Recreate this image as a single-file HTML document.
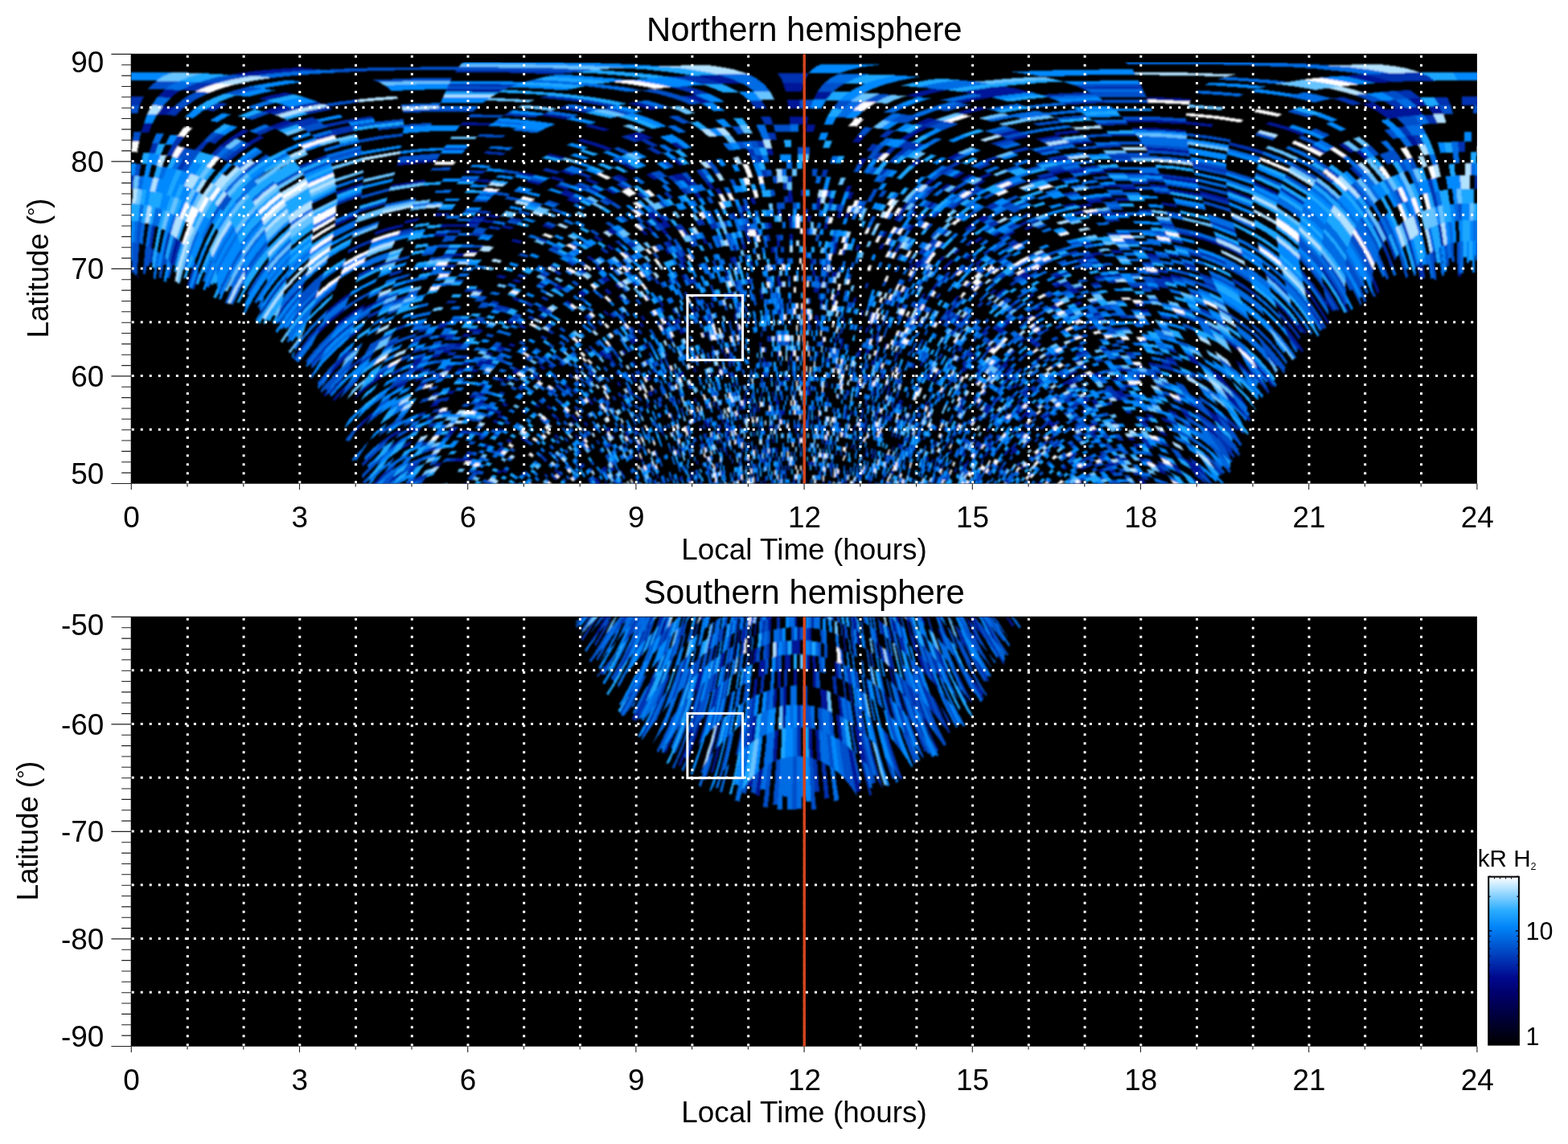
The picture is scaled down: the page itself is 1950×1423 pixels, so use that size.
<!DOCTYPE html>
<html lang="en"><head><meta charset="utf-8"><title>Northern and Southern hemisphere</title>
<style>
html,body{margin:0;padding:0;background:#fff;}
body{width:1950px;height:1423px;overflow:hidden;}
svg{display:block;}
text{font-family:'Liberation Sans', Arial, Helvetica, sans-serif;font-size:36.9px;fill:#000;}
.t{font-size:41.8px;}
</style></head><body>
<svg width="1950" height="1423" viewBox="0 0 1950 1423">
<rect width="1950" height="1423" fill="#fff"/>
<defs><filter id="bl" x="0" y="0" width="1950" height="1423" filterUnits="userSpaceOnUse"><feGaussianBlur stdDeviation="0.85"/></filter><clipPath id="c1"><rect x="163.3" y="77.4" width="1673.6" height="524.1"/></clipPath><clipPath id="c2"><rect x="163.3" y="767.4" width="1673.6" height="534.1"/></clipPath></defs>
<text class="t" x="1000.3" y="51.4" text-anchor="middle">Northern hemisphere</text>
<rect x="162.7" y="66.8" width="1674.2" height="534.9" fill="#000"/>
<g clip-path="url(#c1)"><g filter="url(#bl)" shape-rendering="crispEdges"><path fill="#001498" d="M581,604.5l3-3.5-6-.5-3.5,4zM621,589.5l3-3.5-5-2-3,3zM546.5,580.5l3.5-5.5-8,2-4,5.5zM628.5,588.5l3-3-5-2.5-2.5,3zM585.5,574.5l3-4-6.5-.5-3,4zM579,574l3-4-6.5-.5-3.5,4zM572,573.5l3.5-4-7,0-3.5,4zM496,593l5.5-8-13,8.5-7,10.5 7.5-6zM667,604.5l2.5,0-3.5-3.5-2.5,2.5zM470.5,599.5l8-12-9,8-5,5-6.5,4-3,0-.5,0 1,0 3.5,0 6,0zM606.5,557.5l3-3.5-6-1.5-3,3.5zM563,539.5l3.5-4.5-8,.5-3,4.5zM508.5,554l4.5-6.5-11.5,6-5,7zM634,551l3-3-5.5-2.5-2.5,3zM494,553l5-7-13,8-5.5,8.5zM696,593.5l2-2.5-3-4-2.5,2.5zM692.5,589.5l2.5-2.5-3.5-3.5-2.5,2zM624,537.5l2.5-3-5.5-2-2.5,3zM651.5,548.5l3-3-5-3-2.5,3zM515,533.5l4-5.5-10.5,4.5-4.5,6.5zM618.5,527l2.5-3-6-2.5-2.5,3.5zM539,522l3.5-5-9.5,2-3.5,5.5zM496.5,538.5l4.5-7-12.5,7.5-5.5,8zM624,520.5l2.5-3-5.5-2-3,3zM621,515.5l3-3.5-6-2-3,3zM615,513l3-3-6.5-2-3,3.5zM608.5,511.5l3-3.5-6-1.5-3,3zM716,589l2-2-3-4-2,2zM544,504.5l3.5-5-9.5,2-3.5,5zM601.5,501.5l3-3.5-7-1.5-3,3.5zM629.5,506l2.5-3-5.5-2.5-3,3zM590.5,495.5l3-4-7-1-3,4zM693,546.5l2.5-2.5-4-4-2.5,2.5zM600.5,493l3-3.5-7-1.5-3,3.5zM562.5,490l3.5-4-8.5,0-3.5,4.5zM740.5,602l2.5-2-2.5-4.5-2.5,2zM745,604.5l2.5-1.5-2.5-4.5-2,1.5zM743,600l2-1.5-2.5-4.5-2,1.5zM735,587l2.5-2-3-4.5-2,2zM602.5,481l3-3-7-1.5-3,3.5zM462,518.5l5.5-9-8.5,7-9.5,8.5-8,12.5 11-11zM669,507.5l3-2.5-5-3.5-2.5,2.5zM529.5,479l3.5-5-10.5,3-3.5,5zM693.5,523.5l2.5-2-4-4-2.5,2zM754,604.5l2-1.5-2-4.5-2.5,1.5zM718,546l2.5-1.5-3.5-4.5-2.5,2zM683.5,509.5l2.5-2-4.5-4-2.5,2.5zM624.5,475l3-3-6.5-2-3,3zM526,472l3.5-5-11,3-3.5,5zM503.5,480l3.5-6-12,5.5-4,6.5zM727,553l2-2-3-4-2.5,1.5zM634,474.5l2.5-3-6-2.5-3,3zM592,463.5l3-3.5-7.5-1.5-3,4zM576,462l3-4-8.5,0-3,4zM751,587.5l2.5-1.5-2.5-5-2.5,2zM712.5,529.5l2.5-2-3.5-4-2.5,2zM562,458l3-4-9.5,.5-3,4zM753.5,586l2-1.5-2.5-5-2,1.5zM598,456.5l3-3.5-7.5-1.5-3,3.5zM582,454.5l3-4-8-.5-3,4zM525.5,460l3.5-5-11,3-3.5,5zM730.5,543l2.5-1.5-3-4.5-2.5,1.5zM717.5,525.5l2-2-3.5-4.5-2.5,2zM713.5,521l2.5-2-3.5-4-2.5,2zM642,466l3-3-6-2.5-3,2.5zM608.5,454.5l3-3.5-7.5-1.5-3,3.5zM601,453l3-3.5-7.5-1.5-3,3.5zM645,463l3-2.5-6.5-3-2.5,3zM611.5,451l3-3-7.5-2-3,3.5zM521.5,453l3-5-11,3.5-3.5,5.5zM762,586l2.5-1.5-2.5-5-2,1.5zM729,530.5l2.5-2-3.5-4.5-2.5,2zM670.5,473.5l2.5-2.5-5-3.5-3,2.5zM665,470l3-2.5-6-3.5-2.5,2.5zM546,444l3-4.5-10.5,1.5-3,4.5zM524.5,448l3.5-4.5-11.5,3-3,5zM474.5,470l4-6.5-15,9.5-4.5,7.5zM459,480.5l4.5-7.5-8,6-9,7.5-6,10 10-9zM773,603.5l2-1.5-2-4.5-2,1zM610,443l3-3.5-8-1.5-3,3zM558.5,438.5l3.5-4-10,.5-3,4.5zM740,536l2.5-2-3-4.5-2.5,2zM552,435l3-4-10,1-3,4.5zM773,591l2-1.5-2-4.5-2,1zM574,430.5l3-3.5-9-.5-3,4zM705,483.5l2.5-2-4.5-4.5-2.5,2.5zM676,460l2.5-2.5-5.5-3.5-2.5,2.5zM626,435.5l3-3-7.5-2.5-3,3zM428.5,485l6-10.5-11,11-6.5,7.5-3,3.5 1.5,3 .5-.5 6.5-7.5zM755,538.5l2.5-1.5-3-4.5-2,1.5zM639,432l2.5-3-7-2.5-3,3zM583,419.5l3-3.5-9-1-3,4zM554.5,419.5l3-4-10.5,1-3,4zM763,546.5l2-1.5-2.5-4.5-2.5,1.5zM757.5,537l2-1.5-2.5-5-2.5,2zM735.5,504l2.5-1.5-3.5-5-2.5,2zM598,413.5l3-3.5-9-1.5-3,3.5zM589,412l3-3.5-9-.5-3,3.5zM424.5,475l5.5-10-21.5,23.5 2,2.5 1-1.5 7-8zM774.5,558.5l2.5-1.5-2.5-5-2,1.5zM699.5,456l2.5-2-4.5-4-3,2zM553,408l3-4-11,1-3,4.5zM404.5,493.5l8.5-15-7.5,8.5-3,4.5 1.5,2.5zM720.5,471l2.5-1.5-4.5-4.5-2.5,2zM757.5,510l2.5-2-3-4.5-2.5,1.5zM751,500l2.5-1.5-3-5-2.5,2zM792,572.5l2-1-2-5-2,1zM779,542.5l2-1-2.5-5-2,1.5zM736,474.5l2.5-1.5-4-5-2.5,2zM652,409.5l2.5-3-7-3-3,3zM637,403.5l3-3-8-2.5-2.5,3zM429.5,447l4.5-8-9.5,8.5-11.5,11.5-6,12 12-13.5zM805.5,601.5l2-1-2-5-2,1zM798.5,575l2-1-2-5-2,1zM794.5,565l2-1-2-5-2,1zM737,466.5l3-2-4-4.5-3,1.5zM790,536l2-1.5-2-5-2.5,1.5zM777.5,510.5l2-1.5-2.5-5-2.5,1.5zM686,407l3-2-6.5-4-2.5,2.5zM810.5,580.5l2-1-2-5-2,1zM676,397l3-2.5-7-3.5-3,2.5zM817.5,595l2-1-1.5-5.5-2,1zM770,481l2.5-1.5-3-5.5-2.5,2zM644.5,375l3-3-8-2.5-3,2.5zM747.5,444l2.5-1.5-4-5-2.5,2zM678,386l3-2.5-7-4-3,2.5zM805.5,540l2-1.5-2-5-2,1zM781,488l2.5-1.5-3-5-2.5,1.5zM768.5,467.5l2.5-1.5-3.5-5-2.5,1.5zM754,447.5l2.5-2-3.5-5-3,2zM750,442.5l3-2-4.5-5-2.5,2zM464.5,380.5l3-5.5-16.5,8.5-2.5,6zM786,492l2.5-1.5-3-5-2,1zM760.5,450.5l2.5-1.5-3.5-5-3,1.5zM451,383.5l3-5.5-16,10-17.5,13-3.5,7.5 18-14zM759.5,444l2.5-1.5-4-5-2.5,1.5zM645.5,352l3-2.5-9-3-3,3zM627,347l3-3.5-10.5-2-3,3zM427,387.5l2.5-6.5-15.5,12-8,7.5-9,9-4,9 9.5-10 8.5-8zM805.5,507.5l2.5-1-2.5-5.5-2,1.5zM790,476l2.5-1.5-2.5-5.5-2.5,1.5zM732,399l3-2-5.5-5-3,2zM709,380l3-2-6.5-4.5-3,2.5zM818.5,533l2.5-1-2-5.5-2.5,1zM677,357l3-2.5-8-4-3,2.5zM539,334.5l2.5-4-14,2-2.5,4.5zM824.5,542.5l2-1-1.5-5.5-2.5,1zM776,441.5l3-1.5-3.5-5.5-3,1.5zM695,362.5l3-2.5-7-4-3,2.5zM435,368.5l2.5-6-15,10.5-15.5,13-3,7 16-13.5zM808,493.5l2.5-1.5-2.5-5.5-2.5,1.5zM789,456l2.5-1.5-3.5-5.5-2.5,1.5zM698,360l3.5-2-7.5-4.5-3,2.5zM845.5,598.5l2-.5-1-5.5-2,1zM821.5,519l2-1-2-5.5-2,1zM810.5,492l2-1-2-5.5-2.5,1zM805,474.5l2.5-1-2.5-5.5-2.5,1zM784,437l3-1.5-3.5-5.5-3,1.5zM724,369.5l3-2-6-5-3,2.5zM576.5,318.5l3-4-13,0-3,4zM841.5,565l2-.5-1.5-5.5-2,1zM807.5,473.5l2.5-1.5-2.5-5.5-2.5,1.5zM754.5,392.5l3-1.5-5-5-3,1.5zM727,367.5l3.5-2-6.5-5-3,2zM592.5,315.5l3-3.5-13-1-3,3.5zM786,428.5l2.5-1.5-3.5-5.5-2.5,1.5zM762,396l3-1.5-5-5-2.5,1.5zM788.5,427l3-1.5-3.5-5.5-3,1.5zM691,335.5l3.5-2.5-8.5-4-3,2.5zM812.5,464.5l2.5-1.5-2.5-5.5-2.5,1.5zM858.5,599l2-1-1-5-2,.5zM775,396.5l3-1.5-4.5-5.5-3,2zM859.5,593l2-1-1.5-5-2,.5zM803.5,434l2.5-1.5-3-5.5-3,1.5zM843,522l2-1-1.5-5.5-2.5,1zM835.5,499.5l2.5-1-2-5.5-2.5,1zM757,366.5l3.5-2-5.5-5.5-3.5,2zM727,340.5l3-2-7-5-3.5,2zM646.5,303l3.5-3-11.5-3-3,3zM554,293.5l3-4-16,1-2.5,4zM825,465l2.5-1-2.5-5.5-2.5,1zM868.5,604.5l2,0-1-4-2,1zM834,481l2.5-1-2-5.5-2.5,1zM798,407.5l3-1.5-3.5-5.5-3,1.5zM773.5,374l3-2-5-5.5-3,2zM752.5,352l3-2-6-5-3,1.5zM868.5,595l2-.5-1.5-5.5-2,1zM855.5,541l2.5-1-1.5-5.5-2.5,1zM755.5,350l3.5-1.5-6-5.5-3.5,2zM577.5,282l3-3.5-15.5,0-3,3.5zM562,282l3-3.5-16,.5-2.5,4zM377,357l2-6.5-15,16-8.5,9.5-8.5,12-3.5,10.5 9.5-13.5 8.5-11zM871.5,600l1.5-1-1-5-1.5,.5zM867,578.5l2-1-1.5-5.5-2,1zM858,540l2-.5-1.5-5.5-2,.5zM832.5,462l2.5-1-2.5-6-2.5,1.5zM800,399l3-1.5-3.5-5.5-3,1.5zM769.5,359.5l3.5-2-5.5-5.5-3,2zM746.5,337.5l3.5-2-6.5-5-3.5,2zM636,285.5l3.5-3-13-2.5-3.5,3zM595.5,279.5l3-3.5-15-1-3,3.5zM827.5,443.5l2.5-1-2.5-5.5-2.5,1zM736.5,325l3.5-2-7.5-5-3.5,2zM613,277.5l3-3-14.5-1.5-3,3zM500,282.5l2-4-17.5,4-17.5,5.5-1.5,4.5 17.5-5.5zM865,549.5l2-.5-1.5-5.5-2,.5zM601.5,273l3-3.5-15-1-3,3.5zM519.5,275l2.5-4-18,3.5-2,4zM844,470.5l2.5-1-2-6-2.5,1zM619,271.5l3.5-3-14.5-2-3.5,3zM556.5,268l3-3.5-17.5,1-2.5,3.5zM862,520.5l2.5-1-1.5-5.5-2.5,.5zM846.5,469.5l2.5-1-2-6-2.5,1zM685.5,285l3.5-2.5-11.5-4.5-3.5,3zM872.5,553l2-1-1.5-5.5-2,1zM849,468.5l2.5-1-2-6-2.5,1zM827.5,416l2.5-1-3-6-2.5,1zM870.5,535.5l2.5-.5-1.5-6-2,1zM864.5,501l2-1-1.5-5.5-2.5,1zM830,408l3-1.5-3-6-3,1.5zM879.5,556.5l2-1-1-5.5-2,1zM761,311.5l3.5-1.5-7-6-3.5,2zM746,300.5l4-2-8-5.5-4,2zM876,528l2-1-1.5-5.5-2,.5zM823,381.5l3-1-3.5-6.5-3,1.5zM444.5,269l1-4.5-29,13-1,4.5zM884,555l2-.5-1.5-5.5-2,.5zM879,532.5l2.5-.5-1.5-5.5-2,.5zM878,527l2-.5-1-6-2.5,1zM838.5,404.5l2.5-1-2.5-6-3,1zM881.5,532l2-.5-1-6-2.5,1zM863.5,463l2.5-.5-1.5-6-2.5,.5zM846.5,415.5l3-1-3-6-2.5,1zM841,403.5l3-1-2.5-6-3,1zM882.5,525.5l2-.5-1.5-5.5-2,.5zM849.5,414.5l2.5-1-2.5-6-3,1zM761,292.5l4-1.5-8-6-3.5,2zM765,291l4-2-8-6-4,2zM892,552.5l2-.5-1-5.5-2,.5zM855,405.5l3-1-2.5-6-3,1zM716.5,253.5l4.5-2.5-12.5-5-4,2.5zM610,227l3.5-3-19.5-1.5-3.5,3.5zM527.5,227.5l2-4-42.5,6.5-1.5,3.5zM708.5,246l4.5-2.5-13.5-5-4,2.5zM895,534l2.5-.5-1-6-2.5,.5zM713,243.5l4-2.5-13-5-4.5,2.5zM670,230l4.5-3-17-3.5-4,2.5zM903,567l2-.5-1-5.5-2,.5zM902,561.5l2-.5-1-5.5-2,.5zM892,504.5l2-.5-1-5.5-2.5,.5zM884,469.5l2.5-.5-1.5-6-2.5,.5zM704,236l4.5-2.5-14.5-4.5-4,2.5zM451,231l.5-4-33.5,11.5 .5,4.5zM902.5,549.5l2-.5-1-5.5-2,.5zM898.5,527l2-.5-1-5.5-2,.5zM897.5,521.5l2-.5-1-6-2,.5zM861.5,389.5l3-1-2.5-6.5-3,1zM802,293l4-1.5-6-6.5-4,1.5zM661.5,220.5l4.5-3-18.5-3.5-4,3zM911.5,599l1.5-.5-.5-5.5-2,.5zM903.5,543.5l2-.5-1-5.5-2,.5zM875.5,419.5l3-.5-2-6-3,.5zM698.5,226l4.5-2.5-15.5-4.5-4.5,2.5zM905.5,543l2-.5-1-5.5-2,.5zM904.5,537.5l2-.5-.5-6-2.5,.5zM902.5,526l2.5-.5-1-6-2,.5zM885.5,443.5l2.5-.5-2-6.5-2.5,1zM850.5,349l3.5-1-3.5-6.5-3.5,1zM831,316.5l3.5-1.5-4.5-6.5-3.5,1.5zM810,290l4-1.5-6-6.5-4,1.5zM743,240l4.5-2.5-12-5.5-5,2zM906,531l2-.5-1-5.5-2,.5zM893.5,467l2.5-.5-1.5-6-2,.5zM886,436.5l3-.5-2-6-2.5,.5zM881,418l2.5-.5-1.5-6.5-3,1zM875,399.5l3-1-2.5-6-2.5,.5zM865.5,374l3-1-2.5-6.5-3,1zM808,282l4-1.5-6.5-6.5-4,1.5zM542,201.5l2-3.5-25,1.5-24.5,3.5-1,3.5 24-3zM894.5,460.5l2.5-1-1-6-2.5,1zM850.5,334l3.5-1-4-7-3.5,1.5zM842.5,320.5l3.5-1-4-6.5-3.5,1zM834,307.5l3.5-1.5-4.5-6.5-4,1zM763,241.5l5-2-11-6-5,2zM740,229.5l5-2-13.5-6-4.5,2.5zM712.5,218.5l4.5-2.5-16-5-4.5,2.5zM850,326l3.5-1-3.5-6.5-4,1zM827.5,292.5l4-1-5-7-4.5,1.5zM816,279l4.5-1.5-6.5-6.5-4.5,1.5zM809.5,272.5l4.5-1.5-7-7-4.5,2zM919,580.5l2-.5-1-5.5-2,.5zM905.5,489l2.5-.5-1-6-2.5,.5zM826.5,284.5l4-1.5-6-6.5-4,1zM814,271l4.5-1.5-7-7-4.5,1.5zM912.5,517.5l2.5-.5-1-5.5-2.5,.5zM898,440l2.5-.5-1-6-3,.5zM830.5,283l4-1-5.5-7-4.5,1.5zM824.5,276.5l4.5-1.5-6.5-7-4,1.5zM915.5,523l2.5-.5-1-5.5-2,0zM907,470l2.5-.5-1.5-6-2,.5zM902,446l2.5-1-1.5-6-2.5,.5zM698.5,198.5l5-2.5-20-5-5,3zM919.5,534l2-.5-1-5.5-2,.5zM911.5,481.5l2.5-.5-1-6-2.5,.5zM776.5,225.5l5.5-1.5-11.5-7-5.5,2zM915.5,493l2.5-.5-1-6-2,.5zM911.5,469l2.5-.5-1-6-2.5,.5zM920.5,510l2.5-.5-1-5.5-2.5,0zM911,450.5l2.5-.5-1.5-6.5-2.5,.5zM930.5,578l2-.5-.5-5.5-2,.5zM924.5,521.5l2-.5-1-6-2,.5zM923,509.5l2-.5-1-5.5-2,.5zM787,211.5l5.5-2-12.5-7-6,2zM935.5,588.5l2-.5-.5-5.5-2,.5zM925.5,497l2.5-.5-1-5.5-2,0zM876.5,303.5l3.5-1-3.5-7-4,1zM813.5,224l5.5-1.5-10-7.5-5.5,2zM756,187.5l6.5-2.5-18.5-6.5-6,2.5zM738,181l6-2.5-20.5-6-6.5,2.5zM940,599l2-.5-.5-5.5-2,.5zM918,416.5l2.5-.5-1-6.5-3,.5zM914,397l3-.5-1.5-6.5-3,.5zM902,350.5l3.5-.5-2-7-3.5,1zM608.5,156.5l4.5-3.5-37.5-1-3,3.5zM931,484l2.5-.5-1-6-2.5,.5zM911,370.5l3-.5-1.5-7-3.5,.5zM903.5,343l3.5-.5-2.5-7-3.5,1zM936,507.5l2-.5-.5-6-2,.5zM844,225.5l5.5-1-8-8-6,1.5zM944,570.5l2-.5-.5-5.5-2,0zM914,356l3-1-1.5-6.5-3.5,.5zM868.5,247.5l5-1-5.5-8-5.5,1.5zM856.5,232l5.5-1-7-8-5.5,1.5zM849.5,224.5l5.5-1.5-7.5-7.5-6,1zM921.5,375.5l3-.5-1-6.5-3.5,.5zM909.5,327.5l3.5-.5-2-7-3.5,.5zM751,163l7.5-2-24.5-6.5-7.5,2.5zM950,603l2,0-.5-5.5-2,0zM943,512.5l2.5-.5-.5-6-2.5,.5zM845,206l6-1-9-8-6.5,1.5zM797,175l7-1.5-17-7.5-7.5,2zM705,148.5l7.5-2.5-16.5-3-18.5-2-6.5,2.5 17.5,2.5zM951.5,597.5l2,0-.5-6-2,.5zM950,575l2,0-.5-5.5-2,0zM912.5,312l4-.5-2-7.5-4,1zM804,173.5l8-2-17-7.5-8,2zM946,494l2.5,0-.5-6-2.5,0zM883.5,235.5l5.5-.5-5-8-5.5,1zM328.5,171l-5.5-2.5-16.5,9.5 5.5,2.5zM953.5,563.5l2,0-.5-6-2,.5zM930,353.5l3.5-.5-1.5-7-3,.5zM893.5,242.5l5.5-.5-4.5-8-5.5,1zM845.5,186l7-1-11-8.5-8,1.5zM363.5,152l-6.5-3-21.5,8 6.5,3zM223,299l-3.5-3-4,14-4,17 3,4 4.5-18zM945,432l2.5,0-.5-6.5-3,.5zM924,310.5l4-.5-2-7.5-4,.5zM957.5,563l2,0-.5-5.5-2,0zM955.5,534.5l2,0 0-6-2,0zM949.5,450.5l2.5,0-1-6.5-2.5,.5zM932.5,331.5l4-.5-1.5-7-4,.5zM310,163l-7-2.5-15.5,10 6.5,2zM294,172.5l-6.5-2-14,10.5 6.5,2zM961,602l2,0-.5-5.5-1.5,0zM959.5,563l2,0-.5-6-2,.5zM957.5,534.5l2.5-.5-.5-5.5-2,0zM956,505l2,0 0-6-2.5,0zM960.5,551.5l2-.5 0-5.5-2,0zM960,534l2,0-.5-6-2,.5zM946,372.5l3.5-.5-1-7-3,.5zM923.5,263.5l5-.5-2.5-8-5,1zM620.5,115l6.5-3.5-35-.5-36.5-.5-1.5,3.5zM361.5,133.5l-8.5-3-14,4-12.5,4 8.5,2.5zM963.5,574l2,0 0-6-2,.5zM963.5,562.5l1.5,0 0-5.5-2,0zM960.5,510.5l2.5,0-.5-6-2,0zM959.5,492.5l2.5,0-.5-6-2,0zM953,405.5l2.5-.5-.5-6.5-2.5,.5zM809,137l11.5-2-13.5-4.5-15-4-12,2.5 15.5,3.5zM965,562.5l2,0 0-6-2,.5zM957.5,424.5l2.5,0-.5-6.5-2.5,0zM940.5,293.5l4-.5-1.5-7.5-4,.5zM968.5,601.5l2,0 0-5.5-2,0zM968,579.5l2-.5-.5-5.5-2,0zM966,533.5l2,0 0-6-2,.5zM965,504.5l2-.5 0-6-2.5,.5zM964,486.5l2-.5 0-6-2.5,.5zM935.5,254l5,0-2-8.5-5.5,.5zM367,117.5l-12-2.5-18,3.5-16,4.5 11.5,2 16-3.5zM970.5,604.5l2,0 0-3-2,0zM967,504l2,0 0-6-2,0zM962.5,424l3,0-.5-6.5-2.5,0zM968.5,486l2.5,0-.5-6-2,0zM968,474l2.5,0-.5-6.5-2.5,.5zM966.5,443l2.5,0-.5-6.5-2.5,0zM972,516l2-.5 0-5.5-2.5,0zM959.5,314.5l4-.5-1-7-3.5,0zM956,284.5l4-.5-1-7.5-4.5,0zM872,129l14-1.5-9.5-4.5-11.5-5-16.5,1.5 13,4.5zM976,590l1.5,0 0-5.5-2,0zM974,515.5l2,0 0-6-2,.5zM969,391l3,0-.5-7-3,.5zM967,357l3,0 0-7-3.5,0zM966.5,350l3.5,0-.5-7-3.5,0zM173.5,345l-3-2-.5,2zM977,562l2,0 0-6-2,0zM975,473.5l2.5,0 0-6-2.5,0zM966.5,306.5l4,0-.5-7.5-4,0zM977.5,473.5l2.5,0-.5-6-2,0zM954.5,192.5l7.5,0-2-9-8,0zM402.5,87l-14.5-1.5-16.5-1.5-15,1-13.5,1-12,1-11,1-19,2.5-15.5,2.5 28.5,1.5 17-2 20-2 23.5-2zM216,133l-13.5-1-7.5,10.5 12,.5zM981.5,604.5l2,0 0-3.5-2,0zM979.5,455l2.5,0 0-6.5-2.5,0zM898,104.5l24.5-1-12-5.5-8-2.5-9.5-3-32.5,1.5 12,2.5 10,2.5 8.5,2.5zM225.5,112l-20-1-10,10 16.5,1 6-5zM189.5,153.5l-10.5-.5-3.5,11.5 9.5,.5zM982.5,509.5l2.5,0 0-6-2.5,0zM985.5,601l1.5,0 0-5.5-1.5,0zM984.5,442.5l2.5,0 0-6.5-3,0zM982,298.5l4,0 0-7.5-4,0zM981.5,275.5l4.5,0-.5-7.5-4.5,0zM980.5,252l5,0 0-8.5-5.5,0zM980,243.5l5.5,0-.5-8-5.5,0zM982.5,154.5l10.5,0 .5-10-12,0zM980.5,134.5l14,0 1-10.5-16.5,0zM977,113.5l20,0 3-11-26.5,0zM989,538.5l2,.5 .5-6-2.5,0zM989,533l2.5,0 0-6-2.5,0zM993,154.5l10.5,0 2-10-12,0zM992.5,404l2.5,0 .5-7-3,0zM1002,164l9.5,.5 2.5-10-10.5,0zM1011.5,124l16,.5 9-10.5-19.5-.5zM1789.5,131l-14,1 7,10.5 12.5-1zM1816.5,339.5l-3.5,.5 .5,3.5 3,0 0-.5zM1003.5,276l4.5,0 1-8-5,0zM1694.5,92.5l-29,2 13,2 11.5,2.5 10.5,2.5 8.5,2 23.5-1.5-16-4.5-10-2.5zM1766.5,121.5l-16,1.5 11.5,9.5 13.5-.5zM997.5,539l2,0 0-6-2,0zM998.5,479.5l2.5,0 0-6-2,0zM1762,132.5l-13.5,1.5 10.5,10 11.5-1zM998.5,601l2,0 0-5.5-2,0zM999.5,539l2,0 .5-6-2.5,0zM1000,527.5l2,0 0-6-2,0zM1001,486l2,0 .5-6-2.5-.5zM1008,328.5l3.5,0 .5-7-3.5,0zM1014.5,260.5l4.5,0 1.5-8-5,0zM1015.5,252.5l5,0 1.5-8-5,0zM1748.5,134l-12.5,1 12,10 11-1zM1010,343l3.5,0 .5-7-3.5,0zM1736,135l-12,1.5 13,10 11-1.5zM1005,492l2.5,0 0-6-2,0zM1012,364l3,0 .5-6.5-3-.5zM1126,119.5l15.5,1.5 16-4.5 20-4.5-17.5-2-19,4.5zM1707,127l-13,2 18,9 12-1.5zM1724,136.5l-12,1.5 14.5,10 10.5-1.5zM1756.5,168.5l-8.5,1.5 8.5,11.5 7.5-1zM1004,604.5l1.5,0 .5-3-2,0zM1004.5,579l2,0 0-5.5-2,0zM1012.5,398l3,0 .5-6.5-3,0zM1015,364l3,.5 1-7-3.5,0zM1016.5,350.5l3,0 1-7-3.5,0zM1024.5,284.5l4,.5 1.5-7.5-4-.5zM1030.5,253.5l5,.5 2-8.5-5,0zM1060.5,176.5l8,1 7.5-9-9-1zM1008.5,527.5l2,.5 0-6-2,0zM1010,486l2.5,.5 0-6-2-.5zM1015.5,398l2.5,.5 .5-7-2.5,0zM1193,114l15,2.5 24-3.5 29-3.5-14-2.5-15.5,1.5-14,2zM1008.5,579l2,.5 0-5.5-2-.5zM1020,378.5l3,0 1-6.5-3.5-.5zM1024.5,337l3.5,0 1-7-3.5-.5zM1208,116.5l13.5,2.5 24-3.5 27.5-3-12-3-29,3.5zM1010.5,579.5l2,0 0-5.5-2,0zM1027,344l3.5,.5 1-7-3.5-.5zM1034,301l4,0 1.5-7.5-4,0zM1041,270.5l4.5,.5 2-8-4.5-.5zM1050.5,238.5l5.5,.5 3.5-8-5.5-.5zM1066,205l6.5,1 5.5-8.5-7-1zM1183,126.5l12.5,2 17.5-4 20.5-3.5-12-2-20.5,3.5zM1221.5,119l12,2 24-3 27-3-11.5-2.5-27.5,3zM1035,316l4,0 1.5-7-4-.5zM1036.5,308.5l4,.5 1.5-7.5-4-.5zM1053,247l5,1 3.5-8.5-5.5-.5zM1016.5,528.5l2.5,0 0-6-2,0zM1034,345l3.5,0 1-7-3.5-.5zM1050,271.5l4.5,.5 2.5-8-4.5-.5zM1136.5,155l9.5,1.5 18.5-8-10-2zM1018.5,534.5l2,0 .5-6-2,0zM1037.5,345l3,.5 1.5-7-3.5-.5zM1118.5,173.5l8,1.5 13-8.5-8.5-1.5zM1131,165l8.5,1.5 15.5-8-9-2zM1188,140.5l10,2 14-3.5 16-3.5-10.5-2.5-15.5,3.5zM1425.5,120.5l1.5,3.5 53,2.5 1.5-3.5zM1026.5,481.5l2.5,.5 .5-6.5-2.5,0zM1040.5,366.5l3,.5 1-7-3-.5zM1691,185.5l-5.5,2.5 12.5,11 5.5-2.5zM1024,546.5l2,0 .5-5.5-2-.5zM1671,177.5l-6,2.5 15,10.5 5.5-2.5zM1037.5,426.5l2.5,0 1-6-3-.5zM1063.5,312l3.5,.5 2.5-7-4-1zM1578.5,151.5l-4.5,3 24,6.5 21,7.5 5-3-21.5-7.5zM1029.5,553l2.5,0 0-5.5-2-.5zM1046.5,401.5l3,.5 1-6.5-2.5-.5zM1038.5,483l2,.5 1-6.5-2.5,0zM1044.5,433.5l2.5,.5 1-6-2.5-.5zM1045.5,427.5l2.5,.5 1-6.5-2.5-.5zM1031.5,581.5l2,.5 .5-6-2,0zM1034,553.5l2,0 .5-5.5-2-.5zM1033.5,582l2,0 .5-5.5-2-.5zM1060.5,376.5l3,.5 2-6.5-3.5-1zM1239,167.5l7,2.5 24-5.5-6.5-3zM1397.5,148.5l3,3 37,1 37.5,2 0-3.5-39-2zM1475,151l0,3.5 32,3.5 1.5-3.5zM1177.5,197l6.5,2 13.5-7.5-6.5-1.5zM1042,531.5l2,0 1-5.5-2.5-.5zM1095.5,294.5l4,1 3.5-7-4-1zM1252.5,172.5l6,2.5 24-5.5-6.5-2.5zM1092.5,309.5l4,1 3.5-7-4-1zM1111.5,274l4.5,1 5-7.5-4.5-1zM1121.5,259l4.5,1.5 6-7.5-4.5-1zM1148.5,229.5l5,1.5 9-7-5.5-2zM1309,165l5.5,3 29-3-4.5-3.5zM1406.5,158.5l2.5,3.5 33,1 33.5,2.5-.5-3.5-34.5-2.5zM1069.5,392l3,.5 1.5-6.5-3-.5zM1288,172.5l5.5,2.5 26-4-5-3zM1042.5,589l2,0 .5-5.5-2,0zM1050,521l2,.5 .5-6-2-.5zM1050.5,515l2,.5 1-6-2-.5zM1129.5,270l4.5,1 6-7-4.5-1.5zM1183.5,220l5,2 11.5-7-5.5-2zM1066.5,444l2.5,.5 1.5-6-2.5-.5zM1068,438l2.5,.5 1-6.5-2.5-.5zM1169,235.5l5,1.5 9.5-6.5-5-2zM1329.5,177l4.5,3 26.5-2.5-4-3zM1047,604.5l2,0 .5-3.5-2,0zM1057,516.5l2.5,0 .5-5.5-2-.5zM1061.5,487l2.5,.5 1-6-2.5-.5zM1076,413.5l3,.5 1.5-6.5-3-.5zM1128,286.5l4,1 5.5-7-4.5-1zM1151,258l4.5,1.5 7-7-4.5-1.5zM1194,223.5l5,2 12-6.5-5.5-2zM1066,475.5l2,.5 1.5-6-2.5-.5zM1080.5,407.5l2.5,1 2-6.5-3-.5zM1143,273.5l4,1.5 6.5-7-4.5-1.5zM1179,239l5,1.5 9.5-6.5-5-2zM1065,494l2.5,.5 1-6-2.5-.5zM1070.5,464l2.5,.5 1-6-2.5-.5zM1075.5,439.5l2.5,.5 1.5-6-2.5-.5zM1216,221l5,2 13.5-6-5.5-2zM1423.5,183l2.5,4 26.5,1.5 27,2.5-1-3.5-27.5-3zM1707,342l-.5,7 4,10 2,5.5 3-1.5 0-.5-4.5-11.5zM1058,557.5l2,.5 1-5.5-2-.5zM1060.5,540.5l2,.5 .5-5.5-2-.5zM1061,535l2,.5 1-6-2-.5zM1078,440l2.5,1 1.5-6.5-2.5-.5zM1209.5,229.5l5,2 11.5-6.5-5-2zM1061.5,546.5l2,.5 1-5.5-2-.5zM1089,409.5l2.5,1 2-6.5-3-.5zM1307,199l4.5,3 20.5-3.5-4-3zM1088,423l2.5,.5 2-6-2.5-1zM1189,252.5l4.5,1.5 9.5-6.5-4.5-1.5zM1069,525l2.5,.5 1-6-2.5-.5zM1083,454l2.5,1 1.5-6-2.5-1zM1085.5,455l2.5,.5 1.5-6-2.5-.5zM1110.5,374l3,1 3-6.5-3-1zM1129.5,335l3,1 4-6.5-3.5-1zM1559.5,226l-.5,4 31,14.5 .5-4zM1076.5,508.5l2.5,.5 1-5.5-2.5-.5zM1082.5,479.5l2,.5 1.5-6-2.5-.5zM1102,406.5l2.5,.5 2.5-6-3-1zM1136.5,329.5l3.5,1 4-6.5-3.5-1zM1306,214.5l4,3 18.5-4-4-2.5zM1073.5,538l2.5,.5 1-6-2.5-.5zM1074.5,532l2.5,.5 1-5.5-2.5-.5zM1086,474l2.5,.5 1.5-5.5-2.5-1zM1114,382l3,1 3-6.5-3-1zM1140,330.5l3.5,1.5 4.5-6.5-4-1.5zM1293,221.5l4.5,2.5 17-4-4.5-2.5zM1328.5,213.5l4,3 19.5-2.5-4-3zM1369,209l3.5,3 22-1-3-3.5zM1084.5,492.5l2.5,.5 1-6-2-.5zM1093,457l2.5,.5 1.5-6-2.5-.5zM1099.5,432.5l2.5,1 2-6-2.5-1zM1352,214l3.5,3 20.5-1.5-3.5-3.5zM1088,487l2.5,1 1.5-6-2.5-.5zM1419.5,214.5l2.5,3.5 22.5,1.5-2-3.5zM1075.5,567.5l2,.5 1-5.5-2-.5zM1444.5,219.5l2,3.5 43,6.5-1-4zM1526,234.5l.5,4 31.5,12 0-4zM1086.5,517.5l2,.5 1.5-5.5-2.5-1zM1199.5,285l3.5,2 8-6-4-2zM1215,273l4,2 9-5.5-4-2zM1088.5,518l2.5,.5 1-5.5-2-.5zM1166.5,324l3.5,1.5 5.5-6-3.5-1.5zM1219,275l4.5,2 8.5-5.5-4-2zM1114.5,430.5l3,1 2-6-2.5-1zM1117,424.5l2.5,1 2.5-6-3-1zM1126.5,400.5l3,1 2.5-6.5-3-1zM1369.5,230l3,3.5 19-1-3-3.5zM1429.5,229l2,3.5 21,2-2-4zM1492,237l1,4 35.5,10-1-4zM1083.5,569.5l2,1 1-6-2-.5zM1113,443.5l3,1 2-6-3-1zM1144.5,370.5l3,1 3.5-6-3-1zM1184.5,314.5l3.5,2 6-6-3.5-2zM1391.5,232.5l3,3 19.5,0-2.5-3.5zM1452.5,234.5l2,4 40,7-1.5-4.5zM1643,331.5l.5,6 7.5,11 8.5,12.5 4.5,7.5 5,9 5.5,11 .5,1 2.5-2-5-10.5-5-9.5-9-14.5-8-11.5zM1080,603l2,.5 1-5.5-2-.5zM1095,520l2.5,.5 1-5.5-2-.5zM1103.5,485.5l2.5,1 1.5-6-2.5-1zM1172,334.5l3.5,1.5 5-6-3.5-1.5zM1177,328.5l3.5,1.5 5.5-6-3.5-1.5zM1095,532l2,.5 1.5-5.5-2.5-.5zM1135,403.5l3,1 2.5-6-2.5-1zM1138,397.5l2.5,1 3-6-3-1.5zM1150.5,373l3,1 4-6-3.5-1.5zM1158,360.5l3,1.5 4-6-3-1.5zM1211,300l4,2 7.5-5.5-4-2zM1147,386l3,1.5 3-6-3-1.5zM1169.5,349.5l3.5,1.5 4.5-6-3.5-1.5zM1365,245l3,3 17.5-1.5-3.5-3zM1199,321l3.5,2 6-6-3.5-1.5zM1234,292.5l4,2 8.5-5-4-2zM1322,255.5l3.5,3 14.5-3-3.5-3zM1352,250l3.5,3 16-1.5-3.5-3.5zM1385.5,246.5l3,3.5 17.5-.5-3-3.5zM1105.5,517l2,1 1.5-5.5-2.5-1zM1116.5,477l2,1 2-5.5-2.5-1zM1265.5,279.5l4,2 10.5-4.5-4-2.5zM1340,255.5l3.5,3 15-2-3-3.5zM1443,251.5l2.5,3.5 19,3-2-4zM1647.5,367l2,9 5,8 2,3.5 2.5-1.5-.5-1.5-1.5-2zM1106,523.5l2.5,1 1-6-2-.5zM1250,291.5l4,2.5 9-5-3.5-2.5zM1280,277l3.5,2.5 11-4.5-3.5-2.5zM1112.5,507.5l2.5,.5 1.5-5.5-2.5-1zM1273,284l3.5,2.5 10.5-4.5-3.5-2.5zM1099.5,574.5l2,1 1-5.5-2-.5zM1100.5,569.5l2,.5 1-5.5-2-.5zM1116.5,502.5l2.5,1 1.5-6-2.5-.5zM1212.5,328l3.5,2 6.5-5.5-3.5-2zM1097,597l2,.5 1-5-2-1zM1098,591.5l2,1 1-5.5-1.5-1zM1119,503.5l2,1 2-6-2.5-1zM1134,457.5l2.5,1 2-5.5-2.5-1zM1368.5,266l3,3 15.5-1-3-3.5zM1621,354.5l1.5,7 8.5,10.5 9,13.5 5,8 6,9.5 2.5-2-.5-.5-6-9.5-9.5-15-8.5-12zM1104.5,570.5l2,1 1-5.5-2-1zM1109,560.5l2,.5 1-5-2-1zM1166.5,402l3,1.5 3.5-6-3-1.5zM1186,373l3,1.5 4.5-5.5-3-1.5zM1120.5,522.5l2.5,1 1.5-5.5-2-1zM1143.5,455l2.5,1 2.5-5.5-2.5-1zM1177,392l2.5,1 4-5.5-3-1.5zM1107,589l2,1 1-5.5-2-1zM1176,399l3,1.5 3.5-6-3-1.5zM1116.5,557.5l2,.5 1.5-5.5-2.5-.5zM1137.5,485.5l2.5,1 2-5.5-2.5-1zM1480.5,290.5l2,4 16.5,5 17,6-2-4.5-17-6zM1146.5,469.5l2.5,1 2.5-5.5-2.5-1zM1122,553.5l2,1 1.5-5.5-2-1zM1170.5,425.5l3,1.5 3-5.5-2.5-1.5zM1184.5,403l3,1.5 4-5.5-3-1.5zM1188.5,397.5l3,1.5 4-5.5-3-1.5zM1154,466l2.5,1.5 2.5-5.5-2.5-1.5zM1129,544.5l2,1 1.5-5.5-2-1zM1194,400.5l3,1.5 4-5.5-3-1.5zM1198,395l3,1.5 4.5-5.5-3-1.5zM1344,302.5l3.5,3.5 12-2.5-3.5-3zM1124,572.5l2,.5 1.5-5-2-1zM1230.5,364.5l3.5,2 5.5-5-3-2zM1611.5,396l3.5,10 5.5,7 1,2 .5,.5 2.5-2-.5-1-3-4zM1158.5,475l2.5,1.5 2.5-5.5-2.5-1.5zM1164,464l2,1.5 3-5.5-2.5-1.5zM1266,342l3.5,2 7.5-4.5-3-2zM1583,369.5l2.5,7 7.5,8 8,8.5 17,22 .5-.5-1-3-2.5-5.5-9-12-8-9.5zM1132.5,558l2,1 1.5-5.5-2-1zM1150,504l2,1 2.5-5.5-2.5-1zM1237,368.5l3,1.5 6-4.5-3.5-2zM1242.5,363.5l3.5,2 6-5-3-2zM1269.5,344l3,2.5 7.5-4.5-3-2.5zM1285,335.5l3,2.5 8.5-4-3-2.5zM1146.5,521l2,1 2-5-2.5-1.5zM1272.5,346.5l3.5,2 7.5-4-3.5-2.5zM1356.5,315l3.5,3 11.5-1.5-3-3.5zM1381,311.5l3,3.5 12.5-.5-3-3.5zM1450,314l3,4 15,3-2.5-4zM1136.5,560l2,.5 1.5-5-2-1zM1189.5,435l2.5,1.5 3.5-5-2.5-1.5zM1348.5,320.5l3,3 11.5-2-3-3.5zM1423.5,314.5l3,4 14,1.5-2.5-4zM1150.5,523l2.5,1.5 2-5.5-2.5-1zM1470.5,325.5l2.5,4.5 15.5,4.5-2.5-4.5zM1594.5,400.5l3.5,9.5 9.5,12.5 11.5,16 2-2.5-1.5-2.5-6.5-9-10-13.5zM1132.5,599.5l2,1 1.5-5.5-2-.5zM1309.5,344l3,2.5 9-3-3.5-3zM1219.5,415l3,1.5 4.5-5-3-1.5zM1361,333l3,3 11-1.5-3-3.5zM1196,453l2.5,1.5 3-5-2.5-1.5zM1277,369l3,2 7-4-3-2.5zM1146,576l2,1 1.5-5-2-1zM1195,460l2.5,1.5 3.5-5.5-2.5-1.5zM1205,444l3,1.5 3.5-5-2.5-1.5zM1310,355.5l3.5,2.5 8-3-3-3zM1318.5,352l3,3 9-3-3-3zM1454,340.5l2.5,4.5 14.5,3-3-4.5zM1162,535l2,1.5 2.5-5.5-2.5-1zM1191.5,472l2.5,1.5 3-5.5-2.5-1.5zM1197.5,461.5l2.5,1.5 3.5-5.5-2.5-1.5zM1237,410.5l3,1.5 5-4.5-3-2zM1359.5,344l3,3.5 10.5-2-3-3zM1370,342.5l3,3 11-1-3-3.5zM1381,341l3,3.5 11.5-1-3-3.5zM1442.5,342.5l3,4 13.5,2.5-2.5-4zM1148.5,583.5l2,1 1.5-5.5-2-1zM1151.5,573l2,1 1.5-5-2-1.5zM1226.5,427l2.5,2 4.5-5-3-2zM1240,412l2.5,2 5-4.5-2.5-2zM1245,407.5l2.5,2 5.5-5-3-2zM1250,402.5l3,2 5.5-4.5-3-2zM1242.5,414l3,2 5-4.5-3-2zM1328,360.5l3,2.5 8.5-2.5-3-3zM1336.5,357.5l3,3 9.5-2.5-3-3zM1355.5,352.5l3,3 10-1.5-3-3.5zM1173,528l2,1.5 2.5-5.5-2.5-1zM1227.5,435.5l2.5,2 4.5-5-3-2zM1267,397.5l2.5,2 6-4-3-2.5zM1285.5,384.5l3,2.5 6.5-4-3-2.5zM1331,363l3,3 8.5-2.5-3-3zM1157.5,576l2,1 2-5-2-1zM1173,534.5l2,1.5 2.5-5.5-2.5-1zM1184.5,508.5l2.5,1.5 2.5-5-2.5-1.5zM1213.5,464l2.5,1.5 4-5-3-1.5zM1305,382l3,2.5 7.5-3.5-3-2.5zM1194.5,501l2.5,1.5 2.5-5-2-1.5zM1197.5,496l2,1.5 3-5-2.5-1.5zM1194,507.5l2.5,1.5 2.5-5-2-1.5zM1334.5,377.5l3,3 8.5-2.5-3-3zM1161,596l2,1 1.5-5-2-1.5zM1175.5,555l2,1 2-5-2-1zM1182,546l2,1 2-5-2-1zM1235,456l3,1.5 4-4.5-2.5-2zM1239.5,451l2.5,2 4-4.5-2.5-2zM1267.5,423.5l2.5,2.5 5.5-4.5-3-2zM1210,497l2,1.5 3.5-5-2.5-1.5zM1327.5,392l3,2.5 7.5-2.5-3-3zM1180,563.5l2,1.5 2-5-2-1.5zM1240.5,459.5l2.5,2 4-4.5-2.5-2zM1244.5,455l2.5,2 4.5-5-2.5-2zM1249,450l2.5,2 4.5-4.5-3-2zM1278,424l3,2 5.5-4-2.5-2.5zM1502,403l3,6 15.5,9-3-6.5zM1193,540l2,1 2.5-5-2-1zM1247,457l2.5,1.5 4.5-4.5-2.5-2zM1357.5,390l3,3 9-1.5-3-3.5zM1416,384.5l3,4 11,1-2.5-4zM1520.5,418l4,6.5 17.5,13.5-4-7.5zM1557.5,447.5l5,10.5 6,6.5 7,8 7,9.5 2-3-2-2.5-7.5-9.5-6.5-7.5zM1284,428.5l2.5,2 6-4-3-2zM1248,465l2.5,2 4.5-4.5-2.5-2zM1252.5,460.5l2.5,2 4.5-4.5-3-2zM1271,443l2.5,2 5-4-2.5-2zM1363.5,396.5l3,3 9-1.5-3-3.5zM1176.5,599l2,1 2-5-2-1zM1224,506.5l2.5,1.5 3.5-4.5-2.5-2zM1249,473.5l3,2 4-4.5-2.5-2zM1536,446.5l4.5,8.5 10.5,9.5 12,12.5-6.5-11.5-11-10.5zM1186.5,586.5l2,1 2-5-2-1zM1195,566.5l2,1.5 2-5-2-1.5zM1223.5,513l2.5,1.5 3-4.5-2.5-2zM1226.5,508l2.5,2 3.5-5-2.5-1.5zM1233,498.5l2.5,2 3.5-5-2.5-1.5zM1287,448l2.5,2 5.5-3.5-3-2.5zM1300.5,442.5l2.5,2.5 6-3.5-3-2.5zM1197,580.5l2,1.5 2-5-2-1.5zM1259.5,481.5l2.5,2 4-4.5-2.5-2zM1201,577l2.5,1.5 2-5-2-1.5zM1337.5,431.5l3,3 7-2.5-3-3zM1215.5,554.5l2,1.5 2.5-5-2-1.5zM1226,535.5l2.5,1.5 3-4.5-2.5-2zM1223,546.5l2,1.5 3-4.5-2.5-2zM1336.5,440l2.5,3 7-2.5-3-3zM1473.5,438.5l3,5.5 13.5,6-4-6zM1254,507l2.5,2 3.5-4.5-2.5-2zM1269.5,489.5l2.5,2 4.5-4-2.5-2zM1368,434l3,3.5 8-1.5-3-3.5zM1476.5,444l3.5,5.5 13.5,6.5-3.5-6zM1504,458l4,7 16.5,11.5-5-8zM1264,500l2.5,2 4-4-2.5-2zM1335.5,448.5l2.5,3 7-2.5-3-3zM1508,465l4.5,7 8,6 9,7.5-5-9zM1524.5,476.5l5,9 10,9 12,12.5-7.5-12.5-10.5-10zM1229.5,551.5l2.5,1.5 3-4.5-2.5-2zM1448,442.5l3.5,5 11.5,3.5-3.5-5zM1224,567l2,1.5 2.5-4.5-2-1.5zM1226.5,562.5l2,1.5 3-4.5-2.5-2zM1229,557.5l2.5,2 2.5-5-2-1.5zM1261.5,512.5l2.5,2 3.5-4-2.5-2zM1517,480l5,8 9,8 11,10.5-7-11-9.5-9zM1264,514.5l2,2.5 4-4.5-2.5-2zM1325,466l3,2.5 6-3-3-2.5zM1331,463l3,2.5 6-2.5-2.5-3zM1444,449.5l3,5 11,3-3-5zM1522,488l5.5,9.5 10,9.5 6,6 6.5,7-8-13.5-11-10.5zM1274,508.5l2.5,2 4-4-2.5-2zM1427,450.5l3,4.5 10,2-3-5zM1268.5,519l2.5,2 4-4-2.5-2.5zM1272.5,514.5l2.5,2.5 4-4-2.5-2.5zM1319.5,477.5l2.5,2.5 5.5-3-2.5-2.5zM1325,474.5l2.5,2.5 6-3-3-2.5zM1411,453.5l3.5,4 9,.5-3-4zM1227.5,582.5l2,2 3-5-2.5-1.5zM1275,517l2.5,2 4-4-2.5-2zM1327.5,477l3,3 6-3-3-3zM1359,464.5l3,3 7-2-3-3zM1389,458.5l3,3.5 8-.5-3-4zM1248,565.5l2.5,1.5 3-4-2.5-2zM1251,561l2.5,2 3-4.5-2.5-2zM1330,488.5l3,2.5 5.5-2.5-2.5-3zM1382,471l3,3.5 8-.5-3-4zM1256.5,558.5l2,2 3.5-4.5-2.5-2zM1255.5,564.5l2.5,2 3-4-2.5-2zM1258.5,560.5l2.5,2 3.5-4.5-2.5-2zM1296,520l2.5,2.5 4.5-3.5-2.5-2.5zM1300.5,516.5l2.5,2.5 4.5-3.5-2.5-2.5zM1335.5,494l3,3 5.5-3-2.5-2.5zM1498.5,506l5,7.5 8,6.5 8.5,7.5-6-10zM1261,562.5l2.5,2 3-4.5-2-2zM1344,494l3,3 6-2-3-3zM1503.5,513.5l5.5,9 8.5,7 10,9-7.5-11-8.5-7.5zM1248.5,585.5l2,2 3-4.5-2.5-1.5zM1301,525l2.5,2.5 4.5-3.5-2.5-2.5zM1330,505.5l3,2.5 5.5-2.5-3-3zM1387,486.5l3,4 7.5-1-3-3.5zM1303.5,527.5l2.5,2.5 4.5-3.5-2.5-2.5zM1356,498l3,3 6-2-3-3zM1390,490.5l3,3.5 7.5-.5-3-4zM1306,530l3,2.5 4.5-3.5-3-2.5zM1330.5,514l2.5,2.5 5.5-2.5-3-3zM1359,501l2.5,3.5 6.5-2-3-3.5zM1385.5,495l3,3.5 7.5-.5-3-4zM1249.5,600l2.5,1.5 2.5-4-2-2zM1344,511l2.5,3 6-2-3-3zM1469,511l4.5,6.5 12.5,6.5-5-7zM1494.5,525l5.5,8.5 7.5,6 9,7.5-6.5-10.5zM1330.5,522.5l2.5,2.5 5.5-2.5-3-3zM1451.5,508.5l4,5.5 10.5,4-4-5.5zM1268.5,582.5l2.5,2 3.5-4-2.5-2zM1305.5,544.5l2.5,2 4-3-2.5-2.5zM1425,515l3.5,4.5 9,2-4-5zM1443,518.5l4,5.5 10,3-4-5.5zM1341.5,534l2.5,2.5 5.5-2-3-3.5zM1352,529l3,3 6-2-3-3.5zM1420,518.5l3.5,4.5 8.5,1.5-3.5-5zM1379,525l3.5,3.5 6.5-1-3-4zM1415,522.5l3.5,4.5 8.5,1-3.5-5zM1358,535l3,3.5 5.5-2-3-3.5zM1355,540.5l3,3 5.5-2-2.5-3zM1439.5,534.5l3.5,5 9.5,3.5-4-6zM1290,602l2.5,2 3.5-3.5-2.5-2.5zM1328.5,568l2.5,2.5 5-3-3-2.5zM1401.5,543l3.5,4.5 7,0-3-4.5zM1416.5,543.5l3.5,4.5 8,1-3.5-4.5zM1321,582.5l2.5,2.5 4-3-2.5-2.5zM1329.5,576.5l2.5,2.5 4.5-2.5-2.5-3zM1408,551.5l3.5,4.5 7.5,.5-3.5-4.5zM1423.5,552.5l3.5,5 8.5,1.5-4-5zM1470.5,568.5l5,7 13.5,9-6-9zM1483,575.5l6,9 7.5,6 8.5,7.5-7.5-11.5zM1341,573.5l3,3 5-2.5-3-3zM1475.5,575.5l5.5,8 14.5,11-6.5-10zM1342,582l3,3 4.5-2.5-3-3zM1384.5,566.5l3,4 6.5-1-3-4zM1453,573.5l4.5,6 10.5,5.5-5-7zM1394,569.5l3.5,4 6.5-.5-3.5-4zM1414.5,569l3.5,4.5 8,1-4-4.5zM1480,592l6.5,9 7.5,3.5 8.5,0-8-2zM1373,578l3,3.5 6-1.5-3-3.5zM1379,576.5l3,3.5 6-1-3.5-4zM1365.5,585l2.5,3.5 5.5-2-3-3.5zM1438,581.5l4,6 9.5,3-4.5-6zM1379,585l3.5,4 5.5-1-3-4zM1414.5,595.5l3.5,5 7.5,1-4-5.5zM1418,600.5l4,4 7.5,0-4-3z"/>
<path fill="#0031b1" d="M594,589.5l3-4-6-1-3,3.5zM529.5,594l4.5-6-9.5,3.5-4.5,6.5zM520,598l4.5-6.5-10,4.5-5,7zM509.5,603l5-7-11,6-6,2.5zM641,604.5l2.5-2-4-3-2.5,3zM565,573.5l3.5-4-7,0-3.5,4.5zM514,587l4.5-6.5-10.5,5-5.5,8zM518.5,580.5l4.5-6.5-10,4.5-5,7zM585.5,566l3-4-6.5-1-3,4.5zM460,604.5l5.5,0 5-5-5.5,5-6,0-1,0 1.5,0zM540.5,560l4-5.5-9,2-4,5.5zM487,585.5l6-9-14.5,11-8,12 9-8zM681.5,604.5l2.5,0-3.5-4-2.5,2.5zM623,563.5l2.5-3-5-2.5-3,3.5zM625.5,560.5l3-3.5-5-2-3,3zM530.5,554l4-5.5-9.5,3-4,6zM679.5,594.5l2.5-2-3.5-3.5-2.5,2zM600.5,547.5l3-4-6-1-3,3.5zM559.5,544l3.5-4.5-7.5,.5-4,5zM597.5,542.5l3-4-6-1-3.5,3.5zM584.5,540l3.5-3.5-7-1-3,4zM578,539.5l3-4-7-.5-3.5,4.5zM691,597.5l2.5-2-3.5-4-2.5,2.5zM566.5,535l3.5-4-8,0-3.5,4.5zM678.5,574.5l2.5-2.5-4-3.5-2.5,2.5zM674.5,571l2.5-2.5-4-3.5-2.5,2.5zM540.5,530l3.5-5-9,2-3.5,5.5zM521.5,535.5l4-5.5-10.5,3.5-4,6.5zM656.5,551.5l2.5-2.5-4.5-3.5-3,3zM459.5,571.5l8-12-10,9-5.5,6-2,2 1,3.5 3-3zM483,547l5.5-8-14.5,10.5-6.5,10 8-7zM632,528.5l3-3-5.5-2.5-2.5,3zM609,520l3-3.5-6-1.5-3,3zM691.5,569l2.5-2-3.5-4-2.5,2zM546,512l3.5-4.5-9,1.5-4,5zM527,516.5l4-5-10.5,3-3.5,6zM598.5,505l3-3.5-7-1.5-3,3.5zM556,498.5l3.5-4.5-9,1-3,4.5zM547.5,499.5l3-4.5-9,1.5-3.5,5zM733.5,601l2.5-2-2.5-4.5-2.5,2zM722.5,583.5l2.5-2-3-4-2,1.5zM545,492l3.5-4.5-9.5,1.5-3.5,4.5zM725,581.5l2.5-2-3-4-2.5,2zM743,604.5l2,0-2-4.5-2.5,2zM705,550l2.5-2-3.5-4-2.5,2zM626,492l2.5-3-6-2-3,3zM720.5,565l2.5-2-3-4.5-2.5,2zM689.5,519.5l2.5-2-4-4-2.5,2.5zM552.5,470.5l3-4-9.5,1-3,4.5zM648.5,486l3-3-5.5-3-3,3zM558.5,462l3.5-4-9.5,.5-3,4.5zM507,474l4-5.5-12,5-4,6zM495,479.5l4-6-13,6.5-4.5,7zM642.5,474.5l3-3-6-2.5-3,2.5zM533,462l3-4.5-10.5,2.5-3.5,5zM764.5,603l2.5-1.5-2.5-4.5-2,1.5zM616,456.5l2.5-3.5-7-2-3,3.5zM518,458l3.5-5-11.5,4-3.5,5zM760,587.5l2-1.5-2-5-2.5,1.5zM747.5,564l2.5-1.5-3-4.5-2,1.5zM687.5,490.5l2.5-2-4.5-4-2.5,2zM580,446.5l3-4-9-.5-3,4zM497.5,462l4-6-13,6-4,6.5zM744.5,553l2-1.5-3-4.5-2,1.5zM565,442l3-4-9.5,.5-3,4zM762,579.5l2-1.5-2-4.5-2.5,1.5zM757,570l2.5-1.5-2.5-4.5-2.5,1.5zM717.5,511l2.5-2-4-4.5-2.5,2zM478.5,463.5l4-6.5-14.5,8.5-4.5,7.5zM695,484l3-2.5-5-4-2.5,2.5zM571,434.5l3-4-9,0-3,4zM562,434.5l3-4-10,.5-3,4zM542,436.5l3-4.5-10.5,2-3.5,4.5zM756.5,557.5l2-1.5-2.5-4.5-2,1.5zM733,520.5l2-2-3-4.5-2.5,2zM623,438.5l3-3-7.5-2.5-3,3.5zM565,430.5l3-4-10,.5-3,4zM523.5,436.5l3-4.5-11.5,3-3.5,5zM758.5,556l2.5-1.5-2.5-5-2.5,2zM709,487.5l2.5-2-4-4-2.5,2zM766,564l2-1.5-2.5-4.5-2,1.5zM715.5,490l3-2-4.5-4.5-2.5,2zM673,454l3-2.5-5.5-3.5-3,2.5zM561.5,423l3-4-10,.5-3.5,4zM686.5,459l2.5-2.5-5-4-2.5,2.5zM564.5,419l3-4-10,.5-3,4zM521.5,425l3-4.5-11.5,3.5-3.5,5zM732,499.5l2.5-2-3.5-4.5-2.5,2zM678.5,449l3-2.5-5.5-3.5-3,2.5zM595,416.5l3-3-9-1.5-3,4zM536,418l3-4.5-11,2.5-3.5,4.5zM711,471l2.5-2-4.5-4.5-2.5,2zM490.5,428.5l3.5-5.5-14,6.5-3.5,6zM461.5,444.5l4-7-16.5,11.5-4.5,8zM740.5,500.5l2.5-1.5-3.5-5-2.5,2zM531,411.5l3-4.5-12,2.5-3,4.5zM449,449l4-7.5-8.5,6.5-9,8-5.5,9 10-9zM556,404l3-4-11,1-3,4zM718.5,465l2.5-2-4-4.5-3,2zM598,402l3-3.5-9.5-1.5-2.5,3.5zM503.5,407l3-4.5-13.5,4.5-3,5.5zM781,547.5l2.5-1-2.5-5-2,1zM678,423l3-2.5-6.5-3.5-2.5,2.5zM800,586.5l2-1-2-5.5-2,1.5zM785.5,551.5l2.5-1.5-2.5-5-2,1.5zM781,541.5l2.5-1.5-2.5-5-2.5,1.5zM434,439l4.5-8-9.5,8-10.5,9.5-5.5,10.5 11.5-11.5zM755,490.5l2.5-2-3-4.5-2.5,1.5zM643,398l3-3-8-3-3,3zM794.5,559l2-1.5-2-5-2,1zM764,498.5l2.5-1.5-3-5-2.5,1.5zM686.5,416l3-2.5-6.5-4-2.5,2.5zM621.5,387.5l3-3.5-9-2-3,3.5zM813,603l2-1-1.5-5-2,1zM796.5,557.5l2-1-2-5.5-2,1.5zM663.5,398.5l3-2.5-7.5-3.5-3,3zM633,386.5l3-3-8.5-2.5-3,3zM624.5,384l3-3-9-2-3,3zM566,377l3-3.5-11.5,.5-3,3.5zM792.5,541l2-1.5-2.5-5-2,1.5zM774.5,505.5l2.5-1.5-3-5-2,1.5zM618.5,379l3-3-9-2-3,3zM449,410l3.5-6-17.5,12-3.5,7.5zM386.5,471.5l7-14.5-6.5,9-2,2.5 0,.5zM771,494l2.5-1.5-3-5-2.5,1.5zM731,440l2.5-2-4.5-4.5-2.5,2zM776.5,497.5l2.5-1.5-3-5-2.5,1.5zM471.5,389l3-5.5-16,8-3,6zM736.5,436.5l2.5-2-4.5-5-2.5,2zM682,392l3-2-7-4-3,2.5zM675,388.5l3-2.5-7-4-3,3zM660.5,381.5l3-3-7.5-3-3,2.5zM599,364l2.5-3-10-1.5-3,3.5zM588.5,363l3-3.5-11-.5-3,3.5zM503.5,372.5l2.5-5-14,4.5-3,5zM442,402l3-6-16.5,12-9,8-10,9-4.5,9.5 10.5-10.5 9.5-8.5zM405,434.5l4.5-9.5-9.5,10-11,13-3,3.5 2,3 .5-1 6-7.5zM480,373l2.5-5-15,7-3,5.5zM764,456l2.5-2-3.5-5-2.5,1.5zM756.5,445.5l3-1.5-4-5-2.5,1.5zM680,374.5l3-2.5-7.5-3.5-3,2.5zM796,499.5l2.5-1-2.5-5.5-2.5,1.5zM834.5,598l2-1-1.5-5-2,1zM768.5,446l2.5-1.5-3.5-5.5-3,2zM739,410.5l3-2-5-5-3,2zM787.5,470.5l2.5-1.5-3-5-2.5,1.5zM397,409.5l3.5-8.5-8,8.5-9,10-19,26 2,2.5 0-.5 7-9.5 5.5-7.5 9.5-11.5zM798,485l2.5-1-2.5-5.5-2.5,1.5zM652,346.5l3-3-9.5-3-3,3zM565,333l3-4-13,.5-2.5,4zM498.5,339.5l2.5-4.5-15.5,4.5-2.5,5zM833.5,562.5l2-.5-1.5-5.5-2,1zM795,466.5l2.5-1.5-3-5-2.5,1zM678.5,345.5l3-2.5-8.5-4-3,3zM847.5,598l2-1-1-5.5-2,1zM563.5,318.5l3-4-14,.5-2.5,4zM821.5,506l2.5-1-2-5.5-2.5,1zM815,490l2.5-1.5-2.5-5.5-2.5,1.5zM492.5,326l2.5-4.5-16.5,5-2,4.5zM476.5,331l2-4.5-15.5,6.5-16.5,7.5-2,5.5 16-8zM822,499.5l2-1-2-5.5-2.5,1zM782.5,423l2.5-1.5-3.5-5.5-3,1.5zM696,342.5l3-2.5-8-4.5-3,2.5zM569,311l3-3.5-14,0-3,4zM830.5,515l2-1-2-5.5-2,1zM847.5,562.5l2-1-1.5-5.5-2,1zM836,524.5l2.5-1-2-5.5-2,1zM791.5,425.5l2.5-1.5-3.5-5.5-2.5,1.5zM788,420l2.5-1.5-3.5-5.5-3,1.5zM393,370.5l2.5-7-14.5,14-8,9-8.5,10.5-3.5,10 9-12 8.5-9.5zM860,604.5l1.5-1-1-5.5-2,1zM812.5,457.5l2.5-1-3-6-2.5,1.5zM787,413l3-1.5-4-5.5-3,1.5zM809.5,445l2.5-1-3-5.5-2.5,1zM862.5,597.5l2-1-1-5-2,.5zM796,416l3-1.5-3.5-5.5-3,1.5zM712,331l3.5-2.5-8-4.5-3,2zM597.5,294l3-3-14-1.5-3,3.5zM856,559l2-.5-1.5-5.5-2,.5zM834,487.5l2-1-2-5.5-2.5,1zM572,289.5l2.5-4-15,.5-2.5,3.5zM865.5,590.5l1.5-.5-1-5.5-2,.5zM822.5,453l2.5-1.5-2.5-5.5-2.5,1zM694,312.5l3.5-2.5-9.5-4-3.5,2.5zM854,535.5l2.5-1-1.5-5.5-2.5,1zM848,513.5l2-1-1.5-5.5-2.5,1zM844.5,502.5l2-1-1.5-5.5-2.5,1zM678,302l3.5-3-10.5-3.5-3.5,2.5zM620,286l3-3-13.5-2-3,3zM592.5,283l3-3.5-15-1-3,3.5zM513,287l2-4-17,3.5-2.5,4.5zM462,301.5l2-4.5-15,6-15.5,7.5-1.5,5 15-7.5zM862,556.5l2-.5-1.5-5.5-2,.5zM827.5,450.5l2.5-1-2.5-6-2.5,1.5zM598.5,276l3-3-15-1-3,3zM839.5,465.5l2.5-1-2-5.5-2.5,1zM776,356l3-1.5-5-5.5-3,1.5zM874,581.5l2-.5-1-5.5-2,.5zM763,337.5l3-2-6-5.5-3.5,2zM646.5,276.5l3.5-3-13.5-3-3.5,3zM863.5,526l2.5-1-1.5-5.5-2.5,1zM608,266.5l3-3.5-15.5-1.5-3,3.5zM824.5,410l2.5-1-3-6-2.5,1zM790.5,357l3-1.5-4.5-6-3.5,2zM356.5,348l1.5-6.5-7.5,8.5-8,10-8.5,12-9.5,15.5-3.5,12.5 5.5-10.5 5.5-8 9-13.5 8-10.5zM884,601l1.5-.5-.5-5.5-2,1zM882,590.5l2-.5-1-5.5-2,.5zM881,585l2-.5-1-5.5-2,.5zM875.5,557.5l2-.5-1-5.5-2,.5zM857,484.5l2.5-.5-2-6-2.5,1zM835.5,426.5l2.5-1-2.5-6-2.5,1.5zM754,315.5l3.5-2-7.5-5.5-3.5,2zM875.5,546l2-1-1.5-5.5-2,1zM868.5,518l2.5-1-1.5-5.5-2,1zM827,402l3-1.5-3.5-6-2.5,1.5zM877.5,545l2-.5-1-5.5-2.5,.5zM875,534l2-.5-1-5.5-2.5,.5zM823.5,388.5l3-1-3.5-6-3,1zM853,447l2.5-.5-2.5-6-2.5,1zM819.5,375.5l3-1.5-3.5-6-3,1.5zM889.5,588l2-.5-1-5.5-1.5,.5zM841,410.5l3-1-3-6-2.5,1zM786.5,325.5l3.5-1.5-5.5-6-3.5,1.5zM479,254l1.5-4-34,10-1,4.5zM810,348.5l3-1.5-4.5-6-3,1.5zM800.5,336.5l3.5-1.5-5-6.5-3.5,1.5zM772,306l3.5-1.5-7-6-3.5,2zM892.5,581.5l2-1-.5-5.5-2,1zM885.5,542.5l2.5-.5-1.5-5.5-2,.5zM878.5,508.5l2-.5-1-6-2.5,1zM844,402.5l3-1-3-6-2.5,1zM838.5,390l3-1-3-6-3,1zM817.5,353.5l3-1.5-4-6-3.5,1zM892,564l2-.5-1-5.5-2,.5zM785.5,309l4-2-6.5-6-4,2zM899,596.5l2-.5-1-5.5-1.5,.5zM898.5,591l1.5-.5-.5-5.5-2,.5zM789.5,307l3.5-1.5-6.5-6-3.5,1.5zM902,601.5l1.5-.5-.5-5.5-2,.5zM896,563l2-.5-1-5.5-2,.5zM892,540.5l2-.5-1-5.5-2,.5zM449.5,243.5l.5-4.5-31.5,12 0,4.5zM894,540l2-.5-1-5.5-2,.5zM887.5,506l2-.5-1-6-2.5,.5zM834,354.5l3.5-1-4-6.5-3,1.5zM721,251l4-2.5-12-5-4.5,2.5zM899,556.5l2-.5-1-6-2,1zM886,488l2-1-1-5.5-2.5,.5zM893,510.5l2.5-.5-1.5-6-2,.5zM889.5,493l2-.5-1-6-2.5,.5zM840.5,352.5l3.5-1-3.5-6.5-3.5,1zM600,216l3.5-3.5-22-1-2.5,3.5zM864,395.5l3-.5-2.5-6.5-3,1zM853.5,370.5l3-1-3-6.5-3,1zM907.5,571.5l2-.5-.5-5.5-2,.5zM759.5,253.5l4.5-2-10-6-4.5,2zM726,236.5l4.5-2.5-13-5.5-4.5,2.5zM914,604l1.5-.5-.5-5.5-2,.5zM910.5,576.5l2-.5-1-5.5-2,.5zM903.5,531.5l2.5-.5-1-5.5-2.5,.5zM867.5,387.5l3-.5-2.5-6.5-3,1zM857,354.5l3-1-3-6.5-3,1zM830,308.5l4-1-5-7-4,1.5zM692,216.5l4.5-3-17.5-4.5-4.5,3zM909,536.5l2-.5-1-6-2,.5zM860,353.5l3.5-1-3-6.5-3.5,1zM846.5,327.5l3.5-1.5-4-6.5-3.5,1zM912,541.5l2-.5-1-5.5-2,.5zM880.5,398l3-1-2-6-3,.5zM863.5,352.5l3.5-.5-3-7-3.5,1zM822,286l4.5-1.5-6-7-4.5,1.5zM731.5,221.5l5-2-14.5-5.5-5,2zM909.5,512.5l2-.5-.5-6-2.5,.5zM883.5,397l3-.5-2-6.5-3,1zM879.5,384.5l3-1-2.5-6.5-3,1zM850,318.5l3.5-1-4-7-3.5,1zM625.5,193l4-3-25-2-3.5,3zM920,574.5l2-.5-.5-5.5-2,.5zM777.5,236l5-2-11-6.5-5,2zM578,187l3-3.5-28.5,0-2,3.5zM921.5,568.5l2-.5-.5-5.5-2,.5zM919,546l2-.5-1-5.5-2,0zM913,505.5l2.5-.5-1-5.5-2.5,0zM885.5,383l3-1-2.5-6.5-3,1zM800.5,247.5l5-1.5-8.5-7-5,2zM771.5,227.5l5-2-11.5-6.5-5,2zM923,562.5l2-.5-1-5.5-2,.5zM921.5,551l2-.5-.5-5.5-2,.5zM917,517l2-.5-.5-6-2.5,.5zM907,457.5l2.5-.5-1-6-2.5,.5zM906,451.5l2.5-.5-1.5-6.5-2.5,.5zM886,375.5l3.5-.5-2.5-6.5-3,.5zM844,287.5l4-1-5-7-4.5,1zM908.5,451l2.5-.5-1.5-6.5-2.5,.5zM907,444.5l2.5-.5-1-6-2.5,.5zM885,361.5l3-.5-2.5-7-3,1zM861,307.5l3.5-1-3.5-7-4,1zM852.5,293.5l4-1-4.5-7-4,1zM848,286.5l4-1-5-7-4,1zM408.5,196l-2-3.5-35.5,14 2.5,4zM930.5,555.5l2-.5-.5-5.5-2.5,0zM924,503.5l2.5-.5-1-6-2,.5zM907,405.5l2.5-.5-1-6.5-3,.5zM832.5,247l5-1-7.5-7.5-5,1.5zM926.5,503l2-.5-.5-6-2.5,.5zM924,485l2.5,0-1-6-2.5,0zM920.5,461l2.5-.5-1-6-2.5,.5zM888.5,331.5l3.5-.5-3-7-3.5,.5zM248,341l-2-5.5-3,10-4,12-.5,1.5 3,1 .5-1.5 2-6.5zM938.5,604.5l2,0-.5-5.5-1.5,.5zM935,560.5l2-.5-.5-5.5-2,0zM904.5,371.5l3.5-.5-2-7-3,1zM869,281l4-1-4-7-4.5,1zM939,582.5l2-.5-.5-5.5-2,.5zM932.5,514l2-.5-.5-5.5-2.5,0zM922.5,441.5l2.5,0-1-6.5-2.5,.5zM916.5,410l3-.5-1.5-6.5-2.5,.5zM908,371l3-.5-2-7-3,.5zM873,280l4.5-.5-4-7.5-4.5,1zM244.5,330l-2.5-5-3,9-3,10-3.5,12.5 0,.5 3,1 0-1 2-6.5 3.5-11zM939,559.5l2,0-.5-6-2,.5zM937.5,542.5l2,0-.5-6-2,.5zM915.5,390l3-.5-1.5-6.5-3,.5zM852.5,242l5-1-6.5-7.5-5.5,1zM838.5,227l5.5-1.5-8.5-7.5-5.5,1.5zM441,163l-2-3.5-25,5.5-23,6.5 3,3 22.5-6zM936.5,513.5l2.5-.5-1-6-2,.5zM917,383l3-.5-1.5-6.5-3,.5zM885.5,285.5l4-.5-3.5-7.5-4.5,1zM439,159.5l-2.5-3.5-26.5,5.5 3.5,3.5zM946,603.5l2,0-.5-5.5-1.5,0zM939,513l2-.5-.5-5.5-2.5,0zM889.5,285l4.5-1-3.5-7.5-4.5,1zM946,575.5l2,0-.5-5.5-1.5,0zM946,570l1.5,0 0-6-2,.5zM943,536l2-.5-.5-5.5-2,0zM940.5,507l2-.5-.5-6-2,.5zM862,231l5-1-6.5-8-5.5,1zM817.5,192l7-1.5-13-7.5-7,1.5zM789.5,177l7.5-2-17.5-7-7.5,2zM664.5,146.5l6.5-3-19-1.5-20-2-5.5,3.5zM465,148l-2-3.5-31.5,4.5-28.5,6 3.5,3.5 28-6zM929.5,401.5l3-.5-1-6.5-3,.5zM927,388.5l3-.5-1-7-3,.5zM913,327l4-.5-2-7.5-4,1zM811.5,183l7.5-2-15-7.5-7,1.5zM902.5,282.5l4-.5-3-7.5-4.5,.5zM398.5,151.5l-4.5-3-25,6.5 5,3.5zM952.5,586l2,0 0-5.5-2,0zM952,575l2,0-.5-6-2,.5zM951.5,563.5l2,0-.5-5.5-2,0zM950,541l2-.5-.5-5.5-2,0zM878.5,228l5.5-1-6-8-6,1zM872,220l6-1-6.5-8.5-6,1.5zM394,148.5l-5.5-3-25,6.5-21.5,8 5.5,2.5 22-7.5zM312,180.5l-5.5-2.5-14.5,10-13,11 5,2.5 13.5-11zM226,302l-3-3-4,14-4.5,16.5 3.5,1zM947.5,482l2-.5-.5-6-2.5,.5zM946.5,476l2.5-.5-.5-6-2.5,0zM944.5,451l2.5,0-1-6.5-2.5,.5zM729,140.5l9-2.5-17.5-3-19.5-3-8,3 18.5,2.5zM342,160l-6.5-3-19,8.5 6.5,3zM955.5,569l2,0 0-6-2,.5zM948.5,469.5l2.5-.5-.5-6-2.5,.5zM927.5,325l3.5-.5-1.5-7.5-3.5,.5zM912.5,273l4.5-.5-3-7.5-4.5,.5zM413.5,136l-5.5-3.5-16.5,3.5-15,3 6.5,3zM958,574.5l2-.5-.5-5.5-2,.5zM946,419l2.5,0-.5-6.5-2.5,0zM280,183l-6.5-2-11.5,11.5 6,2zM956.5,517l2.5-.5-.5-6-2,.5zM952.5,456.5l2.5,0-.5-6.5-2.5,.5zM930,302l4-.5-2-7.5-4,.5zM928,294.5l4-.5-1.5-7.5-4.5,.5zM926,287l4.5-.5-2-7.5-4.5,.5zM921.5,272l4.5-.5-2.5-8-4.5,.5zM757.5,133.5l11-2.5-18-3.5-20.5-3.5-10.5,2.5 20.5,3.5zM719.5,126.5l10.5-2.5-23-3-26-2.5-9,3 25,2.5zM401.5,129.5l-7-3-17.5,3-15.5,4 8,2.5 15.5-3.5zM369.5,136l-8-2.5-26.5,7.5 8,2.5zM212.5,291l-3.5-2.5-3.5,13.5-3,15.5 3,3 3.5-16zM945.5,365.5l3-.5-1-6.5-3,0zM280,168l-7.5-2-12.5,10.5 7,2.5zM954.5,424.5l3,0-.5-6.5-3,.5zM260,176.5l-7-1.5-10.5,11.5 6.5,2zM966,585l2,0 0-5.5-2,0zM963,516.5l2.5-.5-.5-5.5-2,0zM634.5,108.5l8.5-3.5-41-1-43.5,0-1.5,3 39.5,.5zM233.5,199l-6-1.5-7.5,13.5 6,1.5zM964.5,498.5l2.5-.5-.5-6-2.5,.5zM963.5,480.5l2.5-.5-.5-6-2,0zM192,310.5l-3.5-2-2.5,18 0,.5 3.5,.5zM968,527.5l2,0 0-5.5-2,0zM967.5,516l2,0 0-6-2,0zM193,281l-4-1.5-2,13-2,14.5 3.5,1.5 2.5-14.5zM972,596l2-.5 0-5.5-2,0zM972,584.5l2,0-.5-5.5-2,0zM969.5,516l2.5,0-.5-6-2,0zM954,300l4-.5-1-7.5-4,.5zM284,129l-13-1.5-17,9 11.5,2zM229.5,170l-8.5-1.5-7.5,12 7.5,1.5zM221,182l-7.5-1.5-6.5,13 7,1zM973.5,573.5l2-.5 0-5.5-2,0zM973.5,567.5l2,0-.5-5.5-2,0zM972,527.5l2.5,0-.5-6-2,0zM970.5,480l2.5,0-.5-6.5-2,.5zM966,391l3,0-.5-6.5-3,0zM933,194l7-.5-3.5-9-8,.5zM976,595.5l2,0-.5-5.5-1.5,0zM975.5,584.5l2,0 0-5.5-2,0zM970,404l2.5,0 0-6.5-3,0zM965,329l3.5-.5-.5-7-4,0zM948.5,219.5l6,0-2-9-6.5,.5zM943.5,202.5l6.5-.5-2.5-9-7.5,.5zM865,118l17-1.5-12.5-5-16-4.5-20.5,1.5 18,4.5zM694,92.5l21-2.5-31.5-1.5-35.5-1-39-1-41,0-2.5,3.5 35,0 33.5,.5 31.5,1zM970,357l3.5-.5-.5-6.5-3,0zM966,299l4,0-.5-7.5-4.5,0zM944,184l8-.5-3-9-8.5,.5zM229,134l-13-1-9,10 11.5,1zM197.5,178.5l-8-1-4,13 7.5,1zM979.5,584.5l2,0 0-6-2,0zM972,328.5l3.5,0-.5-7.5-3.5,0zM967,268l5,0-1-8-4.5,.5zM875,105.5l23-1-7-3-8.5-2.5-10-2.5-12-2.5-29.5,1.5 13.5,2.5 12,2.5 10,2.5zM270,104l-23.5-1.5-11.5,4.5-9.5,5 19,1.5 11.5-5zM957.5,174l8.5,0-2-9.5-9.5,0zM951,155l10.5-.5-3.5-9.5-12,.5zM940,135.5l13.5-.5-6.5-10.5-15.5,.5zM982.5,515.5l2.5,0 0-6-2.5,0zM982,448.5l2.5,0 0-6-3,0zM980.5,377l3,0 0-6.5-3,0zM979.5,349.5l3.5,0 0-7-3.5,0zM975.5,252l5,0-.5-8.5-5,.5zM974,235.5l5.5,0-.5-8.5-5.5,0zM167,218.5l-6-.5-1,16.5 5.5,0zM1840.5,218.5l-6-.5-1,16.5 5.5,0zM984.5,467.5l2.5,0 0-6.5-2.5,0zM981.5,283.5l4.5,0 0-8-4.5,0zM979,227l6,0 0-8.5-6.5,0zM178.5,120.5l-17.5-.5-1.5,10.5 14.5,0zM1852,120.5l-17.5-.5-1.5,10.5 14.5,0zM987,604.5l2,0 0-3.5-2,0zM987,601l2,0 0-5.5-2,0zM973.5,102.5l26.5,0 5.5-11.5-38.5,0 4,6zM1834.5,120l-17,0 1,10.5 14.5,0zM1821.5,176l-8.5,0 1,13 7.5,0zM991,604.5l2,0 0-3.5-2,0zM991,601l2,0 0-5.5-2,0zM996,243.5l5,.5 .5-8.5-5.5,0zM1766,90l-38,1 9.5,2.5 8,2.5 12.5,5 26.5-.5-7.5-5.5zM1800,120.5l-17,.5 6.5,10 14.5-.5zM993.5,533l2,0 0-6-2,0zM994,473.5l2.5,0 0-6-2.5,0zM999.5,268l4.5,0 1-8-5,0zM1728,91l-33.5,1.5 12,2.5 10,2.5 16,4.5 25.5-1-12.5-5-8-2.5zM995,561.5l2,.5 0-6-2,0zM995.5,544.5l2,0 0-5.5-2,0zM998.5,390.5l2.5,0 .5-6.5-3,0zM1002.5,291.5l4,0 1-7.5-4.5-.5zM1753.5,112l-19.5,1 9,5 7.5,5 16-1.5zM1782.5,142.5l-12,.5 7,11 10.5-.5zM997.5,550.5l2,0 0-6-2,0zM998,521.5l2,0 0-6-2,0zM998.5,491.5l2,.5 .5-6-2.5-.5zM1001.5,467.5l2,0 .5-6-2.5,0zM1003.5,404l3,0 0-6.5-2.5,0zM1021.5,219.5l6,0 2.5-8.5-6.5-.5zM1735,124l-14.5,1.5 15.5,9.5 12.5-1zM1000.5,601l1.5,0 .5-5.5-2,0zM1001,562l2,0 0-5.5-2-.5zM1003,486l2.5,0 0-6-2,0zM1006,410.5l3,.5 0-6.5-2.5-.5zM1765,167.5l-8.5,1 7.5,12 7.5-1zM1005.5,480l2.5,0 0-6-2,0zM1748,157l-9.5,1.5 9.5,11.5 8.5-1.5zM1780.5,222l-6,1 5,16.5 5-1zM1784.5,238.5l-5,1 4.5,18.5 4.5-1.5zM1792,278.5l-4,1 2,12.5 2,14.5 4-1.5-2-14zM1670,120.5l-13,2 13,4 12,4.5 12-2-11.5-4.5zM1006.5,579l2,0 0-5.5-2,0zM1014.5,411l2.5,.5 .5-6.5-2.5-.5zM1015,404.5l2.5,.5 .5-6.5-2.5-.5zM1017.5,371.5l3,0 1-7-3.5,0zM1019,357.5l3,.5 1-7-3.5-.5zM1011,510l2.5,.5 0-6-2,0zM1013,474l2.5,.5 0-6-2-.5zM1015,443.5l2.5,0 .5-6.5-3,0zM1023,351l3,0 1-7-3,0zM1038.5,262l4.5,.5 2.5-8-5-.5zM1785,310.5l-3.5,2 1.5,8.5 .5,5 0,.5 3.5-.5 0-2.5-1-4.5zM1011.5,557l2,0 0-6-2,0zM1013,522l2,.5 0-6-2,0zM1077.5,188l7.5,.5 7.5-8.5-8-1zM1093.5,170l8.5,1.5 11-9-9-1zM1341,108l7.5,3.5 35.5-1 37,0-1.5-3.5-40,0zM1021,431l2.5,.5 .5-6.5-2.5-.5zM1021.5,424.5l2.5,.5 .5-6.5-2.5,0zM1014,585l2,.5 0-5.5-2-.5zM1017,522.5l2,0 .5-5.5-2-.5zM1085,198l7,1 7.5-8.5-7.5-1zM1294.5,118l9,3 27.5-2 30-1-6-3.5-31.5,1.5zM1099.5,190.5l7,1.5 9-8.5-7.5-1.5zM1146,156.5l9,2 19-8-9.5-2zM1027,450.5l2.5,.5 .5-6.5-2.5,0zM1036,373l3,.5 1.5-7-3.5-.5zM1042,338.5l3.5,.5 1.5-7-3.5-.5zM1046.5,317l3.5,.5 2-7-4-.5zM1115.5,183.5l7.5,1 11.5-8-8-1.5zM1768,323.5l-2.5,3 4,20 3-.5 0-.5-2-12zM1019.5,591.5l2,0 0-5.5-1.5,0zM1021.5,552l2,0 .5-5.5-2-.5zM1029.5,451l2.5,0 .5-6-2.5-.5zM1030.5,438.5l3,0 .5-6-2.5-.5zM1092,217.5l5.5,1 7-8-6.5-1zM1113.5,193l7,1 10-8-7.5-1.5zM1123,184.5l7.5,1.5 11.5-8-7.5-1.5zM1319,127.5l7,3 24.5-1.5 25.5-1-4.5-3.5-27,1zM1765.5,326.5l-3,4 2.5,11 1,6.5 3.5-1zM1027.5,499.5l2,.5 .5-6-2,0zM1130.5,186l7,1.5 12-8-7.5-1.5zM1754,298.5l-3.5,3 4.5,15 2.5,8.5 2.5,9.5 2.5-4-4.5-17.5zM1022.5,603l2,0 .5-5.5-2,0zM1025.5,558l2,.5 0-6-2,0zM1025.5,552.5l2,0 .5-5.5-2-.5zM1041,420.5l2.5,0 1-6-2.5-.5zM1044.5,414.5l3,0 1-6-3-.5zM1131,206l6,1.5 10-8-6.5-1.5zM1683,207l-4.5,2.5 12.5,12 4.5-2.5zM1041,458.5l2.5,.5 1-6-2.5-.5zM1633,179.5l-4.5,3.5 17,8.5 4.5-3zM1056,382.5l3,.5 1.5-6.5-3-.5zM1033,587.5l2,0 .5-5.5-2,0zM1045,465.5l2.5,.5 1-6.5-2.5,0zM1716.5,273l-3,3.5 10,21 5.5,12.5 5.5,14.5 2.5-4.5-5.5-14-5-12zM1052,435l3,.5 1-6.5-2.5-.5zM1363.5,153l4,3 36-1-3-3.5zM1039,565.5l2,.5 .5-6-2,0zM1059.5,410l3,.5 1-6.5-2.5-.5zM1231.5,178.5l6.5,2 20.5-5.5-6-2.5zM1710.5,280l-3,3.5 5.5,10.5 5.5,11.5 6,13 6,16.5 2-5.5-6-15.5-5.5-12.5zM1039,588l2,.5 .5-5.5-2-.5zM1075,358l3.5,.5 2-6.5-3-.5zM1116.5,266.5l4.5,1 5-7-4.5-1.5zM1166.5,215l6,1.5 11-7-6-2zM1177.5,207.5l6,2 12.5-7-6-2zM1040.5,594l2,.5 0-5.5-1.5-.5zM1051.5,491l2,.5 1-6-2.5-.5zM1045,566.5l2,.5 .5-6-2,0zM1047,544l2,0 1-5.5-2-.5zM1051.5,509l2,.5 1-6-2.5,0zM1053.5,491.5l2.5,.5 1-6-2.5-.5zM1068,411.5l2.5,.5 1.5-6-2.5-.5zM1131,261.5l4.5,1 6-7-4.5-1.5zM1151,239.5l5,1.5 8-7-5-1.5zM1379,166l3.5,3.5 31.5-.5-2.5-3.5zM1529.5,177l-1,3.5 41.5,11.5 2-3.5-20.5-6.5zM1052,521.5l2,0 1-5.5-2.5-.5zM1064,443.5l2.5,.5 1.5-6-3-.5zM1221.5,200l6,2 16-6-5.5-2zM1256,188l5.5,2.5 20.5-5-5.5-3zM1045,604.5l2,0 .5-3.5-2-.5zM1052.5,533l2.5,.5 .5-5.5-2-.5zM1053.5,527.5l2,.5 1-6-2.5-.5zM1213,208.5l5.5,2 14.5-6-5.5-2.5zM1111.5,314l3.5,1 4-6.5-4-1zM1115,307.5l4,1 4-7-4-1zM1287,188l5.5,3 21.5-4.5-4.5-3zM1364.5,181l3.5,3 27-1-3-3.5zM1051,601.5l2,.5 .5-5.5-2-.5zM1052.5,590.5l1.5,.5 1-5.5-2-.5zM1067,482l2.5,.5 1-6-2.5-.5zM1082.5,421.5l3,.5 1.5-6-2.5-.5zM1157.5,269.5l4.5,1.5 7-7-4.5-1.5zM1302,196.5l5,2.5 21-3.5-4.5-3zM1099,378l3,.5 2.5-6.5-3-.5zM1062,558.5l2,.5 1-5.5-2-.5zM1076.5,471.5l2.5,.5 1-5.5-2.5-1zM1090,416.5l2.5,1 2-6.5-3-.5zM1181,259l4.5,1.5 8-6.5-4.5-1.5zM1208,239.5l5,2 11-6-5-2zM1378.5,194l3.5,3.5 24.5-.5-2.5-3.5zM1593,232.5l-1.5,4 29.5,19 1.5-4.5zM1070,519l2.5,.5 1-5.5-2.5-.5zM1071,513.5l2.5,.5 1-6-2.5-.5zM1079,472l2.5,1 1-6-2.5-.5zM1089,430l2.5,.5 2-6-3-1zM1096.5,405l2.5,.5 2-6-2.5-1zM1105,379.5l3,1 2.5-6.5-3-1zM1129.5,327l3.5,1.5 4-7-3.5-1zM1482,202.5l1,3.5 41.5,9 0-4zM1060.5,603.5l2,.5 .5-5.5-2-.5zM1069.5,537l2,.5 1-6-2-.5zM1075.5,502.5l2,.5 1.5-6-2.5-.5zM1088.5,442.5l2.5,1 1.5-6-2.5-1zM1141.5,315l3.5,1.5 5-7-4-1zM1301.5,211.5l4.5,3 18.5-3.5-4.5-3zM1065,582l2,.5 1-5.5-2-.5zM1116.5,368.5l3,1 3-6.5-3-1zM1145,316.5l3.5,1 5-6.5-3.5-1.5zM1155,303l3.5,1.5 5.5-6.5-4-1.5zM1245.5,234l4.5,2 13-5-4.5-2.5zM1288.5,218.5l4.5,3 17-4-4-3zM1324.5,211l4,2.5 19.5-2.5-3.5-3zM1344.5,208l3.5,3 21-2-3.5-3.5zM1075.5,526.5l2.5,.5 1-5.5-2.5-1zM1122.5,363l3,1 3.5-6.5-3.5-1zM1129,350l3,1 4-6.5-3.5-1zM1136,337l3.5,1 4-6-3.5-1.5zM1144,324l4,1.5 4.5-6.5-4-1.5zM1153.5,311l3.5,1.5 5.5-6.5-4-1.5zM1170,291.5l4,1.5 6.5-6.5-4-1.5zM1277.5,226l4.5,2.5 15.5-4.5-4.5-2.5zM1067,599.5l2,.5 .5-5.5-2-.5zM1067.5,594l2,.5 1-5.5-2-.5zM1070.5,572l2,.5 1-5.5-2-.5zM1069.5,594.5l2,.5 .5-5.5-1.5-.5zM1084.5,504.5l2,.5 1.5-5.5-2.5-.5zM1120,384l3,1 3-6.5-3-1zM1225,257.5l4.5,2 10.5-5.5-4.5-2.5zM1318.5,223l4,3 17.5-3-3.5-3zM1397.5,214.5l3,3.5 21.5,0-2.5-3.5zM1442.5,216l2,3.5 44,6-1.5-4zM1076.5,562l2,.5 .5-5.5-2-.5zM1092,482l2,.5 1.5-5.5-2.5-1zM1094.5,470l2.5,1 1.5-6-2.5-.5zM1229.5,259.5l4,2 10.5-5.5-4-2zM1097,471l2.5,.5 1.5-6-2.5-.5zM1138.5,361l3,1 3.5-6.5-3-1zM1149.5,342l3.5,1 4.5-6-3.5-1.5zM1244,256l4,2 11.5-5-4-2.5zM1424.5,222l2.5,3.5 21.5,1.5-2-4zM1406,225l2.5,3.5 21,.5-2.5-3.5zM1099,484l2,1 1.5-6-2-1zM1135,382l3,1 3-6.5-3-1zM1263.5,255.5l4,2 12.5-4.5-4.5-2.5zM1388.5,229l3,3.5 20-.5-3-3.5zM1087.5,547.5l2,.5 1-5.5-2-.5zM1111.5,449.5l2.5,1 2-6-3-1zM1227,279l4,2 9-5.5-3.5-2zM1321.5,241l4,3 16-3-4-3zM1493,241l1.5,4.5 34.5,10-.5-4.5zM1081,597.5l2,.5 1-5.5-2-.5zM1086.5,564.5l2,1 1-5.5-2-1zM1102,491.5l2.5,.5 1.5-5.5-2.5-1zM1129.5,408.5l2.5,1 3-6-3-1zM1200.5,304.5l4,1.5 6.5-6-3.5-1.5zM1231,281l4,2 9-5.5-4-2zM1434,236.5l2.5,3.5 20,2-2-3.5zM1101.5,503.5l2,1 1.5-6-2-.5zM1162,354.5l3,1.5 4.5-6.5-3-1zM1099.5,521.5l2.5,.5 1-5.5-2-1zM1106.5,493l2.5,.5 1.5-5.5-2.5-1zM1174,343.5l3.5,1.5 5-6-3.5-1.5zM1348.5,247l3.5,3 16-2-3-3zM1645,351.5l1,7.5 17.5,28 2.5-2-.5-.5-2.5-5-9.5-16zM1091.5,572l2,.5 1-5.5-2-.5zM1102,522l2,1 1.5-6-2.5-.5zM1252,282l3.5,2.5 10-5-4-2.5zM1108,506l2.5,.5 1.5-5.5-2.5-1zM1163.5,370.5l3,1.5 4-6-3-1.5zM1185.5,340.5l3.5,1.5 5-5.5-3-2zM1109,512.5l2,.5 1.5-5.5-2-1zM1113.5,495l2.5,1 1.5-5.5-2.5-1zM1133,437.5l2.5,1 2.5-6-2.5-1zM1194,336.5l3.5,1.5 6-6-3.5-1.5zM1241.5,297l4,2 8.5-5-4-2.5zM1617.5,334.5l1,6.5 7.5,8.5 8,10 8.5,11.5 9.5,15-2.5-10-9-13-8-11zM1222.5,315l3.5,2 7-5.5-3.5-2zM1332.5,264.5l3.5,3 14.5-2.5-3.5-3.5zM1143.5,427.5l2.5,1 3-5.5-3-1zM1414,260.5l3,3.5 17,1-2-4zM1504.5,274.5l1.5,4 31.5,12.5-1.5-5zM1108.5,542.5l2,1 1.5-6-2-.5zM1117,509l2.5,1 1.5-5.5-2-1zM1210,335.5l3.5,2 6-5.5-3.5-2zM1252.5,303l3.5,2.5 9-5-4-2.5zM1384,264.5l3,3.5 16-.5-3-3.5zM1119.5,510l2,.5 2-5.5-2.5-.5zM1126.5,487.5l2,.5 2-5.5-2.5-1zM1256,305.5l3.5,2 9-4.5-3.5-2.5zM1100,603.5l2,1 1-5.5-2-.5zM1113,544l2,1 1.5-5.5-2.5-1zM1117,527.5l2,1 1.5-6-2-.5zM1174,390.5l3,1.5 3.5-6-3-1.5zM1374.5,272.5l3,3.5 15.5-1-3-3.5zM1104,593.5l2,1 1-5.5-2-.5zM1180.5,386l3,1.5 4.5-5.5-3-1.5zM1185,380.5l3,1.5 4-6-3-1.5zM1239.5,325l3.5,2 7.5-5-3.5-2.5zM1441.5,276.5l2.5,4 17,2-2-4zM1626.5,378l3,9 4.5,7 5.5,8.5 3,5 1.5,2.5 2.5-2-10.5-17zM1117,545.5l2,1 1.5-5.5-2-1zM1148.5,450.5l2.5,1 3-5.5-3-1.5zM1109,590l2,.5 1-5.5-2-.5zM1114,568l2,1 1-5.5-2-.5zM1130,508l2.5,1 1.5-6-2-.5zM1179,400.5l2.5,1 4-5.5-3-1.5zM1182.5,394.5l3,1.5 4-5.5-3-1.5zM1463,287l2.5,4 17,3.5-2-4zM1514,301l2,4.5 15,6.5 15,8-1.5-5-15.5-7.5zM1118.5,558l2,1 1.5-5.5-2-1zM1573,338l2,6 13.5,12 15,14.5-2.5-7-14-14zM1125.5,549l2,1 1.5-5.5-2-1zM1151.5,472l2.5,1 2.5-5.5-2.5-1.5zM1180,415.5l3,1.5 3.5-5.5-3-1.5zM1242.5,345l3.5,2 6.5-4.5-3-2.5zM1453.5,296l2.5,4 16,3.5-2-4.5zM1124.5,560.5l2,1 1.5-5.5-2-.5zM1127.5,550l2,.5 1.5-5-2-1zM1154,473l2.5,1 2-5.5-2-1zM1167,445l2.5,1.5 3-6-2.5-1zM1186.5,411.5l2.5,1.5 4-5.5-3-1.5zM1136,529l2,1 2-5.5-2-1zM1139.5,518l2.5,1 1.5-5.5-2-1zM1215,380.5l3,1.5 5-5-3-2zM1491,312.5l2,4.5 16,5.5 16.5,7.5-2-5-16.5-7zM1136.5,535.5l2,1 2-5.5-2.5-1zM1161,469.5l2.5,1.5 2.5-5.5-2-1.5zM1200,403.5l2.5,1.5 4.5-5.5-3-1.5zM1259,346.5l3,2 7.5-4.5-3.5-2zM1328.5,314l3,3 11-2.5-3.5-3zM1476.5,312l2.5,4.5 16.5,5-2.5-4.5zM1129.5,568.5l2,1 1.5-5.5-2-.5zM1140.5,531l2,1 2-5.5-2.5-1zM1148,509l2,1.5 2-5.5-2-1zM1255.5,353.5l3,2 7-4.5-3.5-2.5zM1139,542.5l2.5,1 1.5-5-2-1zM1210,401.5l2.5,1.5 4.5-5-3-2zM1345.5,317.5l3,3 11.5-2.5-3.5-3zM1588,384l3,8 8,9.5 9.5,11 5,7 2,3 2-2.5-1-1.5-2.5-4-9.5-12-8.5-10zM1154.5,506l2.5,1 2-5.5-2.5-1zM1177,457l2.5,1.5 3-5.5-2.5-1.5zM1183,446l2.5,1.5 3-5.5-2.5-1.5zM1338,323l3,3 10.5-2.5-3-3zM1532,345.5l2,5.5 14.5,9 15.5,11.5-2.5-6.5-15-11zM1192,436.5l2.5,1.5 3.5-5-2.5-1.5zM1246,374l3,2 6-4.5-3-2zM1341,326l3,3 11-2.5-3.5-3zM1426.5,318.5l2.5,4 14.5,1.5-3-4zM1163.5,497.5l2.5,1 2.5-5.5-2.5-1zM1176,470.5l2.5,1 3-5-2.5-1.5zM1306,341.5l3.5,2.5 8.5-3.5-3-2.5zM1355,326.5l3,3 11-1.5-3-3.5zM1598,410l4.5,11 10.5,14 2-2 0-.5-1.5-2.5-6-7.5zM1147.5,546.5l2.5,1 1.5-5-2-1zM1194,445l2.5,1.5 3.5-5.5-2.5-1.5zM1318,340.5l3.5,3 9-3-3-3zM1418.5,325.5l2.5,3.5 13.5,1-2.5-3.5zM1491,339l2.5,5 15.5,6.5-2-5zM1178.5,478.5l2.5,1 2.5-5-2.5-1.5zM1200,441l2.5,1.5 3.5-5-2.5-1.5zM1224,410l3,1.5 4.5-5-3-1.5zM1255,380.5l3,2 6-4.5-3-2.5zM1202.5,442.5l2.5,1.5 4-5-3-1.5zM1222.5,416.5l2.5,2 4.5-5-2.5-2zM1252,387l3,2 6-4.5-3-2zM1307,353l3,2.5 8.5-3.5-3-2.5zM1437.5,334l2.5,4.5 14,2-3-4zM1496,348.5l2.5,5 15.5,7-2.5-5zM1198.5,454.5l2.5,1.5 3.5-5-3-1.5zM1234.5,408.5l2.5,2 5-5-3-2zM1149.5,572l2,1 1.5-5.5-2-1zM1247,400.5l3,2 5.5-4.5-3-2zM1321.5,355l3.5,2.5 8.5-3-3-2.5zM1158.5,552l2,1 2-5-2-1zM1168.5,526l2,1 2.5-5.5-2.5-1zM1210.5,447.5l2.5,1.5 4-5-3-2zM1300.5,368l3,2.5 8-3.5-3-2.5zM1325,357.5l3,3 8.5-3-3-3zM1432,344.5l3,4 13,2-2.5-4zM1445.5,346.5l2.5,4 14,3-3-4.5zM1190.5,485l2.5,1.5 3-5-2.5-1.5zM1376,349l3,3.5 11-1-3-3.5zM1435,348.5l3,4.5 13,2-3-4.5zM1162.5,554l2.5,1.5 2-5.5-2.5-1zM1223.5,440.5l2.5,1.5 4-4.5-2.5-2zM1438,353l2.5,4 13,2-2.5-4zM1479,362l2.5,5 14.5,5.5-2.5-5zM1234.5,432.5l2.5,1.5 4.5-4.5-2.5-2zM1275.5,395.5l3,2 6.5-4-3-2.5zM1404,354.5l3,3.5 11.5,.5-2.5-4zM1416,354.5l2.5,4 12.5,1-3-4zM1428,355.5l3,4 12.5,1.5-3-4zM1511.5,379.5l3,5.5 16.5,10-3-6zM1179.5,525.5l2.5,1.5 2-5.5-2-1zM1267,406.5l2.5,2 6-4.5-3-2zM1285,393.5l2.5,2.5 6.5-4-2.5-2.5zM1160,583.5l2,1 2-5-2-1zM1162,578.5l2,1 1.5-5.5-2-1zM1192,506l2,1.5 3-5-2.5-1.5zM1213,470.5l2.5,1.5 3.5-5-3-1.5zM1308,384.5l3,2.5 7.5-3.5-3-2.5zM1571,433.5l5,10 11,13.5 2-2.5-.5-.5-1.5-2-6-7zM1191.5,512.5l2.5,1.5 2.5-5-2.5-1.5zM1212,477l2.5,1.5 3.5-4.5-2.5-2zM1490,381.5l3,5.5 15,7-3-5.5zM1159,601l2,1 2-5-2-1zM1166,580.5l2,1 2-5-2.5-1zM1508,394l3,5.5 16,10-3.5-6.5zM1186.5,536l2,1 2.5-5-2.5-1.5zM1188.5,530.5l2.5,1.5 2.5-5-2.5-1.5zM1170,583l2,1 2-5-2-1.5zM1186,542l2.5,1.5 2-5-2-1.5zM1255,439l3,2 4.5-4.5-2.5-2zM1287,413.5l2.5,2 6.5-3.5-3-2.5zM1360.5,382l3,3 9-1.5-3-3.5zM1410.5,377l2.5,3.5 11.5,1-3-4zM1195.5,528.5l2.5,1.5 2.5-5-2.5-1.5zM1296,412l2.5,2 6.5-3.5-3-2.5zM1346,389.5l3,3 8.5-2.5-3-3zM1281,426l3,2.5 5.5-4-3-2.5zM1311.5,407l3,2.5 7-3-3-3zM1214,506.5l2.5,1.5 3-5-2.5-1.5zM1442,391l3,4.5 12,2.5-3-4.5zM1176.5,592.5l2,1.5 2-5-2-1.5zM1286.5,430.5l3,2.5 5.5-4-2.5-2.5zM1391,392.5l3,3.5 10-.5-3-3.5zM1190.5,564l2,1 2.5-5-2.5-1zM1197.5,549l2,1.5 2.5-5-2.5-1.5zM1210,524.5l2.5,1.5 2.5-5-2-1.5zM1551,455.5l5.5,10 6,6.5 7,8 7.5,9.5 1-1.5 .5-.5-.5-1-1-2.5-8-9.5-6.5-7.5zM1197,555.5l2.5,1 2-4.5-2-1.5zM1215,521l2.5,1.5 3-5-2.5-1.5zM1221,511l2.5,2 3-5-2.5-1.5zM1241.5,483l2.5,1.5 4-4.5-2.5-2zM1352.5,407l3,3 8.5-2-3-3.5zM1197,561.5l2,1.5 2.5-5-2-1.5zM1256,471l2.5,2 4.5-4.5-3-2zM1264.5,462l2.5,2.5 5-4.5-3-2zM1192.5,578l2,1 2.5-5-2.5-1zM1197,568l2,1.5 2.5-5-2.5-1.5zM1226,514.5l2,1.5 3.5-4.5-2.5-1.5zM1229,510l2.5,1.5 3-4.5-2-2zM1235.5,500.5l2.5,1.5 3.5-4.5-2.5-2zM1258.5,473l2.5,2 4.5-4.5-2.5-2zM1384,408.5l3,3.5 9.5-1-3-3.5zM1208.5,550l2.5,1.5 2.5-5-2.5-1.5zM1241.5,497.5l2.5,2 3.5-4.5-2.5-2zM1253,484l2.5,2 4-4.5-2.5-2zM1192.5,590.5l2.5,1 2-5-2.5-1zM1309,441.5l3,2.5 6-3.5-3-2.5zM1197,586.5l2,1.5 2-5-2-1zM1199,582l2,1 2.5-4.5-2.5-1.5zM1210.5,557.5l2,1.5 3-4.5-2.5-1.5zM1213,553l2.5,1.5 2.5-5-2.5-1.5zM1233,519.5l2.5,2 3-5-2.5-1.5zM1197,593l2,1.5 2-5-2-1.5zM1235.5,521.5l2,1.5 3.5-4.5-2.5-2zM1256.5,494l2.5,2 4-4-2.5-2zM1215,560.5l2,1.5 3-4.5-2.5-1.5zM1343,437.5l3,3 7-2.5-3-3zM1449.5,431.5l3.5,4.5 11.5,3.5-3.5-5zM1197,604.5l2,0 2-2.5-2-1.5zM1228,543.5l2,1.5 3-4.5-2-2zM1274,485.5l2.5,2 4.5-4-2.5-2zM1287.5,473.5l3,2 5-3.5-3-2.5zM1272,491.5l3,2.5 4-4-2.5-2.5zM1281,483.5l2.5,2.5 4.5-4-2.5-2.5zM1290.5,475.5l2.5,2.5 5-3.5-2.5-2.5zM1219,570l2.5,1.5 2.5-4.5-2.5-1.5zM1227,556l2,1.5 3-4.5-2.5-1.5zM1283.5,486l2.5,2 5-4-3-2zM1399,438l3,4 9-.5-3-3.5zM1219,576.5l2,1.5 2.5-5-2-1.5zM1238,544l2,1.5 3-4.5-2-1.5zM1265,508.5l2.5,2 4-4-2.5-2zM1269,504.5l2.5,2 4-4.5-2.5-2zM1341,454.5l3,3 6.5-2.5-3-3zM1361.5,447.5l3,3.5 7.5-2-3-3zM1385,443l3,3.5 8.5-.5-3-4zM1451.5,447.5l3.5,5 11,3.5-3-5zM1237,550l2.5,2 3-4.5-2.5-2zM1275.5,502l2.5,2.5 4.5-4-2.5-2.5zM1542,506.5l8,13.5 4,4.5 0,.5 1.5-3 0-.5-7.5-8.5zM1213.5,598l2.5,1.5 2-4.5-2-1.5zM1216,593.5l2,1.5 2.5-4.5-2-1.5zM1437,452l3,5 10.5,2.5-3.5-5zM1447,454.5l3.5,5 11,3-3.5-5zM1213.5,604.5l2.5,0 2-3.5-2-1.5zM1223,585.5l2,2 2.5-5-2-1.5zM1236,562.5l2,2 3-4.5-2-2zM1265,523l2.5,2 3.5-4-2.5-2zM1330.5,471.5l3,2.5 6-2.5-2.5-3zM1343,466l3,3 6.5-2.5-3-3zM1257,538l2,2 3.5-4.5-2.5-2zM1287.5,505l2.5,2 4.5-3.5-2.5-2.5zM1333.5,474l3,3 6-2.5-3-3zM1397,457.5l3,4 8.5,0-3-4zM1433,459.5l3.5,4.5 10,2.5-3-5zM1324.5,483l3,2.5 5.5-3-2.5-2.5zM1362,467.5l3,3 7-1.5-3-3.5zM1272.5,529l2.5,2.5 3.5-4-2.5-2.5zM1284,517l2.5,2.5 4.5-4-2.5-2zM1311.5,495l2.5,2.5 5.5-3-3-2.5zM1411.5,465.5l3.5,4 9,.5-3.5-4zM1267.5,539.5l2.5,2 3.5-4-2.5-2zM1520,513.5l6.5,10 11,11.5 1,1 1.5-3.5-10.5-10.5zM1259.5,554l2.5,2 3.5-4-2.5-2zM1266.5,545.5l2,2.5 4-4.5-2.5-2zM1277,533.5l2.5,2 4-4-2.5-2zM1293.5,518l2.5,2 4.5-3.5-2.5-2.5zM1322,497l2.5,3 5.5-3-2.5-3zM1327.5,494l2.5,3 5.5-3-2.5-3zM1508.5,508.5l5.5,9 9,8 11,10.5-7.5-12.5-9.5-8zM1241,586.5l2.5,2 2.5-4.5-2-2zM1244,582l2,2 3-4.5-2.5-2zM1324.5,500l3,2.5 5.5-3-3-2.5zM1373.5,481l3,3 7.5-1-3-3.5zM1396,477.5l3,4 8,0-3-4zM1461,487l3.5,5.5 12,5-4-6zM1240.5,593l2.5,1.5 2.5-4.5-2-1.5zM1376.5,484l3,3.5 7.5-1-3-3.5zM1391.5,482l3,4 7.5-.5-3-4zM1476.5,497.5l4,6.5 13.5,7.5-5-7zM1273.5,552l2.5,2 3.5-4-2.5-2zM1292.5,532.5l2.5,2 4.5-3.5-2.5-2.5zM1297,528.5l2.5,2.5 4-3.5-2.5-2.5zM1335.5,502.5l3,3 5.5-3-3-2.5zM1347,497l3,3.5 6-2.5-3-3zM1379.5,487.5l3,4 7.5-1-3-4zM1382.5,491.5l3,3.5 7.5-1-3-3.5zM1397.5,489.5l3,4 8,0-3-4zM1485,510.5l4.5,7 14.5,10-5.5-8zM1498.5,519.5l5.5,8 8.5,6.5 9,8.5-6.5-11-8.5-6.5zM1285.5,548.5l2.5,2 4-3.5-2.5-2.5zM1310.5,526.5l3,2.5 4.5-3.5-2.5-2.5zM1465,505l4,6 12,6-4-6.5zM1264,578.5l2.5,2 3-4-2.5-2zM1355.5,506.5l3,3 6-2-3-3zM1374.5,501l3,3.5 7-1.5-3-3.5zM1510,536.5l6.5,10.5 11,10.5 3,3.5 1,1 .5-1.5 .5-1-2.5-4-11-11zM1335.5,519.5l3,3 5.5-3-3-3zM1516.5,547l8,12.5 6.5,7 3.5,3.5 1.5-3-.5,0-1.5-2.5-6.5-7zM1297,551.5l2.5,2.5 4-4-2.5-2zM1284.5,569l2.5,2 3.5-4-2.5-2zM1288,565l2.5,2 4-3.5-2.5-2.5zM1303.5,550l2.5,2.5 4.5-3-2.5-3zM1336,528l2.5,3 5.5-3-3-2.5zM1358,518l3,3.5 6-2-3-3.5zM1398,510l3,4 7.5,0-3-4.5zM1470.5,524.5l4,6.5 13,7-5-7zM1298,560l2.5,2 4-3.5-2.5-2.5zM1453,521.5l4,5.5 10.5,4.5-4-6zM1308.5,555l3,2.5 4-3-2.5-2.5zM1313,552l2.5,2.5 4.5-3.5-2.5-2.5zM1358,526.5l3,3.5 5.5-2-2.5-3.5zM1352.5,537.5l2.5,3 6-2-3-3.5zM1418.5,527l3.5,4.5 8.5,1-3.5-4.5zM1330,553.5l2.5,3 4.5-3-2.5-3zM1339.5,548l2.5,3 5.5-2.5-3-3zM1358,543.5l3,3.5 5.5-2-3-3.5zM1502,571.5l7.5,11.5 5,5 3,2.5 1,1 1-3.5zM1372.5,543.5l3,3.5 6-1.5-3-3.5zM1333,565l3,2.5 4.5-2.5-2.5-3zM1363.5,550.5l3,3 6-1.5-3-3.5zM1388,544.5l3,3.5 7-.5-3.5-4zM1441.5,548l4,5.5 9.5,3-4-5.5zM1372.5,552l3,3.5 6-1.5-3-3.5zM1420,548l3.5,4.5 8,1.5-3.5-5zM1477.5,567.5l5.5,8 14.5,11-7-10zM1346,571l3,3 5-2.5-3-3zM1351,568.5l3,3 5-2-3-3zM1367,562.5l3,3 5.5-1.5-3-3.5zM1364.5,567.5l2.5,3.5 6-2-3-3.5zM1481,583.5l6.5,9 7.5,6 8.5,6-8-10zM1346.5,579.5l3,3 5-2-3-3.5zM1351.5,577l3,3.5 5-2.5-3-3zM1359.5,578l3,3.5 5-2-3-3.5zM1438.5,573l4,5.5 9.5,3.5-4.5-6zM1457.5,579.5l4.5,7 11.5,6-5.5-7.5zM1384.5,575l3.5,4 6-1-3-4zM1434,576.5l4,5 9,3-4.5-6zM1486.5,601l7,3.5 9,0 5,0 6.5,0-6.5,0-5,0-8.5,0zM1341,596.5l3,3 4.5-2.5-3-3zM1472.5,601l6,3.5 7,0 7.5,0-7.5,0zM1366,593.5l3,3.5 5-1.5-3-3.5zM1407.5,586.5l3.5,4.5 7,.5-3.5-5zM1418,591.5l3.5,4.5 8,1.5-4-5zM1386,601.5l3.5,3 5.5,0-3-4z"/>
<path fill="#004fca" d="M609.5,603l3-3.5-5-2-3.5,3.5zM604,601l3.5-3.5-5.5-1.5-3,3.5zM587.5,597l3-4-6-1-3,4.5zM590.5,593l3.5-3.5-6-1.5-3.5,4zM525,600.5l4.5-6.5-9.5,4-5,6.5zM599.5,590.5l3-3.5-5.5-1.5-3,4zM588,588l3-3.5-6-1-3,4zM558,574l3.5-4.5-7.5,1-4,4.5zM542,577l4-5.5-8.5,2-4,6zM600.5,573l3-3.5-6-1.5-3,4zM582,570l3.5-4-6.5-.5-3.5,4zM508,585.5l5-7-11.5,6.5-5.5,8zM481.5,604l7-10.5-7.5,6-9,5-5,0-6.5,0 6.5,0 5.5,0zM651.5,594l2.5-3-4-3-2.5,3zM591.5,567l3-4-6-1-3,4zM523,574l4.5-6-10,4-4.5,6.5zM513,578.5l4.5-6.5-10.5,5-5.5,8zM488.5,593.5l6-9-14.5,11-8,9 9-5zM654,591l3-2.5-4.5-3-2.5,2.5zM615,564.5l2.5-3-5.5-2.5-2.5,3.5zM531.5,562l4-5.5-9,3-4.5,6zM588.5,553.5l3-4-6.5-1-3,4zM638.5,562.5l2.5-3-4.5-2.5-3,2.5zM623.5,555l2.5-3.5-5-2-3,3zM456,599.5l5.5-8.5 4.5-6.5-5.5,5-6,6.5-3,3.5 1.5,3.5zM591,541l3.5-3.5-6.5-1-3.5,3.5zM687.5,594l2.5-2.5-3.5-3.5-2,2zM618,544l3-3-5.5-2-3,3zM474,572.5l6.5-10-8,6.5-9.5,8.5-4.5,7-5.5,8.5 6-7 5.5-5zM453,593l5.5-8.5 4.5-7-5.5,5.5-6.5,7-1,1.5 1,3.5zM615.5,539l3-3.5-6-2-3,3.5zM702,601l2.5-2-3-4-2.5,2zM698,591l2.5-2-3.5-4-2,2zM660.5,554.5l3-2.5-4.5-3-2.5,2.5zM597,525l3-3.5-6.5-1-3,3.5zM590.5,524l3-3.5-7-1-3,3.5zM583.5,523l3-3.5-7-1-3.5,4zM504,539l4.5-6.5-12,6-5,7.5zM477.5,556l5.5-9-7.5,5.5-8,7-8,12 9.5-9zM706.5,597l2.5-2-3-4-2.5,2zM693,575l2-2-3.5-4-2,2zM685.5,567.5l2.5-2.5-3.5-3.5-2.5,2zM559.5,514.5l3.5-4-8.5,.5-3.5,4.5zM551,515.5l3.5-4.5-8.5,1-3.5,5zM512.5,526l4.5-5.5-11.5,4.5-4.5,6.5zM707.5,583l2.5-2-3.5-4.5-2,2.5zM687,559l2.5-2-4-4-2.5,2.5zM595.5,508.5l3-3.5-7-1.5-3,4zM581.5,506.5l3-4-7.5-.5-3,4zM498,524.5l4.5-6.5-12.5,7-5,7.5zM485,532.5l5-7.5-14,9.5-6,9zM605.5,506.5l2.5-3.5-6.5-1.5-3,3.5zM591.5,503.5l3-3.5-7-1-3,3.5zM717.5,581l2.5-2-3-4-2.5,2zM705,564.5l2-2-3-4-2.5,2zM694,552.5l2.5-2-3.5-4-2.5,2zM597.5,496.5l3-3.5-7-1.5-3,4zM532,498.5l3.5-5-10,3-4,5zM653.5,514.5l3-3-5-3-3,3zM593.5,491.5l3-3.5-7-1-3,3.5zM675,525.5l2.5-2.5-4.5-3.5-2.5,2zM738,597.5l2.5-2-3-4.5-2,2zM542.5,484l3-4.5-9.5,2-3.5,4.5zM472.5,514.5l5-8-15.5,12-6.5,10 9-7.5zM441.5,537.5l8-12.5-11.5,11.5-7,8.5-1.5,1.5 1.5,3 4-4.5zM702.5,537.5l2.5-2-3.5-4-2.5,2zM482.5,499.5l4-7-14,9-5,8zM737,579l2-2-2.5-4.5-2.5,2zM640.5,486l2.5-3-6-3-2.5,3zM628,480.5l3-3-6.5-2.5-2.5,3.5zM747,590.5l2-1.5-2.5-4.5-2,1.5zM711,537.5l2.5-2-3.5-4-2.5,2zM704,529.5l2.5-2-4-4.5-2.5,2.5zM674.5,502.5l2.5-2.5-4.5-3.5-3,2.5zM618,473l3-3-7-2-2.5,3zM546,467.5l3.5-4.5-10,1.5-3,4.5zM749,589l2-1.5-2.5-4.5-2,1.5zM733,562l2-2-3-4.5-2,2zM651.5,483l2.5-2.5-5.5-3-2.5,2.5zM539.5,464.5l3.5-4.5-10,2-3.5,5zM753.5,592l2.5-1.5-2.5-4.5-2.5,1.5zM726,547l2.5-2-3.5-4.5-2,2zM705,521l2.5-2-4-4-2.5,2zM587.5,458.5l3-3.5-8.5-.5-3,3.5zM499,473.5l3.5-5.5-12.5,6-4,6zM707.5,519l2.5-2-4-4-2.5,2zM514.5,463l3.5-5-11.5,4-4,6zM502.5,468l4-6-12.5,5.5-4,6.5zM762.5,598.5l2-1.5-2-5-2.5,1.5zM727.5,538.5l2.5-1.5-3.5-4.5-2.5,1.5zM698,504.5l2.5-2-4-4-2.5,2zM549.5,451l3-4-10,1-3,4.5zM769,604.5l2,0-2-4.5-2,1.5zM692,494.5l2.5-2.5-4.5-3.5-2.5,2zM639,460.5l2.5-3-6.5-2.5-2.5,2.5zM604,449.5l3-3.5-8-1.5-2.5,3.5zM571,446l3-4-9,0-3,4zM532,450l3.5-4.5-11,2.5-3,5zM766.5,595.5l2.5-1.5-2.5-5-2,1.5zM755,572l2-2-2.5-4.5-2,1.5zM722,521.5l2.5-2-3.5-4-2.5,2zM653.5,463.5l3-3-6-3-2.5,3zM628.5,452.5l3-3-7-2.5-3,3zM621.5,450l3-3-7-2.5-3,3.5zM624.5,447l3-3-7.5-2.5-2.5,3zM549,439.5l3-4.5-10,1.5-3.5,4.5zM528,443.5l3-5-11,3-3.5,5zM769,587.5l2-1.5-2.5-4.5-2,1.5zM754.5,559l2-1.5-2.5-4.5-2.5,1.5zM704,492l2.5-2-4-4.5-3,2.5zM699.5,488l3-2.5-4.5-4-3,2.5zM580,434.5l3-3.5-9-.5-3,4zM508.5,445l3-5-12,4.5-3.5,6zM775,596l2.5-1.5-2.5-5-2,1.5zM766.5,576.5l2-1.5-2.5-4.5-2,1.5zM761.5,567l2.5-1.5-2.5-4.5-2.5,1.5zM710.5,494l2.5-2-4-4.5-2.5,2.5zM555,431l3-4-10,1-3,4zM691,471.5l3-2.5-5-4-3,2.5zM659,449.5l2.5-2.5-6-3.5-2.5,3zM633,438l3-3-7-2.5-3,3zM618.5,433l3-3-7.5-2-3,3.5zM548,428l3-4.5-10.5,1.5-3,4.5zM443.5,475.5l5-8.5-9.5,8-10.5,10-7,12.5 12-12.5zM723.5,499l2.5-2-4-4.5-2.5,2zM621.5,430l3-3-7.5-2-3,3zM670.5,448l2.5-2.5-6-4-2.5,3zM689,456.5l3-2-5.5-4-2.5,2zM684,452.5l2.5-2-5-4-3,2.5zM655,435l2.5-2.5-6.5-3-2.5,2.5zM612,420l2.5-3.5-8-1.5-3,3zM524.5,420.5l3.5-4.5-12,3-3,5zM785.5,589l2-1-2-5-2,1zM719.5,479.5l2.5-2-4.5-4.5-2.5,2zM651,429.5l3-3-6.5-3-3,3zM516,419l3-5-12,4-3.5,5zM503.5,423l3.5-5-13,5-3.5,5.5zM793.5,602.5l2-1-2-5-2,1zM791.5,597.5l2-1-1.5-5-2.5,1zM494,423l3-5.5-13.5,6-3.5,6zM783.5,571.5l2.5-1-2.5-5-2,1zM724.5,475.5l2.5-1.5-4-4.5-2.5,1.5zM697.5,450l2.5-2.5-5-4-3,2zM692,445.5l3-2-5.5-4-2.5,2.5zM469,431.5l3.5-6.5-15.5,9.5-4,7zM435.5,456l4.5-8.5-10,8.5-10.5,10.5-6.5,12 12-13zM413,478.5l6.5-12-6,6.5-7,8.5-1.5,1.5 1.5,3zM779,555.5l2.5-1.5-2.5-5-2,1.5zM731,478.5l2.5-2-4-4.5-2.5,2zM589,400.5l2.5-3.5-9.5-.5-3,3.5zM579,400l3-3.5-9.5-.5-3,4zM569.5,400l3-4-10.5,0-3,4zM525.5,405l3-4.5-12.5,3-3,4.5zM487,418l3-5.5-14,6.5-3.5,6zM472.5,425l3.5-6-15.5,9-3.5,6.5zM419.5,466.5l5.5-10-11.5,12-7,7.5-8,10 1.5,3 2-2.5 4.5-5 7-8.5zM754.5,505l2.5-1.5-3.5-5-2.5,1.5zM733.5,476.5l2.5-2-4-4.5-2.5,2zM687,433l2.5-2-5.5-4-3,2.5zM601,398.5l3-3.5-9.5-1-3,3zM401.5,482l-.5-.5 2-3.5 4-7-7,8.5zM774,533l2-1.5-2.5-5-2.5,1.5zM757,503.5l2-2-3-4.5-2.5,1.5zM724,461l2.5-2-4.5-4.5-2.5,2zM734.5,468l2.5-1.5-4-5-2.5,2zM647.5,403.5l3-2.5-7.5-3-3,2.5zM640,400.5l3-2.5-8-3-3,3zM413,459l5.5-10.5-11,12-13,16 2,2.5 4-5 6.5-8.5zM807.5,600.5l2-1-2-5.5-2,1.5zM781,535l2-1.5-2.5-5-2,1.5zM733,461.5l3-1.5-4.5-5-2.5,2zM729,457l2.5-2-4-4.5-2.5,2zM715.5,443.5l3-2-5-4.5-2.5,2zM700.5,430.5l3-2.5-5.5-4-3,2.5zM804,584l2-1-1.5-5-2,1zM646,395l3-3-8-2.5-3,2.5zM630,389.5l3-3-8.5-2.5-3,3.5zM603.5,383.5l3-3-9.5-1.5-3,3.5zM808,588l2-1-1.5-5-2.5,1zM790,542.5l2.5-1.5-2.5-5-2.5,1.5zM706,426l3-2-5.5-4.5-3,2.5zM606.5,380.5l3-3.5-9.5-1.5-3,3.5zM816.5,604.5l2,0-1.5-3.5-2,1zM815,602l2-1-1.5-5-2,1zM812,592l2-1-2-5.5-2,1.5zM800.5,561.5l2.5-1.5-2-5-2.5,1.5zM756,475.5l2.5-1.5-3.5-5-2.5,1.5zM600,375.5l3-3.5-10-1-3,3.5zM494.5,387l3-5-14,5.5-3,5zM812,585.5l2-1-1.5-5-2,1zM790,529.5l2-1.5-2.5-5-2,1.5zM787.5,524.5l2-1.5-2-5-2.5,1.5zM701,413l2.5-2-5.5-4.5-3,2.5zM603,372l3-3-10-1.5-3,3.5zM782,507.5l2.5-1-3-5.5-2,1.5zM754,462.5l2.5-2-4-5-2.5,2zM400,445l5-10.5-10.5,11.5-6,7.5-1.5,2-.5,.5 2,2.5zM799,537l2-1-2-5-2.5,1zM792,521.5l2.5-1-2.5-5-2.5,1zM489,377l3-5-15,6-2.5,5.5zM458.5,391.5l3-5.5-16.5,10-3,6zM824.5,603l2-1-1.5-5-2,1zM805.5,546.5l2-1.5-2-5-2.5,1zM784,500l2.5-1.5-3-5.5-2,1.5zM685,390l3-2.5-7-4-3,2.5zM519.5,364l3-4.5-13.5,3.5-3,4.5zM826.5,602l2-1-1.5-5-2,1zM825,597l2-1-1.5-5.5-2,1zM817,571l2-1-2-5-2,1zM796.5,519l2.5-1-2.5-5.5-2.5,1.5zM791.5,509l2.5-1.5-2.5-5-2.5,1zM783.5,493l2.5-1-2.5-5.5-2.5,1.5zM761.5,457.5l2.5-1.5-3.5-5.5-2.5,2zM494.5,367.5l3-5-15,5.5-2.5,5zM413.5,416.5l3.5-8-8.5,8-9,9.5-10.5,12-6,7.5-3,4 2,2.5 1-1 6-8 5.5-7 10-10.5zM822.5,580.5l2-1-2-5.5-2,1zM820.5,575l2-1-1.5-5-2,1zM774,471l2.5-1.5-3-5-2.5,1.5zM753,440.5l2.5-1.5-4-5-3,1.5zM744.5,431l2.5-2-4-5-3,2zM575,351l3-3.5-12,0-2.5,4zM799,511.5l2-1.5-2.5-5-2,1zM779,468l3-1.5-3.5-5-2.5,1.5zM772.5,458l3-1.5-3.5-5.5-2.5,1.5zM812,530l2.5-1-2-5.5-2.5,1zM764.5,441l3-2-4-5-2.5,1.5zM459.5,366.5l2.5-5-15.5,8.5-17,11-2.5,6.5 16.5-12zM814.5,529l2-1.5-2-5-2,1zM508,344l2.5-4-14.5,4-3,4.5zM838.5,596l2-.5-1.5-5.5-2,1zM820.5,538.5l2-1.5-1.5-5-2.5,1zM841.5,600.5l2-1-1-5-2,1zM822.5,537l2.5-1-2-5-2,1zM792.5,468l2.5-1.5-3-5.5-2.5,1.5zM747.5,405l3-2-5-5-2.5,2zM691,356l3-2.5-7.5-4-3,2.5zM827,535l2.5-1-2-5.5-2.5,1.5zM815,503l2.5-1-2.5-5.5-2.5,1zM727,376.5l3-2-6-5-3,2zM560.5,322l3-3.5-13.5,.5-3,4zM547,323l3-4-14.5,1.5-2.5,4zM845,587.5l2-1-1.5-5.5-2,1zM843.5,582l2-1-1.5-5-2,.5zM837.5,561l2.5-1-2-5.5-2,1zM819.5,507l2-1-2-5.5-2,1.5zM769,415.5l3-1.5-4-5.5-3,1.5zM681.5,343l3-2.5-8-4-3.5,2.5zM831.5,533l2-1-1.5-5.5-2.5,1zM819.5,500.5l2.5-1-2.5-5.5-2,1zM538,316.5l3-4-15,2-2.5,4zM508,321.5l2.5-4-15.5,4-2.5,4.5zM849,585.5l2-1-1.5-5-2,1zM845,569.5l2-1-1.5-5-2,1zM843.5,564.5l2-1-1.5-5.5-2,1zM837,543l2-1-1.5-5.5-2,1zM717.5,356l3-2.5-6.5-4.5-3.5,2zM417,359.5l2-6-13.5,10.5-14.5,13.5-3,7.5 15-14zM851,584.5l2-.5-1.5-5.5-2,1zM804.5,454.5l2.5-1.5-3-5.5-2.5,1.5zM765,394.5l2.5-1.5-4.5-5.5-3,2zM655,320.5l3-2.5-10-3.5-3.5,3zM598.5,308.5l3-3-13-1-3,3zM558,307.5l2.5-3.5-14.5,.5-2.5,4zM824.5,492l2.5-1-2.5-6-2.5,1.5zM822,486.5l2.5-1.5-2-5.5-2.5,1.5zM807,453l2.5-1-3-5.5-2.5,1zM748,371.5l3-1.5-5.5-5.5-3,2zM361,407l3.5-10-4.5,6-2.5,3.5-.5,.5 2.5,2zM824.5,485l2.5-1-2.5-5.5-2,1zM817.5,468.5l2.5-1-2.5-5.5-2.5,1zM563.5,300l3-3.5-15,.5-2.5,4zM847,544.5l2.5-1-1.5-5.5-2.5,1zM833,500.5l2.5-1-2-5.5-2.5,1zM815,456.5l2.5-1.5-3-5.5-2.5,1zM566.5,296.5l2.5-3.5-15,.5-2.5,3.5zM397.5,357l2-6.5-14,12.5-15,16-3,8.5 8.5-9 7.5-8zM861.5,592l2-.5-1.5-5.5-2,1zM837.5,505.5l2-1-1.5-6-2.5,1zM817.5,455l2.5-1-3-5.5-2.5,1zM399.5,350.5l2-6-14,12-14.5,15-2.5,7.5 15-16zM865.5,602l2-.5-1-5.5-2,.5zM858.5,570l2-1-1.5-5.5-2,1zM843.5,515.5l2-1-1.5-5.5-2.5,1zM839.5,504.5l2.5-1-2-6-2,1zM838,498.5l2-1-2-5.5-2,1zM831.5,482l2.5-1-2-5.5-2.5,1zM827,471l2.5-1.5-2-5.5-2.5,1zM808.5,431.5l3-1.5-3.5-5.5-2.5,1.5zM749,354l3.5-2-6-5.5-3.5,2zM690.5,315l3.5-2.5-9.5-4-3.5,2.5zM600.5,291l3-3.5-14-1-3,3zM401.5,344.5l1.5-6-13.5,11.5-14.5,14-2,7.5 14.5-15zM373,371.5l2-7.5-7.5,8.5-8.5,10-9,12-2.5,3.5-1,2-.5,.5 2.5,2 .5-.5 2.5-4 5-6.5 8.5-11zM866.5,596l2-1-1.5-5-1.5,.5zM859,563.5l2-.5-1-5.5-2,1zM726.5,331.5l3-2.5-7.5-5-3,2.5zM711,321.5l3.5-2-8.5-5-3.5,2.5zM603.5,287.5l3-3.5-14-1-3,3.5zM511,291.5l2-4.5-17.5,4-2,4zM870.5,604.5l2,0-1-4.5-2,.5zM867,590l2-1-1-5.5-2,1zM860,557.5l2-1-1.5-5.5-2,1zM849.5,519l2-1-1.5-5.5-2,1zM781,378l3-2-4.5-5.5-3,1.5zM872.5,604.5l2,0-1.5-5.5-1.5,1zM830,456.5l2.5-1.5-2.5-5.5-2.5,1zM813.5,422l3-1.5-3-5.5-3,1zM810.5,416l3-1-3.5-6-3,1.5zM845,489.5l2.5-1-2-6-2,1zM841.5,478l2-1-2-5.5-2.5,1zM778,363.5l3-1.5-5-6-3,1.5zM794.5,379l3-1.5-4.5-6-3,1.5zM716.5,308l3.5-2.5-8.5-4.5-4,2zM643,279.5l3.5-3-13.5-3-3,3.5zM871.5,559l2-.5-1-5.5-2.5,.5zM818.5,405.5l3-1.5-3.5-5.5-3,1zM592.5,265l3-3.5-16.5-.5-3,3.5zM880,591l2-.5-1-5.5-2,.5zM879,585.5l2-.5-1-5.5-2,.5zM878,580l2-.5-1-5.5-2,1zM863,514l2-1-1.5-5.5-2,1zM830,422l3-1-3-6-2.5,1zM689,282.5l3.5-2.5-11-4.5-4,2.5zM879,574l2-.5-1-5.5-2,.5zM868,524.5l2-1-1.5-5.5-2,1zM806.5,373.5l3-1.5-4-6-3,1.5zM784,344l3-1.5-5-6-3.5,1.5zM773,332.5l3.5-2-6-5.5-3.5,1.5zM657,268l3.5-3-13.5-3-3.5,3zM886.5,604.5l2,0-1-4.5-2,.5zM870,523.5l2.5-.5-1.5-6-2.5,1zM859.5,484l2-1-1.5-5.5-2.5,.5zM888.5,604.5l2,0-1-5-2,.5zM845.5,436.5l3-1-2.5-6-2.5,1zM833,406.5l2.5-1-3-6-2.5,1zM604.5,251.5l3.5-3-17-1.5-3,3.5zM885,572l2-.5-1-5.5-2,.5zM832.5,399.5l3-1-3-6-3,1zM742,293l3.5-2-8.5-5.5-3.5,2zM882.5,549.5l2-.5-1-6-2,1zM781,319.5l3.5-1.5-6-6-4,2zM696.5,265.5l4-2.5-12-4.5-4,2.5zM643,250l4-3-16-3-3.5,3.5zM611,245l3.5-3-17.5-1.5-3,3zM890.5,582l2-.5-.5-5.5-2,.5zM884.5,549l2.5-1-1.5-5.5-2,.5zM631,244l3.5-3-16.5-2.5-3.5,3.5zM862.5,450.5l2.5-1-2-6-2.5,1zM692.5,256l3.5-2.5-13-4.5-3.5,2.5zM896.5,591.5l2-.5-1-5.5-2,.5zM863,443.5l2.5-.5-2-6-2.5,.5zM844,395.5l3-1.5-3-6-2.5,1zM824.5,358l3-1-3.5-6-3.5,1zM807.5,333.5l3.5-1.5-5-6-3.5,1zM333.5,332l0-6-7.5,9.5-7.5,11-8.5,13.5-2,4-1,2 2.5,1.5 8.5-13.5 8-12zM761,283l4-2-8-5.5-4,2zM484.5,237.5l1-4-36,10-1,4zM590.5,226l3.5-3.5-21-.5-2.5,3.5zM896,551.5l2-.5-1-6-2,.5zM893,534.5l2-.5-1-6-2,1zM900,562l2-.5-1-5.5-2,.5zM877,452.5l2.5-1-2-6-2.5,1zM873.5,440.5l2.5-1-2-6-2.5,1zM816.5,321.5l3.5-1-5-6.5-3.5,1zM895.5,522l2-.5-1-6-2.5,.5zM863.5,403l3-1-2.5-6.5-3,1zM777.5,276l4-2-8-6-4.5,1.5zM674.5,227l4-2.5-17-4-4,3zM332.5,304l-.5-5-13.5,16.5-7,10-7.5,11.5 0,7 7.5-12.5 7.5-10zM896.5,515.5l2-.5-1-5.5-2,.5zM882,451l2.5-1-2-6-2.5,1zM880,445l2.5-1-1.5-6-2.5,1zM819,312.5l3.5-1.5-5-6.5-4,1.5zM755,255.5l4.5-2-10-6-4.5,2.5zM643.5,217l4-3-19.5-3-4,3.5zM559,211.5l2.5-3.5-24,1-2,3.5zM904.5,549l2-.5-1-5.5-2,.5zM902.5,538l2-.5-1-6-2,.5zM893,486l2-.5-1-6-2.5,.5zM891.5,480l2.5-.5-1.5-6-2.5,.5zM871.5,407.5l3-1-2.5-6-2.5,.5zM822.5,311l4-1-5-6.5-4,1zM769,260l4.5-2-9.5-6.5-4.5,2zM912.5,593l2-.5-1-5.5-1.5,.5zM797,277l4.5-1.5-7.5-6.5-4,1.5zM730.5,234l5-2-13.5-5.5-4.5,2zM906.5,537l2.5-.5-1-6-2,.5zM854,348l3-1-3-6.5-3.5,1zM847,335l3.5-1-4-6.5-3.5,1zM917,597.5l2,0-1-5.5-1.5,0zM916.5,592l1.5,0-.5-5.5-2,0zM880,405l2.5-1-2-6-2.5,.5zM818,287.5l4-1.5-6-7-4,1.5zM544,198l2-3.5-25.5,1.5-25.5,3-.5,4 24.5-3.5zM301.5,313.5l-1-5-7,10.5-7,12.5-7.5,15-8,18.5 3,1.5 1-2.5 4.5-10.5 8-16 7-13zM919,597.5l1.5-.5-.5-5.5-2,.5zM898.5,465.5l2.5-.5-1.5-6-2.5,.5zM882.5,404l3-.5-2-6.5-3,1zM874,378.5l3-.5-2.5-6.5-3,1zM846,319.5l4-1-4-7-4,1.5zM842,313l4-1.5-4.5-6.5-4,1zM833,299.5l3.5-1.5-5-6.5-4,1zM546,194.5l2-4-26,2-26,2.5-1,4 25.5-3zM920.5,597l2-.5-.5-5.5-2,.5zM915.5,552.5l2-.5-1-5.5-2,.5zM908.5,506.5l2.5-.5-1-6-2.5,.5zM841.5,305l4-1-5-7-4,1zM923,602l2-.5-.5-5.5-2,.5zM916.5,546.5l2.5-.5-1-6-2,.5zM903.5,464.5l2.5-.5-1.5-6-2.5,.5zM811.5,262.5l4.5-1.5-7.5-6.5-4.5,1.5zM911,494l2.5-.5-1-6-2.5,.5zM898,427l2.5-.5-1.5-6-3,.5zM829,275l4-1.5-6-7-4.5,1.5zM909.5,469.5l2-.5-1-6-2.5,.5zM871,335.5l3.5-.5-3-7-3.5,1zM411.5,203.5l-1.5-4-34.5,14.5 2,3.5zM923.5,550.5l2,0-.5-6-2,.5zM906,438.5l2.5-.5-1.5-6.5-2.5,1zM900,413.5l3-.5-1.5-6.5-3,.5zM887,368.5l3.5-1-2.5-6.5-3,.5zM825,258.5l5-1.5-7-7-5,1.5zM450,188.5l-1-3.5-40.5,11 1.5,3.5zM375.5,214l-2-3.5-31,18 2.5,3.5zM916,480.5l2.5-.5-1-6-2.5,.5zM912,456.5l2.5-.5-1-6-2.5,.5zM909.5,444l2.5-.5-1-6-2.5,.5zM883.5,347.5l3-.5-2.5-7-3.5,1zM878,334l3.5-1-3-6.5-3.5,.5zM864.5,306.5l4-1-3.5-7-4,1zM932,594.5l2,0-.5-5.5-2,0zM926.5,538.5l2-.5-.5-5.5-2.5,.5zM865,298.5l3.5-1-4-7-4,1zM623.5,171.5l4.5-3-31-2-3.5,3.5zM913.5,437l2.5-.5-1-6.5-2.5,.5zM910,418l2.5-.5-1.5-6.5-2.5,.5zM908.5,411.5l2.5-.5-1.5-6-2.5,.5zM902,386l3-.5-1.5-6.5-3,.5zM774,204.5l6-2-14-6.5-6,2zM500.5,169.5l.5-3.5-28,3-27,5 1.5,3.5 26-4.5zM936,594l2,0-.5-6-2,.5zM935,583l2-.5-.5-5.5-2,.5zM919.5,455l2.5-.5-1-6-2.5,.5zM937,582.5l2,0-.5-5.5-2,0zM927,491l2.5-.5-1-6-2,.5zM924,466.5l2,0-.5-6.5-2.5,.5zM917.5,429.5l3-.5-1.5-6-2.5,.5zM883.5,310l3.5-1-3-7-4,.5zM819,222.5l5.5-1.5-9.5-7.5-6,1.5zM931,502l2,0-.5-6-2.5,.5zM929.5,490.5l2-.5-.5-6-2.5,.5zM915.5,403.5l2.5-.5-1-6.5-3,.5zM824.5,221l5.5-1.5-9.5-7.5-5.5,1.5zM778,192l6.5-2-15.5-7-6.5,2zM536,156.5l1.5-4-34.5,2.5-33.5,3.5 1,3.5 32.5-3.5zM288.5,247.5l-3-3-11.5,15 3.5,3.5zM941.5,593l2,0-.5-5.5-2,0zM933,502l2.5-.5-1-6-2,.5zM285.5,244.5l-3.5-3.5-11,15.5-10.5,17 3,3.5 10.5-17.5zM941.5,565l2-.5-.5-5.5-2,.5zM937,519l2.5,0-.5-6-2.5,.5zM934.5,495.5l2.5,0-.5-6-2.5,0zM895,307.5l3.5-1-2.5-7-4,1zM892,300.5l4-1-3-7.5-4,1zM857.5,241l5-1-6-8-5.5,1.5zM501.5,151.5l0-3.5-33.5,3.5-31.5,4.5 2.5,3.5 30.5-4.5zM335.5,195l-4-3-15,10-14,11 4,3 14-11zM940.5,530.5l2-.5-.5-5.5-2,0zM937,495.5l2-.5-.5-6-2,.5zM933.5,465l2.5,0-1-6.5-2.5,.5zM920,382.5l3-.5-1.5-6.5-3,.5zM915.5,362.5l3-.5-1.5-7-3,1zM886,277.5l4.5-1-4-7.5-4.5,1zM882,270l4.5-1-4-7.5-4.5,1zM832.5,209l6-1.5-9.5-7.5-6.5,1.5zM621.5,146.5l5-3-41.5-1.5-3.5,3.5zM920,369l3.5-.5-1.5-7-3.5,.5zM917,355l3.5-.5-2-6.5-3,.5zM855,223l5.5-1-7-8-6,1.5zM406.5,158.5l-3.5-3.5-24,6.5 4.5,3zM948,575.5l2-.5-.5-5.5-2,.5zM938.5,464.5l2-.5-.5-6-2.5,.5zM922,361.5l3-.5-1.5-7-3,.5zM917,341l3.5-.5-2-7-3.5,.5zM915,334l3.5-.5-1.5-7-4,.5zM906.5,305.5l4-.5-2.5-7.5-4,.5zM883,253l5-1-4.5-7.5-5,1zM588.5,138.5l3.5-3.5-46,0-45.5,2 .5,3.5 43.5-2zM403,155l-4.5-3.5-24.5,7 5,3zM950.5,581l2-.5-.5-5.5-2,0zM949.5,564l2-.5-.5-5.5-2,.5zM908,297.5l4-.5-2.5-7.5-4.5,.5zM954.5,580.5l1.5-.5 0-5.5-2,.5zM953.5,569l2,0 0-5.5-2,0zM952.5,552l2,0 0-6-2.5,.5zM908,273.5l4.5-.5-3-7.5-4.5,.5zM292,188l-6-2.5-12.5,11.5 5.5,2zM214.5,331l-3-4-2,10.5-1.5,6-.5,2.5 3.5,.5 0-1.5 1-3zM954.5,552l2-.5 0-5.5-2,0zM947.5,457l2.5,0-.5-6.5-2.5,.5zM938,380l3-.5-1-6.5-3,.5zM937,373.5l3-.5-1-7-3,.5zM933.5,353l3-.5-1-7-3.5,.5zM922,303l4-.5-2-7.5-4,.5zM219.5,296l-3.5-2.5-3.5,13.5-4,16.5 3,3.5 4-17zM959,602l2,0 0-5.5-2,0zM959,596.5l2,0-.5-5.5-2,0zM951,469l2.5,0-.5-6-2.5,0zM950,457l2.5-.5-.5-6-2.5,0zM922,287.5l4-.5-2-7.5-4.5,.5zM890,217l6-1-5.5-8.5-6.5,1zM884,208.5l6.5-1-6.5-8-7,1zM777.5,143l10-2.5-14-3.5-16-3.5-10,2 16,3.5zM447,127l-4.5-3-21,2.5-20,3 6.5,3 19-2.5zM208.5,323.5l-3-3-1.5,8 3.5,1 0-1zM953.5,469l2-.5 0-6-2.5,.5zM950.5,438l2.5-.5-.5-6-2.5,0zM948,412.5l3-.5-1-6.5-2.5,.5zM205.5,320.5l-3-3-2,9.5-2,11-1,6.5 0,.5 3,1 .5-1 .5-3.5 2-11.5zM960.5,545.5l2,0-.5-6-2,.5zM955,456.5l2-.5 0-6-2.5,0zM951,412l2.5,0-.5-6.5-3,0zM949.5,399l3,0-1-7-3,.5zM930.5,286.5l4-.5-2-7.5-4,.5zM928.5,279l4-.5-2-7.5-4.5,.5zM911,231.5l5.5-.5-4-8-5.5,.5zM335,141l-8.5-2.5-21.5,8 8.5,2.5zM958.5,474.5l2.5,0-.5-6-2.5,0zM928.5,263l4.5-.5-2.5-8-4.5,.5zM926,255l4.5-.5-2.5-8-5,.5zM848.5,154l10-1.5-16.5-9-11,1.5zM627,111.5l7.5-3-38-1-39.5-.5-1.5,3.5 36.5,.5zM272.5,166l-7.5-2-12,11 7,1.5zM249,188.5l-6.5-2-9,12.5 6.5,2zM240,201l-6.5-2-7.5,13.5 5.5,2zM965.5,568l2,0-.5-5.5-2,0zM962.5,498.5l2,0-.5-6-2,0zM953,378.5l3,0-.5-7-3,.5zM937,278l4.5-.5-2-7.5-4.5,.5zM242.5,186.5l-7-1.5-8,12.5 6,1.5zM968,585l2-.5 0-5.5-2,.5zM953,351l3.5-.5-1-7-3,.5zM235.5,185l-7-1.5-8,12.5 7,1.5zM970,590.5l2-.5 0-5.5-2,0zM970,579l1.5,0 0-5.5-2,0zM968,522l2,0-.5-6-2,0zM967.5,510l2,0-.5-6-2,0zM958,364.5l3,0-.5-7-3.5,0zM951,307.5l4,0-1-7.5-4,0zM560,100.5l2-3.5-50.5,.5-47.5,2 8,3 43-1.5zM188.5,308.5l-3.5-1.5-2.5,17.5-.5,5.5 0,.5 3.5,.5 .5-4.5zM972,590l2,0 0-5.5-2,0zM971.5,573.5l2,0 0-6-2,.5zM970,522l2-.5 0-5.5-2.5,0zM969,492l2,0 0-6-2.5,0zM967,449.5l2.5-.5-.5-6-2.5,0zM965.5,424l2.5,0-.5-6.5-2.5,0zM958.5,336.5l3.5-.5-1-7-3.5,0zM951.5,284.5l4.5,0-1.5-8-4.5,.5zM921,185.5l7.5-.5-5-9-8,.5zM858,130l14-1-10.5-5-13-4.5-15.5,1.5 14,4.5zM833,121l15.5-1.5-15-4.5-19-4.5-17,2 19.5,4zM185,307l-4-1.5-3.5,35.5 3.5,.5zM971.5,498l2,0 0-6-2.5,0zM968.5,430l2.5,0-.5-6.5-2.5,.5zM965,371l3,0-.5-7-3,0zM936.5,203l7-.5-3.5-9-7,.5zM917.5,167l9-1-6.5-9.5-10,1zM327,110l-17-2.5-17,4.5-14,4.5 15,2 15-4.5zM973,480l2.5-.5-.5-6-2.5,0zM971,430l2.5,0 0-6.5-3,0zM968.5,384.5l3-.5 0-6.5-3,0zM968.5,377.5l3,0-.5-7-3,.5zM964,321.5l4,0-1-7.5-3.5,0zM963.5,314l3.5,0-.5-7.5-4,.5zM936.5,184.5l7.5-.5-3.5-9-8.5,.5zM973,417l3,0-.5-6.5-2.5,0zM971.5,384l3,0 0-6.5-3,0zM959,244.5l5.5-.5-1.5-8-5.5,0zM954.5,219.5l6-.5-1.5-8.5-6.5,0zM715,90l12-1.5 14-1.5-16.5-1-17.5-.5-19.5-1-21-.5-22.5-.5-24,0-49.5-.5-2.5,3.5 41,0 39,1 35.5,1zM568,86.5l2.5-3.5-47.5,.5-45,.5-21,.5-19.5,.5-18.5,1-16.5,1 12,1.5 10,1.5 31.5-1.5 35-1 38-.5zM262,115l-17.5-1.5-9,4.5-7.5,5 15,1 9-4.5zM243,124l-15-1-12,10 13,1zM176,276.5l-4-1-1.5,12.5-1,14 4,1 1.5-14.5zM173.5,303l-4-1-1,17-1,10-.5,12.5 3.5,0 1.5-21.5zM979.5,578.5l2,0 0-5.5-2,0zM976.5,430l2.5,0-.5-6.5-2.5,0zM971,314l4,0-.5-7.5-4,0zM970,299l4,0-.5-7.5-4,0zM966.5,260.5l4.5-.5-.5-8-5,.5zM962,227.5l5.5,0-1-8.5-6,0zM314,94.5l-28.5-1.5-12,2-10.5,2.5-16.5,5 23.5,1.5 9-2.5 10-2.5 11.5-2zM169.5,302l-4-1-1,17-1,20.5 3.5,.5 1.5-20zM980,473.5l2,0 0-6-2.5,0zM979,430l2.5-.5 0-6-3,0zM978,390.5l3,0-.5-6.5-3,0zM977.5,384l3,0 0-7-3,0zM971,260l5,0-.5-8-5,0zM175.5,204l-6.5-.5-2,15 6,.5zM983.5,584.5l2-.5-.5-5.5-1.5,0zM983,567.5l2,0 0-6-2,0zM982.5,485.5l2,0 0-6-2,0zM981,404l3,0 0-7-3,0zM979,328.5l3.5-.5 0-7-3.5,0zM964,164.5l9.5-.5-1.5-9.5-10.5,0zM221.5,101l-26.5-.5-6,5-4.5,5 21,.5 7-5zM175.5,164.5l-9-.5-2,12 8.5,.5zM973.5,164l9.5,0-.5-9.5-10.5,0zM174,130.5l-14.5,0-1,10.5 12.5,.5zM1847.5,130.5l-14.5,0-1,10.5 12.5,.5zM987,578.5l2,0 0-5.5-2,0zM987,567.5l2,0 0-6-2,0zM987,533l2,0 0-6-2,0zM987,491.5l2.5,0 0-6-2.5,0zM985.5,260l5,0 0-8-5,0zM991.5,192l7.5,0 1-9-8,0zM994.5,134.5l13.5,0 3.5-10.5-16,0zM991,544.5l2.5,0 0-5.5-2.5,0zM999,192l7.5,0 1-9-7.5,0zM1017,113.5l19.5,.5 6.5-5.5 8.5-5-25.5-1-5,5.5zM1804,130.5l-14.5,.5 5.5,10.5 12,0zM1818,253l-5,0 1,21.5 4.5-.5zM1820,338.5l-3.5,1 0,.5 3.5,0zM993,550.5l2,0 .5-6-2,0zM1815.5,300.5l-4,.5 .5,17 .5,10 .5,12 3.5-.5-.5-12.5 0-10zM995.5,515.5l2.5,0 0-6-2,0zM1001,321l3.5,0 .5-7-3.5,0zM1009.5,219l6,0 1.5-8.5-6.5-.5zM1035,135l13.5,1 10.5-10.5-15.5-.5zM999,473.5l2,0 .5-6-2.5,0zM1734,113l-18,1.5 10.5,4.5 8.5,5 15.5-1-7.5-5zM1807.5,302l-4,.5 1.5,17.5 .5,4.5 0,1.5 3.5,0 0-2.5-.5-5zM999,567.5l2,0 0-5.5-2,0zM999.5,533l2.5,0 0-5.5-2,0zM1005,377.5l3,0 .5-7-3.5,0zM1074,126.5l15,1 9.5-5 11-4.5-17-1.5-10,5zM1759,144l-11,1 9.5,11 10-1zM1002,533l2,.5 0-6-2,0zM1002,527.5l2,0 0-6-2,0zM1003,492l2,0 .5-6-2.5,0zM1005,436.5l2.5,0 .5-6.5-3,0zM1011.5,328.5l3.5,.5 .5-7.5-3.5,0zM1014,299.5l4,0 1-7.5-4,0zM1699.5,116.5l-15.5,1.5 12.5,4.5 10.5,4.5 13.5-1.5-9.5-4.5zM1748,145l-11,1.5 11,10.5 9.5-1zM1799.5,304l-3.5,1 1.5,17.5 1,5 0,3 0,.5 3.5,0-.5-10zM1004,533.5l2,0 0-6-2,0zM1004,527.5l2,0 .5-6-2.5,0zM1004,521.5l2.5,0 0-5.5-2,0zM1004.5,516l2,0 .5-6-2.5,0zM1004.5,510l2.5,0 0-6-2,0zM1013,350l3.5,.5 .5-7-3.5-.5zM1027,245l5.5,.5 2-8.5-5.5-.5zM1018.5,329l3.5,.5 1-7.5-3.5,0zM1029,261.5l4.5,0 2-7.5-5-.5zM1067,167.5l9,1 9-9.5-9.5-1zM1005.5,604.5l2,0 0-3-1.5,0zM1009,510l2,0 .5-5.5-2.5-.5zM1011,468l2.5,0 0-6-2.5,0zM1021,336.5l3.5,.5 1-7.5-3.5,0zM1729.5,160l-8.5,2 11,11 8-1.5zM1756.5,196l-6.5,1.5 7,13.5 6-1.5zM1009.5,545l2,.5 .5-6-2,0zM1015.5,430.5l3,.5 .5-6.5-3,0zM1017.5,405l3,0 .5-6.5-3,0zM1025.5,329.5l3.5,.5 1.5-7-4-.5zM1107,151l10,1.5 16.5-9-11-1.5zM1332.5,105l8.5,3 38.5-1 40,0-1.5-3.5-44,0zM1016,462l2.5,.5 .5-6.5-2.5,0zM1024,372l3,0 .5-7-3,0zM1025.5,358l3,.5 1-7-3.5-.5zM1043,262.5l4.5,.5 2.5-8-4.5-.5zM1061.5,213.5l6,1 5-8.5-6.5-1zM1117,152.5l10,1 17-8.5-10.5-1.5zM1734.5,186.5l-6.5,1.5 9.5,12.5 6-1.5zM1743.5,199l-6,1.5 8,13.5 6-1.5zM1781.5,312.5l-3.5,2 1.5,9.5 1.5,10 2,13 .5,1 3-.5 0-.5-.5-3.5-1.5-12-1.5-10.5zM1013,568.5l1.5,0 .5-6-2,0zM1027.5,365l3.5,.5 1-7-3.5,0zM1031.5,337.5l3.5,0 1.5-7-4,0zM1078,197.5l7,.5 7-8.5-7-1zM1085,188.5l7,1 8.5-8.5-8-1zM1166.5,136.5l11,2 13.5-4 16-4-11.5-2-15.5,4zM1728,188l-6.5,2 10,12.5 6-2zM1013.5,596.5l2,0 0-5.5-1.5,0zM1016.5,534l2,.5 .5-6-2.5,0zM1355,114.5l6,3.5 63-.5-1.5-3.5zM1721.5,190l-6,2 10,12.5 6-2zM1025.5,438l2.5,0 1-6-3-.5zM1080,216l6,1 6-8.5-6.5-1zM1361,118l5.5,3 59-.5-1.5-3zM1608,136l-7,3 26,7 7-3zM1703.5,180.5l-6.5,2.5 12.5,11.5 6-2.5zM1017.5,591l2,.5 .5-5.5-2-.5zM1023.5,493.5l2,0 .5-6-2,0zM1035,379.5l3,.5 1-6.5-3-.5zM1155,158.5l9,1.5 19.5-8-9.5-1.5zM1738.5,235l-5,2 8.5,16.5 4-2zM1069.5,257.5l5,1 3.5-8-5-.5zM1105,201.5l6.5,1 9-8.5-7-1zM1164,160l8.5,2 20-8-9-2zM1371.5,124.5l4.5,3.5 52.5-.5-1.5-3.5zM1023,563.5l2,0 .5-5.5-2,0zM1025,535l2,0 .5-5.5-2.5-.5zM1078,250.5l5,1 4.5-8-5-1zM1082.5,242.5l5,1 4.5-8-5-1zM1092,226.5l5.5,1 6-8-6-1zM1635.5,159.5l-6,3 19,8.5 5.5-3zM1746,275l-3.5,3 4,11 4,12.5 3.5-3-4-12.5zM1029,506l2.5,0 .5-5.5-2.5-.5zM1035,445l2.5,.5 1-6-2.5-.5zM1027.5,552.5l2,.5 .5-6-2,0zM1028,547l2,0 .5-5.5-2-.5zM1038.5,439.5l2.5,0 1-6-3-.5zM1049.5,368l3.5,0 1.5-6.5-3.5-.5zM1054,347.5l3.5,.5 1.5-7-3.5-.5zM1057.5,333.5l3.5,.5 2-7-3.5-1zM1092.5,244.5l5,1 5.5-8-5.5-1zM1038.5,458.5l2.5,0 1-6-2.5-.5zM1042.5,427l3,.5 1-6.5-3-.5zM1081,276l4.5,.5 4-7.5-5-.5zM1619,168.5l-4.5,3 18.5,8 5-3zM1033,536l2.5,0 .5-5.5-2.5-.5zM1035,512.5l2.5,.5 .5-6-2,0zM1053,382l3,.5 1.5-6.5-3-.5zM1311.5,146.5l6,3 36.5-3-4.5-3.5zM1723,267l-3.5,3 10,20.5 3-3.5zM1732.5,287l-3,3.5 4.5,11.5 5.5,14 5,17 3,10 1,2.5 3-1-9.5-32.5-5-13.5zM1030,603.5l2,.5 .5-5.5-2-.5zM1033.5,559l2,.5 .5-6-2,0zM1232,165l7,2.5 24.5-6-7-2.5zM1284.5,153.5l6.5,3 32-4-5.5-3zM1394.5,145l3,3.5 38.5,.5 39,2 0-3.5-40.5-2.5zM1032,604l2,0 .5-5.5-2,0zM1033,593l1.5,0 .5-5.5-2,0zM1039.5,513.5l2.5,0 .5-6-2.5,0zM1041.5,495.5l2.5,.5 .5-6-2.5-.5zM1047,453l2.5,.5 1-6-2.5-.5zM1563.5,164.5l-3,3.5 22,6.5 3.5-3.5zM1683,227.5l-3.5,3 12,13.5 11,15 3.5-3-11-15zM1246,170l6.5,2.5 23.5-5.5-6-2.5zM1637.5,198l-3.5,3 15,10 14,11 3.5-3.5-14-10.5zM1184,199l6,1.5 14-7-6.5-2zM1043.5,537.5l2,.5 1-6-2.5-.5zM1048.5,496.5l2,.5 1-6-2.5-.5zM1157,222l5.5,2 10-7.5-6-1.5zM1238,180.5l6,2.5 21-5.5-6.5-2.5zM1630.5,204.5l-3,3.5 29,20.5 3-3.5zM1050.5,497l2.5,.5 .5-6-2-.5zM1056,461l2.5,.5 1-6-2.5-.5zM1116,275l4,1 5.5-7.5-4.5-1zM1132,253l5,1 6.5-7-5-1.5zM1172.5,216.5l5.5,2 11-7-5.5-2zM1475.5,165.5l.5,3.5 27,3.5 26.5,4.5 1-3.5-27-4.5zM1694,269.5l-3,3.5 11.5,18.5 6,10.5 6,12.5 2-4.5-5.5-12-6-10.5zM1143.5,247l5,1.5 7.5-7.5-5-1.5zM1293.5,175l5.5,3 25.5-4-5-3zM1348,168l4.5,3 30-1.5-3.5-3.5zM1608,202.5l-2.5,4 31,18 3-3.5zM1714.5,314.5l-2,4.5 6.5,15 3.5,9 1.5,5 3.5-1.5-7-18zM1049,544l2.5,.5 .5-5.5-2-.5zM1058.5,474l2.5,.5 1-6-2.5-.5zM1059.5,468l2.5,.5 1-6-2.5-.5zM1060.5,462l2.5,.5 1-6-2-.5zM1104,312.5l3.5,1 4-7-4-1zM1636.5,224.5l-2.5,3.5 14,11 13.5,12 2.5-3.5-13-12zM1124,285l4,1.5 5-7-4-1.5zM1146,257l5,1 7-7-5-1.5zM1304.5,181l5,2.5 24.5-3.5-4.5-3zM1047.5,601l2,0 .5-5.5-2,0zM1049,584.5l2,0 .5-5.5-2,0zM1079.5,400.5l2.5,1 2-6.5-3-.5zM1081,394.5l3,.5 2-6.5-3-.5zM1389,176l3,3.5 29.5,0-2.5-3.5zM1065,481.5l2,.5 1-6-2-.5zM1097,355.5l3,1 3-6.5-3.5-1zM1155.5,259.5l4.5,1.5 7-7-4.5-1.5zM1188.5,232l5,2 11-6.5-5.5-2zM1338.5,183.5l4,3 25.5-2.5-3.5-3zM1421.5,179.5l2,3.5 27.5,1.5 27.5,3-.5-4-28.5-2.5zM1599,217l-1.5,4 30,18.5 2-4zM1682.5,289.5l-2,4 13,20.5 6.5,12.5 7,15.5 1-6.5-6.5-14-6.5-12.5zM1051.5,596l2,.5 .5-5.5-1.5-.5zM1061.5,517l2,.5 1-5.5-2-.5zM1066,488l2.5,.5 1-6-2.5-.5zM1077,433.5l2.5,.5 1.5-6-2.5-1zM1115,323l4,1 3.5-7-3.5-1zM1680.5,293.5l-1.5,5 6.5,9.5 6.5,11.5 7,13 7.5,16.5 .5-7-7-15.5-6.5-12.5zM1071.5,470.5l2.5,.5 1.5-6-2.5-.5zM1074,458.5l2.5,.5 1.5-6-2.5-.5zM1088,402.5l2.5,1 2-6.5-3-.5zM1112,337.5l3.5,1 3.5-7-3.5-.5zM1180,249l4.5,1.5 9-6.5-4.5-1.5zM1249,211l5,2.5 16-5-5-2.5zM1426,187l2,3.5 26,1.5 26.5,3-1-4-27-2.5zM1056,591.5l2,.5 .5-5.5-1.5-.5zM1076.5,459l2.5,.5 1.5-6-2.5-.5zM1150,284.5l4,1 6-6.5-4.5-1.5zM1176.5,257.5l4.5,1.5 8-6.5-4.5-2zM1203.5,237.5l4.5,2 11-6-4.5-2zM1375,191l3.5,3 25.5-.5-3-3.5zM1401,190l3,3.5 26,.5-2-3.5zM1561.5,214.5l-.5,3.5 32,14.5 1-4zM1706,356.5l0,9 1.5,3 .5,1 3-1zM1063.5,547l2,.5 1-5.5-2-.5zM1198.5,246l4.5,1.5 10-6-5-2zM1274.5,211l5,2.5 17.5-4.5-5-3zM1404,193.5l2.5,3.5 26,.5-2.5-3.5zM1481,198.5l1,4 42.5,8.5 0-4zM1060.5,586.5l2,.5 .5-5.5-1.5-.5zM1067.5,536.5l2,.5 1-6-2-.5zM1297,209l4.5,2.5 18.5-3.5-4-3zM1316,205l4,3 20.5-3.5-4-3zM1382,197.5l3,3.5 24.5-.5-3-3.5zM1524.5,211l0,4 35,11 .5-4zM1079,484.5l2,1 1.5-6-2.5-.5zM1087,449l2.5,.5 1.5-6-2.5-1zM1119,354.5l3.5,1 3-6.5-3-1zM1156.5,295l3.5,1.5 6-6.5-4-1.5zM1483,206l1,4 40.5,8.5 0-3.5zM1674,318.5l-.5,5.5 7,12 8,15 2,4 1,2 3-1.5-1.5-4-4.5-8-7.5-13.5zM1072.5,531.5l2,.5 1-5.5-2-.5zM1098,419l2.5,.5 2-6-2.5-1zM1100,412.5l2.5,1 2-6.5-2.5-.5zM1222,245.5l4.5,2 11.5-6-5-2zM1258.5,228.5l4.5,2.5 14.5-5-4.5-2.5zM1673.5,324l-.5,6 7.5,13 8.5,16 4.5,10 2.5,6 1,1.5 2.5-1.5-.5-1-1-3.5-5-11-4.5-8.5-8-15zM1082,492l2.5,.5 1.5-6-2.5-.5zM1092,450l2.5,1 1.5-6-2.5-1zM1158.5,304.5l4,1.5 5.5-6.5-4-1.5zM1143.5,332l3.5,1 4.5-6.5-3.5-1zM1202.5,267.5l4.5,2 8.5-6-4-2zM1672.5,336.5l0,6.5 8.5,15 4.5,9 5.5,11.5 .5,1 2.5-1.5-4.5-10.5-5-9.5-4-8zM1089.5,481.5l2.5,.5 1-6-2-.5zM1098.5,445.5l2.5,1 2-6-2.5-1zM1115,396.5l3,1 2.5-6.5-3-1zM1125.5,371.5l3.5,1 3-6.5-3-1zM1166,307.5l4,1 5.5-6-4-1.5zM1672.5,343l.5,7 4,8 2,4 3-2-1-2zM1085.5,511l2,.5 1.5-5.5-2.5-1zM1096,464.5l2.5,.5 2-6-2.5-.5zM1118,397.5l2.5,1 3-6.5-3-1zM1251,248.5l4.5,2 12-5-4.5-2.5zM1359,220.5l3.5,3 20-1.5-3.5-3.5zM1075,584.5l2,.5 .5-5.5-2-.5zM1084,529l2.5,.5 1-6-2-.5zM1091.5,494.5l2,.5 1.5-6-2.5-.5zM1142,354.5l3,1 4-6-3.5-1.5zM1489.5,229.5l1,4 36.5,9.5-.5-4.5zM1643,314l0,5.5 7,9 7.5,10.5 8,12.5 8.5,15-.5-8.5-8.5-14-7.5-11.5zM1077,585l2,.5 .5-5.5-2-.5zM1087.5,523.5l2,1 1.5-6-2.5-.5zM1090,512.5l2,.5 1.5-6-2.5-.5zM1095,489l2.5,1 1.5-6-2.5-.5zM1112,430l2.5,.5 2.5-6-3-.5zM1116.5,417.5l2.5,1 2.5-6-3-1zM1132,380.5l3,1.5 3-6.5-3-1zM1203,287l4,2 8-6-4-2zM1248,258l4.5,2.5 11-5-4-2.5zM1448.5,227l2,3.5 41.5,6.5-1.5-3.5zM1078,591l2,.5 .5-5.5-1.5-.5zM1082.5,563.5l2,.5 1-5.5-2-.5zM1086.5,541.5l2,.5 1-5.5-2-1zM1252.5,260.5l4,2.5 11-5.5-4-2zM1351,232l3.5,3 18-1.5-3-3.5zM1615,296l0,5 14,13.5 14,17 0-6-14-16zM1643,325.5l0,6 7.5,10 8,11.5 9,14.5 5,9.5 1,2 2-2.5-5-9.5-4.5-8-8-13-7.5-11zM1079,597l2,.5 1-5.5-2-.5zM1089.5,536.5l2,.5 1.5-5.5-2.5-1zM1097,502l2,1 1.5-6-2-.5zM1107.5,461.5l2.5,.5 2-5.5-2.5-1zM1138,383l3,1 3-6-3-1.5zM1256.5,263l4,2 11-5-4-2.5zM1411.5,232l2.5,3.5 20,1-2.5-4zM1615,301l0,5.5 14,14 14.5,17-.5-6-14-17zM1082.5,586.5l2,1 1-5.5-2-1zM1091.5,537l2.5,.5 1-5.5-2-.5zM1118,438.5l2.5,1 2-6-2.5-1zM1141,384l3,1 3-6-3-1zM1222.5,286.5l4,2 8.5-5.5-4-2zM1087.5,571l2,.5 1-5.5-2-.5zM1379,240l3,3.5 18.5-1-3-3.5zM1496,249.5l1,4 34,10.5-1-4.5zM1087.5,582.5l2,.5 1-5.5-2-.5zM1094.5,544l2.5,.5 1-5.5-2-1zM1098.5,527l2,.5 1.5-5.5-2.5-.5zM1111.5,475.5l2.5,1 1.5-6-2.5-1zM1115,464l2.5,.5 2-5.5-2.5-1zM1268.5,270l3.5,2 11.5-4.5-4-2.5zM1615.5,317l.5,5.5 14.5,16 7.5,9.5 8,11-1-7.5-8-10.5-7-9zM1114,476.5l2.5,.5 1.5-5.5-2.5-1zM1117.5,464.5l2.5,1 2-5.5-2.5-1zM1140.5,405.5l3,1 3-6-3-1zM1646,359l1.5,8 9.5,15.5 2.5,4.5 2.5-2-2-4-5-8.5zM1088,604.5l1.5,0 1-4-2-.5zM1104,523l2,.5 1.5-5.5-2-1zM1128,442l3,1 2-5.5-2.5-1zM1143.5,406.5l2.5,1 3-6-2.5-1zM1152.5,388.5l3,1.5 3.5-6-3-1.5zM1180.5,346.5l3.5,1.5 5-6-3.5-1.5zM1255.5,284.5l4,2 10-5-4-2zM1371.5,251.5l3,3 17-1-3-3.5zM1115,489.5l2.5,1 2-6-2.5-.5zM1118.5,478l2.5,1 2-6-2.5-.5zM1126.5,455l2.5,1 2-6-2.5-1zM1135.5,431.5l2.5,1 2.5-6-2.5-1zM1206,324.5l3,2 6.5-6-3.5-1.5zM1203.5,332l3,2 6-6-3.5-1.5zM1237,304l4,2 8-5-3.5-2zM1377.5,258l3.5,3 16-.5-3-3.5zM1131.5,457l2.5,.5 2-5.5-2.5-1zM1138.5,439.5l2.5,1 2.5-6-2.5-1zM1149,416l2.5,1 3-6-2.5-1zM1233,311.5l3.5,2 8-5-3.5-2.5zM1287,282l4,2.5 11-4-3.5-2.5zM1350.5,265l3,3 15-2-3.5-3.5zM1365,262.5l3.5,3.5 15.5-1.5-3-3.5zM1450,263l2,4 18.5,3-2-4.5zM1100.5,581l2,.5 1-5.5-2-.5zM1101.5,575.5l2,.5 1-5.5-2-.5zM1113.5,532l2,1 1.5-5.5-2-1zM1115,526.5l2,1 1.5-5.5-2-1zM1226,326.5l3.5,1.5 7-5-3.5-2zM1248,310.5l3.5,2 8-5-3.5-2zM1143.5,448.5l2.5,1 2.5-6-2.5-1zM1146,442.5l2.5,1 3-5.5-3-1.5zM1170,396l3,1.5 4-5.5-3-1.5zM1181.5,379l3.5,1.5 4-6-3-1.5zM1200,356l3.5,1.5 5-5.5-3-2zM1216.5,339l3.5,2 6-5.5-3-2zM1624.5,369.5l2,8.5 9.5,13 5.5,8 5.5,10 2.5-2-.5-.5-6-10.5-10-15zM1108.5,572l2,1 1.5-5.5-2.5-1zM1133,483.5l2.5,1 2-5.5-2.5-1zM1148.5,443.5l2.5,1 3-5.5-2.5-1zM1173,397.5l3,1.5 3.5-6-2.5-1zM1247,319.5l3.5,2.5 8-5-3.5-2.5zM1596,343.5l1.5,6 15,16 8,9.5 9,12-3-9-8-11-8-9zM1172.5,404.5l2.5,1.5 4-5.5-3-1.5zM1179.5,393l3,1.5 4-5.5-3-1.5zM1192,376l3,1.5 4.5-5.5-3-1.5zM1206.5,359l3,2 5.5-5.5-3-2zM1444,280.5l2.5,3.5 16.5,3-2-4.5zM1461,282.5l2,4.5 17.5,3.5-2-4.5zM1106,604.5l1.5,0 1.5-3.5-2-.5zM1125,524.5l2.5,1 1.5-5.5-2.5-1zM1139.5,480l2.5,1 2.5-6-2.5-1zM1175,406l3,1.5 3.5-6-2.5-1zM1215,355.5l3,1.5 6-5-3.5-2zM1239.5,334l3.5,2 7-5-3.5-2zM1246.5,329l3.5,2 7.5-5-3.5-2zM1107.5,604.5l2,0 1-2.5-1.5-1zM1129,520l2,.5 2-5.5-2.5-.5zM1144.5,475l2,1.5 2.5-6-2.5-1zM1185.5,396l3,1.5 4-5.5-3-1.5zM1207.5,368l3,2 5.5-5.5-3.5-2zM1432.5,286.5l2.5,3.5 16,2-2-4zM1115.5,580.5l2,1 1-5.5-2-1zM1119,564.5l2,.5 1.5-5-2-1zM1120.5,559l2,1 1.5-5.5-2-1zM1123.5,548l2,1 1.5-5.5-2-1zM1129.5,526l2,1 2-5.5-2.5-1zM1233,348.5l3,2 6.5-5.5-3-2zM1239.5,343l3,2 7-5-3.5-2zM1277,319l3,2.5 9-4.5-3.5-2.5zM1376,290.5l3,3 13.5-.5-2.5-3.5zM1390,289.5l2.5,3.5 14.5-.5-2.5-3.5zM1120,570.5l2,1 1.5-5.5-2.5-1zM1130,532.5l2,1 2-5.5-2.5-1zM1131.5,527l2.5,1 1.5-5.5-2-1zM1187.5,404.5l2.5,1.5 4-5.5-2.5-1.5zM1230,355.5l3.5,2 6-5-3.5-2zM1289,317l3.5,2.5 9-4-3-2.5zM1329.5,302.5l3,3 11.5-3-3-3zM1117,593l2,.5 1-5-2-1zM1123.5,566l2,1 1-5.5-2-1zM1135.5,522.5l2.5,1 1.5-5.5-2-1zM1139,511.5l2.5,1 2-5.5-2.5-1zM1183,417l2.5,1.5 3.5-5.5-2.5-1.5zM1190,406l3,1.5 4-5.5-3-1.5zM1217,373l3,2 5-5.5-3-1.5zM1252.5,342.5l3.5,2 7-5-3.5-2zM1301.5,315.5l3.5,3 9.5-4-3-2.5zM1311.5,312l3,2.5 10.5-3-3-3zM1395.5,296.5l3,3.5 14-.5-2.5-3.5zM1116.5,604l2,.5 1-5-2-.5zM1122.5,577.5l2,1 1.5-5.5-2-.5zM1126.5,561.5l2.5,1 1-5.5-2-1zM1132.5,540l2.5,1 1.5-5.5-2-1zM1143.5,507l2,1 2-5.5-2-1zM1193,407.5l3,1.5 4-5.5-3-1.5zM1270.5,335l3.5,2.5 7.5-4.5-3-2.5zM1398.5,300l3,3.5 14,0-3-4zM1129,562.5l2,1 1.5-5.5-2.5-1zM1142,519l2,1 2-5.5-2.5-1zM1192,414.5l2.5,1.5 4-5.5-2.5-1.5zM1290,329l3.5,2.5 8.5-4-3-2.5zM1318,317.5l3,2.5 10.5-3-3-3zM1525.5,330l2,5 14.5,8 15,10-2-6-15-9.5zM1615,406l2.5,5.5 1,3-.5,.5 2-2.5zM1184,432.5l2.5,1.5 3.5-5.5-2.5-1.5zM1226,378.5l3,2 5.5-5-3.5-2zM1262,348.5l3.5,2.5 7-4.5-3-2.5zM1342.5,314.5l3,3 11-2.5-3-3zM1418,307l3,4 14.5,1-3-4zM1123.5,601.5l2,.5 1-5-2-1zM1156.5,494l2.5,1 2-5.5-2-1zM1163.5,477.5l2.5,1 2.5-5-2.5-1.5zM1183.5,439l2.5,1.5 3.5-5.5-3-1zM1280,342l3.5,2.5 8-4-3.5-2.5zM1314.5,326.5l3.5,2.5 9.5-3-3-3zM1141.5,543.5l2,1 1.5-5-2-1zM1143,538.5l2,1 2-5.5-2-1zM1438,316l2.5,4 15,2-2.5-4zM1142,550l2,1 1.5-5.5-2-1zM1154.5,512.5l2.5,1 2-5.5-2-1zM1188,449l2.5,1.5 3.5-5.5-2.5-1.5zM1214,411.5l2.5,2 4.5-5.5-2.5-1.5zM1223,401l2.5,2 5-5-3-2zM1249,376l3,2 6-4.5-3-2zM1334,331.5l3,3 10-2.5-3-3zM1429,322.5l3,4 14,1.5-2.5-4zM1473,330l2.5,4.5 15.5,4.5-2.5-4.5zM1504.5,340.5l2.5,5 15.5,7 16,9.5-2-5.5-16.5-9zM1141,568l2,1 2-5.5-2.5-1zM1170.5,488l2.5,1 2.5-5.5-2-1zM1208.5,423.5l2.5,2 4.5-5.5-3-1.5zM1264.5,369l3,2 6.5-4.5-3-2zM1347,332l3.5,3 10.5-2-3-3.5zM1369,328l3,3 11.5-1.5-3-3zM1181,473l2.5,1.5 3-5.5-2.5-1.5zM1184,467.5l2.5,1.5 3-5.5-2.5-1zM1196.5,446.5l2.5,1.5 3.5-5.5-2.5-1.5zM1203.5,436l2.5,1.5 4-5.5-2.5-1.5zM1261,375.5l3,2.5 6.5-4.5-3-2.5zM1463,335l2.5,4.5 15,4-2.5-4.5zM1493.5,344l2.5,4.5 15.5,7-2.5-5zM1148.5,559.5l2,1 2-5.5-2-1zM1183.5,474.5l2.5,1 3-5-2.5-1.5zM1144,581.5l2,1 2-5.5-2-1zM1192,465l2.5,1.5 3-5-2.5-1.5zM1221,423.5l2.5,2 4.5-5.5-3-1.5zM1261,384.5l3,2 6-4.5-3-2zM1426.5,337l3,4 13,1.5-2.5-4zM1468,343.5l3,4.5 14.5,4.5-2.5-4.5zM1483,348l2.5,4.5 15.5,6-2.5-5zM1498.5,353.5l2.5,5 16,7.5-3-5.5zM1144.5,587.5l2,1 2-5-2.5-1zM1204.5,451l2.5,1.5 3.5-5-2.5-2zM1223.5,425.5l3,1.5 4-5-2.5-2zM1252.5,396l3,2 5.5-4.5-3-2.5zM1297.5,365.5l3,2.5 8-3.5-3.5-2.5zM1339.5,349l3.5,3 9.5-2.5-3-3zM1404.5,339.5l2.5,4 12.5,0-3-3.5zM1456.5,345l2.5,4 14.5,3.5-2.5-4.5zM1145,593.5l2,1 1.5-5-2-1zM1156.5,557l2,1.5 2-5.5-2-1zM1362.5,347.5l3,3 10.5-1.5-3-3.5zM1419.5,343.5l3,4 12.5,1-3-4zM1225,434l2.5,1.5 4-5-2.5-1.5zM1276,386.5l3,2.5 6.5-4.5-3-2zM1289,378.5l3,2 7-3.5-3-2.5zM1319.5,363.5l3,3 8.5-3.5-3-2.5zM1422.5,347.5l2.5,4 13,1.5-3-4.5zM1555.5,400.5l3.5,7.5 8.5,7.5 9,9.5 10.5,11.5 5.5,7.5 7,9-6.5-14-11-13-9.5-10-9-8.5zM1152.5,585.5l2,1 1.5-5.5-2-1zM1154,580l2,1 1.5-5-2-1zM1159,564.5l2,1 2-5-2-1zM1196,481.5l2.5,1.5 3-5.5-2.5-1.5zM1219.5,445.5l2.5,1.5 4-5-2.5-1.5zM1358.5,355.5l3,3.5 10-2-3-3zM1401,351l3,3.5 12,0-3-3.5zM1413,351l3,3.5 12,1-3-4zM1198.5,483l2,1 3.5-5-2.5-1.5zM1295,383l3,2.5 7-3.5-3-2.5zM1528,389l3,6 16.5,12.5 9.5,7.5 9.5,9-4-8.5-9.5-8-8.5-7zM1562.5,415.5l4,8.5 9.5,10 11,12.5 6,8.5 4,5 0,.5 2-3-6-8-6.5-8-5.5-6.5-9.5-10.5zM1151.5,603l2,1 1.5-5-2-1.5zM1217,459l3,1.5 3.5-5-2.5-1.5zM1272.5,402l3,2 6-4-3-2.5zM1291.5,389.5l2.5,2.5 7-4-3-2.5zM1337,369l3,3 8.5-2.5-3-3zM1418.5,358.5l3,4 12,1-2.5-4zM1566.5,424l4.5,9.5 10,11.5 6,7 7,9 2,3 .5,.5 2-2.5-1.5-2-4-5-6-8.5-11-12.5zM1189,511.5l2.5,1 2.5-5-2-1.5zM1165.5,574l2,1.5 2-5-2-1.5zM1167.5,569l2,1.5 2-5.5-2-1zM1179.5,538.5l2.5,1 2-5-2-1.5zM1189,518l2.5,1 2.5-5-2.5-1.5zM1222.5,462l2.5,2 3.5-5-2.5-1.5zM1256.5,424l3,2 5-4.5-3-2zM1261.5,419.5l3,2 5.5-4.5-3-2zM1354.5,375.5l3,3 9-2-2.5-3zM1427.5,370.5l2.5,4 12,1.5-2.5-4.5zM1170,576.5l2,1 1.5-5-2-1zM1199,510.5l2,1.5 3-5-2.5-1.5zM1290,407l3,2.5 6.5-4-3-2.5zM1468,382l3,4.5 13.5,5-3-5zM1163,603l2,1 2-5-2-1zM1165,598l2,1 1.5-5-2-1zM1182,552.5l2,1 2-5-2-1.5zM1369.5,380l3,3.5 9.5-1.5-3-3.5zM1484.5,391.5l3,5 14.5,6.5-3-5.5zM1168.5,594l2,1 2-5-2-1zM1212,498.5l2.5,1.5 3.5-5-2.5-1.5zM1236.5,464.5l2.5,1.5 4-4.5-2.5-2zM1289.5,415.5l3,2.5 6-4-2.5-2zM1372.5,383.5l3,3 9.5-1-3-3.5zM1474,391.5l3,5 13.5,5.5-3-5.5zM1169,600.5l2,1 1.5-5-2-1.5zM1221,490l2.5,2 3.5-5-2.5-1.5zM1228,480.5l2.5,1.5 3.5-4.5-2.5-2zM1256,447.5l2.5,2 4.5-4.5-2.5-2zM1286.5,422l3,2.5 6-4-3-2.5zM1405.5,384.5l3,3.5 10.5,.5-3-4zM1172.5,596.5l2,1 2-5-2-1zM1202.5,526l2.5,1.5 2.5-4.5-2-1.5zM1241.5,468l2.5,2 4-5-2.5-1.5zM1352,395.5l3,3 8.5-2-3-3.5zM1360.5,393l3,3.5 9-2-3-3zM1378.5,390l3,3.5 9.5-1-3-3.5zM1174.5,597.5l2,1.5 2-5-2-1.5zM1200,537.5l2,1.5 2.5-5-2-1.5zM1205,527.5l2.5,1.5 2.5-4.5-2.5-1.5zM1244,470l2.5,1.5 4-4.5-2.5-2zM1266,447.5l2.5,2 5-4.5-2.5-2zM1401,392l3,3.5 10,0-2.5-3.5zM1469.5,401.5l3,5 13.5,5.5-3-5.5zM1250.5,467l3,2 4-4.5-2.5-2zM1255,462.5l2.5,2 4.5-4.5-2.5-2zM1307,421.5l3,3 6.5-3.5-3-2.5zM1342,406l3,3 7.5-2-2.5-3.5zM1199.5,550.5l2,1.5 2.5-5-2-1.5zM1238,487.5l2.5,1.5 3.5-4.5-2.5-1.5zM1245.5,478l2.5,2 4-4.5-3-2zM1407,399.5l3,3.5 10,.5-3-4zM1201.5,552l2.5,1 2.5-4.5-2.5-1.5zM1372.5,406l3,3.5 8.5-1-3-3.5zM1223,519.5l2,1.5 3-5-2-1.5zM1232.5,505l2,2 3.5-5-2.5-1.5zM1239,495.5l2.5,2 3.5-4.5-2-2zM1343,417.5l3,3 7.5-2-3-3.5zM1375.5,409.5l2.5,3.5 9-1-3-3.5zM1393.5,407.5l3,3.5 9.5,0-3-4zM1279.5,458l2.5,2.5 5-4-2.5-2.5zM1284.5,454l2.5,2.5 5-4-2.5-2.5zM1378,413l3,3.5 9-1-3-3.5zM1514.5,443.5l4,7 8.5,6.5 9,7.5-4.5-8.5zM1194.5,585.5l2.5,1 2-4.5-2-1.5zM1297.5,448.5l3,2.5 5.5-3.5-3-2.5zM1463.5,423.5l3,5 12.5,4.5-3-5.5zM1266,479l3,2 4-4-2.5-2zM1280,466.5l2.5,2.5 5-4-3-2.5zM1238.5,516.5l2.5,2 3.5-4.5-2.5-2zM1252.5,498.5l2.5,2 4-4.5-2.5-2zM1387,423.5l3,3.5 9-.5-3-4zM1415,422.5l3,4 10,1-3-4.5zM1201,589.5l2,1.5 2.5-5-2.5-1.5zM1217.5,556l2.5,1.5 2.5-5-2.5-1.5zM1248,509.5l2.5,2 3.5-4.5-2.5-2zM1267,487.5l2.5,2 4.5-4-2.5-2zM1271.5,483.5l2.5,2 4.5-4-2.5-2.5zM1306,456l2.5,2.5 5.5-3.5-2.5-2.5zM1381.5,428l3,3.5 8.5-1-3-3.5zM1225,548l2.5,1.5 2.5-4.5-2-1.5zM1339,443l3,3 7-2.5-3-3zM1346,440.5l3,3 7-2.5-3-3zM1224.5,554.5l2.5,1.5 2.5-4.5-2-2zM1230,545l2.5,1.5 3-4.5-2.5-1.5zM1239.5,531l2,2 3.5-4.5-2.5-2zM1249,517.5l2.5,2 3.5-4.5-2.5-2zM1379,436l3,3.5 8.5-1-3-3.5zM1248,524l2.5,2 3.5-4.5-2.5-2zM1262.5,506.5l2.5,2 4-4-2.5-2.5zM1275,494l2.5,2 4-4-2.5-2zM1303,470.5l3,2.5 5-3.5-2.5-2.5zM1314,463.5l2.5,3 6-3.5-3-2.5zM1306,473l2.5,2.5 5.5-3.5-3-2.5zM1316.5,466.5l3,2.5 5.5-3-2.5-3zM1402,442l3,3.5 9,.5-3-4.5zM1440.5,445l3.5,4.5 11,3-3.5-5zM1214,592l2,1.5 2.5-4.5-2.5-2zM1240,545.5l2.5,2 3-4.5-2.5-2zM1344,457.5l2.5,3 7-2.5-3-3zM1478.5,461l3.5,6 13.5,7-4-6.5zM1470,461.5l3.5,5.5 12.5,6-4-6zM1216,599.5l2,1.5 2.5-4.5-2.5-1.5zM1218,595l2.5,1.5 2-4.5-2-1.5zM1303.5,487.5l2.5,2.5 5.5-3.5-3-2.5zM1337,468.5l2.5,3 6.5-2.5-3-3zM1279,513l2.5,2 4.5-4-3-2zM1373.5,460.5l3,3.5 7.5-1-3-3.5zM1423.5,458l3.5,4.5 9.5,1.5-3.5-4.5zM1227,589l2.5,1.5 2.5-4.5-2.5-1.5zM1252.5,548.5l2.5,2 3-4.5-2-2zM1277.5,519l2.5,2 4-4-2.5-2zM1281.5,515l2.5,2 4.5-3.5-2.5-2.5zM1408.5,461.5l3,4 9,.5-3-4.5zM1427,462.5l3,4.5 10,1.5-3.5-4.5zM1229.5,590.5l2,1.5 2.5-4.5-2-1.5zM1261.5,541.5l2.5,2 3.5-4-2.5-2zM1297,505.5l2.5,2.5 5-3.5-2.5-2.5zM1333,482.5l3,3 6-2.5-3-3zM1365,470.5l3,3.5 7-1.5-3-3.5zM1387,466.5l3,3.5 8-.5-3-4zM1430,467l3.5,4.5 9.5,2-3-5zM1461,474.5l3.5,5.5 12,5-4-6zM1533,521l8.5,13.5 3.5,4 1,1 1.5-3-2-2-6.5-7.5zM1236.5,583l2.5,2 2.5-4.5-2-2zM1275,531.5l2,2 4-4-2.5-2zM1282.5,523.5l2.5,2 4-4-2.5-2zM1324.5,491.5l3,2.5 5.5-3-3-2.5zM1342,483l2.5,3 6.5-2.5-3-3zM1390,470l3,4 8-.5-3-4zM1443,473.5l3.5,5 10.5,3-3.5-5zM1464.5,480l4,5.5 12,5.5-4-6zM1489.5,491.5l4,7 15,10-5-8zM1270,541.5l2.5,2 3.5-4-2.5-2zM1298,514l2.5,2.5 4.5-3.5-2.5-2.5zM1307,507l2.5,2.5 5-3.5-2.5-2.5zM1436.5,476l3.5,5 10,2.5-3.5-5zM1480.5,491l4,6.5 14,8.5-5-7.5zM1246.5,577.5l2.5,2 3-4.5-2.5-1.5zM1484.5,497.5l4.5,7 14.5,9-5-7.5zM1514,517.5l6,10 10.5,9.5 6,6.5 7.5,8.5-5.5-9-4.5-7-11-10.5zM1255,571l2,2 3-4.5-2-2zM1286,534l2.5,2 4-3.5-2.5-2.5zM1333,499.5l2.5,3 5.5-2.5-2.5-3zM1369.5,485.5l3,3.5 7-1.5-3-3.5zM1443.5,485.5l3.5,5 10.5,3.5-3.5-5.5zM1489,504.5l5,7 15,11-5.5-9zM1520,527.5l7.5,11 5.5,6 7,7.5 3,4 1-4-7.5-8.5-6-6.5zM1245.5,590l2.5,2 2.5-4.5-2-2zM1277,548l2.5,2 4-4-2.5-2zM1325,508.5l2.5,2.5 5.5-3-3-2.5zM1437,488.5l3.5,4.5 10,3-3.5-5.5zM1457.5,494l3.5,5.5 11.5,4.5-4-6zM1322.5,514l2.5,3 5.5-3-3-3zM1333,508l2.5,3 5.5-3-2.5-2.5zM1344,502.5l3,3 5.5-2-2.5-3zM1515,531.5l6.5,11 11.5,11.5 6.5,7.5 .5-2 .5,0-1.5-2-2.5-4.5-6.5-7-5.5-5.5zM1247.5,598l2,2 3-4.5-2.5-2zM1393,494l3,4 7.5-.5-3-4zM1408.5,493.5l3,4 8.5,.5-3-4.5zM1489.5,517.5l5,7.5 15.5,11.5-6-9zM1504,527.5l6,9 9,8 11,11-8.5-13-9-8.5zM1521.5,542.5l8.5,13 7,8 3.5,4 1.5-3.5-1.5-1.5-7.5-8.5zM1255,591.5l2.5,1.5 3-4-2.5-2zM1252,601.5l2,2 3-4-2.5-2zM1254.5,597.5l2.5,2 2.5-4.5-2-2zM1257.5,593l2,2 3-4-2-2zM1307,538.5l2.5,2.5 4.5-3.5-2.5-2.5zM1352.5,512l2.5,3 6-2-2.5-3.5zM1473.5,517.5l4.5,6.5 12.5,7.5-4.5-7.5zM1500,533.5l5.5,9 9,7 10,10-8-12.5-9-7.5zM1278.5,570.5l2.5,2 3.5-3.5-2.5-2.5zM1455.5,514l4,5.5 11,5-4.5-6.5zM1505.5,542.5l6.5,10 10.5,9.5 6,6 0,.5 .5-2-4.5-7-10-10zM1326,534l2.5,2.5 5-3-2.5-2.5zM1341,525.5l3,2.5 5.5-2-3-3.5zM1370.5,514.5l3,3.5 6.5-1.5-3-3.5zM1512,552.5l8,12 11,11.5 1.5-3.5-1-.5-3-4-6-6zM1306,552.5l2.5,2.5 4.5-3-2.5-2.5zM1310.5,549.5l2.5,2.5 4.5-3.5-3-2.5zM1333.5,533.5l3,3 5-2.5-3-3zM1344,528l2.5,3 5.5-2-2.5-3zM1355,523.5l3,3 6-2-3-3zM1502,548.5l6.5,10 9.5,8.5 11.5,12-9.5-14.5-10-9zM1289.5,573l2.5,2.5 3.5-3.5-2.5-2.5zM1300.5,562l2.5,2.5 4-3.5-2.5-2.5zM1334,542l2.5,3 5-2.5-2.5-3zM1339,539.5l2.5,3 5.5-2.5-3-3.5zM1461,533l4,6 11.5,6-4.5-7zM1472,538l4.5,7 13,8-5-8zM1516,570l4.5,7 5.5,8 3,3.5 1.5-3-.5-1-2-2-6.5-7zM1327,550.5l3,3 4.5-3-2.5-2.5zM1347,540l2.5,3 5.5-2.5-2.5-3zM1300.5,576.5l2.5,2.5 3.5-3.5-2.5-2.5zM1469.5,545.5l5,7 12.5,8-5.5-8zM1495.5,561.5l6.5,10 9,8 10.5,10.5-9-14-9-8zM1512.5,576l9,14 1.5-3.5zM1292,590l2.5,2 3.5-3.5-2.5-2.5zM1319,565.5l2.5,2.5 4.5-3-2.5-2.5zM1369.5,540l3,3.5 6-1.5-3-3.5zM1321.5,568l2.5,3 4.5-3-2.5-3zM1385,540.5l3,4 6.5-1-3-4zM1292.5,604l2.5,.5 3-1.5-2-2.5zM1318.5,580l2.5,2.5 4-3-2.5-3zM1331,570.5l3,3 4.5-3-2.5-3zM1455,556.5l4.5,6.5 11,5.5-4.5-7zM1375.5,555.5l3,3.5 6-1-3-4zM1459.5,563l4.5,6.5 11.5,6-5-7zM1315.5,591.5l2.5,2.5 4-3-2.5-3zM1378.5,559l3,3.5 6-1-3-3.5zM1384.5,558l3,3.5 6.5-.5-3-4zM1489,584.5l6.5,10 9,7.5 5,2.5 6,0-5.5,0-5-6.5-8.5-7.5zM1335,582l2.5,3 4.5-3-2.5-3zM1354,571.5l2.5,3.5 5.5-2-3-3.5zM1370,565.5l3,3.5 5.5-1.5-3-3.5zM1394,561l3.5,4 6.5-.5-3-4zM1422.5,561l4,5 8,1.5-3.5-5zM1367,571l3,3.5 6-1.5-3-4zM1376,573l3,3.5 5.5-1.5-3-3.5zM1387.5,570.5l3.5,3.5 6.5-.5-3.5-4zM1422,570l4,4.5 8,2-4-5.5zM1357.5,583.5l2.5,3.5 5.5-2-3-3.5zM1442.5,578.5l4.5,6 9.5,4-4.5-6.5zM1350.5,591.5l2.5,3 5-2-3-3.5zM1370.5,583l3,3.5 5.5-1.5-3-3.5zM1376,581.5l3,3.5 6-1-3-4zM1479,601l6.5,3.5 7.5,0 9,0-8.5,0-7.5,0zM1339.5,602l2.5,2.5 4.5-2-2.5-3zM1391,583l3.5,4 6-.5-3-4zM1346.5,602.5l3,2 4.5-1.5-3-3zM1382.5,589l3,3.5 6-.5-3.5-4zM1388,588l3.5,4 6-1-3-4zM1359,601l2.5,3.5 5-2-2.5-3.5zM1397.5,591l3.5,4.5 6.5-.5-3.5-4zM1442,596.5l4.5,6 9.5,2-5-5zM1377.5,599l3,4 5.5-1.5-3-4zM1383,597.5l3,4 6-1-3.5-4zM1404.5,599.5l3.5,4.5 7,.5-4-4.5z"/>
<path fill="#006ce4" d="M627,604.5l2.5-1.5-4.5-2.5-3,3zM514.5,596l5-7-10.5,5.5-5.5,7.5zM496.5,601.5l6-8-13,8.5-7.5,2.5 8,0zM489.5,602l6.5-9-7,5-7.5,6-8.5,.5 9,0zM631.5,585.5l2.5-3-4.5-2.5-3,3zM606,574.5l3-3-5.5-2-3,3.5zM541.5,568.5l4-5.5-9,2-4,5.5zM532.5,570.5l4-5.5-9,3-4.5,6zM617,570l3-3.5-5-2-3,3.5zM600.5,564.5l3-3.5-6-1.5-3,3.5zM507,577l4.5-7-11.5,6.5-5.5,8zM494.5,584.5l5.5-8-13,9-7,10zM480,595.5l7-10-7.5,6-9,8-5,5-5.5,0 6,0 5-1zM668.5,598.5l2.5-2.5-4-3.5-2.5,2.5zM635,574l2.5-3-4.5-2.5-3,3zM620,566.5l3-3-5.5-2-2.5,3zM511.5,570l5-6.5-11,5.5-5.5,7.5zM667,592.5l2.5-2.5-3.5-3.5-2.5,2.5zM505.5,569l4.5-7-11.5,6.5-5.5,8zM493,576.5l5.5-8-13.5,9-6.5,10zM680.5,600.5l2.5-2-3.5-4-2.5,2.5zM556,548.5l3.5-4.5-8,1-3.5,4.5zM485,577.5l6-9-14.5,11.5-8,11.5 9-8zM468.5,591.5l8-11.5-17,15.5 1,3.5 2.5-2.5zM525,551.5l4-6-10,4-4,6zM667,578l2.5-2.5-4-3-2.5,2.5zM603.5,543.5l3-3-6-2-3,4zM547,541.5l3.5-5-8.5,1.5-3.5,5zM550.5,536.5l3.5-4.5-8.5,1-3.5,5zM489,561l5-8-13.5,9.5-6.5,10 7.5-6zM703,604.5l2,0-3-3.5-2,2.5zM597.5,533.5l3-3.5-6.5-1-3,3.5zM554,532l3.5-4.5-8,1-4,4.5zM506.5,546.5l4.5-6.5-12,6-5,7zM463,577.5l8-11.5-9.5,8.5-4.5,4 1.5,3.5zM670.5,567.5l2.5-2.5-4-3.5-2.5,2.5zM691.5,583.5l2.5-2.5-3.5-3.5-2.5,2zM694,581l2.5-2-3.5-4-2.5,2.5zM675.5,562.5l2.5-2.5-4-3.5-2.5,2.5zM519,528l4-6-10.5,4-4,6.5zM467.5,559.5l6.5-10-8.5,7-10,9.5-2.5,3.5 0,1 1,2 1-1 2.5-3zM603,518l3-3-6.5-2-3,4zM705,585l2.5-2-3-4-2.5,2zM645.5,531l2.5-2.5-5-3-3,3zM629.5,523l3-3-6-2.5-2.5,3zM592.5,512l3-3.5-7-1-3,3.5zM505.5,525l4.5-6-12,5.5-4.5,7zM443,574.5l0-1 2.5-4.5 5.5-8-6.5,7-2,2.5-.5,.5zM716.5,595.5l2.5-2-3-4.5-2.5,2zM697.5,571l2.5-2.5-3.5-4-2.5,2.5zM451,561l8-12.5-21,22.5 1,3 1.5-1.5 4-4.5zM700,568.5l2.5-2-3.5-4-2.5,2zM611.5,508l3-3-6.5-2-2.5,3.5zM502.5,518l4.5-6-12,6-5,7zM638,514l2.5-2.5-5.5-3-2.5,3zM614.5,505l3-3.5-6.5-2-3,3.5zM604.5,498l3-3.5-7-1.5-3,3.5zM499,511l4.5-6-12.5,6.5-4.5,7zM736.5,604.5l2-1-2.5-4.5-2.5,2zM717,575l2-2-3-4.5-2.5,2zM626.5,500.5l2.5-3-6-2.5-2.5,3.5zM503.5,505l4-6-12,5.5-4.5,7zM736,599l2-1.5-2.5-4.5-2,1.5zM679.5,529l2.5-2.5-4.5-3.5-2.5,2.5zM610.5,491l2.5-3-6.5-2-3,3.5zM603.5,489.5l3-3.5-7-1.5-3,3.5zM574,486l3-4-8-.5-3,4.5zM495.5,504.5l4-6-12.5,6.5-5,7.5zM718.5,567l2-2-3-4.5-2.5,2zM682,526.5l2.5-2.5-4.5-3.5-2.5,2.5zM606.5,486l3-3-7-2-3,3.5zM434.5,550l-.5-.5 3-4.5 4.5-7.5-6.5,7.5-2,2zM580,478l3-3.5-8-.5-3,3.5zM526,484l3.5-5-10.5,3-4,5.5zM695,529.5l2.5-2-4-4-2.5,2.5zM649,494.5l2.5-3-5.5-3-3,3zM575,474l3.5-4-8.5-.5-3,4zM549,475l3.5-4.5-9.5,1.5-3.5,4.5zM722,557l2.5-2-3-4.5-2.5,2zM709,540l2-2.5-3.5-4-2.5,2zM586,470.5l3.5-3.5-8-1-3,4zM543,472l3-4.5-9.5,1.5-3.5,5zM533,474l3.5-5-10.5,3-3.5,5zM727.5,559.5l2.5-2-3-4.5-2.5,2zM724.5,555l2.5-2-3.5-4.5-2,2zM573,466l3-4-8.5,0-3,4zM477,494l4.5-7-14.5,10-5.5,8zM758.5,604.5l2,0-2-3-2.5,1.5zM677,500l2.5-2.5-4.5-3.5-2.5,2.5zM662,489.5l3-2.5-5.5-3.5-2.5,2.5zM756,596.5l2-1.5-2-4.5-2.5,1.5zM723,542.5l2-2-3-4.5-2.5,2zM654,480.5l3-3-5.5-3-3,3zM603,461l2.5-3.5-7.5-1-3,3.5zM511,468.5l3.5-5.5-12,5-3.5,5.5zM737.5,558.5l2-2-2.5-4.5-2.5,2zM728.5,545l2-2-3-4.5-2.5,2zM626.5,463.5l3-3-6.5-2-3,3zM605.5,457.5l3-3-7.5-1.5-3,3.5zM574,454l3-4-9,0-3,4zM694,500.5l2.5-2-4.5-4-2.5,2zM685,493l2.5-2.5-4.5-4-3,2.5zM675.5,485.5l2.5-2.5-5-3.5-3,2.5zM593.5,451.5l3-3.5-8.5-1-3,3.5zM539.5,452.5l3-4.5-10.5,2-3,5zM767,601.5l2-1.5-2.5-4.5-2,1.5zM733,541.5l2.5-2-3.5-4.5-2,2zM683,486.5l2.5-2-5-4-2.5,2.5zM596.5,448l2.5-3.5-8-1-3,3.5zM771,604.5l2-1-2-5-2,1.5zM757.5,576.5l2-1.5-2.5-5-2,2zM690,488.5l2.5-2.5-4.5-4-2.5,2.5zM635,455l3-3-6.5-2.5-3,3zM701.5,494l2.5-2-4.5-4-2.5,2zM668,467.5l2.5-2.5-5.5-3.5-3,2.5zM656.5,460.5l3-2.5-6-3-3,2.5zM516.5,446.5l3.5-5-11.5,3.5-3.5,5.5zM492,456l4-5.5-13.5,6.5-4,6.5zM766.5,583l2-1.5-2-5-2.5,1.5zM764,578l2.5-1.5-2.5-4.5-2,1.5zM751.5,554.5l2.5-1.5-3-5-2,2zM723.5,513.5l2.5-2-3.5-4.5-2.5,2zM665,461.5l2.5-2.5-5.5-3.5-2.5,2.5zM634,446.5l3-3-7-2.5-2.5,3zM627.5,444l2.5-3-7-2.5-3,3zM605,438l3-3.5-8-1.5-3,3.5zM597,436.5l3-3.5-8-1-3,3.5zM482.5,457l4-6-14.5,8-4,6.5zM751,548l2.5-1.5-3-4.5-2,1.5zM745.5,539l2-2-3-4.5-2,1.5zM739.5,529.5l2-1.5-3-4.5-2.5,1.5zM706.5,490l2.5-2.5-4-4-2.5,2zM693,477.5l3-2-5-4-2.5,2zM583,431l3-3.5-9-.5-3,3.5zM534.5,434l3-4.5-11,2.5-3,4.5zM725,505l2-1.5-3.5-4.5-2.5,1.5zM763.5,559.5l2-1.5-2.5-5-2,1.5zM755.5,545l2.5-1.5-3-5-2,1.5zM737.5,517l2.5-2-3.5-4.5-2,2zM661.5,447l3-2.5-6-3.5-3,2.5zM571,423l3-4-9.5,0-3,4zM448.5,467l4.5-8-8.5,7-10,8.5-6,10.5 10.5-10zM787.5,604.5l2,0-2-4.5-2,1.5zM773,572.5l2-1.5-2.5-5-2,1.5zM676,451.5l2.5-2.5-5.5-3.5-2.5,2.5zM544,420.5l3-4-11,1.5-3,4.5zM469,448l4-6.5-15.5,10-4.5,7.5zM775,571l2-1.5-2-5-2.5,1.5zM770.5,561l2-1.5-2.5-4.5-2,1.5zM717,481.5l2.5-2-4.5-4.5-2.5,2.5zM557.5,415.5l3-4-10.5,1-3,4zM418,487l6.5-12-6,6.5-7,8-1,1.5 1.5,3zM731,493l2.5-1.5-4-5-2.5,2zM670,439l3-2.5-6-3.5-3,2.5zM560.5,411.5l3-4-10.5,.5-3,4.5zM787.5,588l2.5-1.5-2-5-2.5,1.5zM781.5,573l2-1.5-2-5-2,1.5zM777,563l2-1-2-5-2.5,1.5zM764.5,538.5l2.5-1.5-2.5-4.5-2.5,1.5zM747,510l2.5-1.5-3-5-2.5,1.5zM726,482l2.5-1.5-4-5-2.5,2zM689.5,448l2.5-2.5-5-3.5-3,2zM633,418l3-3-7.5-2.5-3,3zM625.5,415.5l3-3-8-2.5-3,3.5zM465.5,437.5l3.5-6-16,10-4,7.5zM430,465l5.5-9-10.5,9.5-12,13-8.5,15 8-9.5 6.5-7.5zM779,562l2.5-1.5-2.5-5-2,1.5zM767,537l2.5-1.5-3-4.5-2,1.5zM702,454l3-2-5-4.5-2.5,2.5zM534,407l3-4.5-11.5,2.5-3.5,4.5zM522,409.5l3.5-4.5-12.5,3-3,5zM786,570.5l2-1.5-2-5-2.5,1.5zM766.5,531l2.5-1.5-3-5-2,1.5zM755,511.5l2.5-1.5-3-5-2.5,1.5zM734.5,483l3-2-4-4.5-2.5,2zM709.5,456l3-2-5-4.5-2.5,2.5zM607,403.5l2.5-3.5-8.5-1.5-3,3.5zM440,447.5l4-8-9,7.5-10,9.5-5.5,10 10.5-10.5zM763.5,519.5l2-1.5-2.5-5-2.5,1.5zM717,458.5l2.5-2-4.5-4.5-2.5,2zM641.5,409l3-2.5-7.5-3-3,3zM572.5,396l2.5-3.5-10,0-3,3.5zM801.5,597.5l2-1-1.5-5-2,1zM783.5,552.5l2-1-2-5-2.5,1zM763,513l2-1.5-3-5-2,1.5zM448,432.5l4-7-18,13.5-4.5,8 9.5-8zM407,471l6-12-6,6.5-6.5,8.5-4,5-1.5,2 1.5,2.5 1-1 2-3zM713,445.5l2.5-2-4.5-4.5-3,2zM534.5,391.5l3-4.5-12.5,2.5-3,4.5zM522,394l3-4.5-12.5,3-3,5zM800,580l2.5-1-2-5-2,1zM745,476l2.5-2-4-4.5-2.5,1.5zM741,471l2.5-1.5-3.5-5-3,2zM571,384.5l2.5-3.5-10.5,0-3,4zM809.5,599.5l2-1.5-2-5-2,1zM792.5,553.5l2-1-2-5-2.5,1zM713.5,437l3-2-5-4.5-3,2zM700.5,422l3-2.5-5.5-4-3,2zM683,409.5l3-2.5-6-3.5-3,2.5zM615.5,382l3-3-9-2-3,3.5zM531,380.5l3-4-12.5,2.5-3,4.5zM477.5,398l3-5.5-15,8-3.5,5.5zM808.5,582l2-1.5-2-5-2,1zM721.5,431l3-2-5-5-2.5,2zM662,390l3-2.5-7.5-3.5-3,2.5zM435,416l3.5-7-17.5,14.5-10,9.5-11,12-6.5,12 7-8 6-6.5 10.5-10.5 9.5-9zM820.5,604.5l2-.5-1.5-5-2,1zM761,472.5l2.5-2-3.5-5-2.5,2zM500.5,377l3-4.5-14.5,4.5-3,5zM784.5,506.5l2.5-1.5-3-5-2.5,1zM779,496l2.5-1.5-3-5-2.5,1.5zM740.5,441l3-1.5-4.5-5-2.5,2zM653,378l3-2.5-8.5-3.5-3,3zM618.5,367.5l3-3-10-2-2.5,3zM517,368.5l2.5-4.5-13.5,3.5-2.5,5zM823,598l2-1-1.5-5.5-2,1zM671,382l3-2.5-7.5-3.5-3,2.5zM461.5,386l3-5.5-16,9-3.5,6.5zM409.5,425l4-8.5-9,9-10,10.5-5.5,7-6,8-3,3.5 2,2.5 .5-.5 6.5-8.5 11-13zM815,566l2-1-1.5-5.5-2,1zM807.5,545l2-1-2-5.5-2,1.5zM560.5,355l3-3.5-12.5,.5-3,4zM448.5,389.5l2.5-6-16,11-18,14-3.5,8 9.5-8.5 8.5-7zM796.5,512.5l2.5-1-2.5-5.5-2.5,1.5zM783.5,486.5l2-1-2.5-5.5-2.5,1.5zM780.5,481.5l2.5-1.5-3-5-2.5,1.5zM482.5,368l3-5-15.5,6.5-2.5,5.5zM830.5,600l2-1-1.5-5-2,1zM791,495.5l2.5-1-2.5-5.5-2.5,1.5zM780,475l2.5-1.5-3.5-5.5-2.5,1.5zM751.5,434l2.5-2-4-5-3,2zM747,429l3-2-4.5-5-2.5,2zM728.5,409.5l3-2-5.5-4.5-2.5,2zM639.5,358l3-3-9-3-3,3zM782.5,473.5l2.5-1.5-3-5.5-3,1.5zM758,437.5l3-2-4-5-3,1.5zM581,344l3-3.5-12-.5-3,4zM530.5,347l3-4-14,2-2.5,4.5zM517,349.5l2.5-4.5-14,3.5-2.5,4.5zM472.5,364l3-5-16,7.5-2.5,5.5zM388.5,428.5l4.5-10-9,11-5.5,6.5-6,8-3,5-.5,0 2,2.5 .5-1 6.5-8.5zM833,593l2-1-1.5-5.5-2,1zM827,572l2-1-1.5-5.5-2.5,1.5zM816,540.5l2.5-1-2-5.5-2.5,1.5zM761,435.5l2.5-1.5-4-5-2.5,1.5zM734,405.5l3-2-5-4.5-3,2zM706,382.5l3-2.5-6.5-4-3,2zM678.5,366l3-2.5-7.5-4-3,2.5zM559.5,340.5l3-4-13,1-3,3.5zM546.5,341l3-3.5-13.5,1-2.5,4.5zM393,418.5l4-9-8.5,9.5-9.5,11.5-5.5,7.5-6.5,9 2,2.5 .5-.5 3-5 6-8 5.5-6.5zM816.5,534l2-1-2-5.5-2,1.5zM674,359.5l3-2.5-8-4-3,3zM586.5,337l3-3.5-12-.5-2.5,3.5zM549.5,337.5l3-4-13.5,1-3,4zM493,348.5l3-4.5-15.5,5-2.5,5zM429.5,381l3-6.5-15.5,11.5-16.5,15-3.5,8.5 9-9 8-7.5zM814.5,522.5l2.5-1-2.5-5.5-2,1zM735,397l2.5-2-5-5-3,2zM601,334.5l3-3-11.5-1.5-3,3.5zM552.5,333.5l2.5-4-13.5,1-2.5,4zM432.5,374.5l2.5-6-15,11-16,13.5-3.5,8 16.5-15zM404,393l3-7-15.5,15-8.5,9-9.5,12-5.5,13 5.5-8 5-6.5 9.5-11 8-8.5zM368,435l5.5-13-5.5,7-2.5,4 2,2.5zM838,578.5l2-1-1.5-5-2,1zM836.5,573.5l2-1-1.5-5.5-2,1zM832,557.5l2-1-1.5-5.5-2.5,1zM735.5,388l3-2-5.5-4.5-3,2zM718,373.5l3-2-6-4.5-3,2zM705,364.5l3-2-6.5-4.5-3.5,2zM683.5,352l3-2.5-8-4-3,2.5zM781.5,438.5l2.5-1.5-3.5-5.5-2.5,1.5zM774.5,427.5l2.5-1.5-4-5.5-2.5,2zM766.5,417l2.5-1.5-4-5.5-3,2zM708,362.5l3.5-2.5-7-4.5-3,2.5zM676.5,336.5l3-2.5-9-4-3,3zM385,393l3-8-8,8.5-8,10-10,12.5-5.5,8 2.5,2 .5-1 3-4 5-7 9.5-11.5zM807.5,466.5l2.5-1-2.5-5.5-2.5,1.5zM541,312.5l2.5-4-15,2-2.5,4zM388,385l3-7.5-7.5,7.5-8.5,9-8.5,11-9,12.5 2,2.5 2.5-4 10-12.5 8-10zM854.5,600.5l2-.5-1-5.5-2,1zM844,558l2-1-1.5-5.5-2,1zM828.5,509.5l2-1-2-5.5-2,1zM795.5,438l2.5-1.5-3-5.5-3,1.5zM785,421.5l3-1.5-4-5.5-2.5,1.5zM777.5,410.5l3-1.5-4-5.5-3,2zM585.5,307.5l3-3-13.5-1-3,4zM543.5,308.5l2.5-4-15,2-2.5,4zM481,322l2-4.5-16,5.5-16,7.5-2,5 16-7.5zM856.5,600l2-1-1-5.5-2,1zM854,589l2-.5-1-5.5-2,1zM834.5,519l2-1-1.5-5-2.5,1zM817.5,475.5l2.5-1.5-2.5-5.5-2.5,1.5zM784,414.5l3-1.5-4-5.5-2.5,1.5zM776.5,403.5l2.5-1.5-4-5.5-3,2zM772,398.5l3-2-4.5-5-3,1.5zM767.5,393l3-1.5-4.5-5.5-3,1.5zM742.5,366.5l3-2-6-5-3,2zM483,317.5l2.5-4.5-16.5,5.5-16,7-2,5 16-7.5zM849.5,561.5l2-.5-1.5-5.5-2,.5zM845,545.5l2-1-1.5-5.5-2,1zM827,491l2-1.5-2-5.5-2.5,1zM822.5,479.5l2-1-2-5.5-2.5,1zM815,463l2.5-1-2.5-5.5-2.5,1zM800.5,435.5l3-1.5-3.5-5.5-2.5,1.5zM395.5,363.5l2-6.5-14,13.5-7.5,8-8.5,9-3,9.5 8.5-10.5 8-9zM851.5,561l2-1-1-5.5-2.5,1zM723.5,342.5l3.5-2-7.5-5-3,2zM367.5,387.5l3-8.5-8.5,10.5-9,12.5-3,3.5-1,2-.5,.5 2.5,2zM781,393.5l2.5-1.5-4-5.5-3,1.5zM610.5,295.5l3-3-13-1.5-3,3zM583.5,293l3-3.5-14.5,0-3,3.5zM427,331l2-5-13.5,8.5-14,10-2,6 14-10.5zM857,564.5l2-1-1-5-2,.5zM854.5,553.5l2-.5-1.5-5.5-2,.5zM853,548l2-.5-1.5-5.5-2,1zM822.5,459.5l2.5-1-2.5-5.5-2.5,1zM811.5,437l3-1-3-6-3,1.5zM715.5,328.5l3.5-2-8-5-3.5,2.5zM707.5,324l3.5-2.5-8.5-4.5-3,2.5zM699.5,319.5l3-2.5-8.5-4.5-3.5,2.5zM557,289.5l2.5-3.5-16,1-2.5,3.5zM493.5,295l2-4-16.5,4.5-17,6-1.5,4.5 16.5-6zM863.5,573.5l2-.5-1-5.5-2,1zM819.5,440.5l3-1.5-3-5.5-2.5,1zM697.5,310l3-2-9-4.5-3.5,2.5zM667.5,298l3.5-2.5-11-4-3.5,3zM819.5,433.5l2.5-1.5-2.5-5.5-3,1zM718,317l3-2-8-5-3.5,2.5zM379,350.5l1.5-6.5-15,15-7.5,9-8.5,10.5-2.5,9.5 8.5-12 8.5-9.5zM862.5,550.5l2.5-1-1.5-5.5-2,1zM847,495l2.5-1-2-5.5-2.5,1zM743.5,330.5l3-2-6.5-5.5-3.5,2zM626.5,280l3.5-3-14-2.5-3,3zM583.5,275l3-3-16-.5-3,3.5zM380.5,344l1.5-6-14.5,14-7.5,8.5-8,10-2.5,8 8.5-10.5 7.5-9zM849.5,494l2-1-1.5-5.5-2.5,1zM570.5,271.5l3-3.5-17,0-2.5,3.5zM870.5,565.5l2-1-1-5.5-2,1zM855,504.5l2.5-1-1.5-5.5-2.5,.5zM768.5,343l3.5-1.5-6-6-3,2zM878,591.5l2-.5-1-5.5-2,1zM833,434.5l2.5-1-2.5-6-3,1.5zM760,330l3.5-1.5-6.5-6-3.5,2zM732,308.5l3.5-2-8.5-5-3.5,2zM470.5,279l1.5-4-31.5,11.5-1.5,5zM882,602l2-1-1-5-2,.5zM881,596.5l2-.5-1-5.5-2,.5zM873.5,558.5l2-1-1-5.5-2,1zM861.5,508.5l2-1-1.5-5.5-2.5,.5zM838,439.5l2.5-1-2.5-6-2.5,1zM884.5,604.5l2,0-1-4-1.5,.5zM441.5,282l1-4.5-28.5,14-.5,5zM386,315l1-5-14,11.5-14,14-1,6 14.5-14.5zM324.5,387l2.5-10-5,8zM850,455l2.5-1-2.5-6-2.5,1zM847.5,449l2.5-1-2-5.5-2.5,1zM792,348l3.5-1.5-5-5.5-3.5,1.5zM782,336.5l3-1.5-5.5-6-3,1.5zM531,255.5l2-3.5-19.5,2.5-1.5,3.5zM442.5,277.5l1-4.5-28.5,14-1,4.5zM327,377l1.5-9-8,13.5 2.5,2 0-.5 1.5-2zM868,506l2.5-1-1.5-5.5-2.5,.5zM848,442.5l2.5-1-2-6-3,1zM835.5,412.5l3-1-3-6-2.5,1zM779.5,329l3.5-1.5-5.5-6-3.5,1.5zM710.5,279.5l4-2-10.5-5-4,2.5zM880.5,550l2-.5-1-5.5-2,.5zM838.5,411.5l2.5-1-2.5-6-3,1zM515.5,250.5l2-4-38.5,7.5-1,4zM360.5,323.5l.5-6-14.5,15.5-7.5,9-7.5,10-1.5,8 8.5-11.5 7.5-9.5zM330,360l1.5-8-8.5,12.5-4.5,7.5-2,3.5 2.5,2 2.5-4zM892.5,604l1.5-.5-.5-5.5-2,1zM806.5,350l3.5-1.5-4.5-6-3.5,1.5zM671.5,257l4-3-14-3.5-3.5,2.5zM445.5,264.5l1-4.5-29.5,13-.5,4.5zM880,526.5l2.5-1-1.5-5.5-2,.5zM860,451.5l2.5-1-2-6-2.5,1zM844,409.5l2.5-1-2.5-6-3,1zM688.5,258.5l4-2.5-13-4.5-4,2.5zM559.5,239.5l2.5-3.5-20,1-2,3.5zM361.5,312l0-5-14,14-14.5,17.5-.5,6.5 14.5-18zM896,603l2-.5-1-5.5-1.5,.5zM887,548l2-.5-1-5.5-2.5,.5zM871,480l2.5-1-1.5-6-2.5,1zM869.5,474l2.5-1-1.5-5.5-2.5,.5zM858.5,438.5l2.5-1-2-6-3,1zM832,378l3-1-3-6.5-3.5,1.5zM808.5,341l3.5-1.5-4.5-6-3.5,1.5zM793.5,322.5l3.5-1.5-5.5-6-3.5,1.5zM417.5,268.5l.5-4.5-28.5,16 0,5zM884.5,525l2-.5-1-6-2.5,1zM880.5,508l2.5-.5-1.5-6-2,.5zM867,455.5l2.5-1-2-5.5-2.5,.5zM865,449.5l2.5-.5-2-6-2.5,.5zM852,413.5l3-1-2.5-6-3,1zM835,377l3-1.5-3-6-3,1zM779,303l4-2-7-6-3.5,2zM654.5,241l3.5-2.5-16-3.5-3.5,3zM361.5,301.5l0-5-14,13.5-14,16 0,6 14-16.5zM896.5,580l2-.5-1-5.5-2,.5zM889,535.5l2-.5-1-5.5-2.5,.5zM881.5,501.5l2.5-.5-1.5-6-2,1zM859.5,425l2.5-1-2-6-3,.5zM827.5,357l3.5-1-4-6.5-3,1.5zM783,301l3.5-1.5-6.5-6-4,1.5zM900,590.5l2-.5-.5-5.5-2,.5zM890,529.5l2-.5-1-6-2,1zM852.5,399.5l3-1-2.5-6-3,.5zM885,494.5l2-1-1-5.5-2.5,.5zM883.5,488.5l2.5-.5-1.5-6-2.5,.5zM879,471l2.5-.5-1.5-6-2.5,.5zM594,222.5l3-3.5-21-.5-3,3.5zM906.5,604.5l1.5,0-.5-4.5-2,.5zM893,522.5l2.5-.5-1.5-6-2,1zM887,493.5l2.5-.5-1.5-6-2,1zM847.5,372.5l3-1-3-6.5-3.5,1zM844,366l3.5-1-3.5-6.5-3,1.5zM736,254l4.5-2-11-5.5-4.5,2zM389,262l-.5-4-14,9-14,10.5 .5,4.5 14-10.5zM333,309l-.5-5-13.5,17.5-7.5,10-7.5,12.5-.5,7 8-13 7.5-11zM303.5,351l.5-7-8.5,14.5-9,19 2.5,2 .5-1 5.5-11 4.5-9zM844,358.5l3.5-1-3.5-6-3.5,1zM908.5,594l2-.5-.5-5.5-2,.5zM901.5,544l2-.5-1-5.5-2,.5zM891.5,492.5l2.5-.5-1-6-2.5,.5zM866.5,402l3-1-2.5-6-3,.5zM840.5,345l3-1.5-3.5-6.5-3.5,1.5zM708.5,233.5l4.5-2.5-14.5-5-4.5,3zM418,238.5l0-4-30.5,15 .5,4zM304,337l-.5-6.5-7.5,13-8.5,16-4.5,10.5-3,6.5 3,1.5 1.5-3.5 2.5-5.5 4.5-10 4.5-8zM901.5,532l2-.5-1-5.5-2,.5zM867,395l3-1-2.5-6.5-3,1zM800,285l4-1.5-7-6.5-4,1.5zM738,242l5-2-12.5-6-4.5,2.5zM451.5,223l.5-4-34.5,11.5 .5,4zM303.5,330.5l-.5-5.5-7,12-8,14.5-2,4 3,1.5zM906.5,548.5l2-.5-1-5.5-2,.5zM853.5,355.5l3.5-1-3-6.5-3.5,1zM839.5,329.5l3.5-1-4-6.5-3.5,1zM816,296.5l4-1-6-7-4,1.5zM330.5,289l-1-4.5-13.5,15.5-13.5,19 .5,6 14-20zM883,424.5l2.5-1-2-6-2.5,.5zM868,380.5l3-1-2.5-6.5-3,1zM834.5,315l4-1-4.5-6.5-4,1zM913,564.5l2-.5-1-5.5-2,.5zM903,502l2.5-.5-1-6-2.5,.5zM897.5,472.5l2-1-1-6-2.5,1zM873.5,386l3-1-2.5-6.5-3,1zM871,379.5l3-1-2.5-6-3,.5zM915.5,569.5l2-.5-.5-5.5-2,.5zM909,524.5l2.5-.5-1-6-2,.5zM878.5,391.5l3-.5-2-6.5-3,.5zM866.5,359.5l3-1-2.5-6.5-3.5,.5zM717,216l5-2-16-5.5-5,2.5zM327,275.5l-1.5-4-13.5,14.5-13,17.5 1.5,5 13-18zM901,465l2.5-.5-1.5-6-2.5,.5zM892.5,428.5l2.5-.5-1.5-6.5-2.5,1zM885.5,403.5l3-.5-2-6.5-3,.5zM881.5,391l3-1-2-6.5-3,1zM846,311.5l3.5-1-4-6.5-4,1zM722,214l5-2.5-16-5.5-5,2.5zM921,580l2-.5-1-5.5-2,.5zM917.5,552l2-.5-.5-5.5-2.5,.5zM896.5,434l3-.5-1.5-6.5-3,1zM818.5,269.5l4-1.5-6.5-7-4.5,1.5zM919.5,551.5l2-.5-.5-5.5-2,.5zM861,323l3.5-1-3.5-6.5-4,1zM782.5,234l5-1.5-11-7-5,2zM633.5,187l4-3.5-26-2-3.5,3zM296,294l-1.5-4-12.5,20-6.5,12-7,14 1,6.5 7-15 7-12.5 6.5-11zM926,590l2,0-1-5.5-1.5,0zM913.5,493.5l2-.5-.5-6-2.5,.5zM899,420.5l2.5-.5-1.5-6.5-2.5,.5zM450.5,192.5l-.5-4-40,11 1.5,4zM268.5,336l-1-5.5-7.5,17-2,5-1,3-.5,1 3,1.5 1.5-3 4-10zM927,584.5l2-.5-.5-5.5-2,.5zM877,341.5l3.5-.5-2.5-7-3.5,1zM292.5,285.5l-2-4-12,19-6.5,11.5-6,13 1.5,5.5 6.5-14 6-11.5zM928,573l2-.5-.5-5.5-2,.5zM927,561.5l2,0-.5-6-2,.5zM926.5,556l2-.5-1-5.5-2,.5zM919.5,504l2.5,0-1-6-2,.5zM894.5,380.5l3-.5-2-6.5-3,.5zM880.5,341l3.5-1-2.5-7-3.5,1zM861,299.5l4-1-4.5-7-4,1zM823,250l4.5-1.5-7.5-7-5,1.5zM797.5,229l5-2-10-7-5.5,2zM449,185l-.5-4-42,11.5 2,3.5zM342.5,228.5l-2.5-3.5-14,10.5-13.5,12.5 2.5,3.5 13.5-12zM266,325l-2-5.5-12,30 3.5,1 3.5-9.5zM931,583.5l2,0-.5-6-2,.5zM929,561.5l2-.5-.5-5.5-2,0zM909.5,431l3-.5-1.5-6-2.5,.5zM897.5,380l3-.5-2-6.5-3,.5zM447.5,177.5l-1.5-3.5-22.5,5-21,6 2,3.5 21-6zM912.5,417.5l2.5-.5-1-6.5-3,.5zM901.5,372l3-.5-1.5-6.5-3.5,.5zM895.5,352l3.5-.5-2.5-7-3,1zM891,338.5l3.5-1-2.5-6.5-3.5,.5zM872.5,296.5l4-1-3.5-7-4,1zM830,238.5l5.5-1.5-8-7.5-5,1.5zM780,202.5l6-1.5-14-7-6,2zM320.5,229l-3.5-3.5-13,12-12,13.5 2.5,3.5 12.5-13.5zM934.5,554.5l2,0-.5-6-2,.5zM889,324l4-1-3-7-3.5,1zM827.5,229.5l5.5-1-8.5-7.5-5.5,1.5zM667,165.5l5.5-3-30.5-3.5-5,3zM331,214.5l-3-3-14,10.5-13,12 3,3.5 13-12zM933,520l2-.5-.5-6-2,.5zM895.5,330l3.5-.5-2.5-7-3.5,.5zM359.5,193l-3.5-3.5-16.5,9 3.5,3zM942,598.5l2,0-.5-5.5-2,0zM941,587.5l2,0-.5-5.5-1.5,0zM930,478l2.5-.5-.5-6-2.5,.5zM920.5,416l3-.5-1.5-6.5-2.5,.5zM905.5,350l3-.5-1.5-7-3.5,.5zM899,329.5l3.5-1-2.5-7-3.5,1zM891,308l4-.5-3-7-4,.5zM888,301l4-.5-3-7.5-4,1zM864,257l4.5-1-5-7.5-5,1zM845.5,234.5l5.5-1-7-8-5.5,1.5zM647.5,156l5-3-35.5-3-4,3zM263.5,277l-3-3.5-10,20.5 2.5,4zM942.5,582l2-.5-.5-5.5-1.5,0zM932,471.5l2-.5-.5-6-2.5,.5zM929.5,453l2.5,0-1-6.5-2.5,.5zM926.5,434.5l2.5-.5-1-6-2.5,.5zM918.5,389.5l3-.5-1.5-6.5-3,.5zM413.5,165l-3.5-3.5-22.5,6.5 3.5,3.5zM306.5,216l-4-3-12.5,12-11.5,13 3.5,3 11.5-13zM944,576l2-.5 0-5.5-2,.5zM908,335l3.5-.5-2-7-3.5,.5zM247.5,290.5l-3-3-5,11.5-4.5,13.5-5.5,16-1,5-.5,1.5 3.5,1 0-.5 .5-2 5.5-17 5-14zM925.5,395.5l3-.5-1.5-6.5-2.5,0zM918.5,362l3.5-.5-1.5-7-3.5,.5zM894,284l4-.5-3-7.5-4.5,.5zM868,238.5l5-1-6-7.5-5,1zM327,189l-4.5-3-15,10-13.5,11 4.5,3 13.5-11zM947.5,564l2,0-.5-5.5-2,0zM945.5,541.5l2-.5 0-5.5-2.5,0zM944.5,530l2.5-.5-.5-5.5-2.5,0zM924.5,375l3.5-.5-1.5-6.5-3,.5zM923.5,368.5l3-.5-1.5-7-3,.5zM920.5,354.5l3-.5-1.5-6.5-3.5,.5zM909,312.5l3.5-.5-2-7-4,.5zM904,298l4-.5-3-7.5-4,1zM873,237.5l5.5-1-6-7.5-5.5,1zM949,558.5l2-.5-.5-5.5-2,0zM944.5,500.5l2-.5-.5-6-2,.5zM940,458l2.5-.5-.5-6-2.5,.5zM926.5,368l3-.5-1-7-3.5,.5zM910.5,305l4-1-2.5-7-4,.5zM831,189l7.5-1.5-12.5-8-7,1.5zM712.5,146l8-3-17-2.5-18.5-2.5-7.5,3 18.5,2zM592,135l4-3.5-49.5,0-1.5,3.5zM953.5,597.5l1.5-.5 0-5.5-2,0zM945,482l2.5,0-1-6-2,0zM927,353.5l3,0-1-7-3.5,.5zM916.5,311.5l4-.5-2.5-7.5-3.5,.5zM546.5,131.5l1.5-3.5-49.5,2 1,3.5zM939,407l2.5-.5-.5-6.5-3,.5zM938,400.5l3-.5-1-6.5-3,0zM934,373.5l3,0-1-7-3.5,.5zM932.5,367l3.5-.5-1.5-6.5-3,0zM929,346.5l3-.5-1.5-7-3,.5zM916,296l4-.5-2.5-7.5-4,1zM878,219l6-1-6.5-8.5-6,1zM306.5,178l-6-3-14.5,10.5 6,2.5zM955,557.5l2,0-.5-6-2,.5zM952.5,517l2,0-.5-6-2,.5zM949.5,481.5l2.5,0-.5-6.5-2.5,.5zM934.5,360l3.5-.5-1.5-7-3,.5zM917.5,288l4.5-.5-2.5-7.5-4.5,.5zM915,280.5l4.5-.5-2.5-7.5-4.5,.5zM738,138l9.5-2.5-17.5-3-20-3-9,2.5 19.5,3zM335.5,157l-6.5-2.5-19,8.5 6.5,2.5zM286,185.5l-6-2.5-12,11.5 5.5,2.5zM954.5,517l2,0 0-6-2.5,0zM952.5,487.5l2-.5 0-6-2.5,.5zM904,241l5.5-.5-4-8-5.5,.5zM959.5,568.5l2,0 0-5.5-2,0zM924,279.5l4.5-.5-2.5-7.5-4.5,.5zM919,264l4.5-.5-2.5-7.5-5,.5zM844.5,165.5l9-1.5-14.5-8.5-9.5,1.5zM219.5,268.5l-4-2-6.5,22 3.5,2.5zM959.5,528.5l2-.5 0-5.5-2.5,0zM958,505l2.5-.5-.5-6-2,.5zM955.5,462.5l2,0-.5-6.5-2,.5zM937,316.5l4-.5-1.5-7.5-4,.5zM964,585l2,0 0-5.5-2,0zM961,516.5l2,0 0-6-2.5,0zM957,456l2.5,0 0-6-2.5,0zM951.5,392l3,0-.5-6.5-3,0zM950,379l3-.5-.5-6.5-3,0zM934.5,286l4.5,0-2-8-4.5,.5zM199,315l-3.5-2.5-1.5,9-1.5,10-2,12.5 0,2.5 3,.5 2-12.5 2-10.5zM964.5,539.5l2,0-.5-6-2,.5zM964,534l2-.5 0-5.5-2,0zM954.5,392l3-.5-.5-6.5-3,.5zM939,286l4-.5-1.5-8-4.5,.5zM820.5,135l12-1.5-13-4.5-14.5-4.5-13,2 15,4zM343,128l-10.5-3-13.5,4-12,4.5 10,2.5 12.5-4.5zM965,510.5l2.5-.5-.5-6-2,.5zM961,437l2.5,0-.5-6.5-2.5,0zM951.5,337l3.5-.5-1-7-3.5,0zM948.5,315l3.5,0-1-7.5-4,.5zM939.5,270l4.5-.5-1.5-8-5,.5zM906,187l7.5-.5-6.5-9-8,1zM227.5,197.5l-7-1.5-6.5,13.5 6,1.5zM202.5,261l-4.5-1.5-5,21.5 4,1.5zM965.5,474l2.5,0-.5-6-2,0zM965,462l2.5-.5-.5-6-2.5,0zM961,398l2.5,0-.5-6.5-2.5,0zM960.5,391.5l2.5,0 0-7-3,.5zM959,378l3,0-.5-7-3,.5zM958.5,371.5l3-.5-.5-6.5-3,0zM956.5,350.5l3.5,0-1-7-3.5,0zM950,300l4,0-1-7.5-4.5,0zM781.5,114.5l16-2-11.5-2.5-12.5-2-14-1.5-16-2-15.5,2.5 15.5,2 14,1.5zM728,107l15.5-2.5-17-1.5-19-1.5-21-1.5-22.5-1-11.5,3 21,1 20,1 18,1.5zM198,259.5l-5-1.5-4,21.5 4,1.5zM968.5,480l2,0 0-6-2.5,0zM965,417.5l2.5,0 0-6.5-3,0zM963,384.5l2.5,0 0-7-3.5,.5zM961.5,371l3.5,0-.5-7-3.5,.5zM960.5,357.5l3-.5-.5-7-3,.5zM208,208.5l-6.5-1.5-4.5,15 5.5,1zM189,279.5l-4-1-2,12.5-2,14.5 4,1.5 2-14.5zM974.5,604.5l1.5,0 0-3.5-2,0zM974,590l2,0-.5-5.5-1.5,0zM973,556.5l2-.5 0-5.5-2,0zM971,492l2.5,0-.5-6-2,0zM969.5,455.5l2.5-.5 0-6-2.5,0zM965.5,377.5l3,0-.5-6.5-3,0zM962,336l3.5,0-.5-7-4,0zM928.5,185l8-.5-4.5-9-8.5,.5zM975,562l2,0 0-6-2,0zM970.5,417l2.5,0 0-6.5-3,0zM969.5,397.5l3,0-.5-6.5-3,0zM940,193.5l7.5-.5-3.5-9-7.5,.5zM180.5,277.5l-4.5-1-1,12-1.5,14.5 4,1 1.5-14.5zM973.5,430l3,0-.5-6.5-2.5,0zM971.5,377.5l3,0-.5-7-3,0zM968.5,328.5l3.5,0-.5-7.5-3.5,.5zM950,202l7-.5-2.5-9-7,.5zM424.5,90l-10-1.5-12-1.5-28,1.5-23.5,2-20,2-17,2 24.5,2.5 17.5-2 20-2 23-1.5zM203.5,166.5l-9-1-5,12 8,1zM179,255l-5-1-2,21.5 4,1zM978,497.5l2.5,0-.5-6-2,0zM977.5,485.5l2.5,0 0-6-2.5,0zM949,174.5l8.5-.5-3-9.5-9.5,.5zM945,165l9.5-.5-3.5-9.5-10.5,.5zM179,219.5l-6-.5-2,16 5.5,1zM172,275.5l-4.5-.5-1,12-1,14 4,1 1-14zM981,539l2,0 0-6-2,0zM979.5,461l2.5,0 0-6-2.5,0zM973,283.5l4.5,0-.5-7.5-4.5,0zM246.5,102.5l-25-1.5-9,5-7,5 20,1 9.5-5zM212,122l-16.5-1-7,10 14,1zM165.5,301l-4-.5-.5,17 0,4.5 0,2 3.5,0 0-1 0-5zM1839,301l-3.5-.5-1,17 0,4.5 0,2 3.5,0 0-1 .5-5zM983.5,604.5l2,0 0-3.5-2,0zM982.5,491.5l2,0 0-6-2,0zM981,390.5l2.5,0 0-6.5-3,0zM980,356.5l3,0 0-7-3.5,0zM972.5,218.5l6,0-.5-8.5-6.5,0zM937.5,114l20-.5-4.5-5.5-5.5-5.5-25,1 8.5,5zM922.5,103.5l25-1-7.5-5.5-11-5.5-36,1 9.5,3 8,2.5zM1836.5,274.5l-4.5-.5-.5,12.5 0,13.5 4,.5 .5-14zM984.5,479.5l2.5,0 0-6-2.5,0zM984.5,461l2.5,0 0-6-2.5,0zM984.5,455l2.5,0 0-6.5-2.5,0zM983.5,390.5l3,0 0-6.5-3,0zM982.5,328l4,0-.5-7-3.5,0zM978,210l6.5,0 0-9-7,0zM1835.5,203l-6.5,0-.5,15 6,0zM987,527l2,0 0-5.5-2,0zM987,473.5l2.5,0 0-6-2.5,0zM987,467.5l2.5,0 0-6.5-2.5,0zM987,455l2.5,0 0-6.5-2.5,0zM983,164l9.5,0 .5-9.5-10.5,0zM989,573l2,0 0-5.5-2,0zM989,515.5l2.5,0 0-6-2.5,0zM989,503.5l2.5,0 0-6-2.5,0zM989.5,429.5l2.5,0 0-6-2.5,0zM991.5,533l2,0 0-6-2,0zM991.5,527l2,0 0-5.5-2,0zM991.5,473.5l2.5,0 0-6-2.5,0zM992,448.5l2.5,0 0-6-2.5,0zM1026,102.5l25.5,1 11.5-5.5 7.5-3 9-2.5-36-1-10.5,5.5zM1813,176l-8.5,.5 2,13 7.5-.5zM1814,189l-7.5,.5 2,14 6.5-.5zM1819.5,300l-4,.5 .5,16.5 0,10 .5,12.5 3.5-1 0-11.5-.5-10zM993,556l2,0 0-5.5-2,0zM993.5,509.5l2.5,0 0-6-2.5,0zM995,410.5l3,0 0-6.5-3,0zM995.5,390.5l3,0 0-6.5-3,0zM1397.5,76l5,3.5 62.5,0 29.5,.5 27.5,.5 25.5,.5 22.5,1 20.5,1 18.5,.5 20-1 24-1-18.5-1.5-21.5-1-25-1-30-.5-34.5-1-39-.5-42.5,0zM1653,81.5l-24,1-20,1 15,1 13.5,1 12,1.5 11,1 18.5,2 15.5,2.5 33.5-1.5-12.5-2.5-15.5-2.5-9.5-1-11-1.5-12.5-1zM1813,253l-5,.5 1.5,21.5 4.5-.5zM996.5,479.5l2,0 .5-6-2.5,0zM996.5,590l2,0 0-5.5-1.5,0zM1001,390.5l3,.5 .5-7-3,0zM1003,350l3.5,0 .5-7-3.5-.5zM1009.5,260.5l5,0 1-8-5,0zM1014,227.5l5.5,.5 2-8.5-6-.5zM1040.5,145.5l11.5,1 9.5-10-13-.5zM1048.5,136l13,.5 12.5-10-15-1zM1750.5,123l-15.5,1 13.5,10 13.5-1.5zM1770.5,143l-11.5,1 8.5,11 10-1zM1805,275.5l-4,.5 1,12.5 1.5,14 4-.5-1-14.5zM998.5,595.5l2,0 0-5.5-2,0zM998.5,590l2,0 0-5.5-2,0zM1003.5,410.5l2.5,0 .5-6.5-3,0zM1006.5,350l3,0 .5-7-3,0zM1007.5,335.5l3,.5 1-7.5-3.5,0zM1767.5,155l-10,1 7.5,11.5 9-1zM1784.5,191.5l-7.5,.5 5,14 6.5-1zM1803.5,302.5l-4,1.5 2,17 3.5,0 0-1zM1003.5,480l2,0 .5-6-2.5-.5zM1003.5,473.5l2.5,.5 0-6.5-2.5,0zM1009,357l3.5,0 .5-7-3.5,0zM1016,284l4,.5 1.5-8-4.5,0zM1018,268.5l4.5,.5 1.5-8-5-.5zM1032.5,202.5l7,.5 3.5-9-7.5-.5zM1141,108.5l19,1.5 11-2 12.5-2.5 14-2 15.5-2-20.5-2-15.5,2-13.5,2-12,2.5zM1757.5,156l-9.5,1 8.5,11.5 8.5-1zM1790,237.5l-5.5,1 4,18 5-1zM1006,474l2,0 .5-6-2.5-.5zM1007,449l2.5,0 0-6-2.5,0zM1012.5,357l3,.5 1-7-3.5-.5zM1160,110l17.5,2 11-2 13-2 14-2 15.5-2-18-2.5-15.5,2-14,2-12.5,2.5zM1523.5,95.5l-10,3.5 20.5,1 19,1.5 17.5,1.5 16.5,1.5 14.5-2.5-16.5-2-19-1.5-20-1.5zM1007.5,486l2.5,0 .5-6-2.5,0zM1011,424l2.5,0 .5-6.5-3,0zM1015.5,357.5l3.5,0 .5-7-3,0zM1026,277l4,.5 2-8-5-.5zM1099,139.5l12,1 9-4.5 10-4.5-13-1.5-9.5,5zM1748,170l-8,1.5 9,11.5 7.5-1.5zM1792,306.5l-3.5,2 4.5,35 3.5-.5zM1007,562l2,.5 0-6-2,0zM1007,556.5l2,0 .5-5.5-2,0zM1010.5,474l2.5,0 .5-6-2.5,0zM1012,449.5l2.5,0 .5-6-2.5-.5zM1020.5,343.5l3.5,.5 .5-7-3.5-.5zM1096.5,150l10.5,1 15.5-9-11.5-1.5zM1623,114.5l-12,3 18,3.5 16,4 12-2.5-16-4zM1007.5,601.5l2,0 .5-5.5-2,0zM1012.5,486.5l2,0 .5-6-2.5,0zM1019.5,385l3,0 .5-6.5-3,0zM1024,344l3,0 1-7-3.5,0zM1170,124.5l13,2 18-4 20.5-3.5-13.5-2.5-20.5,4zM1611,117.5l-10.5,2.5 18,3.5 16,4 10.5-2.5-16-4zM1750,197.5l-6.5,1.5 8,13.5 5.5-1.5zM1757,211l-5.5,1.5 6.5,15 5.5-2zM1763.5,225.5l-5.5,2 6.5,16 5-1.5zM1779.5,282.5l-4,2 3,13 3,15 3.5-2-3-15zM1012,534l2.5,0 0-6-2,0zM1014,498.5l2,0 .5-6-2,0zM1018.5,431l2.5,0 .5-6.5-2.5,0zM1029,330l3.5,.5 1.5-7.5-3.5,0zM1033,308l3.5,.5 1.5-7.5-4,0zM1035.5,293.5l4,0 2-7.5-4.5-.5zM1133.5,143.5l10.5,1.5 10.5-4 12-4.5-11.5-1.5-11.5,4zM1155,135l11.5,1.5 13.5-4 15.5-4-12.5-2-15,4zM1724.5,174.5l-7.5,2 11,11.5 6.5-1.5zM1013,562.5l2,0 .5-5.5-2,0zM1014,545.5l2,0 0-5.5-2-.5zM1016,498.5l2.5,.5 .5-6-2.5-.5zM1022.5,412l3,0 .5-6.5-3,0zM1024,398.5l2.5,.5 1-6.5-3-.5zM1029.5,351.5l3.5,0 1-6.5-3.5-.5zM1038,301l4,.5 2-7.5-4.5-.5zM1092.5,180l8,1 9.5-8.5-8-1zM1348.5,111.5l6.5,3 67.5-.5-1.5-3.5-37,0zM1490,112.5l-3.5,3.5 28,2 26,2 6.5-3-27.5-2.5zM1778,314.5l-3.5,3 2,9 1.5,11 1,6.5 .5,2.5 3.5-.5-2-12-1.5-10zM1014,579.5l2,.5 .5-6-2,0zM1018.5,499l2,0 .5-6-2,0zM1021.5,456.5l2.5,0 .5-6-2.5-.5zM1022.5,444l2.5,0 .5-6-2.5-.5zM1025.5,412l2.5,.5 1-6.5-3-.5zM1073.5,215l6.5,1 5.5-8.5-6.5-1zM1761.5,266l-4,2 7,22.5 3.5-2zM1774.5,317.5l-3,2.5 1.5,10 4-1-.5-2.5zM1018,546l2,0 .5-6-2.5,0zM1020.5,505l2,0 .5-5.5-2.5-.5zM1021,493l2.5,.5 .5-6-2.5-.5zM1028,412.5l3,0 .5-6.5-2.5,0zM1303.5,121l8,3 26.5-1.5 28.5-1.5-5.5-3-30,1zM1750.5,249.5l-4.5,2 7.5,19 4-2.5zM1017.5,596.5l1.5,.5 .5-5.5-2-.5zM1020,546l2,0 .5-5.5-2-.5zM1020.5,534.5l2,0 .5-5.5-2-.5zM1025,475l2,.5 .5-6-2-.5zM1026.5,457l2.5,0 .5-6-2.5-.5zM1059,272.5l4.5,.5 3-7.5-5-1zM1065,257l4.5,.5 3.5-7.5-5-1zM1228,135.5l9.5,2.5 17.5-3.5 19.5-2.5-9-3-20,3zM1020,586l1.5,0 .5-5.5-2-.5zM1020,580l2,.5 .5-5.5-2-.5zM1022.5,534.5l2.5,.5 0-6-2,0zM1027.5,469.5l2.5,0 .5-6-2.5-.5zM1047,332l3.5,.5 1.5-7.5-3.5-.5zM1066.5,265.5l4.5,.5 3.5-7.5-5-1zM1086.5,226l5.5,.5 5.5-8-5.5-1zM1274.5,132l8.5,2.5 20.5-2 22.5-2-7-3-23,2zM1724.5,222l-4.5,2.5 9,15 9,16.5 4-2.5-8.5-16.5zM1022,580.5l2,0 .5-5.5-2,0zM1022.5,569l2,.5 .5-6-2,0zM1027,505.5l2,.5 .5-6-2-.5zM1030,469.5l2.5,.5 .5-6-2.5-.5zM1032.5,445l2.5,0 1-6-2.5-.5zM1097.5,218.5l6,1 7-8-6-1zM1120.5,194l6.5,1.5 10.5-8-7-1.5zM1036.5,432.5l2.5,.5 1-6.5-2.5,0zM1043,387.5l3,.5 1-7-3,0zM1052.5,340l3,.5 2-7-3.5-.5zM1149.5,179.5l7.5,1.5 14.5-8-8-1.5zM1225.5,149l8,2.5 14-3 15.5-3-8-2.5-15.5,3zM1255,143l8,2.5 17-2.5 18-2.5-7.5-3-18.5,2.5zM1760,334.5l-2.5,4.5 .5,3 0,1 3.5-1-.5-2zM1025.5,586.5l2,0 .5-5.5-2,0zM1026,575l2,.5 .5-5.5-2-.5zM1033.5,482.5l2.5,0 .5-6-2.5,0zM1037.5,445.5l2.5,.5 1-6.5-2.5,0zM1045,394.5l3,.5 1-6.5-3-.5zM1048.5,374.5l3,.5 1.5-7-3.5,0zM1263,145.5l7.5,2.5 16.5-2.5 18-2-7-3-18,2.5zM1298,140.5l7,3 19-2 20-1.5-5.5-3.5-21,2zM1643,173.5l-5,3 16.5,9.5 5-3zM1674.5,193l-5,3 13.5,11 12.5,12 4.5-3-12-12zM1700,216l-4.5,3 11,13 4.5-2.5zM1028.5,570l2,0 .5-5.5-2-.5zM1041,439.5l2.5,.5 1-6.5-2.5,0zM1051.5,375l3,.5 1.5-7-3-.5zM1063,327l3.5,.5 2-7-3.5-1zM1078,283.5l4,.5 3.5-7.5-4.5-.5zM1695.5,219l-4.5,2.5 11.5,13.5 4-3zM1706.5,232l-4,3 10.5,15 4-3zM1029.5,581.5l2,0 .5-5.5-2-.5zM1048.5,408.5l2.5,0 1.5-6.5-3,0zM1052,388.5l3,.5 1-6.5-3-.5zM1224.5,163l7.5,2 24.5-6-7.5-2.5zM1031.5,587l1.5,.5 .5-5.5-2-.5zM1036,530.5l2,0 .5-5.5-2-.5zM1107.5,247.5l5,1 6-7.5-5-1.5zM1687,224.5l-4,3 12,13.5 11,15 3.5-3-11-15zM1709.5,253l-3.5,3 10.5,17 10,21 3-3.5-10-20.5zM1034,576l2,.5 .5-5.5-2-.5zM1037,542l2,.5 .5-5.5-2-.5zM1038,530.5l2,.5 .5-6-2,0zM1046,459.5l2.5,0 1-6-2.5-.5zM1049.5,434.5l2.5,.5 1.5-6.5-3-.5zM1059,383l3,.5 1.5-6.5-3-.5zM1359,149.5l4.5,3.5 37-1.5-3-3zM1035.5,582l2,.5 .5-5.5-2-.5zM1038,554l2,0 .5-5.5-2-.5zM1038.5,548l2,.5 .5-5.5-2-.5zM1047.5,466l2.5,0 1-6-2.5-.5zM1060.5,390l3,.5 1.5-6.5-3-.5zM1091.5,294l4,.5 3.5-7-4-1zM1102.5,272l4.5,1 5-7.5-5-1zM1270,164.5l6,2.5 27.5-4.5-6-3zM1297.5,159.5l6,3 30.5-4-5.5-3zM1602.5,181.5l-3.5,3 18,8 17,8.5 3.5-3-16.5-9zM1041,543l2,0 .5-5.5-2-.5zM1041.5,537l2,.5 .5-6-2,0zM1161,213.5l5.5,1.5 11-7.5-6-1.5zM1688,247l-3,3.5 11.5,15.5 11,17.5 3-3.5-11-17.5zM1732.5,329.5l-2,5.5 1.5,4.5 1,2.5 .5,1 3-1.5 0-.5-1-2.5zM1038.5,593.5l2,.5 .5-5.5-2-.5zM1127.5,252l4.5,1 6.5-7.5-5-1zM1133.5,244.5l5,1 7-7-5-1.5zM1614,196l-3,3.5 16.5,8.5 3-3.5zM1047.5,520.5l2.5,.5 .5-6-2-.5zM1048.5,514.5l2,.5 1-6-2.5,0zM1049,509l2.5,0 .5-5.5-2-.5zM1145.5,238.5l5.5,1 8-7-5.5-1.5zM1244,183l6,2.5 20.5-5.5-5.5-2.5zM1041.5,604.5l1.5,0 .5-4.5-1.5,0zM1042,600l1.5,0 .5-5.5-1.5,0zM1091.5,332.5l3.5,.5 2.5-7-3.5-.5zM1103.5,304.5l4,1 4-7-4-1zM1111.5,290l4,1 4.5-7-4.5-1zM1159,232.5l5,1.5 9-7-5-1.5zM1572,188.5l-2,3.5 35.5,14.5 2.5-4-17.5-7.5zM1691,273l-2.5,4 12,18.5 6,11 6,12.5 2-4.5-6-12.5-6-10.5zM1077,386.5l3,.5 2-6.5-3-.5zM1207.5,206.5l5.5,2 14.5-6.5-6-2zM1324.5,174l5,3 27-2.5-4-3.5zM1414,169l2.5,3.5 30,1 30.5,3-1-4-31-2.5zM1664,247.5l-2.5,3.5 12.5,14 12.5,16 2-4-12-16zM1688.5,277l-2,4 12,19 6,11 6.5,13.5 1.5-5.5-6-12.5-6-11zM1712.5,319l-1.5,5.5 6.5,15.5 2,4.5 3-1.5-3.5-9zM1045.5,600.5l2,.5 .5-5.5-2-.5zM1052,539l2,.5 1-6-2.5-.5zM1061,474.5l2.5,.5 1-6-2.5-.5zM1062,468.5l2.5,.5 1-6-2.5-.5zM1082,380.5l3,1 2-6.5-3-1zM1115,299.5l4,1 4.5-7-4-1zM1160.5,242.5l5,1.5 8.5-7-5-1.5zM1282,185.5l5,2.5 22.5-4.5-5-2.5zM1416.5,172.5l2.5,3.5 29,1.5 29.5,2.5-.5-3.5-30.5-3zM1527.5,184.5l-1,3.5 40,11 1.5-3.5zM1686.5,281l-2,4 12,19.5 6.5,11.5 6.5,13.5 1.5-5-6.5-13.5-6-11zM1051,567.5l2,.5 .5-5.5-2-.5zM1052,556.5l2,0 .5-5.5-2-.5zM1071.5,432l3,1 1.5-6.5-3-.5zM1123.5,293.5l4,1 4.5-7-4-1zM1138.5,272.5l4.5,1 6-7-4.5-1zM1309.5,183.5l4.5,3 24.5-3-4.5-3.5zM1360.5,177.5l4,3.5 27.5-1.5-3-3.5zM1419,176l2.5,3.5 28,1.5 28.5,2.5-.5-3.5-29.5-2.5zM1632,232l-2.5,3.5 14,11 13.5,12 2-3.5-13-12.5zM1050,595.5l1.5,.5 1-5.5-2-.5zM1074.5,433l2.5,.5 1.5-6.5-2.5-.5zM1076,426.5l2.5,.5 1.5-6-2.5-.5zM1137.5,280.5l4,1.5 5.5-7-4-1.5zM1224,212.5l5,2.5 14.5-6-5-2.5zM1292.5,191l5,2.5 21.5-4-5-3zM1078.5,427l2.5,1 1.5-6.5-2.5-.5zM1087,395.5l2.5,1 2-6.5-2.5-1zM1127,302.5l4,1 4.5-6.5-4-1.5zM1141.5,282l4,1 6-7-4.5-1zM1259.5,203.5l5.5,2.5 17.5-5-5-3zM1063.5,517.5l2.5,.5 .5-5.5-2-.5zM1069.5,482.5l2.5,.5 1-6-2.5-.5zM1075.5,452.5l2.5,.5 1.5-6-3-.5zM1094,383.5l3,1 2-6.5-3-1zM1189,242.5l4.5,1.5 10-6.5-5-2zM1679,298.5l-1.5,4.5 6.5,10 7,12 7,14 4,8 4,9.5 .5-7.5-7.5-16.5-7-13-6.5-11.5zM1057,586l1.5,.5 1-6-2,0zM1073,477l2.5,.5 1-6-2.5-.5zM1074,471l2.5,.5 1-6-2-.5zM1104,365l3,.5 3-6.5-3.5-.5zM1287.5,203.5l4.5,2.5 19.5-4-4.5-3zM1075.5,477.5l2,.5 1.5-6-2.5-.5zM1091.5,410.5l3,.5 2-6-3-1zM1102,378.5l3,1 2.5-6.5-3-1zM1430,194l2.5,3.5 24.5,2 25,3-1-4-25.5-3zM1650,275l-1.5,4.5 13.5,15.5 13,18 1-5-13-18zM1063.5,564.5l2,.5 .5-5.5-2-.5zM1074,496l2.5,.5 1-6-2-.5zM1090.5,423.5l3,1 1.5-6.5-2.5-.5zM1098.5,398.5l2.5,1 2.5-6.5-3-1zM1100.5,392l3,1 2-6.5-3-.5zM1116,353.5l3,1 3.5-6.5-3.5-1zM1122.5,340.5l3,1 4-6.5-3.5-1zM1142,307l4,1.5 5-6.5-4-1.5zM1236,229.5l4.5,2 13.5-5.5-5-2zM1249,224l5,2 14.5-5-5-2.5zM1263.5,218.5l5,2.5 15.5-5-4.5-2.5zM1336.5,201.5l4,3 21.5-2-3.5-3.5zM1621,255.5l-1,4 13.5,11.5 13.5,13 1.5-4.5-13.5-13zM1648.5,279.5l-1.5,4.5 13.5,15.5 13.5,19 1-5.5-13-18zM1675,313l-1,5.5 7,11.5 7.5,13.5 4.5,8 4,9.5 2,4.5 3-1.5-.5-1-4.5-10-8-16-7-13zM1068,548l2,.5 .5-5.5-2-.5zM1070.5,531l2,.5 1-5.5-2-.5zM1076.5,496.5l2.5,.5 1-6-2.5-.5zM1081.5,473l2,.5 1.5-6-2.5-.5zM1113.5,367.5l3,1 3-6.5-3.5-1zM1162,288.5l4,1.5 6-6.5-4-1.5zM1198,256l4.5,1.5 9.5-6-4.5-2zM1320,208l4.5,3 20-3-4-3.5zM1620,259.5l-1.5,4 14,12 13.5,13 1-4.5-13.5-13zM1064,593l1.5,.5 1-5.5-2-.5zM1064.5,587.5l2,.5 .5-5.5-2-.5zM1069,554l2,.5 1-5.5-2-.5zM1070.5,543l2.5,.5 .5-5.5-2-.5zM1074.5,520l2,.5 1-5.5-2-.5zM1086.5,461.5l2.5,.5 1.5-6-2.5-.5zM1113.5,375l3.5,.5 2.5-6-3-1zM1202.5,257.5l4.5,2 9.5-6-4.5-2zM1590,244.5l-1,4.5 14.5,9 14.5,10 .5-4.5-14-10zM1646,288.5l-1,5 14,16 7,9.5 7,11 .5-6-14-19.5zM1065.5,593.5l2,.5 1-5.5-2-.5zM1072,549l2,.5 1-5.5-2-.5zM1132.5,343.5l3.5,1 3.5-6.5-3.5-1zM1190.5,272l4,2 8-6.5-4-1.5zM1391.5,207.5l3,3.5 22.5,0-2.5-3.5zM1414.5,207.5l2.5,3.5 23.5,1-2-3.5zM1525,222.5l0,4 33.5,11.5 0-4zM1558.5,234l0,4 30,15 .5-4zM1589,249l-.5,4 14.5,9 14,10.5 1-4.5-14.5-10zM1645,293.5l-.5,5 13.5,16.5 7.5,10 7,11.5 .5-6.5-7-11-7-9.5zM1068.5,588.5l2,.5 .5-5.5-2-.5zM1083.5,498l2,1 1.5-6-2.5-.5zM1098,439l2.5,.5 1.5-6-2.5-1zM1125.5,364l3.5,1 3-6.5-3-1zM1148,325.5l3.5,1 4.5-6.5-3.5-1zM1152.5,319l3.5,1 5-6.5-4-1zM1211.5,261.5l4,2 9.5-6-4-2zM1297.5,224l4,3 17-4-4-3zM1332.5,216.5l4,3.5 19-3-3.5-3zM1417,211l2.5,3.5 23,1.5-2-4zM1644.5,298.5l-.5,5 14,17 7,10.5 7.5,12 0-6.5-7-11.5-7.5-10zM1094,463.5l2,1 2-6-2.5-1zM1147,333l3.5,1 4.5-6-3.5-1.5zM1376,215.5l3,3 21.5-.5-3-3.5zM1487,221.5l1.5,4 37.5,9-.5-4zM1072,589.5l2,.5 1-5.5-2-.5zM1089,493.5l2.5,1 1-6-2-.5zM1099.5,452.5l2.5,.5 1.5-6-2.5-.5zM1115.5,403.5l2.5,1 2.5-6-2.5-1zM1123,385l3,1 3-6.5-3-1zM1181.5,296l4,1.5 6.5-6-4-2zM1400.5,218l2.5,3.5 21.5,.5-2.5-4zM1077.5,568l2,.5 1-5.5-2-.5zM1102,453l2.5,1 1.5-6-2.5-1zM1154,335.5l3.5,1.5 4.5-6.5-3.5-1.5zM1207,279l4,2 8-6-4-2zM1344,226l3.5,3 18.5-2-3.5-3.5zM1382.5,222l3,3.5 20.5-.5-3-3.5zM1077.5,579.5l2,.5 1-5.5-2-.5zM1085.5,535l2,.5 1-5.5-2-.5zM1149,349.5l3.5,1 4-6-3.5-1.5zM1196,293l4,2 7-6-4-2zM1228,269.5l4,2 10-5.5-4-2.5zM1238,263.5l4,2.5 10.5-5.5-4.5-2.5zM1271.5,248l4,2.5 13.5-4.5-4.5-2.5zM1299,239l4,2.5 15-3.5-4-3zM1330,232l4,2.5 17-2.5-3.5-3zM1527,243l.5,4 31,12.5-.5-4.5zM1615,291l0,5 14,13.5 14,16 0-6-14-15.5zM1643,319.5l0,6 7.5,9.5 7.5,11 8,13 4.5,8 5,9.5-1.5-10-8.5-15-8-12.5-7.5-10.5zM1077,596.5l2,.5 1-5.5-2-.5zM1087.5,535.5l2,1 1-6-2-.5zM1160.5,338l3.5,1.5 4.5-6-3-1.5zM1193,301l4,1.5 6.5-6-3.5-1.5zM1223.5,277l3.5,2 9.5-5.5-4.5-2zM1289,246l4,2.5 14-4-4-3zM1102.5,479l2.5,.5 1.5-5.5-2-1zM1117.5,431.5l2.5,1 2-6-2.5-1zM1129.5,401.5l2.5,1 3-6.5-3-1zM1141,376.5l3,1.5 3.5-6.5-3-1zM1431.5,232.5l2.5,4 20.5,2-2-4zM1089.5,548l2,.5 1-5.5-2-.5zM1112,456.5l2.5,.5 2-6-2.5-.5zM1120,432.5l2.5,1 2.5-6-3-1zM1124.5,420.5l2.5,1 2.5-6-2.5-1zM1135,396l3,1.5 2.5-6.5-2.5-1zM1138,390l2.5,1 3.5-6-3-1zM1144,378l3,1 3.5-6-3-1.5zM1163,347l3.5,1.5 4.5-6.5-3.5-1zM1325.5,244l3.5,2.5 16-2.5-3.5-3zM1376,236.5l3,3.5 18.5-1-3-3.5zM1083,598l2,.5 .5-5-1.5-1zM1084,592.5l1.5,1 1-5.5-2-.5zM1090.5,554.5l2,.5 1-5.5-2-1zM1092.5,543l2,1 1.5-6-2-.5zM1103,498l2,.5 1.5-5.5-2-1zM1132,409.5l3,1 3-6-3-1zM1147,379l3,1 3.5-6-3-1zM1397.5,239l3,3.5 18.5,.5-2.5-4zM1615,311.5l.5,5.5 14.5,15 7,9 8,10.5-1-7-14.5-18.5zM1101,515.5l2,1 1.5-6-2-.5zM1165,356l3.5,1 4.5-6-3.5-1.5zM1195.5,319.5l3.5,1.5 6-5.5-3.5-2zM1230.5,290.5l3.5,2 8.5-5-3.5-2.5zM1087.5,594l2,.5 1-5.5-2-.5zM1095.5,550l2,.5 1.5-5.5-2-.5zM1107.5,499.5l2,.5 2-5.5-2.5-1zM1130,429.5l3,1 2.5-6-3-1zM1150,387.5l2.5,1 3.5-6-3-1zM1173,351l3,1.5 4.5-6-3-1.5zM1218.5,304l4,1.5 7.5-5.5-4-2zM1460.5,250l2,4 37.5,7.5-1.5-4zM1531.5,268.5l1,4 29,14-1-5zM1109.5,500l2.5,1 1.5-6-2-.5zM1114.5,483l2.5,1 1.5-6-2-1zM1118,471.5l2.5,1 2-6-2.5-1zM1138,418.5l2.5,1 3-6-3-1zM1146.5,400.5l2.5,1 3.5-5.5-3-1.5zM1191,334.5l3,2 6-6-3.5-1.5zM1246.5,289.5l3.5,2 9.5-5-4-2zM1276,274.5l4,2.5 11-4.5-4-2.5zM1374.5,254.5l3,3.5 16.5-1-2.5-3.5zM1501.5,266l1.5,4 32,11.5-1-4.5zM1105.5,535.5l2.5,.5 1-5.5-2-.5zM1111,513l2.5,1 1.5-6-2.5-.5zM1129,456l2.5,1 2-6-2.5-1zM1149,409l3,1 3-6-3-1zM1178,361.5l3,1.5 4.5-6-3-1.5zM1197.5,338l3.5,1.5 5.5-5.5-3-2zM1245.5,299l3.5,2 8.5-5-3.5-2zM1503,270l1.5,4.5 31.5,11.5-1-4.5zM1618.5,341l1,6.5 8,9 8,10.5 9,13.5 5,8 1.5,2 .5,1 1-1-.5-4.5-9.5-15-8.5-11.5-8-10zM1097.5,585.5l2,.5 1-5-2-1zM1141,433.5l2.5,1 2.5-6-2.5-1zM1241,306l3.5,2.5 8-5.5-3.5-2zM1323,270.5l3.5,3 13-3-3.5-3zM1096.5,602.5l1.5,.5 1-5.5-2-.5zM1102.5,570l2,.5 1-5.5-2-.5zM1400,264l3,3.5 16.5,0-2.5-3.5zM1452,267l2.5,3.5 18,3.5-2-4zM1100,592.5l2,.5 1-5.5-2-.5zM1103.5,576l2,1 1-5.5-2-1zM1143.5,441.5l2.5,1 2.5-6-2.5-1zM1148.5,430l3,1 2.5-6-2.5-1zM1213.5,337.5l3,1.5 6.5-5.5-3.5-1.5zM1294.5,287l3.5,2.5 11-3.5-3.5-3zM1538.5,295.5l1.5,5 13.5,7 14,8.5-1.5-5-13.5-8.5zM1106.5,571.5l2,.5 1-5.5-2-.5zM1115.5,533l2,1 1.5-5.5-2-1zM1127,494l2,1 2-6-2.5-1zM1268.5,303l3.5,2 9-4.5-3.5-2.5zM1439,272.5l2.5,4 17.5,2-2.5-4zM1146,449.5l2.5,1 2.5-6-2.5-1zM1160,420.5l2.5,1.5 3-6-2.5-1zM1363.5,277.5l3,3 14.5-1.5-3.5-3zM1511,292l1.5,4.5 15,6 15,7.5-1-5-15.5-7zM1568.5,321.5l1.5,5.5 13.5,10 14,12.5-1.5-6-14-12zM1109.5,578.5l2,.5 1-5.5-2-.5zM1121.5,529l2,1 1.5-5.5-2-1zM1151,444.5l3,1.5 2.5-6-2.5-1zM1188,382l2.5,1.5 4.5-6-3-1.5zM1229.5,337.5l3.5,2 6.5-5.5-3.5-2zM1478.5,286l2,4.5 16.5,4.5 17,6-1.5-4.5-17-6zM1542.5,310l2,5 13.5,8 13.5,9.5-1.5-5.5-13.5-9.5zM1597.5,349.5l2,7 15,16.5 8.5,11 9.5,13.5-3-10.5-9-12-8-9.5zM1629.5,387l3,10.5 5.5,8.5 3,5 .5,1 2.5-2-1.5-2.5-3-5-5.5-8.5zM1107,600.5l2,.5 1-5-2-1zM1111.5,579l2,1 1-5.5-2-1zM1123.5,530l2,1 2-5.5-2.5-1zM1571.5,332.5l1.5,5.5 14,11.5 14,14-1.5-7-14.5-13.5zM1599.5,356.5l1.5,7 8,8 8,10 9,12 5,7.5 5.5,8.5-4-12-9.5-13.5-8.5-11zM1401.5,285.5l3,3.5 15,0-3-3.5zM1416.5,285.5l3,3.5 15.5,1-2.5-3.5zM1636.5,409.5l3,7.5-1,1.5 2.5-2-1-1.5zM1116.5,575l2,1 1.5-5.5-2-.5zM1149,470.5l2.5,1.5 2.5-6-2.5-1zM1154,459.5l2.5,1 2.5-5.5-2.5-1zM1164.5,437l2.5,1 3-5.5-2.5-1zM1435,290l2.5,4 16,2-2.5-4zM1118.5,576l2,1 1.5-5.5-2-1zM1133.5,521.5l2,1 2-5.5-2.5-1zM1156.5,460.5l2.5,1.5 2.5-6-2.5-1zM1161.5,449.5l2.5,1 3-5.5-2.5-1zM1199.5,388l3,1.5 4.5-5.5-3-1.5zM1256.5,335.5l3,2 7.5-4.5-3-2.5zM1264,330.5l3,2.5 8-5-3-2zM1549,330.5l2,5.5 13.5,9 14,11.5-2-6.5-14-10.5zM1605.5,378.5l3,8 8.5,11.5 5,6.5 5.5,8 2.5,4 2-2.5-.5-1-3-4.5-5-8-9.5-12zM1156.5,467.5l2,1 3-5.5-2.5-1zM1173,434l2.5,1 3-5.5-2.5-1zM1222,368l3,1.5 5.5-5-3-2zM1322,308.5l3,3 11-3-3.5-3zM1332.5,305.5l3.5,3 11.5-2.5-3.5-3.5zM1425,296.5l2.5,4 15,1.5-2.5-4zM1521.5,320l2,5 14.5,7.5 15,9-2-5.5-15-9zM1551,336l2,5.5 13.5,9.5 14,12-2-6.5-14-11.5zM1121.5,583l2,1 1-5.5-2-1zM1197,402l3,1.5 4-5.5-3-1.5zM1201,396.5l3,1.5 4.5-5.5-3-1.5zM1347.5,306l3,3 12-2.5-3-3zM1412.5,299.5l3,4 14.5,.5-2.5-3.5zM1427.5,300.5l2.5,3.5 15,2-2.5-4zM1458.5,304.5l2,4 16,3.5-2-4.5zM1474.5,307.5l2,4.5 16.5,5-2-4.5zM1523.5,325l2,5 14.5,7.5 15,9.5-2-5.5-15-9zM1119.5,599.5l2,1 1.5-5.5-2-.5zM1123.5,584l2,.5 1-5-2-1zM1127.5,568l2,.5 1.5-5-2-1zM1130,557l2.5,1 1.5-5.5-2.5-1zM1274,337.5l3,2 8-4-3.5-2.5zM1299,325l3,2.5 9.5-4-3.5-2.5zM1493,317l2.5,4.5 15.5,6 16.5,7.5-2-5-16.5-7.5zM1120.5,604.5l2,0 1-3-2-1zM1156.5,487.5l2.5,1 2-5.5-2.5-1zM1166,465.5l2.5,1 3-5.5-2.5-1zM1331.5,317l3,3 11-2.5-3-3zM1391,307.5l2.5,3.5 13.5-.5-3-3.5zM1463,312.5l2.5,4.5 16,4-2.5-4.5zM1130,575l2,.5 1.5-5-2-1zM1131.5,569.5l2,1 1.5-5.5-2-1zM1133,564l2,1 1.5-5-2-1zM1134.5,559l2,1 1.5-5.5-2-1zM1136,553.5l2,1 1.5-5.5-2-1zM1141,537.5l2,1 2-5.5-2.5-1zM1154.5,499.5l2,1 2.5-5.5-2.5-1zM1177,450l3,1.5 3-5.5-2.5-1.5zM1240,370l3,2 6-4.5-3-2zM1265.5,351l3,2 7.5-4.5-3.5-2zM1407,310.5l3,3.5 13.5,.5-2.5-3.5zM1435.5,312l2.5,4 15,2-3-4zM1481.5,321l2,4.5 16.5,5-2.5-4.5zM1128,591.5l2,1 1.5-5.5-2-.5zM1145,533l2,1 2-5.5-2.5-1zM1193,430l2.5,1.5 3.5-5.5-2.5-1.5zM1208.5,408.5l2.5,1.5 4.5-5.5-3-1.5zM1212.5,403l3,1.5 4.5-5-3-1.5zM1232,382l3,2 5.5-5-3-2zM1291.5,340.5l3,2 8.5-3.5-3-2.5zM1318,329l3,3 10-3.5-3.5-2.5zM1327.5,326l3.5,2.5 10-2.5-3-3zM1371.5,316.5l3,3 12.5-1-3-3.5zM1396.5,314.5l3,3.5 13,0-2.5-4zM1468,321l2.5,4.5 15.5,4.5-2.5-4.5zM1561.5,365l2.5,6.5 14.5,12.5 7.5,8 8.5,8.5-3.5-8.5-15.5-15zM1128.5,598l2,.5 1.5-5-2-1zM1173.5,469l2.5,1.5 3-5.5-2.5-1.5zM1179.5,458.5l2.5,1 3-5.5-2.5-1zM1211,410l3,1.5 4.5-5-3-2zM1351.5,323.5l3.5,3 11-2-3-3zM1455.5,322l2.5,4.5 15,3.5-2.5-4.5zM1502,335.5l2.5,5 15.5,7 16.5,9-2.5-5.5-16-8.5zM1155,519l2,1 2.5-5.5-2.5-1zM1166,492l2.5,1 2-5-2-1.5zM1182,459.5l2.5,1.5 3-5.5-2.5-1.5zM1268,362l3,2.5 7-4.5-3-2.5zM1344,329l3,3 11-2.5-3-3zM1402.5,321.5l2.5,3.5 13.5,.5-3-4zM1443.5,324l2.5,4 14.5,2.5-2.5-4zM1536.5,356.5l2,5.5 15,10 16,13-3-7-15.5-12zM1166,498.5l2,1.5 2.5-5.5-2-1.5zM1197.5,439.5l2.5,1.5 3.5-5-2.5-1.5zM1212.5,418.5l3,1.5 4-5-3-1.5zM1271,364.5l3,2 7-4-3-2.5zM1538.5,362l2.5,6 15,10.5 16.5,14-3-7.5-16-13zM1602.5,421l5.5,12.5 3,4 1,1.5 2-2.5-.5-.5-6-8.5zM1170.5,494.5l2.5,1 2.5-5-2.5-1.5zM1215.5,420l2.5,2 4.5-5.5-3-1.5zM1281,362.5l3,2 7.5-4-3-2.5zM1421,329l3,4 13.5,1-3-4zM1448.5,332l2.5,4.5 14.5,3-2.5-4.5zM1154,543.5l2,1 2-5-2.5-1.5zM1157.5,533l2.5,1 2-5.5-2.5-1zM1386.5,333l3,3.5 12-.5-3-3.5zM1411,332.5l3,3.5 12.5,1-2.5-4zM1575.5,400l3.5,8.5 8.5,9 9.5,11.5 5.5,7.5 6.5,9 1,1.5 2-2.5-.5-.5-3-5-6-8-10-13-9-9.5zM1186,475.5l2.5,1.5 3-5-2.5-1.5zM1249.5,394l3,2 5.5-5-3-2zM1267,380l3,2 6.5-4-3-2.5zM1414,336l2.5,4 13,1-3-4zM1140.5,603l2,1 1.5-5-2-1zM1211.5,440.5l2.5,1.5 4-5-2.5-1.5zM1276.5,378l3,2 6.5-4-3-2.5zM1471,348l2.5,4.5 14.5,5-2.5-5zM1384,344.5l3,3.5 11-1-2.5-3.5zM1488,357.5l3,5 15,6.5-2.5-5.5zM1519.5,371.5l2.5,5.5 16,10.5 17.5,13-3-7-17-12.5zM1152,579l2,1 1.5-5-2-1zM1158.5,558.5l2.5,1 1.5-5.5-2-1zM1187.5,490.5l2.5,1 3-5-2.5-1.5zM1206,459l2.5,1.5 3.5-5-2.5-1.5zM1238,419l2.5,2 5-5-3-2zM1264,395.5l3,2 5.5-4.5-2.5-2zM1282.5,382.5l3,2 6.5-4-3-2zM1311.5,367l3,2.5 8-3-3-3zM1476,357.5l3,4.5 14.5,5.5-2.5-5zM1506,369l3,5 16,9-3-6zM1593,439l6.5,14 1.5-2.5-2.5-4zM1146.5,604.5l2,0 1-2.5-1.5-1zM1190,491.5l2.5,1.5 3-5-2.5-1.5zM1236,425.5l3,2 4.5-5-3-1.5zM1245.5,416l3,2 5-4.5-3-2zM1306.5,373l3,2.5 8-3-3-3zM1322.5,366.5l3,2.5 8.5-3-3-3zM1154.5,586.5l2,1 1.5-5-2-1.5zM1214.5,457l2.5,2 4-5-2.5-2zM1239,427.5l2.5,2 4.5-5-2.5-2zM1309.5,375.5l3,3 8-3.5-3-2.5zM1342.5,363.5l3,3 9.5-2.5-3-3zM1453.5,359l3,4.5 13.5,3.5-2.5-4.5zM1169,551.5l2,1 2-5-2-1.5zM1182,520.5l2,1 2.5-5-2-1.5zM1192,499.5l2.5,1.5 3-5-2.5-1.5zM1256,415.5l3,2 5-4.5-2.5-2zM1355,364l3,3 9.5-1.5-3-3.5zM1484.5,371.5l2.5,5 15,6.5-3-5.5zM1163.5,573l2,1 2-5-2-1zM1216,465.5l3,1.5 3.5-5-2.5-1.5zM1223.5,455.5l2.5,2 4-5-2.5-2zM1259,417.5l2.5,2 5.5-4.5-3-2zM1534,401.5l3.5,6.5 17.5,14.5 10,9.5 11,11.5-5-10-10.5-10.5-9-8.5zM1160.5,589.5l2,1 1.5-5-2-1zM1162,584.5l2,1 2-5-2-1zM1171,559l2.5,1 2-5-2.5-1.5zM1226,457.5l2.5,1.5 4-5-2.5-1.5zM1251.5,428.5l3,2 5-4.5-3-2zM1284.5,402.5l2.5,2 6.5-4-3-2.5zM1537.5,408l3.5,7 8.5,7.5 9.5,8.5 10.5,10.5 6,6.5 6.5,7.5-6-12-11-11.5-10-9.5zM1177.5,550l2,1 2.5-5-2.5-1.5zM1184,534.5l2.5,1.5 2-5.5-2-1zM1194,514l2,1.5 3-5-2.5-1.5zM1259.5,426l2.5,2 5.5-4.5-3-2zM1264.5,421.5l3,2 5-4-2.5-2.5zM1281,408.5l3,2.5 6-4-3-2.5zM1307,393l3,3 7-3.5-3-3zM1321.5,386.5l3,2.5 7.5-3-2.5-2.5zM1478.5,381.5l3,5 14.5,5.5-3-5zM1493,387l3,5 15,7.5-3-5.5zM1582,455.5l3.5,7.5-.5,1.5 2-2.5-2-2.5zM1171.5,571.5l2,1 2-5-2-1zM1184,541l2,1 2.5-5-2-1zM1227.5,465.5l2.5,2 4-5-3-2zM1324.5,389l3,3 7.5-3-3-3zM1349,381l2.5,3 9-2-3-3.5zM1386,374l3,3.5 10.5-.5-3-3.5zM1418.5,373.5l3,4 11.5,1-3-4zM1442,376l3,4 12.5,3-2.5-4.5zM1230,467.5l2.5,1.5 4-4.5-2.5-2zM1238,457.5l2.5,2 4-4.5-2.5-2zM1250.5,443.5l2.5,2 5-4.5-3-2zM1265,430l2.5,2.5 5.5-4.5-3-2zM1275.5,421.5l2.5,2.5 6-4.5-3-2zM1351.5,384l3,3 9-2-3-3zM1379,378.5l3,3.5 10-1-3-3.5zM1530.5,416l3.5,7 9,7 9.5,8.5-4-8.5zM1174,579l2,1 2-5-2-1zM1209,503.5l2.5,1.5 3-5-2.5-1.5zM1232.5,469l2.5,2 4-5-2.5-1.5zM1315.5,401l3,2.5 7.5-3-3-3zM1323,397.5l3,3 7-3-2.5-3zM1354.5,387l3,3 9-2-3-3zM1382,382l3,3.5 10-1-3-3.5zM1460.5,387.5l3,4.5 13.5,4.5-3-5zM1487.5,396.5l3,5.5 14.5,7-3-6zM1517.5,411.5l3,6.5 17.5,12.5-4-7.5zM1534,423l4,7.5 9,7.5 10.5,9.5-5-9-9.5-8.5zM1552.5,438.5l5,9 11,12 6.5,7.5 7.5,9.5 3.5,5 2-3-1.5-2-4.5-5.5-7-9-12-13.5zM1170.5,595l2,1.5 2-5-2-1.5zM1176,580l2,1.5 2-5-2-1.5zM1243,461.5l2.5,2 4-5-2.5-1.5zM1333,397.5l3,3 8-3-3-2.5zM1366.5,388l3,3.5 9-1.5-3-3.5zM1385,385.5l3,3.5 10-1-3-3.5zM1490.5,402l3,5 15,8-3.5-6zM1176,586.5l2.5,1 1.5-5-2-1zM1180,576.5l2,1 2-5-2-1zM1197.5,536l2.5,1.5 2.5-5-2.5-1.5zM1217,501.5l2.5,1.5 3-4.5-2.5-2zM1388,389l3,3.5 10-.5-3-4zM1419,388.5l3,4 11,1-3-4zM1493.5,407l3.5,6 15,8-3.5-6zM1562.5,458l6.5,11.5 3.5,4 1.5,2 .5,.5 2-2.5-1-1-7-8zM1186,567.5l2.5,1.5 2-5-2-1.5zM1188.5,562.5l2,1.5 2-5-2-1.5zM1195,547.5l2.5,1.5 2-5-2-1.5zM1233,484l2.5,1.5 3.5-4.5-2.5-2zM1256.5,456l3,2 4.5-4.5-3-2zM1317.5,412.5l3,2.5 6.5-3-2.5-3zM1347,400.5l3,3 8-2-3-3zM1355,398.5l3,3 8.5-2-3-3zM1546,446.5l5,9 11.5,11.5 6.5,7.5 8,9.5-8-14.5-12.5-13.5zM1178.5,594l2,1 2-5-2-1zM1188.5,569l2,1 2-5-2-1zM1192.5,559l2.5,1 2-4.5-2-1.5zM1202,539l2.5,1.5 2.5-5-2.5-1.5zM1334.5,409l3,3 7.5-3-3-3zM1375.5,398l2.5,3.5 9.5-1-3-3.5zM1195,560l2,1.5 2.5-5-2.5-1zM1361,404.5l3,3.5 8.5-2-3-3zM1417,399.5l3,4 11,1-3-4zM1217.5,522.5l2.5,1.5 3-4.5-2.5-2zM1240.5,489l2.5,2 3.5-4.5-2.5-2zM1260,466.5l3,2 4-4-2.5-2.5zM1410,403l3,4 10,.5-3-4zM1442,406.5l3,4.5 12,2.5-3-4.5zM1540.5,455l5,9 11.5,11 5.5,6.5 1-1.5 .5-.5-1-2.5-12-12.5zM1201.5,558l2,1.5 2.5-5-2-1.5zM1204,553l2,1.5 2.5-4.5-2-1.5zM1250.5,482l2.5,2 4-4.5-2.5-2zM1297.5,440l3,2.5 5.5-3.5-2.5-2.5zM1329,423l2.5,3 7-3-2.5-2.5zM1434,409l3,4 11.5,2.5-3.5-4.5zM1270,466.5l2.5,2 4.5-4-2.5-2.5zM1318.5,432l3,3 6.5-3.5-3-2.5zM1437,413l3,4.5 11.5,2.5-3-4.5zM1448.5,415.5l3,4.5 12,3.5-3.5-5zM1531.5,456l4.5,8.5 10,9 12,12-6.5-11.5-11-10zM1551.5,474l6.5,11.5 6,7 1.5-2.5-1.5-2-7-7.5zM1230.5,518l2.5,1.5 3-4.5-2-2zM1268,473l2.5,2 4.5-4.5-2.5-2zM1341.5,426l3,3 7.5-2.5-3-3zM1440,417.5l3,4.5 11.5,2.5-3-4.5zM1205.5,567.5l2.5,1 2.5-4.5-2.5-1.5zM1230,524.5l2,1.5 3.5-4.5-2.5-2zM1250,496.5l2.5,2 4-4.5-2.5-2zM1270.5,475l2.5,2 4.5-4-2.5-2.5zM1284.5,462.5l3,2.5 5-4-3-2.5zM1306,447.5l2.5,2.5 6-3.5-2.5-2.5zM1367.5,422.5l2.5,3.5 8.5-1.5-3-3.5zM1199,588l2,1.5 2-5-2-1.5zM1210.5,564l2,1.5 2.5-5-2.5-1.5zM1260.5,490l2.5,2 4-4.5-2.5-2zM1314.5,446.5l3,2.5 6-3-3-2.5zM1435.5,424.5l3,4.5 11,2.5-3-5zM1511,454l4,7 8.5,6 9,7.5-5-8.5zM1207.5,575l2.5,1.5 2-5-2-1.5zM1212.5,565.5l2,1.5 2.5-5-2-1.5zM1234.5,527.5l2.5,2 3-4.5-2.5-2zM1280.5,475l2.5,2.5 4.5-4-2.5-2.5zM1365,431l3,3 8-1.5-3-3zM1408,426l3.5,4 9.5,.5-3-4zM1438.5,429l3,4.5 11.5,2.5-3.5-4.5zM1237,529.5l2.5,1.5 3-4.5-2.5-1.5zM1265.5,494l2.5,2 4-4.5-2.5-2zM1393,430.5l3,3.5 9,0-3-4zM1490,450l3.5,6 14.5,9-4-7zM1207.5,587.5l2,1.5 2.5-5-2.5-1.5zM1246,522l2,2 3.5-4.5-2.5-2zM1323,454.5l2.5,3 6.5-3-3-3zM1371,437.5l3,3.5 8-1.5-3-3.5zM1387.5,435l3,3.5 8.5-.5-3-4zM1434.5,436l3,4.5 10.5,2-3-4.5zM1456,441l3.5,5 11.5,4-3-5.5zM1203,603.5l2,1 2.5-4.5-2.5-1.5zM1255,515l2.5,2 4-4.5-2.5-1.5zM1288,482l3,2 4.5-3.5-2.5-2.5zM1293,478l2.5,2.5 5-4-2.5-2zM1319.5,460.5l3,2.5 6-3-3-2.5zM1374,441l3,3 8-1-3-3.5zM1408,438l3,3.5 9.5,.5-3-4zM1529.5,485.5l5.5,10 11.5,11 3,3.5 1,1 1-4-12-12.5zM1207.5,600l2,1.5 2-5-2-1.5zM1211.5,590.5l2.5,1.5 2-5-2-1.5zM1232,553l2,1.5 3-4.5-2-1.5zM1254,521.5l2.5,2 3.5-4.5-2.5-2zM1257.5,517l2.5,2 4-4.5-2.5-2zM1273,500l2.5,2 4.5-4-2.5-2zM1286,488l3,2.5 4.5-4-2.5-2.5zM1377,444l3,3.5 8-1-3-3.5zM1430.5,443.5l3,4 10.5,2-3.5-4.5zM1535,495.5l7,11 6,6.5 3.5,4 1,1 1.5-3-1-1-6.5-7.5zM1211.5,596.5l2,1.5 2.5-4.5-2-1.5zM1231.5,559.5l2,1.5 3-4.5-2.5-2zM1267.5,510.5l2.5,2 4-4-2.5-2zM1298.5,483l2.5,2 5-3.5-2.5-2.5zM1319.5,469l2.5,2.5 6-3-3-2.5zM1372,449l3,3.5 8-1.5-3-3.5zM1231,565.5l2,1.5 3-4.5-2.5-1.5zM1458,457.5l3.5,5 12,4.5-3.5-5.5zM1527.5,497.5l6,10 12,12 3,4 1,.5 .5-4-6.5-7-6-6zM1220.5,590.5l2,1.5 2.5-4.5-2-2zM1239,558l2,2 3-4.5-2.5-2zM1276.5,510.5l2.5,2.5 4-4-2.5-2.5zM1386,454.5l3,4 8-1-3-3.5zM1430,455l3,4.5 10.5,2-3.5-4.5zM1500,481l4.5,7 16,12.5-5.5-9zM1216,604.5l2,0 2-2-2-1.5zM1247,551l2.5,2 3-4.5-2.5-2zM1296.5,497.5l2.5,2 5-3.5-2.5-2.5zM1339.5,471.5l3,3 6-2.5-2.5-3zM1352.5,466.5l2.5,3 7-2-3-3zM1366,462.5l3,3 7.5-1.5-3-3.5zM1381,459.5l3,3.5 8-1-3-3.5zM1490,479.5l4.5,6.5 14.5,10-4.5-8zM1232.5,579.5l2,2 2.5-4.5-2-2zM1299,499.5l3,2.5 4.5-3.5-2.5-2.5zM1309,492.5l2.5,2.5 5-3-2.5-3zM1400,461.5l3,4 8.5,0-3-4zM1417.5,461.5l3,4.5 9.5,1-3-4.5zM1232,586l2,1.5 2.5-4.5-2-1.5zM1234.5,581.5l2,1.5 3-4.5-2.5-1.5zM1403,465.5l3,4 9,0-3.5-4zM1226.5,601.5l2.5,1.5 2.5-4.5-2.5-2zM1242,574l2.5,2 3-4.5-2.5-2zM1299.5,508l3,2.5 4.5-3.5-2.5-2.5zM1314,497.5l3,3 5-3.5-2.5-2.5zM1319.5,494.5l2.5,2.5 5.5-3-3-2.5zM1368,474l2.5,3.5 7.5-1.5-3-3.5zM1406,469.5l3.5,4 8.5,0-3-4zM1231.5,598.5l2,1.5 2.5-4.5-2-1.5zM1281,529.5l2.5,2 4-3.5-2.5-2.5zM1468.5,485.5l4,6 12,6-4-6.5zM1309.5,509.5l3,2.5 4.5-3-2.5-3zM1388,478.5l3.5,3.5 7.5-.5-3-4zM1404,477.5l3,4 8.5,0-3-4zM1235.5,601.5l2.5,2 2.5-4.5-2.5-2zM1298.5,522.5l2.5,2.5 4.5-3.5-2.5-2.5zM1307.5,515.5l2.5,2.5 5-3.5-2.5-2.5zM1363,487.5l3,3.5 6.5-2-3-3.5zM1270,556l2.5,2 3.5-4-2.5-2zM1341,500l3,2.5 6-2-3-3.5zM1527.5,538.5l4,7 1,1.5 0,.5-.5,1 1.5-3.5-.5-.5zM1248,592l2,1.5 3-4-2.5-2zM1287,542l2.5,2.5 4-4-2.5-2zM1368.5,494l3,3.5 7-1.5-3-3.5zM1375.5,492.5l3,3.5 7-1-3-3.5zM1431,491.5l3.5,4.5 9.5,2-3.5-5zM1347,505.5l2.5,3.5 6-2.5-3-3zM1454.5,501l3.5,5.5 11,4.5-4-6zM1252.5,595.5l2,2 3-4.5-2.5-1.5zM1296,543l2.5,2.5 4-3.5-2.5-2.5zM1333,516.5l2.5,3 5.5-3-2.5-2.5zM1411.5,497.5l3.5,4 8.5,1-3.5-4.5zM1429,499l3.5,5 9,1.5-3.5-4.5zM1260.5,589l2,2 3-4.5-2-1.5zM1290.5,553l2.5,2 4-3.5-2.5-2.5zM1325.5,525.5l2.5,2.5 5-3-2.5-2.5zM1486,524l4.5,7.5 15,11-5.5-9zM1262.5,591l2.5,2 3-4-2.5-2.5zM1293,555l2.5,2.5 4-3.5-2.5-2.5zM1309.5,541l2.5,2.5 4.5-3.5-2.5-2.5zM1314,537.5l2.5,2.5 4.5-3-2.5-3zM1338.5,522.5l2.5,3 5.5-3-2.5-3zM1344,519.5l2.5,3 5.5-2-2.5-3.5zM1418,506l3.5,4.5 8.5,1-3-4.5zM1466,518l4.5,6.5 12,6.5-4.5-7zM1490.5,531.5l5.5,8 7.5,6 8.5,7-6.5-10zM1281,572.5l2.5,2.5 3.5-4-2.5-2zM1321,537l3,2.5 4.5-3-2.5-2.5zM1364,516l3,3.5 6.5-1.5-3-3.5zM1449,516l4,5.5 10.5,4-4-6zM1482.5,531l5,7 14.5,10.5-6-9zM1496,539.5l6,9 8,7 10,9-8-12-8.5-7zM1264.5,599l2,2 3-4-2.5-2zM1338.5,531l3,3 5-3-2.5-3zM1487.5,538l5,8 7.5,5.5 8.5,7-6.5-10zM1346.5,531l3,3.5 5.5-2.5-3-3zM1412,518l3,4.5 8.5,.5-3.5-4.5zM1508.5,558.5l7.5,11.5 5.5,5.5 6.5,7 1,1 1.5-3.5-7-7-5.5-6zM1278,591l2.5,2 3.5-4-2.5-2zM1450.5,529l4,6 10.5,4-4-6zM1484.5,545l5,8 7.5,5 8,6.5-6.5-9.5zM1274,601l2.5,2 3-4-2-2zM1287,585.5l2.5,2 3.5-3.5-2.5-2.5zM1336.5,545l3,3 5-2.5-3-3zM1505,564.5l7.5,11.5 5.5,5.5 1,1 1-3.5-.5-.5-5.5-5.5zM1458.5,541l4.5,6 11.5,5.5-5-7zM1282,601.5l2.5,2 3-4-2.5-2zM1332.5,556.5l2.5,2.5 5-2.5-3-3zM1317.5,571.5l2.5,2.5 4-3-2.5-3zM1355.5,549l2.5,3.5 5.5-2-2.5-3.5zM1432.5,545.5l4,5.5 9,2.5-4-5.5zM1327,573.5l2.5,3 4.5-3-3-3zM1301.5,599l2.5,2.5 4-3.5-2.5-2.5zM1388,553l3,4 6.5-1-3-4zM1356,566.5l3,3 5.5-2-3-3.5zM1372.5,560.5l3,3.5 6-1.5-3-3.5zM1391,557l3,4 7-.5-3.5-4.5zM1404.5,556l3,4 7.5,.5-3.5-4.5zM1306.5,604l2.5,.5 4-1.5-2.5-2.5zM1407.5,560l3.5,4.5 7.5,.5-3.5-4.5zM1415,560.5l3.5,4.5 8,1-4-5zM1439.5,564.5l4,5.5 9.5,3.5-4.5-6zM1328.5,590.5l3,3 4-3-2.5-3zM1333,587.5l2.5,3 4.5-2.5-2.5-3zM1327,596.5l3,2.5 4-3-2.5-2.5zM1364.5,576l3,3.5 5.5-1.5-3-3.5zM1325.5,602l3,2.5 4-2.5-2.5-3zM1332.5,602l2.5,2.5 4.5-2.5-3-3zM1345.5,594l3,3 4.5-2.5-2.5-3zM1382,580l3,4 6-1-3-4zM1407.5,577.5l3.5,4.5 7,.5-3.5-4.5zM1451.5,590.5l4.5,6.5 10.5,5.5-5-7.5zM1414.5,586.5l3.5,5 7.5,1-4-5zM1421.5,587.5l4,5 8,1.5-4-5.5zM1433.5,594l4,5.5 9,3-4.5-6zM1394.5,596l3.5,4 6.5-.5-3.5-4z"/>
<path fill="#0089fd" d="M614.5,604.5l3-3-5-2-3,3.5zM520,604.5l5-4-10,4-5.5,0zM515,604.5l5-6.5-10.5,5-6,1.5zM648,604.5l2.5-2-4-3-3,3zM600,582l3-3.5-5.5-1.5-3.5,3.5zM588,579.5l3.5-4-6-1-3.5,4zM509,594.5l5-7.5-11.5,6.5-6,8zM642,596.5l3-3-4.5-2.5-2.5,3zM597.5,577l3-4-6-1-3,3.5zM591.5,575.5l3-3.5-6-1.5-3,4zM657,603l2.5-3-4-3-2.5,2.5zM649,596.5l2.5-2.5-4-3-2.5,2.5zM659.5,600l2.5-2.5-4-3-2.5,2.5zM472,604.5l8-9-17,9 1,0 2.5,0zM658,594.5l3-2.5-4-3.5-3,2.5zM625,569l3-3-5-2.5-3,3zM609.5,562.5l2.5-3.5-5.5-1.5-3,3.5zM564.5,556.5l3.5-4.5-7.5,.5-3.5,4.5zM549,558l3.5-5-8,1.5-4,5.5zM612,559l3-3-5.5-2-3,3.5zM600.5,556l3-3.5-6-1.5-3,3.5zM568,552l3-4-7,0-3.5,4.5zM552.5,553l3.5-4.5-8,1-3.5,5zM535.5,556.5l4-5-9,2.5-4,5.5zM458.5,604.5l5.5-6 4.5-7-5.5,5-6,6.5zM585,548.5l3-3.5-6.5-1-3,4zM521,557.5l4-6-10,4-5,6.5zM574.5,543.5l3.5-4-7.5,0-3,4zM483,570l6-9-7.5,5.5-7.5,6-8,12 9-8.5zM606.5,540.5l3-3.5-6-2-3,3.5zM621,541l3-3.5-5.5-2-3,3.5zM685.5,582l2.5-2.5-3.5-3.5-2.5,2zM629,540l3-3-5.5-2.5-2.5,3zM565.5,527l3-4.5-7.5,.5-3.5,4.5zM549.5,528.5l3-5-8.5,1.5-3.5,5zM535,527l4-5-9.5,2.5-4,5.5zM572,518.5l3-4-7.5,0-3.5,4zM564,518.5l3.5-4-8,0-3.5,4.5zM556,519l3.5-4.5-8.5,1-3.5,4.5zM670,553l2.5-2.5-4-3.5-2.5,2.5zM647.5,537l2.5-3-4.5-3-3,3zM642.5,534l3-3-5.5-2.5-2.5,2.5zM596.5,517l3-4-7-1-3,3.5zM533,519l3.5-5-9.5,2.5-4,5.5zM714.5,597.5l2-2-3-4.5-2,2zM612,516.5l3-3.5-6.5-1.5-2.5,3.5zM517,520.5l3.5-6-10.5,4.5-4.5,6zM493.5,531.5l4.5-7-13,8-5,8zM704.5,579l2-2.5-3-4-2.5,2zM671,544.5l2.5-2.5-4.5-3.5-2.5,2.5zM602.5,509.5l3-3-7-1.5-3,3.5zM618,510l2.5-3-6-2-3,3zM476,534.5l5.5-8.5-15.5,12-7,10.5 9-8zM718,587l2.5-1.5-3-4.5-2.5,2zM699,562.5l2.5-2-3.5-4-2.5,2zM676,539.5l2.5-2-4-4-2.5,2.5zM658,526l3-2.5-5-3.5-2.5,3zM594.5,500l3-3.5-7-1-3,3.5zM507,512l4-6-12,5-4,7zM726,594l2.5-2-3-4-2,1.5zM714.5,577l2.5-2-3.5-4.5-2,2zM730.5,590.5l2.5-2-3-4.5-2,2zM666,518.5l2.5-2.5-4.5-3.5-2.5,2.5zM617,493l2.5-3-6.5-2-2.5,3zM557.5,486l3-4-9,1-3,4.5zM733,588.5l2-1.5-2.5-4.5-2.5,1.5zM499.5,498.5l4-6.5-12,6.5-4.5,6.5zM487,505l4.5-6.5-14,8-5,8zM717.5,560.5l2.5-2-3.5-4-2,2zM714.5,556.5l2-2-3-4.5-2.5,2zM646,497l3-2.5-6-3-2.5,3zM609.5,483l3-3.5-7-1.5-3,3zM595.5,480l3-3.5-7.5-1.5-3,3.5zM491.5,498.5l4-6.5-13,7.5-5,7zM477.5,506.5l5-7-15,10-5.5,9zM716.5,554.5l2.5-2-3.5-4.5-2,2zM605.5,478l3-3.5-7-1.5-3,3.5zM507.5,486.5l4-6-12,5-4,6.5zM747,597l2.5-1.5-2.5-5-2.5,2zM719,552.5l2.5-2-3.5-4.5-2.5,2zM561.5,470l3-4-9,.5-3,4zM499.5,485.5l4-5.5-12.5,6-4.5,6.5zM486.5,492.5l4.5-6.5-14,8-4.5,7.5zM744.5,586l2-1.5-2.5-4.5-2.5,1.5zM461.5,505l5.5-8-8.5,6-9,8-7,11.5 10.5-10zM754,598.5l2-2-2.5-4.5-2,1.5zM751.5,593.5l2-1.5-2.5-4.5-2,1.5zM690.5,511.5l2.5-2.5-4.5-4-2.5,2.5zM657,486l2.5-2.5-5.5-3-2.5,2.5zM607,466l3-3-7-2-3,3.5zM584.5,462.5l3-4-8.5-.5-3,4zM518.5,470l3.5-5-11,3.5-4,5.5zM481.5,487l4.5-7-14.5,9-4.5,8zM449.5,511l6-9.5-9.5,8.5-11.5,11-4.5,7.5-1.5,3 .5,1zM552.5,458.5l3-4-9.5,1-3,4.5zM703.5,515l2.5-2-4-4.5-2.5,2.5zM613,459.5l3-3-7.5-2-3,3zM565,454l3-4-9,.5-3.5,4zM555.5,454.5l3.5-4-9.5,.5-3.5,4.5zM490,474l4-6.5-13.5,7.5-4.5,6.5zM670,482l3-2.5-5.5-3.5-2.5,2.5zM654,472l3-3-6-3-3,3zM585,450.5l3-3.5-8-.5-3,3.5zM559,450.5l3-4.5-9.5,1-3,4zM529,455l3-5-10.5,3-3.5,5zM704.5,506.5l2.5-2-4-4-2.5,2zM662.5,472.5l2.5-2.5-5.5-3.5-2.5,2.5zM510,457l3.5-5.5-12,4.5-4,6zM614.5,448l3-3.5-7.5-1.5-3,3zM535.5,445.5l3-4.5-10.5,2.5-3.5,4.5zM771,598.5l2-1-2-5-2,1.5zM762,573.5l2-1.5-2.5-5-2,1.5zM764,572l2-1.5-2-5-2.5,1.5zM754,553l2-1.5-2.5-5-2.5,1.5zM742.5,534l2-1.5-3-4.5-2,1.5zM718.5,502.5l2.5-2-4-4-2.5,2zM615.5,436.5l3-3.5-7.5-1.5-3,3zM545,432l3-4-10.5,1.5-3,4.5zM764,565.5l2-1.5-2.5-4.5-2,1.5zM700.5,479.5l2.5-2.5-4.5-4-2.5,2.5zM686,467.5l3-2.5-5-4-3,2.5zM526.5,432l3.5-5-11.5,3-3.5,5zM490,445l3.5-6-13.5,7-4,6zM741,521.5l2-1.5-3-5-2.5,2zM727,503.5l2.5-2-3.5-4.5-2.5,2zM703,477l2.5-2-4.5-4-2.5,2zM649.5,440.5l2.5-2.5-6.5-3-3,2.5zM606,426.5l3-3.5-8.5-1.5-3,3.5zM518.5,430l3-5-12,4-3.5,5zM765.5,558l2.5-1.5-2.5-5-2.5,1.5zM752.5,534l2-1.5-3-5-2,1.5zM718.5,488l2.5-2-4-4.5-3,2zM652,438l3-3-6.5-3-3,3zM497,433.5l3.5-5.5-13.5,6-3.5,6zM453,459l4.5-7.5-8.5,6.5-9,7.5-5.5,9 10-8.5zM745.5,518l2.5-1.5-3-5-2.5,2zM724.5,490.5l2.5-2-3.5-4.5-2.5,2zM667,441.5l3-2.5-6-3.5-3,3zM487,434l3.5-5.5-14,7-3.5,6zM457.5,451.5l4-7-17,12.5-4.5,8.5 9-7.5zM440,465.5l4.5-8.5-9.5,8-10.5,10-6.5,12 12-12.5zM779.5,574.5l2-1.5-2-5-2.5,1.5zM748,516.5l2.5-2-3.5-4.5-2,1.5zM681.5,446.5l2.5-2.5-5.5-3.5-2.5,2.5zM539,413.5l3-4-11,2-3,4.5zM795.5,604.5l2,0-2-3-2,1zM542,409.5l3-4.5-11,2-3,4.5zM793.5,596.5l2-1.5-1.5-5-2,1.5zM792,591.5l2-1.5-2-5-2,1.5zM756,518l2-2-3-4.5-2.5,1.5zM746.5,503.5l2.5-1.5-3.5-5-2.5,2zM663.5,427l2.5-2.5-6.5-3.5-2.5,3zM612.5,408l3-3-8.5-1.5-3,3zM566.5,403.5l3-3.5-10.5,0-3,4zM749,502l2-2-3-4.5-2.5,1.5zM786,564l2-1.5-2-5-2.5,1.5zM766,524.5l2.5-1.5-3-5-2,1.5zM528.5,400.5l3-4.5-12.5,2.5-3,5zM516,403.5l3-5-12.5,4-3,4.5zM800,592.5l2-1-2-5-2,1zM700.5,439l2.5-2-5-4.5-3,2.5zM802,591.5l2-1-2-5-2,1zM703,437l3-2.5-5.5-4-2.5,2zM792.5,560l2-1-2-5.5-2.5,1.5zM650.5,401l3-3-7.5-3-3,3zM618.5,390.5l3-3-9-2-3,3zM512.5,392.5l3-4.5-13,4-3,5zM471,409.5l3-6-15,9-3.5,6zM438.5,431l3.5-7-9,7-9.5,8.5-5,9 10.5-9.5zM806,589l2-1-2-5-2,1zM790,548.5l2.5-1-2.5-5-2,1zM785.5,538.5l2-1-2-5.5-2.5,1.5zM783,533.5l2.5-1.5-2.5-5-2.5,1.5zM780.5,528.5l2.5-1.5-2.5-5-2.5,1.5zM754.5,484l2.5-2-3.5-5-2.5,2zM736,460l2.5-2-4-5-3,2zM488.5,397l3-5-14,6-3.5,5.5zM806,583l2.5-1-2-5.5-2,1.5zM775,512l2.5-1.5-3-5-2,1.5zM750,472.5l2.5-2-4-4.5-2.5,1.5zM802.5,566.5l2.5-1-2-5.5-2.5,1.5zM431.5,423.5l3.5-7.5-8.5,7-9.5,9-10.5,10.5-6,6.5-7,8-7,14.5 7.5-9.5 6.5-8.5 12-12.5 10-9.5zM796.5,545l2.5-1.5-2.5-5-2,1zM782.5,514l2-1-2.5-5.5-2.5,1.5zM711.5,422l3-2.5-5.5-4.5-2.5,2.5zM593,371l3-3.5-10.5-1-3,3.5zM511,377.5l3-4.5-13.5,4-3,5zM814,584.5l2-1-1.5-5-2,1zM787.5,518l2-1.5-2.5-5-2.5,1.5zM527,370l3-4-13,2.5-3,4.5zM486,382l3-5-14.5,6.5-3,5.5zM438.5,409l3.5-7-17,13.5-9.5,8.5-10.5,10.5-5,10.5 11-12 10-9.5zM818,588.5l2-1-2-5-2,1zM803,547.5l2.5-1-2.5-5.5-2,1.5zM801,542.5l2-1.5-2-5-2,1zM794.5,527l2-1.5-2-5-2.5,1zM745,446l2.5-2-4-4.5-3,1.5zM688.5,396l3-2-6.5-4-3,2zM816.5,577.5l2-1.5-1.5-5-2,1zM725,420l3-2-5-4.5-3,2zM477,378l3-5-15.5,7.5-3,5.5zM445,396l3.5-6.5-17,11.5-8.5,7-9.5,8.5-4,8.5 10-9 9-8zM818.5,576l2-1-1.5-5-2,1zM548,356l3-4-12.5,1.5-3,4zM811.5,549l2.5-1-2-5-2.5,1zM771,466l2.5-1.5-3.5-5-2.5,1.5zM662,370l3-2.5-8-3.5-3.5,2.5zM511.5,358.5l3-4.5-14.5,4-2.5,4.5zM810,537.5l2-1-2-5.5-2,1.5zM776.5,469.5l2.5-1.5-3-5-2.5,1.5zM733.5,414.5l3-2-5-5-3,2zM554,348l2.5-4-12.5,1-3,4zM785.5,478.5l2-1.5-2.5-5-2.5,1.5zM503,353l2.5-4.5-15,4.5-2.5,5zM822,556.5l2-1.5-2-5-2,1zM820,551l2-1-1.5-5.5-2.5,1.5zM712,387l3-2.5-6-4.5-3,2.5zM838,602.5l2-1-1.5-5.5-2,1zM829,571l2-1-1.5-5.5-2,1zM812.5,517l2-1-2-5.5-2,1.5zM805.5,501l2.5-1-2.5-5.5-2.5,1.5zM364.5,445l0-2 3.5-8-3.5,4.5-1.5,2.5-.5,.5zM840.5,595.5l2-1-1.5-5.5-2,1zM798,478.5l2.5-1.5-3-5-2.5,1zM786,457l3-1-3.5-5.5-2.5,1.5zM727,385.5l3-2-6-5-3,2zM680,354.5l3.5-2.5-8-4-3.5,2.5zM592.5,330l3-3.5-12-.5-3,3.5zM527.5,332.5l3-4-14.5,2.5-3,4.5zM467,351l2.5-5-15.5,7.5-16.5,9-2.5,6 16.5-10zM819,520l2.5-1-2-5.5-2.5,1.5zM583.5,326l3-3.5-12.5-.5-3,3.5zM571,325.5l3-3.5-13.5,0-2.5,3.5zM485.5,339.5l2.5-4.5-16,6-2.5,5zM778,433l2.5-1.5-3.5-5.5-2.5,1.5zM733,381.5l3-2-6-5-3,2zM642,332l3.5-3-10.5-3-3,3zM503.5,330.5l2.5-4.5-16,4.5-2,4.5zM849,603l2-.5-1.5-5.5-2,1zM842,576.5l2-.5-1-5.5-2.5,1zM802.5,469l2.5-1-2.5-5.5-2.5,1.5zM773,420.5l3-1.5-4-5-3,1.5zM673,339l3.5-2.5-9-3.5-3,2.5zM381.5,401.5l3.5-8.5-8,9.5-9.5,11.5-5,7-1.5,2 2.5,2 9.5-12.5zM845.5,581l2-.5-1.5-5.5-2,1zM799.5,457l2.5-1-3-5.5-2.5,1zM730.5,365.5l3-2-6.5-5-3,2zM852,590l2-1-1-5-2,.5zM842.5,552.5l2-1-1.5-5-2,1zM815,476.5l2.5-1-2.5-5.5-2.5,1zM419,353.5l2.5-6-14,10.5-14.5,12.5-2,7 14.5-13.5zM843,546.5l2-1-1.5-5.5-2,1zM838,530l2-1-1.5-5.5-2.5,1zM710,342l3-2-7.5-4.5-3,2zM668,321.5l3-3-9.5-3.5-3.5,3zM451,330.5l2-5-14.5,7.5-15,9-2,5.5 15-9.5zM855,583l2-1-1.5-5-2,.5zM851,567l2-1-1.5-5-2,.5zM843.5,540l2-1-1.5-5.5-2,1zM761.5,380.5l3-1.5-5-5.5-3,1.5zM364.5,397l3-9.5-8.5,11.5-5,7-1,1 2.5,2.5zM855.5,577l2-1-1-5.5-2,1zM842.5,528l2-.5-1.5-5.5-2.5,.5zM820,467.5l2.5-1-2.5-6-2.5,1.5zM812,450.5l2.5-1-2.5-5.5-2.5,1zM773.5,389.5l3-1.5-4.5-5.5-3,1.5zM607.5,299l3-3.5-13-1.5-3,3.5zM455,320.5l1.5-5-14.5,7-15,8.5-2,5.5 15-9zM827,477.5l2.5-1-2.5-5.5-2,1zM822.5,466.5l2.5-1.5-2.5-5.5-2.5,1zM803,427l2.5-1-3-6-3,1.5zM704.5,326l3-2-8-4.5-3.5,2zM538.5,294.5l2.5-4-16,2-2.5,4zM370.5,379l2.5-7.5-8,9-8.5,11-10,14.5-3,4-1,2 2.5,2 2.5-4 5.5-8 9-12.5zM841.5,510l2.5-1-2-5.5-2.5,1zM814.5,442.5l2.5-1-2.5-5.5-3,1zM508.5,295.5l2.5-4-17.5,3.5-2,4.5zM491.5,299.5l2-4.5-16.5,5-16.5,6-2,5 16.5-6.5zM827.5,464l2.5-1-2.5-5.5-2.5,1zM825,458.5l2.5-1-2.5-6-2.5,1.5zM790.5,396l3-1.5-4-5.5-3,1.5zM778,379.5l3-1.5-4.5-6-3,2zM527.5,288.5l2.5-4-17,2.5-2,4.5zM375,364l2-7-15.5,17-8.5,11-9.5,13.5-1,3 .5,.5 1.5,1 .5-1 5-7.5 9-12 8.5-10zM857,546.5l2.5-1-1.5-5.5-2.5,1zM838.5,485.5l2.5-1-2-5.5-2.5,1zM749.5,345l3.5-2-6.5-5.5-3,2zM714.5,319.5l3.5-2.5-8.5-4.5-3.5,2zM688,306l3.5-2.5-10-4.5-3.5,3zM856.5,534.5l2-.5-1.5-5.5-2,.5zM816.5,427.5l3-1-3-6-3,1.5zM753,343l3-2-6-5.5-3.5,2zM406.5,327.5l1-5.5-13.5,10-13.5,12-1.5,6.5 14-12.5zM857,528.5l2-1-1.5-5.5-2,1zM854,517.5l2-1-1.5-5.5-2,.5zM762,346.5l3.5-1.5-6-5.5-3.5,1.5zM721,315l3.5-2-8-5-3.5,2zM435,305.5l1.5-4.5-13.5,7-14,8.5-1.5,5.5 14-9zM698.5,298.5l3.5-2.5-10-4.5-3.5,2.5zM861.5,526.5l2-.5-1.5-5.5-2,.5zM750,326.5l3.5-2-7-5.5-3,2zM720,305.5l3.5-2-8.5-5-3.5,2.5zM860.5,514.5l2.5-.5-1.5-5.5-2.5,.5zM857.5,503.5l2-1-1.5-5.5-2,1zM824.5,417l3-1-3-6-3,1.5zM812,393.5l2.5-1-3.5-6-3,1.5zM662.5,277l3.5-2.5-12.5-3.5-3.5,2.5zM439,291.5l1.5-5-28,15-1,5zM883,604.5l1.5,0-.5-3.5-2,1zM871,547.5l2-1-1-5.5-2,1zM864.5,519.5l2-.5-1.5-6-2,1zM785.5,351.5l3.5-2-5-5.5-3.5,1.5zM780.5,345.5l3.5-1.5-5.5-6-3.5,1.5zM769.5,334l3.5-1.5-6-6-3.5,2zM763.5,328.5l3.5-2-6.5-5.5-3.5,1.5zM735.5,306.5l3.5-2-8-5.5-4,2.5zM727,301.5l4-2.5-9-5-3.5,2zM595.5,261.5l3-3-16.5-1-3,3.5zM562,261l2.5-4-17.5,1-2.5,3.5zM412.5,301.5l1-5-13.5,8.5-14,10-1,5.5 14-10.5zM385,320.5l1-5.5-13.5,12-14.5,14.5-1.5,6.5 15-15zM321,400l3.5-12.5-6,10-.5,1.5 2.5,2zM845,450l2.5-1-2-5.5-2.5,.5zM833,421l2.5-1.5-2.5-5.5-3,1zM830,415l3-1-3-6-3,1zM817.5,391l3-1-3.5-6-3,1zM793.5,355.5l3.5-1.5-5-6-3,1.5zM739,304.5l3.5-2-8-5.5-3.5,2zM358,341.5l1-6-15,17.5-8,10.5-9,13.5-2.5,10 9.5-15 8.5-12 8-10zM885,595l1.5-.5-.5-5.5-2,1zM883,584.5l2-1-1-5-2,.5zM882,579l2-.5-1-5.5-2,.5zM878.5,562.5l2.5-.5-1.5-5.5-2,.5zM820.5,390l3-1.5-3.5-6-3,1.5zM647,262l3.5-3-14.5-3-3.5,3zM549.5,254l2.5-3.5-19,1.5-2,3.5zM387,310l.5-5.5-13.5,11.5-14.5,13-.5,6.5 14-14zM883,573l2-1-1-5.5-2,1zM878.5,551l2-1-1-5.5-2,.5zM850,448l3-1-2.5-5.5-2.5,1zM816.5,376.5l3-1-3.5-6-3.5,1zM812.5,370.5l3.5-1-4-6-3.5,1zM785,335l3.5-1.5-5.5-6-3.5,1.5zM570,250l3-3.5-18.5,.5-2.5,3.5zM359.5,329l1-5.5-14.5,15.5-7.5,9.5-8.5,11.5-1.5,8 8.5-12 8-10zM328.5,368l1.5-8-8.5,13.5 2.5,2 0-.5zM890.5,604.5l2-.5-1-5-2,.5zM881.5,555.5l2.5-.5-1.5-5.5-2,.5zM771,315.5l3.5-1.5-6.5-6-3.5,2zM724,282.5l4-2.5-10-5-3.5,2.5zM668,259.5l3.5-2.5-13.5-4-4,3zM608,248.5l3-3.5-17-1.5-3,3.5zM388,299.5l.5-5-13.5,10.5-14,12.5-.5,6 14-13zM891.5,599l2-1-1-5-2,.5zM890.5,593.5l2-.5-1-5.5-2,.5zM851,434.5l2.5-1-2-6-3,1zM802,344l3.5-1.5-5-6-3.5,1zM792,331.5l3.5-1.5-5.5-6-3.5,1.5zM707.5,270l4-2.5-11-4.5-4,2.5zM361,317.5l.5-5.5-14.5,15-14.5,18-1,7 7.5-10 7.5-9zM892.5,593l2-1-1-5-2,.5zM886,554.5l2-1-1-5.5-2.5,1zM872,492l2-.5-1.5-6-2,1zM790,324l3.5-1.5-5.5-6-3.5,1.5zM778.5,312l3.5-1.5-6.5-6-3.5,1.5zM614.5,242l3.5-3.5-18-1.5-3,3.5zM332.5,345l.5-6.5-8,10.5-8,13-4.5,7.5-5,9-5.5,11 2.5,1.5 0-.5 6-11 5-9 9-14zM877,503l2.5-1-1.5-5.5-2.5,.5zM804,335l3.5-1.5-5-6.5-3.5,1.5zM333,338.5l.5-6.5-7.5,10-8,12-9,14.5-5,9.5-1,2.5 2.5,1.5 .5-1 1.5-2.5 5-9 4.5-7.5 8-13zM897,597l2-.5-.5-5.5-2,.5zM895.5,586l2-.5-1-5.5-2,.5zM888,542l2-.5-1-6-2.5,1zM885.5,530.5l2-.5-1-5.5-2,.5zM797,321l3.5-1.5-5.5-6-3.5,1.5zM772.5,297l3.5-2-7-6-4,2zM669.5,245l3.5-3-15-3.5-3.5,2.5zM603.5,233.5l3-3-19-1.5-3,3.5zM887.5,530l2.5-.5-1-5.5-2.5,.5zM884,513l2.5-.5-1.5-6-2,1zM769,289l4-2-8-6-4,2zM723.5,260.5l4.5-2-11.5-5-4,2zM658,238.5l4-3-16-3.5-4,3zM901,596l2-.5-1-5.5-2,.5zM899.5,585l2-.5-1-5.5-2,.5zM897.5,574l2-.5-.5-5.5-2,.5zM897,568.5l2-.5-1-5.5-2,.5zM878.5,477.5l2-.5-1.5-6-2.5,.5zM868,442l2.5-1-1.5-6-3,1zM847,387l3-1-2.5-6-3,1zM834.5,362l3-1-3.5-6.5-3,1.5zM773,287l4-1.5-8-6-4,1.5zM570.5,225.5l2.5-3.5-21.5,0-2.5,4zM869,435l2.5-.5-2-6-2.5,.5zM841,367.5l3-1.5-3-6-3.5,1zM837.5,361l3.5-1-3.5-6.5-3.5,1zM695.5,241l4-2.5-14-4.5-4,2.5zM450,239l.5-4-32,12 0,4zM897,545l2.5-.5-1-5.5-2.5,.5zM837.5,353.5l3-1-3.5-6.5-3.5,1zM833.5,347l3.5-1-4-6.5-3,1.5zM773,277.5l4.5-1.5-8.5-6.5-4,2zM725,248.5l4.5-2-12.5-5.5-4,2.5zM636,223l3.5-3-19-2.5-3.5,3zM488,226l1-4-38,9-.5,4zM901,556l2-.5-.5-6-2.5,.5zM887,481.5l2-1-1-5.5-2.5,.5zM833,339.5l3.5-1-4-6.5-3.5,1zM657.5,223.5l4-3-18-3.5-4,3zM360.5,277.5l-1-4.5-13.5,12-14,14 .5,5 14-14.5zM909.5,599.5l2-.5-1-5.5-2,.5zM859,383l3-1-2.5-6-3,1zM721.5,238.5l4.5-2-13-5.5-4.5,2.5zM678.5,224.5l4.5-3-17-4-4.5,3zM624,214.5l4-3.5-21-2-3.5,3.5zM332,299l-.5-5-14,16.5-6.5,9.5-7.5,10.5 .5,6.5 7.5-11.5 7-10zM905,555l2-.5-.5-6-2,.5zM896.5,503.5l2-.5-1-6-2.5,.5zM785.5,272.5l4.5-2-8-6.5-4.5,2zM749.5,247.5l4.5-2-11-5.5-5,2zM607,209l3.5-3-22.5-1.5-3.5,3.5zM331.5,294l-1-5-13.5,16-14,20 .5,5.5 7.5-10.5 6.5-9.5zM908,560l2-.5-.5-5.5-2.5,.5zM895,485.5l2.5-.5-1.5-6-2,.5zM892.5,473.5l2.5-.5-1.5-6-2.5,.5zM887,449.5l2.5-.5-1.5-6-2.5,.5zM905,525.5l2-.5-1-6-2,.5zM888,443l2.5-1-1.5-6-3,.5zM879,412l3-1-2-6-3,.5zM786.5,262.5l4-1.5-8.5-6.5-4,1.5zM747.5,237.5l4.5-2-12-6-4.5,2.5zM302.5,319l-1-5.5-7,11-7,13-8,16-4.5,10.5-2.5,6-.5,1.5 2.5,1.5 5-11 4-9.5 4.5-8 7.5-14zM915.5,586.5l2,0-.5-5.5-2,0zM910.5,547.5l2-.5-.5-5.5-2.5,.5zM878,398.5l2.5-.5-2-6.5-3,1zM838.5,314l3.5-1-4.5-7-3.5,1.5zM798.5,267.5l4-1.5-7.5-7-4.5,2zM328,280l-1-4.5-13.5,15-13,18 1,5 13.5-18zM917.5,586.5l2-.5-.5-5.5-2,.5zM911,536l2-.5-1-6-2,.5zM910,530l2-.5-.5-5.5-2.5,.5zM905.5,501.5l2-1-1-5.5-2,.5zM902,483.5l2.5-.5-1-6-2.5,.5zM893,441.5l2.5-.5-1.5-6.5-2.5,1zM886.5,417l2.5-1-1.5-6-3,.5zM768,239.5l4.5-1.5-11-6.5-4.5,2zM300.5,308.5l-1.5-5-6.5,10.5-6.5,11.5-7.5,14-4,8-4,10 0,9 4.5-11 4-9 7.5-15 7-12.5zM920,591.5l2-.5-.5-5.5-2,.5zM919.5,586l2-.5-.5-5.5-2,.5zM917.5,569l2,0-.5-6-2,.5zM913,535.5l2-.5-.5-6-2.5,.5zM898.5,453l2.5-.5-1.5-6-2.5,.5zM891,422.5l2.5-1-1.5-6-3,.5zM869.5,358.5l3.5-1-3-6.5-3,1zM864,345l3-1-3-6.5-3.5,1zM860.5,338.5l3.5-1-3-6.5-3.5,1zM807,264l4.5-1.5-7.5-6.5-4.5,1.5zM575,190.5l3-3.5-27.5,0-2.5,3.5zM415,215l-1-4-33,14 1.5,4zM299,303.5l-1.5-4.5-6,9.5-7,11.5-6.5,13-8,16.5 .5,8 4-10 4-8 7.5-14 6.5-11.5zM922,591l2-.5-.5-5.5-2,.5zM918,557.5l2-.5-.5-5.5-2,.5zM913.5,523.5l2-.5-.5-6-2.5,.5zM911,506l2-.5-1-6-2,.5zM908,488.5l2-.5-1-6-2,.5zM907,482.5l2-.5-1-6-2.5,.5zM875.5,364l3-1-2.5-6.5-3,1zM741.5,217l5.5-2-14.5-6-5.5,2.5zM550.5,187l2-3.5-27.5,1.5-27.5,3-.5,3.5 26.5-3zM297.5,299l-1.5-5-6,10-6.5,11-7,12.5-7,15 .5,7 8-16.5 6.5-13 7-11.5zM920,557l2,0-.5-6-2,.5zM889.5,395.5l2.5-.5-1.5-6.5-3,1zM876,356.5l3-.5-2.5-7-3,1zM873.5,350l3-1-2.5-6.5-3.5,1zM857,316.5l4-1-4-7-3.5,1zM732.5,209l5-2-16-6-5.5,2.5zM581,183.5l3-3.5-29,0-2.5,3.5zM413,207l-1.5-3.5-34,14 2,4zM321.5,263l-2-4-12.5,14.5-12.5,16.5 1.5,4 13-16.5zM927,601l2,0-.5-5.5-2,.5zM920,540l2-.5-.5-6-2,.5zM916,511l2.5-.5-1-6-2,.5zM498.5,184l.5-3.5-49,8 .5,4zM294.5,290l-2-4.5-12.5,19.5-6,11.5-6.5,14 1,5.5 7-14 6.5-12zM926,573l2,0-.5-5.5-2,0zM920,522l2-.5-.5-5.5-2.5,.5zM916.5,499l2.5-.5-1-6-2.5,.5zM915,487l2-.5-1-6-2,.5zM904.5,432.5l2.5-1-1-6-3,.5zM898.5,407l3-.5-2-6.5-2.5,.5zM889.5,375l3-1-2-6.5-3.5,1zM874.5,335l3.5-1-3-7-3.5,1zM727,198.5l5.5-2-18-6-5.5,3zM267.5,330.5l-1.5-5.5-7,16-7,19 3,1.5 1-3 4-11zM918,492.5l2.5-.5-1-6-2.5,.5zM915,474.5l2.5-.5-1-6-2.5,.5zM830,257l4.5-1.5-7-7-4.5,1.5zM290.5,281.5l-2.5-4-12,18.5-5.5,11-6.5,12.5 2,5.5 6-13 6.5-11.5zM932.5,600l2,0-.5-5.5-2,0zM925,527l2-.5-.5-5.5-2,.5zM919.5,486l2-.5-.5-6-2.5,.5zM915.5,462l2.5-.5-1-6-2.5,.5zM913.5,450l2.5-.5-1.5-6.5-2.5,.5zM886.5,347l3.5-1-2.5-7-3.5,1zM264,319.5l-1.5-4.5-6.5,14-3,8.5-.5,.5 3.5,1 1.5-4zM928.5,538l2,0-.5-6-2,.5zM925,509l2,0-.5-6-2.5,.5zM918,461.5l2.5-.5-1-6-2.5,.5zM911,424.5l3-.5-1.5-6.5-2.5,.5zM887.5,339l3.5-.5-2.5-7-3.5,1zM868.5,297.5l4-1-3.5-7-4.5,1zM845,261.5l5-1-6-7.5-5,1.5zM725.5,186l6-2.5-20.5-6-6,3zM934.5,577.5l2-.5-.5-5.5-2,.5zM933.5,566l2,0-.5-5.5-2,0zM928.5,520.5l2-.5-.5-5.5-2,0zM893.5,345.5l3-1-2-7-3.5,1zM850,260.5l4.5-1.5-6-7-4.5,1zM766,196l6-2-16-6.5-6,2zM567,162.5l3-3.5-34.5,1-34,2-.5,4 33-2.5zM294.5,254.5l-2.5-3.5-12,15.5-11,17.5 2.5,4 11.5-18zM899,351.5l3-1-2-6.5-3.5,.5zM894.5,337.5l3.5-.5-2.5-7-3.5,1zM848.5,252l5-1.5-6-7-5,1zM798.5,208l5.5-2-12-7-6,2zM570,159l2.5-3.5-35.5,.5-35.5,2.5 0,3.5 34-2zM400,181.5l-3-3.5-19.5,7 3,3.5zM258,306l-2.5-4-5.5,12.5-5.5,15.5-3.5,9.5-3.5,11-2,6.5 0,1 3,1 .5-1.5 4-12 3-10 6.5-16.5zM939.5,588l1.5-.5 0-5.5-2,.5zM923.5,448l2.5-.5-1-6-2.5,0zM919,423l3-.5-1.5-6.5-2.5,.5zM898,337l3-.5-2-7-3.5,.5zM893,323l3.5-.5-2.5-7-4,.5zM864,265.5l5-1-5-7.5-5,1zM859,258l5-1-5.5-7.5-5,1zM672.5,162.5l6-3-31-3.5-5.5,3zM642,159l5.5-3-34.5-3-4.5,3.5zM343,201.5l-3.5-3-15.5,9.5-14,11 4,3zM277.5,263l-3.5-3.5-10.5,17.5 3,3.5zM927,453.5l2.5-.5-1-6-2.5,.5zM914,383.5l3-.5-1.5-6.5-3,.5zM912.5,377l3-.5-1.5-6.5-3,.5zM798,197l6.5-1.5-13.5-7.5-6.5,2zM678.5,159.5l6-2.5-32-4-5,3zM394,174.5l-3-3-20.5,7-18,8 3.5,3 18.5-8zM253,298l-2.5-4-5.5,12.5-5,14-3,8.5-1,3.5 3.5,1 2.5-8.5 6-14.5zM942,570.5l2,0-.5-6-2,.5zM933.5,483.5l2,0-.5-6-2.5,0zM915.5,376.5l3-.5-1.5-6.5-3,.5zM881.5,278.5l4.5-1-4-7.5-4.5,1zM877.5,271l4.5-1-4-7.5-4.5,1zM851,233.5l5.5-1.5-7-7.5-5.5,1zM826.5,210.5l6-1.5-10-7.5-6,1.5zM684.5,157l6.5-3-32.5-4.5-6,3.5zM652.5,153l6-3.5-37-3-4.5,3.5zM260.5,273.5l-3-3-10,20-5,12-5,14 2.5,4 5-14 5.5-12.5zM945,587l2,0-.5-5.5-2,0zM944.5,581.5l2,0-.5-6-2,.5zM936.5,489.5l2-.5-.5-6-2.5,.5zM928,428l3-.5-1-6.5-3,.5zM896,299.5l4-.5-3-7.5-4,.5zM873.5,255l4.5-1-4.5-7.5-5,1zM862.5,240l5.5-1.5-6-7.5-5.5,1zM466.5,151.5l-1.5-3.5-31.5,4.5 3,3.5zM387.5,168l-4-3.5-21,7.5 4.5,3zM257.5,270.5l-3.5-3-9.5,20 3,3zM944,547.5l2-.5-.5-5.5-2,0zM936.5,471l2.5-.5-.5-6-2.5,.5zM928,408.5l2.5-.5-1-6.5-3,.5zM949,586.5l2,0-.5-5.5-2,0zM941,488.5l2,0-.5-6-2,0zM891,268.5l5-1-4-7.5-4.5,1zM835.5,198.5l6.5-1.5-11-8-6.5,1.5zM734,154.5l8-2.5-14-3.5-15.5-2.5-7.5,2.5 15,3zM671,143.5l6.5-2.5-19.5-2.5-20.5-1.5-5.5,3 20,2zM322.5,186l-5-3-15,10.5-13.5,11 5,2.5 13.5-11zM947.5,541l2.5,0-.5-6-2,.5zM947.5,535.5l2-.5-.5-5.5-2,0zM947,529.5l2,0-.5-6-2,.5zM946.5,524l2-.5-.5-6-2,.5zM883.5,244.5l5-1-5-8-5,1zM427,146l-4-3.5-29,6 4.5,3zM289,204.5l-5-3-11.5,12.5 4.5,2.5zM952.5,580.5l2,0-.5-5.5-2,0zM951.5,569.5l2-.5 0-5.5-2,0zM942.5,457.5l2.5,0-.5-6.5-2.5,.5zM937,413.5l3,0-1-6.5-3,0zM920.5,326l3.5-.5-2-7.5-3.5,.5zM914.5,304l3.5-.5-2-7.5-4,1zM906.5,282l4.5-.5-3-8-4.5,1zM955,591.5l2,0-.5-5.5-2,0zM953,558l2-.5-.5-5.5-2,0zM949.5,505.5l2,0-.5-6-2,.5zM948,488l2-.5-.5-6-2,.5zM940,413.5l2.5-.5-1-6.5-2.5,.5zM937,393.5l3,0-1-7-3,.5zM833.5,178l8-1.5-13.5-8-8,1.5zM600,128.5l4.5-3.5-55-.5-1.5,3.5zM248,239.5l-4.5-2-8.5,16.5 4,2.5zM957,597l2-.5-.5-5.5-1.5,.5zM956,580l2,0 0-5.5-2,0zM956,574.5l2,0-.5-5.5-2,0zM945.5,438.5l2.5-.5-.5-6-2.5,0zM852.5,185l7.5-1.5-11-8.5-7.5,1.5zM841.5,176.5l7.5-1.5-13-8-8,1.5zM604.5,125l5-3.5-58.5-.5-1.5,3.5zM211.5,327l-3-3.5-2,10-2.5,12.5-.5,3.5 0,.5 3,.5 3-13zM956.5,546l2,0-.5-6-2,.5zM950.5,463l2.5,0-.5-6.5-2.5,.5zM934,338.5l3.5-.5-1-7-4,.5zM919.5,280l4.5-.5-2.5-7.5-4.5,.5zM820.5,158.5l9-1.5-18.5-8.5-10,2zM801,150.5l10-2-11-4-12.5-4-10,2.5 12.5,3.5zM239,235l-5-2-7.5,16.5 4.5,2zM231,251.5l-4.5-2-7,19 4,2zM955,493l2.5,0-.5-6-2.5,0zM916,256.5l5-.5-3-8-5,.5zM787.5,140.5l10.5-2-14-4-15.5-3.5-11,2.5 16,3.5zM251.5,204.5l-5.5-2-9,13.5 5.5,2zM234,233l-5-2-7,16.5 4.5,2zM959,516.5l2,0-.5-6-2,0zM940,330.5l3.5,0-1.5-7.5-3.5,.5zM914.5,240l5.5-1-3.5-8-5.5,.5zM897,207l6.5-1-6-8.5-7,1zM394.5,126.5l-8-3-18,3.5-15.5,3.5 8.5,3 15.5-4zM295.5,158l-8-2-15,10 7.5,2zM246,202.5l-6-1.5-8.5,13.5 5.5,1.5zM237,216l-5.5-1.5-7.5,14.5 5,2zM215.5,266.5l-4.5-2-6,22 4,2zM209,288.5l-4-2-3,13-3,15.5 3.5,2.5 3-15.5zM202.5,317.5l-3.5-2.5-3,17 3.5,.5 0-.5 1-5zM964,579.5l2,0-.5-5.5-2,0zM952.5,399l2.5-.5-.5-6.5-3,0zM951,385.5l3,0-1-7-3,.5zM938,301l4,0-1.5-7.5-4,0zM920,239l5.5-.5-3.5-8-5.5,.5zM555.5,110.5l1.5-3.5-37.5,1-36.5,1.5 4,3.5zM386.5,123.5l-9.5-3-17.5,3.5-16.5,4 10,2.5 15.5-3.5zM231.5,214.5l-5.5-2-7,15 5,1.5zM224,229l-5-1.5-6.5,16.5 5,1.5zM966.5,601.5l2,0 0-5.5-2,0zM966.5,590.5l1.5,0 0-5.5-2,0zM966,579.5l2,0-.5-6-2,.5zM965,551l2,0-.5-6-2,.5zM959,443.5l2.5,0-.5-6.5-2.5,0zM955.5,405l3,0-.5-6.5-3,0zM949,344l3.5,0-1-7-3.5,0zM914.5,213.5l6-.5-4-8.5-6.5,.5zM702,112.5l12.5-2.5-16.5-1.5-17-1.5-38-2-8.5,3.5 35.5,1.5zM557,107l1.5-3-41,.5-39.5,1.5 5,3.5 36.5-1.5zM212.5,244l-5-1.5-5,18.5 4,1.5zM967.5,573.5l2,0 0-5.5-2,0zM965.5,516l2,0 0-6-2.5,.5zM964,492.5l2.5-.5-.5-6-2,.5zM962.5,462l2.5,0-.5-6.5-2.5,.5zM959,411.5l3-.5-.5-6.5-3,.5zM956,378.5l3-.5-.5-6.5-3,0zM952.5,344l3-.5-.5-7-3.5,.5zM944.5,293l4-.5-1-7.5-4.5,.5zM891,169.5l8.5-1-9-9.5-9.5,1.5zM643,105l9.5-3-44.5-1.5-48,0-1.5,3.5 43.5,0zM286.5,142.5l-10-2-15.5,9.5 9,2zM220,211l-6-1.5-6,15 5.5,1.5zM213.5,226l-5.5-1.5-5.5,16.5 5,1.5zM207.5,242.5l-5-1.5-4.5,18.5 4.5,1.5zM970.5,596l1.5,0 0-6-2,.5zM965.5,468l2,0 0-6.5-2.5,.5zM913.5,186.5l7.5-1-5.5-9-8.5,1zM214,209.5l-6-1-5.5,14.5 5.5,1.5zM208,224.5l-5.5-1.5-5,16.5 5,1.5zM972.5,601.5l1.5-.5 0-5.5-2,.5zM966,436.5l2.5,0 0-6.5-2.5,.5zM966,430.5l2.5-.5-.5-6-2.5,0zM963,391.5l3-.5-.5-6.5-2.5,0zM962,378l3.5-.5-.5-6.5-3.5,0zM900,158.5l10-1-9.5-9.5-11,1zM342,112.5l-15-2.5-18,4-15,4.5 14,2 15.5-4zM202.5,223l-5.5-1-4.5,16.5 5,1zM973,562l2,0 0-6-2,.5zM965.5,384.5l3,0 0-7-3,0zM964.5,364l3,0-.5-7-3.5,0zM953.5,269l4.5-.5-1-7.5-5,0zM947,237l5.5-.5-2-8.5-6,.5zM942.5,220l6-.5-2.5-8.5-6.5,.5zM939.5,211.5l6.5-.5-2.5-8.5-7,.5zM888.5,138.5l12.5-1-15-10-14,1.5 8.5,4.5zM761.5,102l20-2.5-17.5-2-20.5-1.5-23-2-26.5-1.5-16.5,3 24.5,1.5 22,1.5 20,1.5zM376.5,102l-17.5-2.5-14,2-13,2-22,4 17,2.5 22.5-4 13-2zM254,136.5l-12-1.5-12,10.5 10.5,1.5zM221,168.5l-9-1-6.5,12 8,1zM976,601l2,0 0-5.5-2,0zM975.5,567.5l2,0-.5-5.5-2,0zM974.5,527.5l2,0 0-6-2.5,0zM974,510l2-.5 0-5.5-2.5,0zM968,371l3-.5-.5-6.5-3,0zM958,268.5l4.5,0-1-8-4.5,.5zM886,127.5l14.5-1-8-5-10.5-5-17,1.5 11.5,5zM833,108.5l20.5-1.5-10-2.5-11-2.5-13-2.5-15-2-23,2 15.5,2 13.5,2.5 12,2zM200,192.5l-7-1-4.5,13.5 6.5,1zM191,221l-6-1-3,16.5 5,1zM187,237.5l-5-1-3,18.5 5,1zM978,601l1.5,0 0-5.5-1.5,0zM977.5,573l2,0 0-5.5-2,0zM976.5,533l2,0 0-5.5-2,0zM976,504l2-.5 0-6-2,.5zM975.5,486l2-.5 0-6-2,0zM975,467.5l2.5,0-.5-6-2.5,0zM972.5,404l3,0-.5-6.5-2.5,0zM972.5,397.5l2.5,0 0-7-3,.5zM972,391l3-.5-.5-6.5-3,0zM853.5,107l21.5-1.5-8.5-2.5-10-2.5-12-2.5-13.5-2.5-26.5,2 15,2 13,2.5 11,2.5zM193,191.5l-7.5-1-3.5,14 6.5,.5zM188.5,205l-6.5-.5-3,15 6,.5zM185,220l-6-.5-2.5,16.5 5.5,.5zM979.5,601l2,0 0-5.5-2,0zM979,562l2-.5 0-5.5-2,0zM978.5,527.5l2-.5 0-5.5-2,0zM976,417l2.5,0 0-6.5-3,0zM981,544.5l2,0 0-5.5-2,0zM979,436l2.5,0 0-6.5-2.5,.5zM976,342.5l3.5,0 0-7-3.5,0zM976,335.5l3.5,0-.5-7-3.5,0zM931.5,125l15.5-.5-9.5-10.5-19,.5 7,5.5zM775,84.5l21-1 23.5-1-16.5-1.5-19.5-1-23-1-27.5-1-15.5-.5-16.5,0-37-.5-41.5-.5-44-.5-5,3.5 63,.5 29.5,.5 26.5,.5 24.5,1 21.5,.5 19.5,1zM195,142.5l-12-1-4,11.5 10.5,.5zM167.5,275l-4.5-.5-.5,12-1,14 4,.5 1-14zM1841,275l-4.5-.5-.5,12-.5,14 3.5,.5 1-14zM983.5,578.5l1.5,0 0-5.5-1.5,0zM983,550.5l2,0 0-6-2,0zM983,544.5l2,0 0-5.5-2,0zM980.5,370.5l3,0 0-7-3.5,0zM970.5,201l7,0-.5-9-7.5,0zM169,203.5l-7-.5-1,15 6,.5zM1842.5,203.5l-7-.5-1,15 6,.5zM1835.5,300.5l-4-.5-.5,17-.5,10 0,12 3.5,.5 0-12 .5-10zM985.5,604.5l1.5,0 0-3.5-1.5,0zM985,578.5l2,0 0-5.5-2,0zM985,550.5l2,0 0-6-2,0zM984.5,485.5l2.5,0 0-6-2.5,0zM983.5,384l3,0 0-7-3,0zM982,306l4,0 0-7.5-4,0zM977.5,201l7,0-.5-9-7,0zM215,90l-40.5-.5-4.5,5-3,5.5 28,.5 8-5.5zM1832,274l-4.5,0 0,12 0,14 4,0 0-13.5zM987,595.5l2,0 0-5.5-2,0zM987,550.5l2,0 0-6-2,0zM987,497.5l2,0 .5-6-2.5,0zM987,461l2.5,0 0-6-2.5,0zM987,436l2.5,0 0-6.5-2.5,0zM986.5,384l3,0 0-7-3,0zM986,283.5l4,0 0-8-4,0zM985.5,268l5,0 0-8-5,0zM174.5,89.5l-41.5,0 6,10.5 28,0 3-5.5zM1848,89.5l-41.5,0 6,10.5 28,0 3-5.5zM1830.5,164l-9.5,0 .5,12 8,0zM1828,252.5l-5,0 0,21.5 4.5,0zM1827.5,300l-4,0 0,16.5 0,10 3.5,0 0-10zM989.5,397l3,0 0-6.5-3,0zM990,342.5l3,0 .5-7-3.5,0zM990.5,260l4.5,0 .5-8-5,0zM1005.5,91l38,.5 7-2.5 10-3 13-3 8.5-1 10.5-1.5-34-.5-36.5-.5-6.5,3-4.5,3zM1823,252.5l-5,.5 .5,21 4.5,0zM991.5,515.5l2,0 0-6-2,0zM992,461l2,0 .5-6-2.5,0zM1008,134.5l13.5,.5 6-10.5-16-.5zM1816,218l-6,.5 1.5,16 5.5,0zM1818.5,274l-4.5,.5 .5,12 1,14 4-.5-.5-13.5zM993.5,515.5l2,0 .5-6-2.5,0zM994,479.5l2.5,0 0-6-2.5,0zM996.5,349.5l3,0 .5-7-3.5,0zM1810,218.5l-6,0 2,16.5 5.5-.5zM1811.5,234.5l-5.5,.5 2,18.5 5-.5zM994.5,595.5l2,0 0-5.5-1.5,0zM995,567.5l2,0 0-5.5-2-.5zM995.5,539l2,0 0-6-2,0zM996.5,467.5l2.5,0 0-6-2.5-.5zM997,448.5l2.5,.5 0-6.5-2.5,0zM997.5,430l2.5,0 0-6.5-2.5,0zM1018,174l8.5,.5 4-9.5-9.5-.5zM1024.5,155l10.5,.5 5.5-10-11.5-.5zM1043.5,125l15.5,.5 7-5 8.5-5-18.5-1-7,5.5zM1056,114.5l18.5,1 10.5-5 14-5-23-1.5-11.5,5.5zM1076,104l23,1.5 8.5-2.5 10-2.5 11.5-2.5 13.5-2.5-30-2-11.5,3-10,2.5-8,2.5zM1796,177l-8,.5 3.5,13 7.5-.5zM1804,218.5l-6,1 2.5,16 5.5-.5zM1808,253.5l-5,.5 2,21.5 4.5-.5zM1809.5,275l-4.5,.5 1.5,12 1,14.5 4-1-1-14zM997.5,533l2,0 .5-5.5-2.5-.5zM998,503.5l2.5,.5 0-6-2.5-.5zM1000.5,417l2.5,0 .5-6.5-3,0zM1004.5,321l4,.5 .5-7.5-4,0zM1006.5,291.5l4.5,0 .5-7.5-4,0zM1665.5,94.5l-25,2 14,2.5 12.5,2 11,2 10,2.5 21-2-8.5-2-10.5-2.5-11.5-2.5zM1000.5,504l2,0 0-6-2,0zM1000.5,492l2.5,0 0-6-2,0zM1001,479.5l2.5,.5 0-6.5-2.5,0zM1004,397.5l2.5,0 .5-6.5-3,0zM1052,146.5l11.5,.5 11-9.5-13-1zM1259,89.5l11,1.5 10,1.5 29-1.5 32-.5 34-1 35.5,0-2-3.5-42,.5-39.5,.5-36,1zM1716,114.5l-16.5,2 11.5,4.5 9.5,4.5 14.5-1.5-8.5-5zM1801,276l-4.5,1 1.5,12.5 1.5,14.5 4-1.5-1.5-14zM1023.5,236.5l5.5,0 2-8-5.5-.5zM1025.5,228l5.5,.5 2.5-8.5-6-.5zM1280,92.5l17,3 26.5-1 28.5-1 60.5-.5-2-3.5-35.5,0-34,1-32,.5zM1786,221l-5.5,1 4,16.5 5.5-1zM1008.5,417.5l2.5,0 .5-6.5-2.5,0zM1017.5,307l3.5,.5 1-7.5-4-.5zM1019,292l4.5,.5 1-8-4.5,0zM1788.5,256.5l-4.5,1.5 4,21.5 4-1zM1796,305l-4,1.5 2.5,18 1,11 .5,2.5 3,0 0-1.5 0-3-1.5-11zM1007,510l2,0 0-6-2,0zM1010,436.5l2.5,.5 .5-6.5-2.5,0zM1117,130l13,1.5 12-4.5 14.5-4.5-15-1.5-13.5,4.5zM1726.5,148l-9.5,2 12.5,10 9-1.5zM1738.5,158.5l-9,1.5 10.5,11.5 8-1.5zM1774.5,223l-5.5,1.5 5.5,16 5-1zM1008,533.5l2,0 .5-5.5-2-.5zM1008.5,516l2.5,0 0-6-2,0zM1009,504l2.5,.5 0-6-2-.5zM1014,417.5l2.5,.5 .5-6.5-2.5-.5zM1022,329.5l3.5,0 1-7-3.5-.5zM1024,315l3.5,0 1.5-7-4-.5zM1322.5,101.5l10,3.5 41.5-1.5 44,0-2-3.5-48,.5zM1505.5,102.5l-6.5,3 34,2.5 30.5,2.5 11-3-32.5-3zM1769,224.5l-5.5,1 6,16.5 5-1.5zM1009,568l2,0 0-5.5-2,0zM1010,539.5l2,0 0-5.5-2-.5zM1020.5,371.5l3.5,.5 .5-7-3-.5zM1026.5,322.5l4,.5 1-7.5-4-.5zM1029,308l4,0 1-7-4-.5zM1094.5,160l9.5,1.5 13-9-10-1.5zM1563.5,110.5l-9,3.5 24.5,3 21.5,3 10.5-2.5-22.5-3.5zM1014.5,492.5l2,0 .5-6-2.5,0zM1015.5,474.5l2,0 .5-6-2.5,0zM1020,411.5l2.5,.5 .5-6.5-2.5-.5zM1021,398.5l3,0 .5-6.5-3,0zM1031.5,315.5l3.5,.5 1.5-7.5-3.5-.5zM1045.5,254.5l4.5,.5 3-8-5-.5zM1048,246.5l5,.5 3-8-5.5-.5zM1016,504.5l2,.5 .5-6-2.5-.5zM1018.5,462.5l2.5,0 .5-6-2.5-.5zM1025.5,385.5l3,.5 .5-7-3,0zM1026,379l3,0 1-6.5-3-.5zM1039.5,293.5l4.5,.5 1.5-7.5-4-.5zM1113,162.5l9,1.5 14.5-9-9.5-1.5zM1233.5,121l11.5,3 23.5-3 26-3-10-3-27,3zM1016,540l2,0 .5-5.5-2-.5zM1017.5,510.5l2.5,.5 .5-6-2.5,0zM1019.5,481l2.5,0 .5-6-2.5,0zM1020,475l2.5,0 .5-6-2.5-.5zM1022,450l2.5,.5 .5-6.5-2.5,0zM1033,351.5l3,.5 1.5-7-3.5,0zM1044,294l4,.5 2-7.5-4.5-.5zM1047.5,279l4.5,.5 2.5-7.5-4.5-.5zM1079,206.5l6.5,1 6.5-8.5-7-1zM1100.5,181l7.5,1 10.5-8.5-8.5-1zM1642.5,140.5l-8.5,2.5 22,8.5 8-2.5zM1740,216l-5,2 8,14.5 5-1.5zM1748,231l-5,1.5 7.5,17 4.5-2zM1755,247.5l-4.5,2 7,18.5 4-2zM1768,288.5l-3.5,2 3.5,13.5 3.5,16 3-2.5-3.5-16zM1015.5,596.5l2,0 0-5.5-2,0zM1019,528.5l2,0 .5-5.5-2.5-.5zM1057,264l4.5,.5 3.5-7.5-5-.5zM1108,182l7.5,1.5 11-8.5-8-1.5zM1656,151.5l-7.5,2.5 18.5,9 7.5-2.5zM1771.5,320l-3.5,3.5 1,4.5 .5,2 3.5-1zM1018,580l2,0 .5-5.5-2,0zM1020.5,540l2,.5 0-6-2,0zM1050,302.5l4,.5 2-7.5-4-.5zM1311.5,124l7.5,3.5 25.5-2 27-1-5-3.5-28.5,1.5zM1697,183l-6,2.5 12.5,11 6-2zM1019,597l2,0 .5-5.5-2,0zM1020.5,569l2,0 .5-5.5-2,0zM1022.5,540.5l2,0 .5-5.5-2.5-.5zM1024.5,505.5l2.5,0 .5-6-2.5,0zM1029,457l2.5,.5 .5-6.5-2.5,0zM1032,425.5l3,.5 .5-6.5-2.5,0zM1147.5,168l8.5,2 16.5-8-8.5-2zM1757.5,296l-3.5,2.5 4,14.5 4.5,17.5 3-4-4.5-17zM1025.5,523.5l2.5,0 0-6-2,0zM1033.5,438.5l2.5,.5 .5-6.5-2.5,0zM1035.5,419.5l2.5,.5 1-6.5-2.5-.5zM1058,303.5l4,.5 2-7-4-1zM1729,239.5l-4,2.5 9,16.5 4-2.5zM1023.5,591.5l1.5,.5 .5-5.5-2-.5zM1026.5,541l2,0 .5-5.5-2-.5zM1027.5,529.5l2,0 .5-5.5-2-.5zM1034.5,451.5l2.5,.5 .5-6.5-2.5-.5zM1040,407l3,.5 1-6.5-3-.5zM1041,400.5l3,.5 1-6.5-3-.5zM1050.5,347l3.5,.5 1.5-7-3-.5zM1092,235.5l5.5,1 5.5-8-5.5-1zM1103.5,219.5l6,1 7-7.5-6-1.5zM1137.5,187.5l7,1.5 12.5-8-7.5-1.5zM1332.5,133.5l6,3 45.5-2-4-3-24,.5zM1608,155l-5,3 21,7.5 19,8 5.5-2.5-19-8.5zM1715,227l-4,2.5 10,15 4-2.5zM1031.5,506l2,.5 .5-6-2,0zM1037,452l2.5,0 .5-6-2.5-.5zM1084,260l4.5,.5 4.5-7.5-5-1zM1338.5,136.5l5.5,3.5 44-2-4-3.5zM1384,134.5l4,3.5 45,0-1.5-3.5zM1711,229.5l-4.5,2.5 10.5,15 4-2.5zM1029.5,558.5l2,.5 .5-6-2.5,0zM1040,446l2.5,.5 1-6.5-2.5-.5zM1088.5,260.5l5,1 4.5-7.5-5-1zM1179,175l7,2 18-7.5-7.5-2zM1638,176.5l-5,3 17,9 4.5-2.5zM1726.5,264l-3.5,3 9.5,20 4.5,11.5 5,13.5 2.5-3.5-4.5-13.5-4.5-11zM1744.5,308.5l-2.5,3.5 5,16 1.5,5 .5,2 3.5-1-.5-1-2.5-9zM1031,564.5l2,0 .5-5.5-2,0zM1032,553l2,.5 .5-6-2.5,0zM1349.5,143l4.5,3.5 40.5-1.5-3-3.5zM1037,519l2,0 .5-5.5-2-.5zM1045,446.5l3,.5 .5-6-2.5-.5zM1674.5,212.5l-4,3 12.5,12 4-3zM1034.5,570.5l2,.5 .5-6-2,0zM1037.5,536.5l2,.5 .5-6-2-.5zM1038.5,525l2,0 .5-5.5-2-.5zM1043,483.5l2,.5 1-6-2.5-.5zM1159.5,202.5l6,2 12-7.5-6.5-1.5zM1039.5,537l2,0 .5-5.5-2-.5zM1040,531l2,.5 .5-6-2-.5zM1041,519.5l2.5,.5 .5-6-2-.5zM1042,513.5l2,.5 .5-6-2-.5zM1046,478l2.5,.5 .5-6-2-.5zM1049.5,453.5l2.5,.5 1-6-2.5-.5zM1051,441l3,.5 1-6-3-.5zM1056.5,409.5l3,.5 1.5-6.5-3-.5zM1137.5,227l5.5,1 8.5-7.5-5.5-1zM1045.5,502l2,.5 1-6-2.5,0zM1053,448l2.5,.5 1-6.5-2.5-.5zM1083,323l4,1 2.5-7-3.5-1zM1135.5,235.5l5,1.5 8-7.5-5.5-1.5zM1151.5,220.5l5.5,1.5 9.5-7-5.5-1.5zM1197.5,191.5l6.5,2 16-6.5-6.5-2zM1676,234l-3,3 12,13.5 3-3.5zM1039.5,582.5l2,.5 .5-5.5-2-.5zM1041.5,560l2,.5 .5-5.5-2-.5zM1062.5,410.5l2.5,.5 1.5-6.5-3-.5zM1039.5,604.5l2,0 .5-4.5-2-.5zM1043.5,560.5l2,.5 .5-6-2,0zM1045.5,538l2.5,0 .5-5.5-2-.5zM1055,467l2.5,.5 1-6-2.5-.5zM1058,448.5l2.5,.5 1-6-2.5-.5zM1103.5,296.5l4,1 4-7.5-4.5-1zM1138.5,245.5l5,1.5 7.5-7.5-5.5-1zM1409,162l2.5,3.5 32,1 32.5,2.5-.5-3.5-33.5-2.5zM1669.5,240.5l-2.5,3.5 12.5,13.5 11.5,15.5 3-3.5-12-15.5zM1125.5,268.5l4,1.5 6-7.5-4.5-1zM1178,218.5l5.5,1.5 11-7-5.5-1.5zM1667,244l-3,3.5 12.5,13.5 12,16 2.5-4-11.5-15.5zM1050,538.5l2,.5 .5-6-2,0zM1079,380l3,.5 2-6.5-3.5-.5zM1080.5,373.5l3.5,.5 2-6.5-3.5-.5zM1082.5,367l3.5,.5 2-6.5-3-1zM1120,284l4,1 5-7-4.5-1zM1124.5,277l4.5,1 5-7-4.5-1zM1141.5,255.5l4.5,1.5 7-7.5-4.5-1zM1476,172.5l1,4 50.5,8 1-4-26-4.5zM1084,374l3,1 2-7-3-.5zM1243.5,196l5.5,2.5 18-5.5-5.5-2.5zM1048.5,590l2,0 .5-5.5-2,0zM1053.5,545l2,.5 .5-6-2,0zM1058.5,504.5l2.5,.5 1-6-2.5-.5zM1101.5,334.5l3.5,1 3.5-6.5-3.5-1zM1526.5,188l-.5,4 39,11 1.5-4zM1063,493.5l2,.5 1-6-2-.5zM1069,457.5l2.5,.5 1.5-6-2.5-.5zM1199,225.5l5.5,2 11.5-6.5-5-2zM1478,183.5l.5,4 47,8 .5-3.5zM1629.5,235.5l-2,4 14,11 13.5,12 2-4-13.5-12zM1054,574l2,.5 .5-5.5-1.5-.5zM1057.5,546l2,.5 1-6-2.5-.5zM1062.5,511.5l2,.5 1-6-2.5-.5zM1074,445.5l2.5,1 1.5-6.5-2.5-.5zM1085,402l3,.5 1.5-6-2.5-1zM1153.5,268l4,1.5 7-7-4.5-1.5zM1175,247.5l5,1.5 9-6.5-5-2zM1478.5,187.5l1,3.5 45.5,8.5 .5-4zM1564,206.5l-1.5,4 33,14.5 2-4zM1126.5,310.5l4,1 4-6.5-3.5-1.5zM1164.5,262.5l4.5,1.5 7.5-6.5-4.5-2zM1172,255.5l4.5,2 8-7-4.5-1.5zM1323.5,192.5l4.5,3 23-3-4.5-3zM1625.5,243l-1.5,4 14,11 13.5,13 1.5-4-13.5-13zM1061,552.5l2,.5 .5-6-2-.5zM1064,529.5l2,.5 1-5.5-2-.5zM1082,434.5l3,1 1.5-6.5-3-.5zM1122.5,325l3.5,1 4-6.5-4-1zM1184.5,250.5l4.5,2 9.5-6.5-5-2zM1351,192.5l3.5,3.5 24-2-3.5-3zM1480.5,195l.5,3.5 43.5,8.5 .5-4zM1624,247l-1.5,4 14,11.5 13.5,12.5 1.5-4-13.5-13zM1677.5,303l-1.5,5 7,10.5 7,12 7.5,15 4,9 4.5,11 0-9-4-9.5-4-8-7-14-7-12zM1311.5,202l4.5,3 20.5-3.5-4.5-3zM1622.5,251l-1.5,4.5 14,11 13.5,13 1.5-4.5-13.5-12.5zM1676,308l-1,5 7,11 7,13 4,7.5 2,4 .5,.5 3-1.5-1-2-7.5-15-7-12zM1061.5,581l1.5,.5 1-5.5-2-.5zM1062.5,570l2,.5 1-5.5-2-.5zM1068.5,530.5l2,.5 1-5.5-2.5-.5zM1107.5,373l3,1 3-6.5-3.5-1zM1213,241.5l4.5,2 11-6-4.5-2zM1591.5,236.5l-1,4 15,9 14.5,10 1-4zM1068.5,542.5l2,.5 1-5.5-2-.5zM1080,479l2.5,.5 1-6-2-.5zM1090,436.5l2.5,1 2-6.5-3-.5zM1108,380.5l3,.5 2.5-6-3-1zM1146,308.5l4,1 5-6.5-4-1zM1207.5,249.5l4.5,2 10-6-4.5-2zM1254,226l4.5,2.5 14.5-5-4.5-2.5zM1524.5,215l0,3.5 34.5,11.5 .5-4zM1063,598.5l2,.5 .5-5.5-1.5-.5zM1068,560l2,.5 1-6-2-.5zM1079,497l2,.5 1-5.5-2-1zM1081,485.5l2.5,.5 1-6-2-.5zM1104,400l3,1 2-6.5-2.5-.5zM1166,290l4,1.5 6.5-6.5-4.5-1.5zM1186,270.5l4.5,1.5 8-6-4.5-2zM1559,230l-.5,4 30.5,15 1-4.5zM1618.5,263.5l-.5,4.5 13.5,12 13.5,13.5 1-5-13.5-13zM1068,577l2,.5 .5-5.5-2-.5zM1077.5,515l2.5,.5 1-5.5-2-1zM1083.5,486l2.5,.5 1-6-2.5-.5zM1089,462l2.5,1 1.5-6-2.5-1zM1090.5,456l2.5,1 1.5-6-2.5-1zM1104.5,407l3,1 2-6-2.5-1zM1117,375.5l3,1 2.5-6-3-1zM1148.5,317.5l4,1.5 4.5-6.5-3.5-1.5zM1207,259.5l4.5,2 9.5-6-4.5-2zM1348,211l4,3 20.5-2-3.5-3zM1485,214l1,3.5 39,9 0-4zM1673,330l-.5,6.5 8,13.5 4,8 5,9.5 1,3 3-1.5-4.5-10-8.5-16zM1087,480.5l2.5,1 1.5-6-2.5-1zM1094.5,451l2.5,.5 1.5-6-2.5-.5zM1122.5,370.5l3,1 3.5-6.5-3.5-1zM1157,312.5l4,1 5-6-3.5-1.5zM1194.5,274l4.5,1.5 8-6-4.5-2zM1617,272.5l-.5,4.5 13.5,12 14,14.5 .5-5-13.5-14zM1069,600l1.5,.5 1-5.5-2-.5zM1075,556l2,.5 1-6-2-.5zM1078,539l2,.5 1-5.5-2-.5zM1083,510.5l2.5,.5 1-6-2-.5zM1132,358.5l3,1 3.5-6-3-1.5zM1235.5,251.5l4.5,2.5 11-5.5-4.5-2.5zM1074,578.5l1.5,.5 1-5.5-2-.5zM1079,545l2,.5 1-5.5-2-.5zM1083,522.5l2.5,.5 1-5.5-2-1zM1088,499.5l2,.5 1.5-5.5-2.5-1zM1090.5,488l2,.5 1.5-6-2-.5zM1132,366l3,1 3.5-6-3.5-1.5zM1138.5,353.5l3.5,1 3.5-6.5-3-1zM1146.5,340.5l3,1.5 4.5-6.5-3.5-1.5zM1240,254l4,2 11.5-5.5-4.5-2zM1322.5,226l4,3 17.5-3-4-3zM1422,218l2.5,4 22,1-2-3.5zM1074,590l2,.5 1-5.5-2-.5zM1098.5,465l2.5,.5 1.5-5.5-2-1zM1109.5,429l2.5,1 2-6-2.5-1zM1233.5,261.5l4.5,2 10-5.5-4-2zM1446.5,223l2,4 42,6.5-1-4zM1073.5,604.5l2,0 1-2.5-2-.5zM1084,540.5l2.5,1 1-6-2-.5zM1086.5,529.5l2,.5 1-5.5-2-1zM1091,506.5l2.5,.5 1-5.5-2-.5zM1104.5,454l2.5,.5 2-6-3-.5zM1108,442l2.5,.5 2-6-2.5-.5zM1162,330.5l3.5,1.5 4.5-6.5-3.5-1.5zM1366,227l3.5,3 19-1-3-3.5zM1674,366.5l1.5,10 3,5.5 1.5,3 .5,1 2.5-2-1-2-2.5-5.5zM1085.5,547l2,.5 1-5.5-2-.5zM1092,513l2.5,.5 1-5.5-2-1zM1124,406.5l2.5,1 3-6-3-1zM1156.5,344.5l3,1 4.5-6-3.5-1.5zM1303,241.5l4,3 14.5-3.5-3.5-3zM1080,591.5l2,.5 .5-5.5-2-.5zM1122,419.5l2.5,1 2.5-6-3-1zM1126.5,407.5l3,1 2.5-6-2.5-1zM1219,285l3.5,1.5 8.5-5.5-4-2zM1267.5,257.5l4,2.5 12.5-4.5-4-2.5zM1307,244.5l3.5,3 15-3.5-4-3zM1528.5,251l.5,4.5 30,12.5-.5-4.5zM1083.5,581l2,1 1-5.5-2-.5zM1093,531.5l2,.5 1-5.5-2-1zM1094,525.5l2,1 1.5-6-2.5-.5zM1106.5,474l2.5,.5 2-5.5-2.5-1zM1615,306.5l0,5 14.5,14.5 14.5,18.5-.5-7-14.5-17zM1084.5,587.5l2,.5 1-5.5-2-.5zM1129.5,415.5l3,1 2.5-6-3-1zM1140.5,391l3,1.5 3.5-6.5-3-1zM1154,366.5l3.5,1.5 3.5-6-3-1.5zM1166.5,348.5l3,1 4.5-6-3-1.5zM1186,324l3.5,1.5 6-6-4-1.5zM1254,272.5l4,2 10.5-4.5-4-2.5zM1329,246.5l4,3 15.5-2.5-3.5-3zM1345,244l3.5,3 16.5-2-3.5-3.5zM1361.5,241.5l3.5,3.5 17-1.5-3-3.5zM1090.5,566l2,.5 1-5.5-2-.5zM1110,481.5l2,.5 2-5.5-2.5-1zM1117,458l2.5,1 2-6-2.5-1zM1127.5,428.5l2.5,1 2.5-6-2.5-1zM1135,410.5l3,1 2.5-6-2.5-1zM1239,285l3.5,2.5 9.5-5.5-4-2zM1248,280l4,2 9.5-5-3.5-2.5zM1304.5,256.5l4,3 13.5-4-4-2.5zM1419,243l3,3.5 19,1-2.5-3.5zM1458.5,246l2,4 38,7.5-1.5-4zM1089.5,583l2,.5 1-5.5-2-.5zM1100.5,527.5l2,1 1.5-5.5-2-1zM1132.5,423.5l3,1 2.5-6-3-1zM1242.5,287.5l4,2 9-5-3.5-2.5zM1588,299l1,5 13.5,11 14,13.5-.5-6-14-12.5zM1092.5,578l2,1 1-5.5-2-1zM1208.5,317l3.5,2 7-6-4-1.5zM1299,266l4,2.5 12.5-3.5-3.5-3zM1312,262l3.5,3 13.5-3.5-3.5-3zM1589,304l.5,5.5 14,11.5 14,13.5-1-6-14-13.5zM1094.5,579l2,.5 1-5.5-2-.5zM1096.5,568l2,.5 1-5.5-2-.5zM1107.5,518l2,.5 1.5-5.5-2-.5zM1124.5,460.5l2.5,1 2-5.5-2.5-1zM1291,272.5l3.5,2.5 12-3.5-3.5-3zM1427,253.5l2.5,4 18,1.5-2-4zM1589.5,309.5l1,5 13.5,12 14.5,14.5-1-6.5-14-13.5zM1091.5,604.5l2,0 1-2.5-2-1zM1133.5,444l2.5,1 2.5-5.5-3-1zM1158.5,391l3,1.5 3.5-6-3-1.5zM1182.5,355.5l3,1.5 5-6-3.5-1.5zM1229.5,309.5l3.5,2 8-5.5-4-2zM1094.5,602l2,.5 .5-5.5-1.5-.5zM1096.5,591l1.5,.5 1.5-5.5-2-.5zM1115,508l2,1 2-5.5-2.5-1zM1158,398l3,1.5 3.5-6-3-1zM1190.5,351l3,1.5 5.5-5.5-3.5-1.5zM1201,339.5l3.5,1.5 5.5-5.5-3.5-1.5zM1219,322.5l3.5,2 7-5.5-3.5-2zM1564,301l1,5 13.5,9 13.5,10.5-1-5.5-13.5-10.5zM1591,320l1,5.5 14,13 15,16-1.5-7-14.5-15zM1099.5,586l1.5,1 1.5-5.5-2-.5zM1110,537l2,.5 1.5-5.5-2-.5zM1115.5,514.5l2.5,1 1.5-5.5-2.5-1zM1141,440.5l2.5,1 2.5-6-2.5-1zM1157.5,405.5l3,1 3.5-6-3-1zM1189,358.5l3,1.5 5-5.5-3.5-2zM1326.5,273.5l3.5,3 13-3-3.5-3zM1417,264l2.5,3.5 17,1-2.5-3.5zM1506,278.5l1.5,4.5 31,12.5-1-4.5zM1118,515.5l2,1 1.5-6-2-.5zM1141,447l2.5,1.5 2.5-6-2.5-1zM1174.5,383l3,1.5 4-5.5-3-1.5zM1240,315.5l3.5,2 8-5-3.5-2zM1371.5,269l3,3.5 15.5-1-3-3.5zM1387,268l3,3.5 15.5-.5-2.5-3.5zM1114,538.5l2.5,1 1-5.5-2-1zM1132.5,477l2.5,1 2-6-2.5-1zM1148.5,436.5l3,1.5 2.5-6-2.5-1zM1157,419.5l3,1 3-5.5-3-1.5zM1229.5,328l3.5,2 6.5-5-3-2zM1309,286l3.5,2.5 11.5-3.5-3-2.5zM1102,604.5l2,0 1-4.5-2-1zM1106,583l2,.5 1.5-5-2-1zM1117.5,534l2.5,.5 1.5-5.5-2.5-.5zM1263,310l3.5,2 9-4.5-3.5-2.5zM1408.5,274.5l2.5,3.5 16.5,1-3-4zM1424.5,275l3,4 16.5,1.5-2.5-4zM1541.5,305l1,5 14,7.5 13.5,9.5-1.5-5.5-13.5-9zM1104,604.5l2,0 1-4-2-.5zM1110.5,573l2,.5 1.5-5.5-2-.5zM1118.5,540l2,1 1.5-5.5-2-1zM1124.5,518l2,1 2-5.5-2.5-1zM1139.5,473l2.5,1 2-5.5-2.5-1zM1223.5,342.5l3,2 6.5-5-3.5-2zM1243,327l3.5,2 7.5-5-3.5-2zM1258.5,317l3,2 8.5-4.5-3.5-2.5zM1149,457l2.5,1.5 2.5-6-3-1zM1544.5,315l1.5,5 13.5,8.5 13.5,9.5-1.5-5.5-13.5-9.5zM1140,486.5l2.5,1 2-5.5-2.5-1zM1149,464l2.5,1 2.5-5.5-2.5-1zM1154,452.5l2.5,1.5 2.5-6-2.5-1zM1174.5,413l3,1.5 3.5-6-3-1zM1181.5,401.5l3,1.5 4-5.5-3-1.5zM1203,373.5l3,2 4.5-5.5-3-2zM1250,331l3,2 7.5-4.5-3-2.5zM1291.5,308l3.5,2.5 10-4-3.5-2.5zM1387,286l3,3.5 14.5-.5-3-3.5zM1114,586l2,.5 1.5-5-2-1zM1118,570l2,.5 1-5.5-2-.5zM1156.5,454l2.5,1 2.5-5.5-2.5-1.5zM1161.5,442.5l3,1.5 2.5-6-2.5-1zM1174,420l2.5,1.5 3.5-6-2.5-1zM1196.5,386.5l3,1.5 4.5-5.5-3-1.5zM1326,299.5l3.5,3 11.5-3-3.5-2.5zM1419.5,289l2.5,4 15.5,1-2.5-4zM1467.5,295l2.5,4 16.5,4.5-2-4.5zM1114,597.5l1.5,.5 1.5-5-2-1zM1117.5,581.5l2,.5 1-5-2-1zM1121,565l2.5,1 1-5.5-2-.5zM1224.5,361l3,1.5 6-5-3.5-2zM1272,326l3,2 8.5-4-3.5-2.5zM1341,299.5l3,3 12-2-3-3zM1576.5,350l2,6.5 14.5,13 7.5,8 8,9-3-8-15-16zM1118,587.5l2,1 1.5-5.5-2-1zM1202.5,389.5l3,1.5 4.5-5.5-3-1.5zM1440,298l2.5,4 16,2.5-2.5-4.5zM1489,308l2,4.5 16,5.5 16.5,7-2-5-16.5-7zM1117.5,599l2,.5 1.5-5-2-1zM1278.5,330.5l3,2.5 8.5-4-3-2.5zM1287,326.5l3,2.5 9-4-3.5-3zM1359.5,303.5l3,3 12.5-1.5-3-3.5zM1385,300.5l3,3.5 13.5-.5-3-3.5zM1553,341.5l2,5.5 13.5,10 14.5,12.5-2.5-6.5-14-12zM1131.5,551.5l2.5,1 1.5-5.5-2-1zM1138,530l2.5,1 1.5-5.5-2-1zM1145.5,508l2.5,1 2-5-2.5-1.5zM1154,486l2.5,1.5 2-5.5-2-1.5zM1169,453l2.5,1.5 3-5.5-2.5-1.5zM1178,436.5l3,1.5 3-5.5-2.5-1.5zM1555,347l2,6 14,10.5 14.5,13-2.5-7-14.5-12.5zM1131,563.5l2,.5 1.5-5-2-1zM1135.5,547l2,1 1.5-5.5-2-.5zM1187.5,427l2.5,1.5 4-5.5-3-1.5zM1137.5,548l2,1 2-5.5-2.5-1zM1144.5,526.5l2,1 2-5.5-2-1zM1148,515.5l2.5,1.5 2-5.5-2.5-1zM1171.5,461l2.5,1.5 3-5.5-2.5-1.5zM1190,428.5l3,1.5 3.5-5.5-2.5-1.5zM1197.5,417.5l3,1.5 3.5-5.5-2.5-1.5zM1129.5,586.5l2,.5 1-5-2-1zM1139.5,549l2.5,1 1.5-5.5-2-1zM1166,478.5l2.5,1.5 2.5-5.5-2.5-1zM1174,462.5l2.5,1 3-5-2.5-1.5zM1196.5,424.5l2.5,1.5 4-5.5-2.5-1.5zM1204,413.5l3,1.5 4-5-2.5-1.5zM1268.5,353l3,2.5 7.5-4.5-3-2.5zM1283.5,344.5l3,2.5 8-4.5-3-2zM1157,507l2,1 2.5-5-2.5-1.5zM1163.5,491l2.5,1 2.5-5.5-2.5-1zM1171,474.5l2.5,1.5 2.5-5.5-2.5-1.5zM1235,384l3,2 5.5-5-3-2zM1387,318.5l2.5,3.5 13-.5-3-3.5zM1412.5,318l3,3.5 13.5,1-2.5-4zM1139,567l2,1 1.5-5.5-2-1zM1147.5,540.5l2,1 2-5.5-2.5-1zM1161.5,503l2,1 2.5-5.5-2.5-1zM1210,417l2.5,1.5 4-5-2.5-2zM1243.5,381l3,2 5.5-5-3-2zM1566.5,378l3,7 15,15 8.5,9 9.5,12-4.5-11-8.5-10-8-8.5zM1139.5,573l2,1 1.5-5-2-1zM1173.5,482.5l2,1 3-5-2.5-1.5zM1178.5,471.5l2.5,1.5 3-5.5-2.5-1zM1301,348l3,2.5 8.5-4-3-2.5zM1507,345.5l2,5 16,7.5 16,10-2.5-6-16-9.5zM1145,563.5l2,1 1.5-5-2-1zM1153.5,537l2,1 2-5-2-1zM1243.5,390l3,2 5.5-5-3-2zM1249,385l3,2 6-4.5-3-2zM1478,339l2.5,4.5 15.5,5-2.5-4.5zM1143.5,575l2.5,1 1.5-5-2-1zM1544,374l2.5,6 15.5,12.5 8,7.5 9,8.5-3.5-8.5-16.5-14.5zM1141.5,592l2,1 1-5.5-2-1zM1160,534l2,1 2-5-2-1.5zM1201.5,449.5l3,1.5 3.5-5.5-3-1.5zM1212.5,434l3,1.5 4-5-3-2zM1239,403.5l3,2 5-5-3-2zM1367,339l3,3.5 11-1.5-3-3.5zM1514,360.5l3,5.5 15.5,9 17,11.5-3-6.5-16.5-10.5zM1546.5,380l3,6.5 15.5,13 8.5,8.5 9.5,9.5-4-9-9-8.5-8-7.5zM1146,582.5l2.5,1 1.5-5.5-2-1zM1148,577l2,1 1.5-5-2-1zM1156.5,551l2,1 2-5-2.5-1.5zM1175,503.5l2.5,1 2.5-5-2.5-1.5zM1201,456l2.5,1.5 3.5-5-2.5-1.5zM1219.5,430.5l2.5,1.5 4.5-5-3-1.5zM1242,405.5l3,2 5-5-3-2zM1392.5,340l3,3.5 11.5,0-2.5-4zM1517,366l2.5,5.5 16,9.5 17,12.5-3-7-17-11.5zM1583,417.5l4.5,10 9,11.5 2-2.5-1-2-5.5-6.5zM1142.5,604l2,.5 1.5-4.5-2-1zM1146.5,588.5l2,1 2-5-2-1zM1182.5,494l2.5,1.5 2.5-5-2-1.5zM1185.5,489l2,1.5 3-5.5-2.5-1.5zM1203.5,457.5l2.5,1.5 3.5-5-2.5-1.5zM1255.5,398l3,2 5.5-4.5-3-2zM1273,384.5l3,2 6.5-4-3-2.5zM1308.5,364.5l3,2.5 8-3.5-3-2.5zM1373,345.5l3,3.5 11-1-3-3.5zM1395.5,343.5l2.5,3.5 12,0-3-3.5zM1459,349l3,4.5 14,4-2.5-5zM1233.5,424l2.5,1.5 4.5-4.5-2.5-2zM1398,347l3,4 12,0-3-4zM1491,362.5l2.5,5 15.5,6.5-3-5zM1215.5,450.5l3,1.5 3.5-5-2.5-1.5zM1425,351.5l3,4 12.5,1.5-2.5-4zM1169,545l2,1 2-5-2-1zM1218.5,452l2.5,2 3.5-5-2.5-2zM1325.5,369l3,3 8.5-3-3-3zM1175,536l2.5,1 2-5-2-1.5zM1298,385.5l3,2.5 7-3.5-3-2.5zM1385,359l3,3.5 10.5-.5-3-3.5zM1220,460.5l2.5,1.5 3.5-4.5-2.5-2zM1231.5,445.5l2.5,2 4-5-2.5-1.5zM1244.5,431.5l2.5,1.5 4.5-4.5-2.5-2zM1473,371.5l2.5,5 14.5,5-3-5zM1502,383l3,5.5 15.5,8.5-3-6zM1157,600l2,1 2-5-2-1.5zM1159,594.5l2,1.5 1.5-5.5-2-1zM1175.5,548.5l2,1.5 2-5.5-2-1zM1177.5,543.5l2,1 2.5-5-2.5-1zM1197,502.5l2,1.5 3-5-2.5-1.5zM1215.5,472l2.5,2 3.5-5-2.5-2zM1234,447.5l2.5,2 4.5-5-3-2zM1290.5,398l3,2.5 6.5-3.5-3-2.5zM1505,388.5l3,5.5 15.5,9-3-6zM1164,585.5l2,1 2-5-2-1zM1167.5,575.5l2.5,1 1.5-5-2-1zM1232.5,454l2.5,2 4.5-5-3-1.5zM1236.5,449.5l3,1.5 4-4.5-2.5-2zM1329.5,383.5l2.5,2.5 8.5-2.5-3-3zM1166,586.5l2,1.5 2-5-2-1.5zM1193.5,520.5l2.5,1.5 2.5-5-2.5-1.5zM1220.5,475.5l2.5,1.5 3.5-5-2.5-1.5zM1248,441.5l2.5,2 4.5-4.5-2.5-2zM1340.5,383.5l3,3 8-2.5-2.5-3zM1455,378.5l2.5,4.5 13.5,3.5-3-4.5zM1175.5,567.5l2.5,1.5 2-5.5-2.5-1zM1213,492l2.5,1.5 3-5-2.5-1.5zM1223,477l2.5,1.5 3.5-4.5-2.5-2zM1320,395l3,2.5 7.5-3-3-2.5zM1165,604l2,.5 2-4-2-1.5zM1167,599l2,1.5 1.5-5.5-2-1zM1190.5,538.5l2.5,1.5 2.5-5-2.5-1.5zM1222,483.5l2.5,2 3.5-5-2.5-2zM1229,474l2.5,1.5 3.5-4.5-2.5-2zM1338,392l3,3 8-2.5-3-3zM1172.5,590l2,1.5 1.5-5-2-1.5zM1198,530l2,1 2.5-5-2-1zM1239,466l2.5,2 4-4.5-2.5-2zM1265.5,438.5l2.5,2.5 5-4.5-2.5-2zM1349,392.5l3,3 8.5-2.5-3-3zM1439,387l3,4 12,2.5-3-4.5zM1451,389l3,4.5 12.5,3.5-3-5zM1174.5,591.5l2,1 2-5-2.5-1zM1230.5,482l2.5,2 3.5-5-2.5-1.5zM1369.5,391.5l3,3 9-1-3-3.5zM1542,438l4,8.5 10.5,9.5 12.5,13.5-6.5-11.5-11-11.5zM1192.5,552.5l2.5,1.5 2.5-5-2.5-1.5zM1197.5,542.5l2,1.5 2.5-5-2-1.5zM1276,439l2.5,2 5.5-4-3-2.5zM1331.5,406l3,3 7.5-3-3-2.5zM1222,505l2,1.5 3.5-5-2.5-1.5zM1235.5,485.5l2.5,2 3.5-4.5-2.5-2zM1278.5,441l3,2 5-4-2.5-2zM1320.5,415l2.5,2.5 7-3-3-2.5zM1358,401.5l3,3 8.5-1.5-3-3.5zM1414,395.5l3,4 11,1-3-4zM1448,400l3,4.5 12,3-3-4.5zM1460,403l3,4.5 13,4.5-3.5-5.5zM1192.5,565l2.5,1.5 2-5-2-1.5zM1231,497l2,1.5 3.5-4.5-2.5-2zM1253.5,469l2.5,2 4-4.5-2.5-2zM1378,401.5l3,3.5 9.5-1-3-3.5zM1387.5,400.5l3,3.5 9.5-.5-3-4zM1439,402l3,4.5 12,2.5-3-4.5zM1556.5,465.5l6.5,11.5 1,1 1.5-2.5-3-3.5zM1179,604.5l2,0 2-2-2-1.5zM1244,484.5l2.5,2 4-4.5-2.5-2zM1300.5,434l3,2.5 6-3.5-3-2.5zM1333,417.5l3,3 7-3-3-3zM1364,408l2.5,3 9-1.5-3-3.5zM1209,543.5l2,1.5 3-5-2.5-1.5zM1243,491l2,2 4-4.5-2.5-2zM1272,460l2.5,2 5-4-3-2zM1281.5,452l3,2 5-4-2.5-2zM1303.5,436.5l2.5,2.5 6-3.5-2.5-2.5zM1545.5,464l6,10 5.5,6.5 7,7.5 3.5,4.5 2,2.5 1.5-3.5-8-9-6-7.5zM1261,475l2.5,2 4.5-4-2.5-2.5zM1306,439l3,2.5 6-3.5-3-2.5zM1369.5,414.5l3,3 8.5-1-3-3.5zM1190.5,595l2.5,1.5 2-5-2.5-1zM1206,561l2,1.5 2.5-5-2-1.5zM1419,415l3,4 10.5,1-3-4zM1451.5,420l3,4.5 12,4-3-5zM1476,427.5l3,5.5 13.5,6-3.5-5.5zM1518.5,450.5l4.5,7.5 8.5,7 9.5,8.5-5-9-9-7.5zM1558,485.5l3.5,7 2.5,4 0,1.5 1.5-3-.5-1zM1295,455l2.5,2 5.5-3.5-2.5-2.5zM1330.5,434.5l3,3 7-3-3-3zM1422,419l3,4 10.5,1.5-3-4.5zM1432.5,420l3,4.5 11,2-3.5-4.5zM1507,447.5l4,6.5 16.5,12-4.5-8zM1249,503l2.5,2 3.5-4.5-2.5-2zM1340.5,434.5l2.5,3 7-2.5-2.5-3zM1446.5,426.5l3,5 11.5,3-3-5zM1470,433.5l3.5,5 12.5,5.5-3.5-5.5zM1496,445l4,6.5 15,9.5-4-7zM1197,599l2,1.5 2-5-2-1zM1210,570l2,1.5 2.5-4.5-2-1.5zM1237.5,523l2.5,2 3.5-4.5-2.5-2zM1290,467l2.5,2.5 5-4-2.5-2zM1210,576.5l2,1.5 2.5-5-2.5-1.5zM1222.5,552.5l2,2 3-5-2.5-1.5zM1243.5,520.5l2.5,1.5 3-4.5-2-1.5zM1292.5,469.5l3,2.5 5-4-3-2.5zM1332.5,446l3,2.5 6.5-2.5-3-3zM1421,430.5l3,4.5 10.5,1-3.5-4.5zM1217,568.5l2,1.5 2.5-4.5-2-2zM1242.5,526.5l2.5,2 3-4.5-2-2zM1300.5,468l2.5,2.5 5.5-3.5-3-2.5zM1349,443.5l2.5,3 7.5-2-3-3.5zM1224,560.5l2.5,2 2.5-5-2-1.5zM1259,511l2.5,1.5 3.5-4-2.5-2zM1270.5,498l2.5,2 4.5-4-2.5-2zM1298,474.5l2.5,2 5.5-3.5-3-2.5zM1308.5,467l2.5,2.5 5.5-3-2.5-3zM1359,444.5l2.5,3 7.5-1.5-2.5-3.5zM1209.5,595l2,1.5 2.5-4.5-2.5-1.5zM1214,585.5l2,1.5 2.5-4.5-2-1.5zM1250.5,526l2.5,1.5 3.5-4-2.5-2zM1281.5,492l2.5,2 5-3.5-3-2.5zM1300.5,476.5l3,2.5 5-3.5-2.5-2.5zM1322.5,463l2.5,3 6-3-2.5-3zM1334.5,457l3,3 6.5-2.5-3-3zM1487.5,461.5l4,6 14.5,9-4.5-7.5zM1260,519l2.5,2 3.5-4-2-2.5zM1308.5,475.5l2.5,2.5 5.5-3-2.5-3zM1357.5,453l3,3 7-2-3-3zM1396.5,446l3,3.5 8.5,0-3-4zM1211.5,603l2,1.5 2.5-5-2.5-1.5zM1233.5,561l2.5,1.5 3-4.5-2.5-1.5zM1248.5,538.5l2.5,2 3.5-4.5-2.5-2zM1252,534l2.5,2 3.5-4.5-2.5-2zM1262.5,521l2.5,2 3.5-4-2.5-2zM1375,452.5l3,3.5 8-1.5-3-3.5zM1399.5,449.5l3,4 8.5,0-3-4zM1510.5,483.5l4.5,8 9,7 9.5,9-6-10-9-7.5zM1233,567l2.5,2 2.5-4.5-2-2zM1241.5,553.5l2.5,2 3-4.5-2-2zM1245,549l2,2 3-4.5-2-2zM1248,544.5l2,2 3.5-4.5-2.5-1.5zM1289.5,498.5l2.5,2.5 4.5-3.5-2.5-2.5zM1314,480.5l2.5,3 5.5-3.5-2.5-2.5zM1378,456l3,3.5 8-1-3-4zM1218,601l2,1.5 2.5-4.5-2-1.5zM1250,546.5l2.5,2 3.5-4.5-2.5-2zM1260,533.5l2.5,2 3.5-4-2-2zM1301.5,493.5l2.5,2.5 5-3.5-3-2.5zM1405.5,457.5l3,4 9,0-3-4zM1520.5,500.5l6,9.5 10.5,10 6,6.5 1.5,1.5 .5-1.5-4-7-11-11zM1249.5,553l2,1.5 3.5-4-2.5-2zM1266,531.5l2.5,2 4-4.5-2.5-2zM1304,496l2.5,2.5 5-3.5-2.5-2.5zM1355,469.5l3,3 7-2-3-3zM1494.5,486l4.5,7 15,11-5-8zM1243,568l2,1.5 3-4-2.5-2zM1316.5,492l3,2.5 5-3-2.5-3zM1358,472.5l3,3.5 7-2-3-3.5zM1372,469l3,3.5 7-1.5-2.5-3.5zM1395,465.5l3,4 8,0-3-4zM1264,543.5l2.5,2 3.5-4-2.5-2zM1309,501l3,2.5 5-3-3-3zM1453.5,476.5l3.5,5 11.5,4-4-5.5zM1503.5,500.5l5,8 8.5,7 9.5,8-6.5-10-8.5-7zM1317,500.5l2.5,2.5 5-3-2.5-3zM1333,491l2.5,3 6-2.5-3-3zM1385,474.5l3,4 8-1-3-3.5zM1446.5,478.5l3.5,5 11,3.5-4-5.5zM1276,539.5l2.5,2 3.5-3.5-2.5-2.5zM1305,513l2.5,2.5 5-3.5-3-2.5zM1353.5,486.5l3,3 6.5-2-3-3zM1472.5,491.5l4,6 12.5,7-4.5-7zM1243.5,588.5l2,1.5 3-4.5-2.5-1.5zM1274.5,546l2.5,2 4-4-2.5-2.5zM1317,509l3,2.5 5-3-3-3zM1327.5,502.5l2.5,3 5.5-3-2.5-3zM1338.5,497l2.5,3 6-3-3-3zM1350,492l3,3 6.5-2.5-3-3zM1356.5,489.5l3,3 6.5-1.5-3-3.5zM1464.5,492.5l4,5.5 12,6-4-6.5zM1263.5,564.5l2.5,2 3-4.5-2.5-2zM1359.5,492.5l2.5,3.5 6.5-2-2.5-3zM1372.5,489l3,3.5 7-1-3-4zM1245,596.5l2.5,1.5 2.5-4.5-2-1.5zM1327.5,511l3,3 5-3-2.5-3zM1405.5,489.5l3,4 8.5,0-3.5-4zM1413.5,489.5l3.5,4 8.5,1-3.5-4.5zM1256,585l2,2 3-4-2.5-2zM1425.5,494.5l3.5,4.5 9,2-3.5-5zM1477,510.5l4,6.5 13.5,8-5-7.5zM1304.5,536l2.5,2.5 4.5-3.5-2.5-2.5zM1368,502.5l3,3.5 6.5-1.5-3-3.5zM1396,498l3,3.5 8,0-3.5-4zM1403.5,497.5l3.5,4 8,0-3.5-4zM1346.5,514l3,3 5.5-2-2.5-3zM1358.5,509.5l2.5,3.5 6.5-2-3-3.5zM1407,501.5l3,4 8,.5-3-4.5zM1415,501.5l3,4.5 9,1-3.5-4.5zM1423.5,502.5l3.5,4.5 9,1.5-3.5-4.5zM1257,599.5l2,1.5 3-4-2.5-2zM1436,508.5l3.5,5 9.5,2.5-3.5-5zM1445.5,511l3.5,5 10.5,3.5-4-5.5zM1274.5,580.5l2,2 3.5-3.5-2.5-2.5zM1290.5,567l2.5,2.5 3.5-3.5-2-2.5zM1474.5,531l5,7 13,8-5-8zM1317.5,548.5l2.5,2.5 4.5-3-2.5-2.5zM1376,521.5l3,3.5 7-1.5-3-3.5zM1457,527l4,6 11,5-4.5-6.5zM1284.5,583l2.5,2.5 3.5-4-2.5-2zM1299,568l2.5,2.5 4-3.5-2.5-2.5zM1315.5,554.5l2.5,2.5 4.5-3-2.5-3zM1366.5,528l3,3.5 6.5-1.5-3-3.5zM1498.5,555l6.5,9.5 9,8.5 5.5,5.5 6.5,6.5-5.5-8-4.5-7-9.5-8.5zM1363.5,533l3,3.5 6-1.5-3-3.5zM1389,527.5l3,3.5 7-.5-3-4zM1366.5,536.5l3,3.5 6-1.5-3-3.5zM1385.5,532l3,4 6.5-1-3-4zM1303,579l2.5,2.5 3.5-3.5-2.5-2.5zM1363.5,541.5l3,3.5 6-1.5-3-3.5zM1474.5,552.5l5,7.5 13.5,9-6-8.5zM1305.5,581.5l2.5,2.5 4-3.5-3-2.5zM1330.5,562l2.5,3 5-3-3-3zM1335,559l3,3 4.5-2.5-2.5-3zM1361,547l2.5,3.5 6-2-3-3.5zM1378.5,542l3,3.5 6.5-1-3-4zM1413,539l3.5,4.5 8,1-3.5-5zM1438,542.5l3.5,5.5 9.5,3-4-6zM1509.5,583l4.5,6.5 1.5,3-.5,.5 1.5-3.5-2-1.5zM1353,554.5l2.5,3 5.5-2-3-3zM1424.5,544.5l3.5,4.5 8.5,2-4-5.5zM1499.5,578.5l7.5,11.5 11,11 3.5,3.5 1.5,0 .5,0 .5,0-1.5-2.5-3-4.5-11.5-11zM1299.5,597l2,2 4-3.5-2.5-2zM1345.5,562.5l2.5,3 5.5-2.5-3-3zM1366.5,553.5l3,3.5 6-1.5-3-3.5zM1428,549l3.5,5 9,2-4-5zM1490.5,576.5l7,10 8.5,7.5 5,5 1.5,1 0-1 0-.5-1-1.5-4.5-7-8.5-7.5zM1507,590l4.5,7 1,1.5 0,.5 0,1 1-3.5-1.5-1.5zM1415.5,552l3.5,4.5 8,1-3.5-5zM1440.5,556l4,5.5 9.5,3.5-4.5-6zM1332,579l3,3 4.5-3-3-2.5zM1336.5,576.5l3,2.5 4.5-2.5-3-3zM1330.5,585l2.5,2.5 4.5-2.5-2.5-3zM1373,569l3,4 5.5-1.5-3-4zM1447.5,576l4.5,6 10,4.5-4.5-7zM1338.5,593.5l2.5,3 4.5-2.5-2.5-3zM1343,591l2.5,3 5-2.5-3-3.5zM1391,574l3,4 6.5-.5-3-4zM1418,573.5l4,5 7.5,1.5-3.5-5.5zM1368,588.5l3,3.5 5.5-2-3-3.5zM1411,582l3.5,4.5 7,1-3.5-5zM1371,592l3,3.5 5.5-1.5-3-4zM1364,599l2.5,3.5 5.5-2-3-3.5zM1366.5,602.5l3,2 5.5-.5-3-3.5zM1388.5,596.5l3.5,4 6-.5-3.5-4z"/>
<path fill="#1ba7ff" d="M596,603l3-3.5-5.5-1.5-3.5,4zM615.5,596l2.5-3.5-5-2-3,3.5zM538.5,591l4-5.5-8.5,2.5-4.5,6zM637,602.5l2.5-3-4.5-3-2.5,3zM628,597l2.5-3-4.5-2.5-3,3.5zM591,584.5l3-4-6-1-3,4zM616,587l3-3-5-2-3,3zM519.5,589l4.5-6.5-10,4.5-5,7.5zM654.5,604.5l2.5-1.5-4-3.5-2.5,3zM638,594l2.5-3-4.5-3-2.5,3zM608.5,580l3-3.5-5.5-2-3,4zM524,582.5l4.5-6-10,4-4.5,6.5zM502.5,593.5l5.5-8-12,7.5-6.5,9zM546,571.5l3.5-5-8,2-4,5zM565,565l3.5-4.5-7.5,.5-3.5,4.5zM501.5,585l5.5-8-12.5,7.5-6,9zM557,557l3.5-4.5-8,.5-3.5,5zM522,565.5l4.5-6-10,4-5,6.5zM663.5,589l2.5-2.5-4-3-2.5,2.5zM526.5,559.5l4-5.5-9.5,3.5-4.5,6zM662,583.5l2.5-3-4-3-2.5,2.5zM631,562.5l2.5-3-5-2.5-3,3.5zM510,562l5-6.5-11.5,5.5-5,7.5zM664.5,580.5l2.5-2.5-4-3-2.5,2.5zM588,545l3-4-6.5-1-3,4zM476.5,580l6.5-10-8,6-9,8.5-4.5,6.5-5.5,8.5 6-6.5 5.5-5zM671,581.5l2.5-2.5-4-3.5-2.5,2.5zM615.5,547.5l2.5-3.5-5.5-2-3,3.5zM555.5,540l3-4.5-8,1-3.5,5zM496.5,560.5l5-7-12.5,7.5-6,9zM501.5,553.5l5-7-12.5,6.5-5,8zM700,603.5l2-2.5-3-4-2.5,2.5zM545.5,533l4-4.5-9,1.5-3.5,5zM517.5,541.5l4-6-10.5,4.5-4.5,6.5zM480.5,562.5l5.5-8.5-7,5.5-8,6.5-8,11.5 9.5-8.5zM639.5,545.5l2.5-3-5-3-2.5,3zM580.5,527l3-4-7.5-.5-3,4.5zM486,554l5.5-8-14,10-6.5,10 8-6.5zM525.5,530l4-5.5-10.5,3.5-4,5.5zM624,529l3-3-6-2-2.5,3zM593.5,520.5l3-3.5-7-1.5-3,4zM586.5,519.5l3-4-7-.5-3,3.5zM689.5,571l2-2-3.5-4-2.5,2.5zM657,543l2.5-2.5-4.5-3.5-2.5,3zM676.5,554l2.5-2.5-4-3.5-2.5,2.5zM713.5,591l2.5-2-3-4-2.5,2zM710.5,587l2.5-2-3-4-2.5,2zM675,548l2.5-2.5-4-3.5-2.5,2.5zM662,537.5l3-2.5-4.5-3-3,2.5zM719,593.5l2-2-3-4.5-2,2zM703.5,572.5l2-2-3-4-2.5,2zM660.5,532l2.5-2.5-5-3.5-2.5,2.5zM688,551l2.5-2.5-4-4-2.5,2.5zM723.5,589.5l2-1.5-3-4.5-2,2zM486.5,518.5l4.5-7-14,8.5-5,8.5zM663.5,521l2.5-2.5-4.5-3.5-3,2.5zM554,490.5l3.5-4.5-9,1.5-3.5,4.5zM515,500l3.5-5.5-11,4.5-4,6zM491,511.5l4.5-7-13.5,8-5,7.5zM738.5,603.5l2-1.5-2.5-4.5-2,1.5zM716,568.5l2.5-1.5-3.5-4.5-2,2zM699,548l2.5-2-3.5-4-2.5,2zM656.5,511.5l2.5-2.5-5-3-2.5,2.5zM623,495l3-3-6.5-2-2.5,3zM715,562.5l2.5-2-3-4-2.5,2zM511.5,493l3.5-5.5-11.5,4.5-4,6.5zM588,478.5l3-3.5-8-.5-3,3.5zM572,477.5l3-3.5-8-.5-3.5,4.5zM706.5,542l2.5-2-4-4.5-2.5,2zM664.5,504l2.5-2.5-5-3.5-2.5,2.5zM734,574.5l2.5-2-3-4.5-2.5,2zM659.5,492l2.5-2.5-5-3.5-3,3zM529.5,467l3.5-5-11,3-3.5,5zM467,497l4.5-8-16,12.5-6,9.5 9-8zM760.5,604.5l2,0-2-4.5-2,1.5zM636.5,471.5l3-2.5-6.5-3-2.5,3zM718.5,532l2.5-2-3.5-4.5-2.5,2zM657,477.5l2.5-2.5-5.5-3-2.5,2.5zM758,589l2-1.5-2.5-5-2,2zM702,508.5l2.5-2-4-4-2.5,2zM465.5,484.5l4.5-7.5-16,12-5.5,9.5 9-7.5zM651,466l2.5-2.5-5.5-3-3,2.5zM618.5,453l3-3-7-2-3,3zM769,600l2-1.5-2-4.5-2.5,1.5zM750,562.5l2-1.5-2.5-5-2.5,2zM707,504.5l2.5-2-4-4.5-2.5,2.5zM488.5,462l3.5-6-13.5,7.5-4,6.5zM759.5,575l2.5-1.5-2.5-5-2.5,1.5zM463.5,473l4.5-7.5-16.5,12-5,9 9-7.5zM759.5,568.5l2-1.5-2.5-4.5-2,1.5zM468,465.5l4-6.5-15.5,10.5-5,8zM683.5,470l2.5-2.5-5-4-2.5,2.5zM472,459l4-7-15,10-4.5,7.5zM768.5,575l2-1.5-2-4.5-2.5,1.5zM766,570.5l2.5-1.5-2.5-5-2,1.5zM594.5,428.5l3-3.5-8.5-1-3,3.5zM586,427.5l3-3.5-9-1-3,4zM589,424l3-4-9-.5-3,3.5zM465,455l4-7-16,11-4.5,8zM728.5,495l2.5-2-4-4.5-2.5,2zM567.5,415l3-4-10,.5-3,4zM775,564.5l2-1.5-2.5-4.5-2,1zM684,444l3-2-5.5-4-3,2.5zM592,408.5l3-3.5-9-.5-3,3.5zM583,408l3-3.5-9.5-1-3,4zM774.5,552l2.5-1.5-2.5-5-2.5,1.5zM736,489.5l2.5-2-4-4.5-2.5,2zM586,404.5l3-4-10-.5-2.5,3.5zM689.5,439.5l3-2.5-5.5-4-3,2.5zM631.5,409.5l2.5-3-7.5-2.5-3,3zM729.5,472l2.5-2-4-4.5-2.5,2zM707.5,449.5l3-2-5-4.5-3,2.5zM681,429.5l3-2.5-6-4-3,2.5zM626.5,404l3-3-8.5-2-3,3zM582,396.5l3-3.5-10-.5-2.5,3.5zM490,412.5l3-5.5-14,6.5-3,5.5zM803.5,602.5l2-1-2-5-2,1zM768.5,523l2.5-1.5-3-5-2.5,1.5zM715,452l2.5-2-4.5-4.5-2.5,2zM710.5,447.5l2.5-2-5-4.5-2.5,2zM612.5,397l3-3.5-8.5-1.5-3,3zM594.5,394l3-3.5-9.5-1-3,3.5zM717.5,450l3-2-5-4.5-2.5,2zM809,604.5l2,0-1.5-5-2,1zM804,590.5l2-1.5-2-5-2,1.5zM783.5,540l2-1.5-2.5-5-2,1.5zM757.5,488.5l2.5-1.5-3-5-2.5,2zM638,392l3-2.5-8-3-3,3zM459,412.5l3-6.5-16.5,11-3.5,7zM641,389.5l3-3-8-3-3,3zM518.5,383.5l3-4.5-13,3.5-3,4.5zM505.5,387l3-4.5-14,4.5-3,5zM745,461l2.5-2-4-4.5-2.5,1.5zM719,433l2.5-2-4.5-5-3,2.5zM508.5,382.5l2.5-5-13.5,4.5-3,5zM735.5,445l2.5-2-4.5-5-2.5,2zM689,405l3-2.5-6.5-4-3,2.5zM572,369.5l2.5-3.5-11,0-3,4zM524.5,374.5l2.5-4.5-13,3-3,4.5zM483.5,387.5l2.5-5.5-14.5,7-3,5.5zM452.5,404l3-6.5-17,11.5-3.5,7zM816,589.5l2-1-2-5-2,1zM779.5,502.5l2-1.5-2.5-5-2.5,1.5zM738,443l2.5-2-4-4.5-3,1.5zM714.5,419.5l2.5-2-5-4.5-3,2zM679,394.5l3-2.5-7-3.5-3,2.5zM781.5,501l2.5-1-2.5-5.5-2.5,1.5zM694.5,400l3-2-6-4-3,2zM542.5,364l3-4-12.5,1.5-3,4.5zM807.5,551.5l2-1-2-5.5-2,1.5zM639.5,369.5l3-3-9-3-3,3zM591.5,359.5l3-3.5-11-.5-3,3.5zM786.5,498.5l2.5-1.5-3-5-2.5,1zM572,355l3-4-11.5,.5-3,3.5zM509,363l2.5-4.5-14,4-3,5zM807.5,538.5l2.5-1-2-5-2.5,1zM645.5,363.5l3-3-9-2.5-3,3zM497.5,362.5l2.5-4.5-14.5,5-3,5zM755.5,439l2.5-1.5-4-5.5-2.5,2zM566,347.5l3-3.5-12.5,0-2.5,4zM818,546l2.5-1.5-2-5-2.5,1zM810,524.5l2.5-1-2.5-5-2,1zM805.5,514l2.5-1-2.5-5.5-2,1.5zM772,451l2.5-1.5-3.5-5-2.5,1.5zM752.5,425.5l3-2-4.5-5-2.5,2zM533.5,343l2.5-4.5-13.5,2.5-3,4zM490.5,353l2.5-4.5-15,5.5-2.5,5zM475.5,359l2.5-5-16,7.5-2.5,5zM758,422l3-1.5-4.5-5.5-2.5,2zM699,369l3-2-7-4.5-3,2.5zM692,365l3-2.5-7-4-3.5,2.5zM843,604.5l2,0-1.5-5-2,1zM821,532l2-1-2-5.5-2,1zM636,338l3-3-10-3-3,3.5zM541.5,330.5l3-4-14,2-3,4zM828.5,547l2-1-1.5-5.5-2.5,1zM815,509.5l2-1-2-5.5-2.5,1zM658,341l3-3-9-3-3,2.5zM595.5,326.5l3-3-12-1-3,3.5zM530.5,328.5l2.5-4-14.5,2.5-2.5,4zM837,567l2-1-1.5-5-2,1zM800,470.5l2.5-1.5-2.5-5-2.5,1zM748.5,396.5l3-2-5-5-3,1.5zM661,338l3.5-2.5-9.5-3.5-3,3zM488,335l2-4.5-16,5.5-2,5zM378,411.5l3.5-10-8.5,11-4.5,5.5 2,2.5 .5,0 2.5-3.5zM840.5,571.5l2.5-1-1.5-5.5-2.5,1zM711.5,360l3-2-7-4.5-3,2zM474,336l2.5-5-16,7-16,8-2.5,5.5 16.5-8.5zM412,372l2.5-6.5-14,12-15.5,15.5-3.5,8.5 8.5-9 8-7.5zM787,435.5l2.5-1.5-3.5-5.5-2.5,1.5zM779.5,424.5l3-1.5-4-5.5-2.5,1.5zM566.5,314.5l2.5-3.5-14,.5-2.5,3.5zM847.5,580.5l2-1-1-5.5-2.5,1zM838.5,548l2.5-.5-2-5.5-2,1zM828,516l2.5-1-2-5.5-2.5,1zM796,445l2.5-1.5-3-5.5-2.5,1.5zM778.5,417.5l3-1.5-4-5.5-2.5,2zM775,412.5l2.5-2-4-5-3,1.5zM526,314.5l2.5-4-15.5,2.5-2.5,4.5zM836,531l2-1-2-5.5-2,1zM572,307.5l3-4-14.5,.5-2.5,3.5zM497,317l2.5-4.5-16.5,5-2,4.5zM391,377.5l2-7-14.5,15-8.5,9.5-9,12-5,12 10.5-14 8.5-11 8.5-9zM855.5,594.5l2-1-1.5-5-2,.5zM810,459l2.5-1.5-3-5.5-2.5,1zM798,436.5l2.5-1-3-5.5-2.5,1zM694.5,333l3-2-8-4.5-3.5,2.5zM531,306.5l2.5-4-15.5,2-2.5,4.5zM809.5,452l2.5-1.5-2.5-5.5-3,1.5zM850,555.5l2.5-1-1.5-5.5-2.5,1zM844,533.5l2-1-1.5-5-2,.5zM743,357.5l3-2-6-5-3.5,2zM853.5,560l2.5-1-1.5-5.5-2,1zM833.5,494l2.5-1-2-5.5-2.5,1zM825,472l2-1-2-6-2.5,1.5zM522.5,296.5l2.5-4-16.5,3-2,4zM866.5,604.5l2,0-1-3-2,.5zM864.5,596.5l2-.5-1-5.5-2,1zM845,521l2.5-1-2-5.5-2,1zM817,448.5l3-1.5-3-5.5-2.5,1zM525,292.5l2.5-4-16.5,3-2.5,4zM429,326l1.5-5.5-13.5,8.5-14,9.5-1.5,6 14-10zM856.5,553l2-1-1.5-5.5-2,1zM719,326.5l3-2.5-7.5-4.5-3.5,2zM702.5,317l3.5-2.5-8.5-4.5-3.5,2.5zM834.5,474.5l2.5-1-2.5-6-2.5,1zM822.5,446l2.5-1-2.5-6-3,1.5zM811,423l2.5-1-3-6-2.5,1.5zM546.5,283l2.5-4-16.5,1.5-2.5,4zM343.5,398.5l3.5-10.5-5,7-2.5,4.5-1.5,1.5 2.5,2 .5-.5zM870.5,594.5l1.5-.5-1-5.5-2,.5zM834.5,467.5l2.5-1-2-5.5-2.5,1zM822.5,439l2.5-1-3-6-2.5,1.5zM700.5,308l3.5-2.5-9-4.5-3.5,2.5zM532.5,280.5l2-3.5-17,2-2.5,4zM873,599l2-.5-1-5.5-2,1zM871,588.5l2-1-1-5-2,.5zM860,539.5l2-1-1.5-5.5-2,1zM825,438l2.5-1-2.5-6-3,1zM822,432l3-1-3-5.5-2.5,1zM767.5,352l3.5-1.5-5.5-5.5-3.5,1.5zM349.5,378.5l2.5-8-9,11.5-4.5,7-5.5,8.5 2.5,2 4.5-7.5zM853,505l2-.5-1.5-6-2.5,1zM847.5,488.5l2.5-1-2-6-2.5,1zM841.5,471.5l2.5-1-2-6-2.5,1zM655.5,282.5l3.5-2.5-12.5-3.5-3.5,3zM436.5,301l1.5-5-14,7-14,8.5-1,5 14-8.5zM409,316.5l1-5-13.5,9.5-13.5,11-1,6 13.5-11.5zM352,370.5l1.5-8-8,10.5-9.5,13.5-5,8-3,5-1,2 2.5,2 .5-1 3-5 5.5-8.5 4.5-7zM728,310.5l4-2-8.5-5-3.5,2zM589.5,268.5l3-3.5-16.5-.5-2.5,3.5zM876,581l2-1-1-5-2,.5zM859,509l2.5-.5-2-6-2,1zM844.5,463.5l2.5-1-2-5.5-2.5,1zM796.5,370.5l3-1.5-4.5-6-3,1.5zM355.5,355l1-7-7.5,9.5-8,10.5-9,13.5-5.5,8-5.5,10.5 1.5,2.5 .5,0 6-10.5 10-15 8.5-12zM851,474l2.5-1-2-5.5-2.5,1zM718.5,296l3.5-2-9-5-4,2.5zM821,397l3-1-3.5-6-3,1zM789,349.5l3-1.5-5-5.5-3,1.5zM564.5,257l3-3.5-18,.5-2.5,4zM843,437.5l2.5-1-2-6-3,1zM833,414l2.5-1.5-2.5-6-3,1.5zM824,396l2.5-1.5-3-6-3,1.5zM813.5,378l3-1.5-4-6-3,1.5zM805.5,366l3-1.5-4-6-3,1.5zM750,308l4-2-8-5.5-3.5,2zM414,291.5l1-4.5-13.5,8-14,9.5-.5,5.5 13.5-10zM886,589l2-.5-1-5.5-2,.5zM861.5,483l2.5-1-1.5-5.5-2.5,1zM854.5,460l2.5-1-2-6-2.5,1zM729.5,289.5l4-2-9.5-5-3.5,2zM664,262.5l4-3-14-3.5-3.5,3zM387.5,304.5l.5-5-13.5,11-14,13-1,5.5 14.5-13zM883,561l2-.5-1-5.5-2.5,.5zM874.5,522l2-.5-1-5.5-2.5,.5zM873,516.5l2.5-.5-1.5-6-2.5,1zM848.5,435.5l2.5-1-2.5-6-2.5,1zM885,560.5l2-.5-1-5.5-2,.5zM855.5,446.5l2.5-1-2-6-3,1zM848.5,428.5l3-1-2.5-6-2.5,1zM835.5,398.5l3-1-3-6-3,1zM822.5,374l3-1-3.5-6-3,1zM797,337.5l3.5-1-5-6.5-3.5,1.5zM658,253l3.5-2.5-14.5-3.5-4,3zM388.5,294.5l.5-5-14,10.5-13.5,12-.5,5.5 14-12.5zM888,565.5l2-.5-1-5.5-2,.5zM805.5,342.5l3-1.5-4.5-6-3.5,1.5zM597,240.5l3-3.5-18.5-1-3,3.5zM480.5,250l1.5-4.5-34.5,10.5-1,4zM860.5,444.5l2.5-1-2-6-2.5,1zM389.5,285l0-5-14,10-14,11.5 0,5.5 14-12zM889,547.5l2-.5-1-5.5-2,.5zM879.5,502l2-.5-1-5.5-2.5,.5zM875,485l2.5-1-1.5-5.5-2.5,.5zM791.5,315l3.5-1.5-5.5-6.5-4,2zM389.5,280l0-4.5-14,10-14,11 0,5 14-11.5zM900,602l2-.5-1-5.5-2,.5zM895,569l2-.5-1-5.5-2,.5zM891,547l2-.5-1-6-2,1zM587.5,229l3-3-20-.5-3,3.5zM547,229.5l2-3.5-21.5,1.5-2,3.5zM361.5,296.5l0-5-14,13-14,15.5 0,6 14-16zM881,489.5l2.5-1-1.5-6-2.5,1zM866,436l3-1-2-6-3,1zM793,305.5l3.5-1.5-6-6-4,1.5zM628.5,229.5l3.5-3.5-18.5-2-3.5,3zM418.5,255.5l0-4.5-29,15.5 0,4.5zM333.5,320l0-5.5-14.5,19-7.5,11.5-8.5,14-1,8.5 9-15.5 8-12 7.5-10.5zM302,367.5l1-8.5-8.5,16.5 3,1.5zM877.5,465l2.5-.5-1.5-6-2.5,.5zM847.5,380l3-1-3-6.5-3,1zM732,256.5l4-2.5-11-5.5-4,2.5zM361,287l0-5-14,12.5-14,14.5 .5,5.5 14-15zM333.5,314.5l-.5-5.5-14,18-7.5,11-8,13-.5,8 8.5-14 7.5-11.5zM883,476l2.5-.5-1.5-6-2.5,1zM875,446.5l2.5-1-1.5-6-2.5,1zM858.5,397.5l2.5-1-2.5-6-2.5,1zM756,265.5l4.5-2-9.5-6-4.5,2zM450.5,235l.5-4-32.5,12 0,4zM888,487l2.5-.5-1.5-6-2,1zM861,396.5l3-1-2.5-6-3,1zM837,346l3.5-1-4-6.5-3.5,1zM829,333l3.5-1-4-6.5-3.5,1zM885,463l2.5-.5-1.5-6-2.5,.5zM832.5,332l3.5-1.5-4-6.5-3.5,1.5zM890,474l2.5-.5-1.5-6-2,.5zM836,330.5l3.5-1-4-6.5-3.5,1zM418,234.5l-.5-4-30.5,14.5 .5,4.5zM387.5,249.5l-.5-4.5-15,9-14,10 1,4.5 14-10zM894,479.5l2-.5-1-6-2.5,.5zM876.5,413l2.5-1-2-6.5-2.5,1zM387,245l-1-4-15,9-14,10 1,4 14-10zM915.5,603.5l2-.5-.5-5.5-2,.5zM913.5,587l2-.5-.5-5.5-2,.5zM839,322l3.5-1.5-4-6.5-4,1zM386,241l-1-4-29.5,18.5 1.5,4.5 14-10zM357,260l-1.5-4.5-14,11.5-13.5,13 1.5,4.5 13.5-13zM882,411l2.5-.5-2-6.5-2.5,1zM812,280.5l4-1.5-6.5-6.5-4,1.5zM385,237l-1-4-30,18.5 1.5,4zM918,592l2-.5-.5-5.5-2,.5zM912.5,547l2,0-.5-6-2,.5zM908.5,518.5l2-.5-1-5.5-2,.5zM906.5,507l2-.5-1-6-2,1zM903,489.5l2.5-.5-1-6-2.5,.5zM884.5,410.5l3-.5-2-6.5-3,.5zM857,339.5l3.5-1-3-6.5-3.5,1zM270.5,366.5l0-9-5,12 0,.5 3,1 .5-1.5zM907.5,500.5l2.5-.5-1-5.5-2.5,.5zM872,365l3.5-1-2.5-6.5-3.5,1zM857.5,332l3.5-1-3.5-7-4,1zM799.5,257.5l4.5-1.5-8-7-4.5,2zM352.5,247.5l-1.5-4-14,11-13.5,12.5 2,4.5 13-13zM325.5,271.5l-2-4.5-13,14.5-13,17.5 1.5,4.5 13-17.5zM909,494.5l2-.5-1-6-2,.5zM693.5,201l5-2.5-20-4.5-4.5,2.5zM414,211l-1-4-33.5,14.5 1.5,3.5zM323.5,267l-2-4-12.5,14.5-13,16.5 1.5,5 13-17.5zM270,349.5l-.5-7-4,9.5 3,1.5zM912,499.5l2.5,0-1-6-2.5,.5zM747,215l5-2-14.5-6-5,2zM349,239.5l-2-3.5-14,11-13.5,12 2,4 13.5-12.5zM269.5,342.5l-1-6.5-7,17 3,1.5 1-2.5zM910.5,475.5l2.5-.5-1.5-6-2,.5zM902,433l2.5-.5-1.5-6.5-2.5,.5zM879,356l3.5-1-2.5-6.5-3.5,.5zM838.5,280.5l4.5-1-5.5-7-4.5,1zM805.5,246l5-1.5-8.5-7-5,1.5zM797,239l5-1.5-9.5-7-5,2zM928.5,595.5l1.5-.5-.5-5.5-1.5,.5zM757.5,211l5.5-2.5-14.5-6-5.5,2zM410,199.5l-1.5-3.5-35,14.5 2,3.5zM317.5,255.5l-2.5-4-12.5,14-12,16 2,4 12.5-16zM927.5,567.5l2-.5-.5-5.5-2,0zM924.5,539l2-.5-1-5.5-2,0zM890.5,367.5l3-.5-2-7-3.5,1zM775.5,215l5.5-1.5-12.5-7-5.5,2zM373.5,210.5l-2.5-4-31,18.5 2.5,3.5zM315,251.5l-2.5-3.5-12.5,13.5-12,16 2.5,4 12-16zM893.5,367l3-1-2-6.5-3,.5zM878.5,326.5l3.5-1-3-7-3.5,1zM872,312.5l4-1-3.5-7-4,1zM860.5,291.5l4-1-4-7.5-4,1.5zM834.5,255.5l4.5-1-6.5-7.5-5,1.5zM738,194l6-2.5-18.5-5.5-5.5,2zM371,206.5l-2.5-3.5-31,18.5 2.5,3.5zM340,225l-2.5-3.5-14.5,10.5-13,12.5 2.5,3.5 13.5-12.5zM312.5,248l-2.5-3.5-12.5,13.5-12,15.5 2.5,4 12-16zM934.5,600l2-.5-.5-5.5-2,.5zM917,455.5l2.5-.5-1-6-2.5,.5zM368.5,203l-2.5-3.5-31.5,18.5 3,3.5zM337.5,221.5l-3-3.5-14,11-13.5,12 3,3.5 13-12.5zM262.5,315l-2-4.5-6,13.5-6.5,17-4,11 0,1 3,1.5 0-1 2-6 4-10 3-8.5zM792.5,209.5l6-1.5-12.5-7-6,1.5zM446,174l-1.5-3.5-23.5,5 2,3.5zM937.5,588l2,0-.5-5.5-2,0zM935.5,566l2-.5-.5-5.5-2,.5zM933,543l2.5,0-1-6-2,.5zM786,201l6-2-14-7-6,2zM363,196l-3.5-3-16.5,8.5-15,10 3,3 15.5-9.5zM304,237.5l-3-3.5-12.5,13.5-11,15.5 2.5,3.5 12-15.5zM280,266.5l-2.5-3.5-11,17.5-11,21.5 2.5,4 5.5-11.5 5.5-10.5zM938,571l2,0-.5-5.5-2,0zM931.5,508l2.5,0-1-6-2,0zM906,364l3-.5-1.5-6.5-3.5,.5zM853.5,250.5l5-1-6-7.5-5,1.5zM314,222l-4-3-12.5,12-12,13.5 3,3 12.5-13.5zM936.5,531l2-.5-.5-5.5-2.5,.5zM501.5,155l0-3.5-32,3.5-30.5,4.5 2,3.5 29.5-4.5zM356,189.5l-3.5-3-17,8.5-15,10 3.5,3 15.5-9.5zM324,208l-3.5-3-14,11 3.5,3zM907,342.5l3-.5-2-7-3.5,.5zM873.5,263.5l4.5-1-4.5-7.5-5,1zM271,256.5l-3.5-3.5-10,17.5 3,3zM240,320.5l-2.5-4-5.5,17-3,10.5-.5,1.5 3.5,1 .5-2.5 1.5-5.5 3-9.5zM945.5,592.5l2,0-.5-5.5-2,0zM941.5,542l2-.5-.5-5.5-2,0zM937.5,501l2.5,0-1-6-2,.5zM935.5,483.5l2.5-.5-.5-6-2.5,.5zM930,440.5l2.5-.5-.5-6-3,0zM893,292l4-.5-3-7.5-4.5,1zM278.5,238l-4-2.5-10.5,14.5-10,17.5 3.5,3 10-17.5zM942,524.5l2-.5-.5-6-2,.5zM923,382l3-.5-1.5-6.5-3,.5zM915.5,348.5l3-.5-1.5-7-3.5,.5zM946,547l2,0-.5-6-2,.5zM939,470.5l2.5-.5-1-6-2,.5zM250.5,264.5l-3.5-3-9,19.5 3.5,3zM941.5,470l2.5,0-1-6-2.5,0zM931.5,394.5l2.5-.5-1-6.5-3,.5zM923.5,354l3.5-.5-1.5-6.5-3.5,.5zM922,347.5l3.5-.5-1.5-7-3.5,.5zM920.5,340.5l3.5-.5-2-7-3.5,.5zM851,205l6.5-1.5-9-8-6.5,1.5zM374,158.5l-5-3.5-21.5,7.5 5.5,3zM277,216.5l-4.5-2.5-10.5,13.5 4,2.5zM229,305l-3-3-4.5,14.5-2,8.5-2.5,10-.5,2.5 3.5,.5 4.5-17.5zM941,445.5l2.5-.5-.5-6.5-2.5,.5zM912,297l4-1-2.5-7-4,.5zM900.5,267l4.5-1-3.5-7.5-4.5,.5zM848.5,195.5l7-1-10-8.5-7,1.5zM949,500l2-.5-.5-6-2,.5zM901.5,258.5l5-1-3.5-7.5-5,.5zM884,227l5.5-1-5.5-8-6,1zM759,147l9-2-14.5-3.5-15.5-3.5-9,2.5 15.5,3.5zM267.5,211.5l-5-2.5-10,13.5 4.5,2.5zM231,275.5l-4-2.5-3.5,11-4,12 3.5,3 4-12.5zM956.5,586l2-.5-.5-5.5-2,0zM929,332l3.5-.5-1.5-7-3.5,.5zM920,295.5l4-.5-2-7.5-4.5,.5zM906.5,257.5l4.5-.5-3-8-5,1zM811.5,160.5l9-2-19.5-8-9,2zM792,152.5l9-2-11-4-12.5-3.5-9.5,2 12.5,3.5zM383,142l-6.5-3-26,7.5 6.5,2.5zM252.5,222.5l-5-2-8.5,14.5 4.5,2.5zM958.5,591l2,0 0-5.5-2,0zM944.5,406l3,0-1-6.5-3,0zM931,324.5l4-.5-1.5-7.5-4,.5zM268,194.5l-6-2-10.5,12 5.5,2.5zM257,207l-5.5-2.5-9,13.5 5,2.5zM216,293.5l-3.5-2.5-3.5,13.5-3.5,16 3,3 4-16.5zM957,522.5l2,0 0-6-2.5,.5zM955.5,499l2.5,0-.5-6-2.5,0zM953,463l2.5-.5-.5-6-2.5,0zM947.5,406l2.5-.5-.5-6.5-3,.5zM946.5,399.5l3-.5-1-6.5-2.5,0zM946,392.5l2.5,0-.5-6.5-3,0zM614.5,118.5l6-3.5-66.5-1-1.5,3.5zM262,192.5l-6.5-2-9.5,12 5.5,2zM226.5,249.5l-4.5-2-6.5,19 4,2zM963,602l2,0-.5-6-2,.5zM962,579.5l2,0-.5-5.5-1.5,0zM961.5,563l2-.5-.5-5.5-2,0zM958.5,510.5l2,0 0-6-2.5,.5zM950,405.5l3,0-.5-6.5-3,0zM768.5,131l11.5-2-18-4-20.5-3.5-11.5,2.5 20.5,3.5zM730,124l11.5-2.5-23.5-3-27-3-10,3 26,2.5zM681,118.5l10-3-30.5-2-33.5-2-6.5,3.5 31.5,1.5zM255.5,190.5l-6.5-2-9,12.5 6,1.5zM229,231l-5-2-6.5,16.5 4.5,2zM964.5,596l2,0 0-5.5-2,0zM964.5,590.5l2,0-.5-5.5-2,0zM961.5,522.5l2-.5-.5-5.5-2,0zM959,480.5l2.5,0-.5-6-2.5,0zM947.5,358.5l3.5-.5-1-7-3.5,.5zM930.5,271l4.5-.5-2-8-4.5,.5zM326.5,138.5l-9.5-2.5-21,8.5 9,2zM287.5,156l-8.5-2-14,10 7.5,2zM217.5,245.5l-5-1.5-6,18.5 4.5,2zM964.5,545.5l2-.5 0-5.5-2,0zM955,398.5l3,0-.5-7-3,.5zM951.5,365l3.5-.5-1-6.5-3,0zM925.5,238.5l5-.5-3-8-5.5,.5zM922,230.5l5.5-.5-3-8.5-6,.5zM871.5,161.5l9.5-1-12.5-9.5-10,1.5zM377,120.5l-10-3-18.5,4-16,3.5 10.5,3 16.5-4zM226,212.5l-6-1.5-6.5,15 5.5,1.5zM219,227.5l-5.5-1.5-6,16.5 5,1.5zM206.5,262.5l-4-1.5-5.5,21.5 4,2zM201,284.5l-4-2-2.5,13-2.5,15 3.5,2 3-15zM195.5,312.5l-3.5-2-1.5,8.5-1,10-.5,2.5 0,1 3.5,.5 0-1.5 1.5-10zM962,456l2.5-.5 0-6-2.5,0zM960.5,430.5l2.5,0-.5-6.5-2.5,.5zM949.5,322.5l3.5-.5-1-7-3.5,0zM941.5,277.5l4.5,0-2-8-4.5,.5zM714.5,110l13.5-3-16.5-1.5-18-1.5-20-1-21-1-9.5,3 38,2 17,1.5zM963.5,437l2.5-.5 0-6-3,0zM957,357.5l3.5,0-.5-7-3.5,0zM954,329.5l3.5-.5-.5-7-4,0zM947.5,285l4-.5-1.5-7.5-4,.5zM936,237.5l5.5-.5-2.5-8-5.5,.5zM220.5,196l-6.5-1.5-6,14 6,1zM202.5,241l-5-1.5-4.5,18.5 5,1.5zM960,350.5l3-.5-.5-7-3.5,.5zM949,269.5l4.5-.5-1.5-8-5,.5zM743.5,104.5l18-2.5-17.5-2-20-1.5-22-1.5-24.5-1.5-13.5,3.5 22.5,1 21,1.5 19,1.5zM197.5,239.5l-5-1-4,18.5 4.5,1zM193,258l-4.5-1-3.5,21.5 4,1zM972.5,545l2.5,0-.5-6-2,0zM970,467.5l2.5,0 0-6-2.5,0zM968.5,436.5l3,0-.5-6.5-2.5,0zM967.5,417.5l3-.5-.5-6.5-2.5,.5zM948.5,245l5.5-.5-1.5-8-5.5,.5zM294,118.5l-15-2-11.5,4.5-10,4.5 13.5,2 11-4.5zM271,127.5l-13.5-2-15.5,9.5 12,1.5zM201.5,207l-6.5-1-4,15 6,1zM192.5,238.5l-5.5-1-3,18.5 4.5,1zM972,449l2.5,0-.5-6.5-2.5,0zM970.5,423.5l3,0-.5-6.5-2.5,0zM954,244.5l5,0-1.5-8.5-5,.5zM946,211l6.5-.5-2.5-8.5-6.5,.5zM920,156.5l10-.5-7-9.5-11.5,.5zM205.5,179.5l-8-1-4.5,13 7,1zM184,256l-5-1-3,21.5 4.5,1zM975.5,479.5l2,0 0-6-2.5,0zM973.5,423.5l2.5,0 0-6.5-3,0zM963.5,276.5l4.5-.5-1-8-4.5,.5zM947.5,193l7-.5-2.5-9-8,.5zM804.5,97.5l26.5-2-16.5-2.5-20-2-24-2-14-1-15.5-1-14,1.5-12,1.5 28,1.5 24,2 20,2zM182,236.5l-5.5-.5-2.5,18 5,1zM979,550.5l2,0 0-6-2,0zM975.5,410.5l3,0-.5-6.5-2.5,0zM900,115.5l18.5-1-9-5-11.5-5-23,1 14,5zM185.5,190.5l-7.5-.5-2.5,14 6.5,.5zM174,254l-5-.5-1.5,21.5 4.5,.5zM981.5,573l2,0-.5-5.5-2,0zM980.5,515.5l2,0 0-6-2,0zM978.5,417l3,0-.5-6.5-2.5,0zM860.5,94l32.5-1.5-11.5-2.5-15.5-2.5-9-1.5-10.5-1.5-12.5-1-14.5-1-23.5,1-21,1 15.5,1 14,1 12,1.5 11,1 18,2.5zM285.5,93l-33.5-2-9.5,2.5-8,2.5-13,5 25,1.5 16.5-5 10.5-2.5zM169,253.5l-5-.5-1,21.5 4.5,.5zM1842.5,253.5l-4.5-.5-1.5,21.5 4.5,.5zM983.5,590l2,0 0-6-2,.5zM981.5,436l2.5,0 0-6.5-2.5,0zM981.5,423.5l2.5,0 0-6.5-2.5,0zM979.5,335.5l3.5,0-.5-7.5-3.5,.5zM164,253l-5,0-.5,21 4.5,.5zM1838,253l-5,0-1,21 4.5,.5zM985,573l2,0 0-5.5-2,0zM985,509.5l2,0 0-6-2,0zM984,429.5l3,0 0-6-3,0zM984,397l2.5,0 0-6.5-3,0zM976,183l8,0-.5-9.5-8.5,0zM1837,189l-7.5,0-.5,14 6.5,0zM1833.5,234.5l-5.5,0 0,18 5,.5zM1831.5,300l-4,0-.5,16.5 0,5 0,2 3.5,0 .5-2 0-4.5zM986,275.5l4,0 .5-7.5-5,0zM1828,234.5l-5.5,0 .5,18 5,0zM1827.5,274l-4.5,0 0,12 .5,14 4,0 0-14zM989,509.5l2.5,0 0-6-2.5,0zM989.5,417l2.5,0 0-6.5-2.5,0zM991,210l6.5,0 .5-9-6.5,0zM991.5,201l6.5,0 1-9-7.5,0zM1806.5,89.5l-40.5,.5 11,5 7.5,5.5 28-.5zM1822.5,234.5l-5.5,0 1,18.5 5-.5zM1823,274l-4.5,0 .5,12.5 .5,13.5 4,0-.5-14zM1823.5,300l-4,0 0,17 0,2 0,1 4,0 0-1 0-2.5zM991,595.5l2,0 0-5.5-2,0zM991.5,485.5l2.5,0 0-6-2.5,0zM992,436l2.5,0 0-6.5-2.5,0zM993.5,313.5l4,0 .5-7-4-.5zM994.5,275.5l4.5,.5 .5-8-4.5,0zM993,604.5l1.5,0 0-3.5-1.5,0zM993,595.5l1.5,0 .5-5.5-2,0zM994.5,455l2.5,0 0-6.5-2.5,0zM995,417l2.5,0 .5-6.5-3,0zM996,370.5l3,0 0-7-3,0zM1001,244l5.5,0 .5-8.5-5.5,0zM1027.5,124.5l16,.5 5.5-5 7-5.5-19.5-.5zM1051.5,103.5l24.5,.5 7-2.5 8-2.5 10-2.5 11.5-3-33-1-9,2.5-7.5,3zM1783,121l-16.5,.5 9,10.5 14-1zM1804.5,176.5l-8.5,.5 3,13 7.5-.5zM1808.5,203.5l-7,.5 2.5,14.5 6,0zM998,404l3,0 0-6.5-3,0zM1029,145l11.5,.5 8-9.5-13.5-1zM998,515.5l2,0 0-6-2,0zM1023.5,183.5l8,.5 3.5-9-8.5-.5zM1800.5,235.5l-5.5,1 3,18.5 5-1zM1803,254l-5,1 3,21 4-.5zM999,562l2,0 0-6-2,0zM999.5,544.5l2,.5 0-6-2,0zM1000,515.5l2,0 .5-5.5-2.5-.5zM1000.5,498l2,0 .5-6-2.5,0zM1009,314l3.5,0 1-7-4-.5zM1121,106.5l20,2 10.5-2.5 12-2.5 13.5-2 15.5-2-23.5-2-15,2-12.5,2.5-11,2zM1774,166.5l-9,1 6.5,12 8-1zM1779.5,178.5l-8,1 5.5,12.5 7.5-.5zM1795,236.5l-5,1 3.5,18 4.5-.5zM1798,255l-4.5,.5 3,21.5 4.5-1zM1003,573.5l1.5,0 .5-5.5-2-.5zM1022.5,269l4.5,0 2-7.5-5-.5zM1024,261l5,.5 1.5-8-5-.5zM1039.5,203l6.5,.5 4-9-7-.5zM1005,562l2,0 0-5.5-2,0zM1008,474l2.5,0 .5-6-2.5,0zM1032.5,245.5l5,0 2.5-8-5.5-.5zM1177.5,112l15.5,2 24.5-3.5 14-2 15.5-1.5-16-3-15.5,2-14,2-13,2zM1231,104l16,3 16.5-1.5 18-1.5 20-1.5 21-1-11.5-3-23,1-20.5,1.5-19.5,1.5zM1769.5,208l-6.5,1.5 6,15 5.5-1.5zM1779.5,239.5l-5,1 4.5,19 5-1.5zM1788,279.5l-4,1.5 2,12.5 2.5,15 3.5-2-2-14.5zM1006.5,584.5l2,.5 0-6-2,0zM1008.5,522l2,0 .5-6-2.5,0zM1011,462l2.5,0 .5-6-2.5-.5zM1012.5,443l2.5,.5 0-6.5-2.5,0zM1025,307.5l4,.5 1-7.5-4-.5zM1033.5,261.5l5,.5 2-8-5,0zM1784,281l-4.5,1.5 2.5,13 3,15 3.5-2-2.5-15zM1788.5,308.5l-3.5,2 2.5,17 3.5-.5 0-.5zM1013.5,462l2.5,0 .5-6-2.5,0zM1031.5,293l4,.5 1.5-8-4,0zM1011,562.5l2,0 .5-5.5-2,0zM1011.5,545.5l2.5,0 0-6-2,0zM1020.5,405l2.5,.5 1-7-3,0zM1758,227.5l-5,1.5 6.5,16.5 5-2zM1764.5,243.5l-5,2 6.5,18.5 4-1.5zM1012.5,574l2,0 0-5.5-1.5,0zM1014.5,534l2,0 0-5.5-2-.5zM1737.5,200.5l-6,2 8.5,13.5 5.5-2zM1014.5,574l2,0 0-5.5-2,0zM1122,164l9,1 15-8.5-9.5-1.5zM1245,124l10.5,2.5 22.5-3 25.5-2.5-9-3-26,3zM1616,133l-8,3 26,7 8.5-2.5-13-4zM1016.5,568.5l2,0 .5-5.5-2,0zM1019.5,517l2,0 .5-6-2,0zM1020.5,499l2.5,.5 .5-6-2.5-.5zM1022.5,475l2.5,0 .5-6-2.5,0zM1029.5,399.5l3,0 1-6.5-3-.5zM1048,294.5l4,.5 2-7.5-4-.5zM1735,218l-5.5,2 9,15 4.5-2.5zM1764.5,290.5l-3.5,2.5 3.5,14 3.5,16.5 3.5-3.5-3.5-16zM1033.5,393l2.5,.5 1-7-3,0zM1086,217l6,.5 6-8-6-1zM1092,208.5l6,1 7-8-6.5-1.5zM1709.5,194.5l-6,2 11,12.5 5.5-2.5zM1746,251.5l-4,2 7.5,19 4-2zM1761,293l-3.5,3 3.5,13.5 4.5,17 2.5-3-3.5-16.5zM1022,546l2,.5 .5-6-2,0zM1024.5,511.5l2,0 .5-6-2.5,0zM1045.5,339l3.5,.5 1.5-7-3.5-.5zM1052,310.5l4,.5 2-7.5-4-.5zM1134.5,176.5l7.5,1.5 14-8-8.5-2zM1237.5,138l9,2.5 17.5-3 19-3-8.5-2.5-19.5,2.5zM1021.5,586l2,0 .5-5.5-2,0zM1040,387l3,.5 1-6.5-3-.5zM1056,311l3.5,.5 2.5-7.5-4-.5zM1111.5,202.5l6.5,1 9-8-6.5-1.5zM1720,224.5l-5,2.5 10,15 4-2.5zM1024,580.5l2,.5 0-6-1.5,0zM1033,464l2.5,0 .5-6-2.5-.5zM1069.5,282l4,.5 3.5-7.5-4.5-.5zM1127,195.5l7,1.5 10.5-8-7-1.5zM1750.5,301.5l-3,3.5 4.5,15 2.5,9 3,10 2.5-4.5-2.5-9.5-2.5-8.5zM1025,592l2,0 .5-5.5-2,0zM1027,564l2,0 .5-5.5-2,0zM1043,407.5l2.5,.5 1-6.5-2.5-.5zM1046,388l3,.5 1-7-3-.5zM1721,244.5l-4,2.5 9.5,17 3.5-3zM1730,261l-3.5,3 9,20 3.5-3zM1053,368l3,.5 1.5-6.5-3-.5zM1065,319.5l3.5,1 2.5-7.5-4-.5zM1115,222l6,1 7.5-8-6-1zM1122.5,214l6,1 8.5-7.5-6-1.5zM1196.5,167.5l7.5,2 20.5-6.5-7.5-2.5zM1344,140l5.5,3 42-1.5-3.5-3.5zM1032,547.5l2.5,0 .5-5.5-2.5-.5zM1037.5,489l2.5,.5 .5-6-2-.5zM1093.5,261.5l4.5,1 4.5-7.5-4.5-1zM1102.5,246.5l5,1 6-8-5.5-1zM1147,199.5l6,1.5 11.5-7.5-6.5-1.5zM1040.5,483.5l2.5,0 .5-6-2-.5zM1055,389l3,.5 1-6.5-3-.5zM1317.5,149.5l5.5,3 36-3-5-3zM1729.5,290.5l-3,3.5 5,12 5.5,14 2.5-4-5.5-14zM1048,447l2.5,.5 .5-6.5-2.5,0zM1055,402.5l3,.5 1.5-6.5-3-.5zM1118.5,241l5,1 6.5-7.5-5-1.5zM1656.5,204.5l-4,3.5 14,10.5 4-3zM1670.5,215.5l-4,3 13,12 3.5-3zM1691.5,244l-3.5,3 11.5,15.5 3-3.5zM1039.5,560l2,0 .5-5.5-2-.5zM1043.5,520l2,0 .5-5.5-2-.5zM1047,490.5l2,0 1-6-2.5,0zM1063.5,390.5l3,.5 1.5-6.5-3-.5zM1634,201l-3.5,3.5 15,9.5 3.5-3zM1060,423.5l2.5,.5 1-6.5-2.5-.5zM1659.5,225l-3,3.5 13,12 12.5,13.5 3-3.5-12-13.5zM1685,250.5l-3,3.5 12,15.5 11,18 2.5-4-11-17.5zM1707.5,283.5l-2.5,4 6,10.5 5.5,12 2-4.5-5.5-11.5zM1057,455l2.5,.5 1-6.5-2.5-.5zM1196,202.5l5.5,2 14.5-6.5-6-2.5zM1375,163l4,3 32.5-.5-2.5-3.5zM1060.5,449l2.5,.5 1-6-2.5-.5zM1050.5,533l2,0 1-5.5-2-.5zM1062,456l2,.5 1.5-6.5-2.5-.5zM1107.5,305.5l4,1 3.5-7-3.5-1zM1054,521.5l2.5,.5 .5-5.5-2-.5zM1055.5,510l2.5,.5 .5-6-2-.5zM1056.5,504l2,.5 1-6-2,0zM1058,492.5l2.5,.5 1-6-2.5-.5zM1059,486.5l2.5,.5 1-6-2.5-.5zM1104.5,320l3.5,1 3.5-7-4-.5zM1634,228l-2,4 14,10.5 13,12.5 2.5-4-13.5-12zM1661.5,251l-2.5,4 13,14 12.5,16 2-4-12.5-16zM1063.5,475l2.5,.5 1-6-2.5-.5zM1085,381.5l3,.5 2-6.5-3-.5zM1089,368l3,1 2.5-6.5-3-1zM1119,300.5l4,1 4.5-7-4-1zM1144.5,265.5l4.5,1 6.5-7-4.5-1.5zM1055.5,545.5l2,.5 .5-6-2-.5zM1064,487.5l2,.5 1-6-2-.5zM1565,203l-1,3.5 33.5,14.5 1.5-4zM1055,568.5l1.5,.5 1-6-2,0zM1081.5,414.5l3,1 1.5-6.5-3-.5zM1160,261l4.5,1.5 7.5-7-5-1.5zM1167,254l5,1.5 8-6.5-5-1.5zM1597.5,221l-2,4 30,18 2-3.5zM1627.5,239.5l-2,3.5 14,11 13.5,13 2-4.5-13.5-12zM1655,262.5l-2,4.5 13,14 13,17.5 1.5-5-12.5-16.5zM1056,574.5l2,.5 .5-6-2,0zM1073,464.5l2.5,.5 1-6-2.5-.5zM1079.5,434l2.5,.5 1.5-6-2.5-.5zM1119,324l3.5,1 3.5-6.5-3.5-1.5zM1131,303.5l3.5,1.5 5-7-4-1zM1653,267l-1.5,4 13,14.5 13,17.5 1.5-4.5-13-17.5zM1062.5,541l2,.5 1-5.5-2.5-.5zM1094.5,390.5l3,1 2.5-6.5-3-.5zM1144.5,291l4,1.5 5.5-7-4-1zM1254,213.5l5,2.5 15.5-5-4.5-2.5zM1594,228.5l-1,4 29.5,18.5 1.5-4zM1651.5,271l-1.5,4 13,15 13,18 1.5-5-13-17.5zM1259,216l4.5,2.5 16-5-5-2.5zM1292,206l5,3 19-4-4.5-3zM1354.5,196l4,3 23.5-1.5-3.5-3.5zM1561,218l-1,4 31.5,14.5 1.5-4zM1060,592l2,.5 .5-5.5-2-.5zM1193.5,254l4.5,2 9.5-6.5-4.5-2zM1224,235.5l4.5,2 12-6-4.5-2zM1279.5,213.5l4.5,2.5 17.5-4.5-4.5-2.5zM1082.5,467l2.5,.5 1.5-6-2.5-.5zM1228.5,237.5l4.5,2 12.5-5.5-5-2.5zM1590.5,240.5l-.5,4 14.5,9 14,10 1.5-4-14.5-10zM1647,284l-1,4.5 13.5,16 14,19.5 .5-5.5-13.5-19zM1088,455.5l2.5,.5 1.5-6-2.5-.5zM1194,264l4.5,2 8.5-6.5-4.5-2zM1233,239.5l5,2 12-5.5-4.5-2zM1365.5,205.5l3.5,3.5 22.5-1.5-3-3.5zM1436.5,205l2,3.5 23.5,2 23,3.5-1-4-24-3.5zM1079,509l2,1 1-6-2-.5zM1107,401l2.5,1 2.5-6.5-3-1zM1618,268l-1,4.5 14,12 13.5,14 .5-5-13.5-13.5zM1069,583l2,.5 1-5.5-2-.5zM1120,376.5l3,1 2.5-6-3-1zM1282,228.5l4.5,2.5 15-4-4-3zM1525,226.5l.5,4 32.5,12 .5-4.5zM1558.5,238l-.5,4.5 30,15 .5-4.5zM1079,533.5l2,.5 1-6-2-.5zM1091,475.5l2,.5 1.5-6-2-.5zM1272,236l4.5,2.5 14-5-4-2.5zM1286.5,231l4,2.5 15.5-4-4.5-2.5zM1616.5,277l-1,4.5 14,12.5 14,14.5 .5-5-14-14.5zM1644,303.5l-.5,5 14,18 7.5,11 8,12.5-.5-7-7.5-12-7-10.5zM1170,308.5l3.5,1.5 6-6-4-1.5zM1175.5,302.5l4,1.5 6-6.5-4-1.5zM1379,218.5l3.5,3.5 20.5-.5-2.5-3.5zM1558,246.5l0,4 29,15.5 .5-4.5zM1587.5,261.5l-.5,4.5 14.5,9.5 14,11 0-5-14-10.5zM1083,534.5l2.5,.5 1-5.5-2.5-.5zM1094,482.5l2.5,1 1.5-6-2.5-.5zM1111.5,423l2.5,1 2.5-6.5-3-.5zM1145.5,348l3.5,1.5 4-6.5-3.5-1zM1267.5,245.5l4,2.5 13-4.5-4-2.5zM1280.5,241l4,2.5 14.5-4.5-4.5-2.5zM1310,232.5l4,2.5 16-3-3.5-3zM1403,221.5l3,3.5 21,.5-2.5-3.5zM1526.5,238.5l.5,4.5 31,12 0-4.5zM1587,266l0,4.5 14,9.5 14,11 .5-4.5-14-11zM1615.5,286.5l-.5,4.5 14,13 14,15.5 0-5.5-14-15zM1075.5,596l1.5,.5 1-5.5-2-.5zM1138,368l3.5,1.5 3.5-6.5-3.5-1zM1259.5,253l4,2.5 12-5-4-2.5zM1080.5,586l2,.5 1-5.5-2-.5zM1119.5,425.5l2.5,1 2.5-6-2.5-1zM1211,290.5l4,2 7.5-6-3.5-1.5zM1587,279.5l0,5 14,10 14,12 0-5.5-14-11.5zM1098,508.5l2,1 1.5-6-2.5-.5zM1284,255.5l3.5,2.5 13-4-3.5-3zM1454.5,238.5l2,3.5 39.5,7.5-1.5-4zM1643.5,337.5l.5,7 8,11 9,14 5,9 5.5,10.5 .5,.5 2.5-1.5-5.5-10.5-5-9-4.5-7.5-8.5-12.5zM1086.5,576.5l2,.5 1-5.5-2-.5zM1091.5,548.5l2,1 1-5.5-2-1zM1100,509.5l2.5,.5 1-5.5-2-1zM1122.5,433.5l2.5,1 2.5-6-2.5-1zM1226.5,288.5l4,2 8.5-5.5-4-2zM1559.5,272.5l.5,4.5 14,8 14,9-.5-5zM1587.5,289l.5,5 13.5,10.5 14,12.5-.5-5.5-13.5-12zM1092.5,555l2,.5 1-5.5-2-.5zM1093.5,549.5l2,.5 1.5-5.5-2.5-.5zM1097,532.5l2,1 1.5-6-2-.5zM1105,498.5l2.5,1 1.5-6-2.5-.5zM1119,452l2.5,1 2-6-2.5-1zM1258,274.5l3.5,2.5 10.5-5-3.5-2zM1400.5,242.5l2.5,3.5 19,.5-3-3.5zM1560,277l.5,4.5 14,8 13.5,9.5 0-5-14-9zM1088.5,588.5l2,.5 1-5.5-2-.5zM1092.5,566.5l2,.5 1-5.5-2-.5zM1403,246l3,3.5 18.5,.5-2.5-3.5zM1091.5,583.5l2,1 1-5.5-2-1zM1093.5,572.5l2,1 1-5.5-2-1zM1096.5,556l2,1 1.5-5.5-2.5-1zM1215,311.5l4,1.5 7-5.5-3.5-2zM1325.5,258.5l3.5,3 14.5-3-3.5-3zM1391.5,253.5l2.5,3.5 17.5,0-3-4zM1534,277l1,4.5 28,14.5-1-5zM1562,291l1,5 13.5,8.5 14,10-1-5-13.5-10zM1096.5,579.5l2,.5 1-5.5-2-.5zM1100.5,557.5l2.5,1 1-5.5-2-1zM1155,397l3,1 3.5-5.5-3-1.5zM1165.5,379l3,1.5 4-6-3-1.5zM1319.5,267.5l3.5,3 13-3-3.5-3zM1466.5,261.5l2,4 36,9-1.5-4.5zM1590.5,314.5l.5,5.5 14,12.5 14.5,15-1-6.5-14.5-14.5zM1113.5,514l2,.5 1.5-5.5-2-1zM1155,404l2.5,1.5 3.5-6-3-1.5zM1185.5,357l3.5,1.5 4.5-6-3-1.5zM1195.5,345.5l3.5,1.5 5.5-6-3.5-1.5zM1124,486.5l2.5,1 1.5-6-2-1zM1171.5,382l3,1 4-5.5-3-1.5zM1222.5,324.5l3.5,2 7-5.5-3.5-2zM1339.5,270.5l3.5,3 14-2.5-3.5-3zM1146,435.5l2.5,1 3-5.5-3-1zM1219.5,332l3.5,1.5 6.5-5.5-3.5-1.5zM1566,311l1.5,5 13.5,10 13.5,11-1-5.5-14-11zM1103,587.5l2,1 1-5.5-1.5-1zM1154,425l3,1.5 3-6-3-1zM1251.5,312.5l3.5,2 8-4.5-3.5-2.5zM1509,287.5l2,4.5 15,6 15.5,7-1.5-4.5zM1594.5,337l1.5,6.5 14.5,14.5 8,9 8,11-2-8.5-8-10-7.5-8zM1119,528.5l2.5,.5 1.5-5.5-2.5-1zM1124,511.5l2,1 2-5.5-2.5-1zM1151.5,438l2.5,1 2.5-5.5-2.5-1.5zM1312.5,288.5l3.5,3 11.5-3.5-3.5-3zM1113,562l2,1 1.5-5.5-2-1zM1120,534.5l2,1 1.5-5.5-2-1zM1135.5,484.5l2,1 2-5.5-2-1zM1134,496.5l2,1 2-5.5-2.5-1zM1135.5,491l2.5,1 2-5.5-2.5-1zM1142,474l2.5,1 2-5.5-2.5-1zM1144,468.5l2.5,1 2.5-5.5-2.5-1zM1156.5,440l2.5,1.5 3-6-2.5-1zM1195,377.5l3,1.5 5-5.5-3.5-1.5zM1430,282.5l2.5,4 16.5,1.5-2.5-4zM1446.5,284l2.5,4 16.5,3-2.5-4zM1110,596l2,.5 1-5-2-1zM1122.5,542l2.5,.5 1.5-5.5-2.5-.5zM1124,536.5l2.5,.5 1.5-5.5-2.5-.5zM1165,430l2.5,1.5 3-6-2.5-1zM1601,363.5l2.5,7 8,9 8.5,11 18.5,28 1-1.5-3-7.5-5.5-8.5-5-7.5-9-12-8-10zM1112,596.5l2,1 1-5.5-2-.5zM1146.5,476.5l2.5,1 2.5-5.5-2.5-1.5zM1246,338l3.5,2 7-4.5-3.5-2.5zM1337.5,297l3.5,2.5 12-2-3.5-3.5zM1451,292l2.5,4 16.5,3-2.5-4zM1112.5,602.5l2,1 1-5.5-1.5-.5zM1124,554.5l2,1 1.5-5.5-2-1zM1127,543.5l2,1 1.5-5.5-2-1zM1128.5,538l2,1 1.5-5.5-2-1zM1135,516l2.5,1 1.5-5.5-2-1zM1173.5,427l2.5,1.5 3.5-6-3-1zM1176.5,421.5l3,1 3.5-5.5-3-1.5zM1236,350.5l3.5,2 6.5-5.5-3.5-2zM1249.5,340l3,2.5 7-5-3-2zM1280,321.5l3.5,2.5 9-4.5-3.5-2.5zM1353,297.5l3,3 12.5-2-3-3zM1365.5,295.5l3,3 13.5-1.5-3-3.5zM1122,571.5l2,1 1.5-5.5-2-1zM1161.5,456l2.5,1.5 2.5-5.5-2.5-1.5zM1292.5,319.5l3,2.5 9.5-3.5-3.5-3zM1368.5,298.5l3.5,3 13-1-3-3.5zM1125.5,567l2,1 1.5-5.5-2.5-1zM1134.5,534.5l2,1 1.5-5.5-2-1zM1314.5,314.5l3.5,3 10.5-3.5-3.5-2.5zM1580.5,363l2.5,6.5 15,15 8,9.5 9,12-3.5-10-8.5-10.5-8-8.5zM1133.5,546l2,1 1.5-5-2-1zM1156.5,480.5l2,1.5 2.5-5.5-2.5-1.5zM1172,447.5l2.5,1.5 3-5.5-2.5-1.5zM1308,321l3.5,2.5 9.5-3.5-3-2.5zM1401.5,303.5l2.5,3.5 14,0-2.5-3.5zM1460.5,308.5l2.5,4 16,4-2.5-4.5zM1134,552.5l2,1 1.5-5.5-2-1zM1447.5,310l2.5,4 15.5,3-2.5-4.5zM1557,353l2,6 14,11 15,14-2.5-7.5-14.5-13zM1174.5,455.5l2.5,1.5 3-5.5-3-1.5zM1201.5,412l2.5,1.5 4.5-5-3-2zM1246,365.5l3,2 6-5-3-2zM1497.5,326l2.5,4.5 15.5,6.5 16.5,8.5-2.5-5.5-16-7.5zM1125.5,602l2,1 1-5-2-1zM1132,575.5l2,1 1.5-5-2-1zM1138,554.5l2,1 2-5.5-2.5-1zM1159,495l2,1 2.5-5-2.5-1.5zM1168.5,473.5l2.5,1 2.5-5.5-2.5-1zM1180,451.5l2.5,1.5 3-5.5-2.5-1.5zM1255,362.5l3,2 7-4.5-3.5-2zM1410,314l2.5,4 14,.5-3-4zM1149,528.5l2,1 2-5-2.5-1.5zM1168.5,480l2.5,1 2.5-5-2.5-1.5zM1176.5,463.5l2.5,1.5 3-5.5-2.5-1zM1229.5,389l3,2 5.5-5-3-2zM1130.5,598.5l2,1 1.5-5-2-1zM1282,353.5l3,2.5 8-4.5-3.5-2.5zM1315,338l3,2.5 9.5-3-3.5-3zM1149.5,541.5l2,1 2-5.5-2-1zM1184.5,461l2.5,1.5 3-5.5-2.5-1.5zM1235.5,393l3,2 5-5-2.5-2zM1241,388l2.5,2 5.5-5-2.5-2zM1278,360l3,2.5 7.5-4.5-3.5-2zM1358,329.5l3,3.5 11-2-3-3zM1392.5,325.5l3,3.5 12.5-.5-3-3.5zM1432,326.5l2.5,3.5 14,2-2.5-4zM1137.5,590l2,1 1-5.5-2-1zM1151.5,542.5l2.5,1 1.5-5.5-2-1zM1321.5,343.5l3,2.5 9-3-3-2.5zM1509,350.5l2.5,5 16,8 16.5,10.5-3-6-16-10zM1136.5,601.5l2,.5 1.5-5-2-1zM1142,580.5l2,1 2-5.5-2.5-1zM1186.5,469l2.5,1.5 3-5.5-2.5-1.5zM1270.5,373.5l3,2 6.5-4.5-3-2zM1353.5,338l3,3 10.5-2-3-3zM1511.5,355.5l2.5,5 16,9 16.5,10.5-2.5-6-16.5-10.5zM1147.5,571l2,1 1.5-5.5-2-1zM1180.5,486.5l2.5,1 2.5-5-2.5-1.5zM1378,337.5l3,3.5 11.5-1-3-3.5zM1151,566.5l2,1 2-5-2.5-1zM1191,478.5l2.5,1.5 3-5.5-2.5-1zM1214,442l3,2 3.5-5-2.5-2zM1503.5,363.5l2.5,5.5 16,8-2.5-5.5zM1170.5,527l2.5,1 2-5-2-1.5zM1177.5,511l2.5,1.5 2-5-2-1.5zM1448,350.5l3,4.5 13.5,3-2.5-4.5zM1148,601l1.5,1 1.5-5.5-2-1zM1149,595.5l2,1 2-5-2-1zM1493.5,367.5l2.5,5 15.5,7-2.5-5.5zM1149.5,602l2,1 1.5-5.5-2-1zM1156,581l2,1.5 1.5-5.5-2-1zM1243.5,422.5l2.5,2 5-4.5-2.5-2zM1481.5,367l3,4.5 14.5,6-3-5zM1187,510l2,1.5 3-5.5-2.5-1zM1198,489.5l2,1.5 3-5.5-2.5-1.5zM1210.5,469l2.5,1.5 3-5-2.5-1.5zM1221,454l2.5,1.5 4-5-3-1.5zM1364.5,362l3,3.5 10-2-3-3zM1395.5,358.5l3,3.5 11.5,0-3-4zM1470,367l3,4.5 14,5-2.5-5zM1167,563l2.5,1 1.5-5-2-1.5zM1177.5,537l2,1.5 2.5-5.5-2.5-1zM1227.5,450.5l2.5,2 4-5-2.5-2zM1269.5,408.5l3,2 6-4-3-2.5zM1410,362l2.5,3.5 12,1-3-4zM1459.5,368l2.5,4.5 13.5,4-2.5-5zM1182,533l2,1.5 2.5-5-2.5-1.5zM1184,528l2.5,1.5 2.5-5-2.5-1.5zM1311,387l3,2.5 7.5-3-3-3zM1326.5,380.5l3,3 8-3-3-3zM1475.5,376.5l3,5 14.5,5.5-3-5.5zM1218,474l2.5,1.5 3.5-5-2.5-1.5zM1364,373.5l2.5,3 10-1.5-3-3zM1523.5,403l3.5,6.5 17.5,13-3.5-7.5zM1278,415l3,2.5 6-4-3-2.5zM1310,396l3,2.5 7-3.5-3-2.5zM1332,386l3,3 8.5-2.5-3-3zM1366.5,376.5l3,3.5 9.5-1.5-2.5-3.5zM1204,507l2.5,1.5 2.5-5-2-1.5zM1246,448.5l3,1.5 4-4.5-2.5-2zM1299.5,405.5l2.5,2.5 7-3.5-3-2.5zM1389,377.5l3,3.5 10.5-.5-3-3.5zM1445,380l3,4.5 12.5,3-3-4.5zM1471,386.5l3,5 13.5,5-3-5zM1514,405.5l3.5,6 16.5,11.5-3.5-7zM1548.5,430l4,8.5 10.5,10 12,13.5 7,9 2,2.5 .5,0 1.5-2.5 0-.5-4-5-7-8.5-6-7-11-11zM1176,574l2,1 2-5-2-1zM1215.5,493.5l2.5,1.5 3-5-2.5-1.5zM1330.5,394.5l2.5,3 8-2.5-3-3zM1167,604.5l2,0 2-3-2-1zM1188.5,550l2,1 2.5-5-2.5-1zM1270.5,434.5l2.5,2 5.5-4-3-2.5zM1326,400.5l2.5,3 7.5-3-3-3zM1505,409l3.5,6 16,9.5-4-6.5zM1190.5,551l2,1.5 2.5-5-2-1.5zM1237.5,472.5l2.5,2 4-4.5-2.5-2zM1408.5,388l3,4 10.5,.5-3-4zM1483,406.5l3,5.5 14,6.5-3-5.5zM1497,413l3,5.5 15.5,8.5-3.5-6zM1175,604l2,.5 1.5-4.5-2-1zM1242.5,476.5l3,1.5 3.5-4.5-2.5-2zM1486,412l3.5,5.5 14,7-3.5-6zM1177,604.5l2,0 2-3.5-2.5-1zM1178.5,600l2.5,1 1.5-5-2-1zM1323,417.5l3,3 7-3-3-3zM1397,399.5l3,4 10-.5-3-3.5zM1181,601l2,1.5 1.5-5-2-1.5zM1454,409l3,4.5 12.5,4-3.5-5zM1194.5,573l2.5,1 2-4.5-2-1.5zM1254.5,477.5l2.5,2 4-4.5-2.5-2zM1263,468.5l2.5,2 4.5-4-3-2zM1309.5,433l2.5,2.5 6.5-3.5-3-2.5zM1457,413.5l3,5 12.5,4-3-5zM1188.5,594l2,1 2-4.5-2-1.5zM1192.5,584l2,1.5 2.5-5-2.5-1.5zM1231.5,511.5l2.5,1.5 3-4.5-2.5-1.5zM1387,412l3,3.5 9-.5-2.5-4zM1426,412l3.5,4 10.5,1.5-3-4.5zM1244,499.5l2.5,1.5 3.5-4.5-2.5-1.5zM1315,438l3,2.5 6-3-2.5-2.5zM1429.5,416l3,4 10.5,2-3-4.5zM1536,464.5l5,9 11,11 12,13.5 0-1.5-2.5-4-3.5-7-12-12zM1191,601.5l2,1 2-4.5-2-1.5zM1208,562.5l2.5,1.5 2-5-2-1.5zM1466.5,428.5l3.5,5 12.5,5-3.5-5.5zM1523,458l4.5,8 9,8 10.5,10-6-10.5-9.5-8.5zM1193,602.5l2,1.5 2-5-2-1zM1229,530.5l2.5,2 3-5-2.5-1.5zM1242,512l2.5,2 3.5-4.5-2.5-2zM1273,477l3,2 4.5-4-3-2zM1370,426l3,3.5 8.5-1.5-3-3.5zM1205.5,580l2,1.5 2.5-5-2.5-1.5zM1251.5,505l2.5,2 3.5-4.5-2.5-2zM1255,500.5l2.5,2 4-4.5-2.5-2zM1311.5,452.5l2.5,2.5 6-3-2.5-3zM1418,426.5l3,4 10,1-3-4zM1428,427.5l3,4 10.5,2-3-4.5zM1532.5,474.5l5.5,9.5 11,11 6,7 8,9.5-5-8.5-4-7-11.5-12.5zM1199,600.5l2,1.5 2-5-2-1.5zM1240,525l2.5,1.5 3.5-4.5-2.5-1.5zM1441.5,433.5l3.5,4.5 11,3-3-5zM1464.5,439.5l3.5,5 12,5-3.5-5.5zM1209.5,582.5l2.5,1.5 2-4.5-2-1.5zM1212,578l2,1.5 2.5-5-2-1.5zM1236,536l2.5,1.5 3-4.5-2-2zM1295.5,472l2.5,2.5 5-4-2.5-2.5zM1305.5,464.5l3,2.5 5.5-3.5-3-2.5zM1424,435l3,4 10.5,1.5-3-4.5zM1493.5,456l4,6.5 15,9.5-4.5-7zM1205,598.5l2.5,1.5 2-5-2-1.5zM1209.5,589l2,1.5 2.5-5-2-1.5zM1345,449l2.5,3 7-2.5-3-3zM1366.5,442.5l2.5,3.5 8-2-3-3zM1382,439.5l3,3.5 8.5-1-3-3.5zM1244,535l2.5,1.5 3-4.5-2-1.5zM1295.5,480.5l3,2.5 5-4-3-2.5zM1216,587l2.5,2 2-5-2-1.5zM1466,456l4,5.5 12,5.5-3.5-6zM1282.5,500.5l2.5,2 4.5-4-2.5-2zM1251,540.5l2.5,1.5 3.5-4-2.5-2zM1515,491.5l5.5,9 9.5,8 11,11-7.5-12-9.5-9zM1292,501l2.5,2.5 4.5-4-2.5-2zM1443.5,461.5l3,5 11,3-3.5-5.5zM1256,544l2,2 3.5-4.5-2.5-1.5zM1262.5,535.5l2.5,2 3.5-4-2.5-2zM1384,463l3,3.5 8-1-3-3.5zM1526.5,510l6.5,11 6,6 6.5,7.5 4,4.5 2,2.5 1-1.5 0-1-2-4-7.5-8.5-6-6.5zM1240,572.5l2,1.5 3-4.5-2-1.5zM1248.5,559l2.5,2 3-4.5-2.5-2zM1327.5,485.5l2.5,3 6-3-3-3zM1234,587.5l2.5,2 2.5-4.5-2.5-2zM1336,485.5l2.5,3 6-2.5-2.5-3zM1398,469.5l3,4 8.5,0-3.5-4zM1344.5,486l3,3 6-2.5-2.5-3zM1457,481.5l4,5.5 11.5,4.5-4-6zM1265.5,552l2,2 3.5-4-2.5-2zM1268.5,548l2.5,2 3.5-4-2-2.5zM1314.5,506l2.5,3 5-3.5-2.5-2.5zM1407,481.5l3.5,4 8.5,.5-3.5-4.5zM1434,483.5l3,5 10,2-3.5-5zM1240.5,599l2,1.5 2.5-4-2-2zM1402,485.5l3.5,4 8,0-3-4zM1509,522.5l6,9 9.5,9 5.5,5.5 2,2.5 .5-1 0-.5-1-1.5-4-7-10-9zM1440.5,493l3.5,5 10.5,3-4-5zM1365,499l3,3.5 6.5-1.5-3-3.5zM1417,493.5l3,4.5 9,1-3.5-4.5zM1434.5,496l3.5,5 10,2-4-5zM1300,539.5l2.5,2.5 4.5-3.5-2.5-2.5zM1328,519.5l2.5,3 5-3-2.5-3zM1349.5,509l3,3 6-2.5-3-3zM1311.5,535l2.5,2.5 4.5-3.5-2.5-2.5zM1316,531.5l2.5,2.5 5-3-3-2.5zM1289.5,559l2.5,2 3.5-3.5-2.5-2.5zM1355,515l3,3 6-2-3-3zM1394.5,506l3.5,4 7.5-.5-3.5-4zM1402,505.5l3.5,4 8,.5-3.5-4.5zM1262,597l2.5,2 2.5-4-2-2zM1261.5,603l2,1.5 3-3.5-2-2zM1273.5,586.5l2.5,2.5 3-4-2.5-2.5zM1302,556l2.5,2.5 4-3.5-2.5-2.5zM1361,521.5l3,3 6-1.5-3-3.5zM1463.5,525.5l4,6 12,6.5-5-7zM1520,564.5l9.5,14.5 1-3.5zM1269.5,597l2.5,2 3-4-2.5-2zM1296.5,566l2.5,2 4-3.5-2.5-2.5zM1370,523l3,3.5 6-1.5-3-3.5zM1428.5,519.5l3.5,5 9,2-3.5-5zM1467.5,531.5l4.5,6.5 12.5,7-5-7zM1292,575.5l2,2.5 4-4-2.5-2zM1349.5,534.5l3,3 5.5-2.5-3-3zM1284,589l2,2.5 3.5-4-2.5-2zM1318,557l2.5,2.5 4.5-3-2.5-2.5zM1410.5,526.5l3.5,4 8,1-3.5-4.5zM1465,539l4.5,6.5 12,7-5-7.5zM1349.5,543l3,3 5.5-2.5-3-3zM1422,531.5l3.5,4.5 8.5,1.5-3.5-5zM1481.5,552.5l5.5,8 15,11-6.5-10zM1347.5,548.5l2.5,3 5.5-2.5-3-3zM1493,569l6.5,9.5 8.5,8 5.5,5 1.5,1.5 .5-.5-1.5-3-4.5-6.5-9-8zM1293.5,598l2.5,2.5 3.5-3.5-2.5-2.5zM1304,587.5l2.5,2.5 4-3.5-2.5-2.5zM1375.5,547l3,3.5 6-1.5-3-3.5zM1313,589l2.5,2.5 4-3.5-2.5-2.5zM1334,573.5l2.5,3 4.5-3-2.5-3zM1338.5,570.5l2.5,3 5-2.5-2.5-3zM1419,556.5l3.5,4.5 8.5,1.5-4-5zM1464,569.5l5,7 12,7-5.5-8zM1322,591l2.5,2.5 4-3-2.5-2.5zM1344,576.5l2.5,3 5-2.5-2.5-3zM1381.5,562.5l3,4 6.5-1-3.5-4zM1448.5,567.5l4.5,6 10,4.5-4.5-7zM1404,564.5l3.5,4.5 7,0-3.5-4.5zM1323,599.5l2.5,2.5 4.5-3-3-2.5zM1331.5,593.5l2.5,2.5 4.5-2.5-3-3zM1468,585l5.5,7.5 13,8.5-6.5-9zM1473.5,592.5l5.5,8.5 7,3.5 7.5,0-7-3.5zM1456.5,588.5l5,6.5 11,6-5.5-7.5zM1348.5,597l2.5,3 5-2.5-3-3zM1353,594.5l3,3 5-2-3-3zM1358,592.5l3,3 5-2-3-3.5zM1461.5,595l5,7.5 12,2-6-3.5zM1356,597.5l3,3.5 5-2-3-3.5zM1361,595.5l3,3.5 5-2-3-3.5zM1374,595.5l3.5,3.5 5.5-1.5-3.5-3.5z"/>
<path fill="#67c4ff" d="M554,604.5l4-3.5-7.5,1-4,2.5zM593.5,598l3-3.5-6-1.5-3,4zM575.5,587l3-4.5-6.5,0-3.5,4.5zM534,588l4-5.5-9,2.5-4.5,6.5zM537.5,573.5l4-5-9,2-4,6zM603.5,569.5l3-3.5-6-1.5-3,3.5zM627.5,574.5l2.5-3-5-2.5-2.5,3zM678,603l2.5-2.5-3.5-3.5-2.5,2.5zM544.5,554.5l3.5-5-8.5,2-4,5zM539.5,551.5l4-5-9,2-4,5.5zM668.5,584l2.5-2.5-4-3.5-2.5,2.5zM568.5,522.5l3.5-4-8,0-3,4.5zM561,523l3-4.5-8,.5-3.5,4.5zM654.5,545.5l2.5-2.5-4.5-3-3,2.5zM649.5,542.5l3-2.5-5-3-2.5,2.5zM600,521.5l3-3.5-6.5-1-3,3.5zM579.5,518.5l3-3.5-7.5-.5-3,4zM547.5,520l3.5-4.5-8.5,1.5-3.5,5zM650,534l3-2.5-5-3-2.5,2.5zM694,567l2.5-2.5-3.5-4-2.5,2.5zM643.5,508.5l2.5-3-5.5-2.5-2.5,2.5zM709.5,560.5l2.5-2-3.5-4.5-2.5,2zM730.5,563.5l2.5-1.5-3-4.5-2.5,2zM637,480l3-2.5-6-3-3,3zM760.5,600l2-1.5-2.5-5-2,1.5zM667.5,484.5l2.5-2.5-5-3.5-2.5,2.5zM651.5,474.5l2.5-2.5-6-3-2.5,2.5zM760,593.5l2.5-1.5-2.5-4.5-2,1.5zM757.5,582.5l2.5-1.5-2.5-4.5-2,1.5zM607,446l3-3-8-2-3,3.5zM769,594l2-1.5-2-5-2.5,1.5zM662,464l3-2.5-5.5-3.5-3,2.5zM602,441l3-3-8-1.5-3,3.5zM771,592.5l2-1.5-2-5-2,1.5zM757,564l2-1.5-2.5-5-2,1.5zM451.5,477.5l5-8-9,7-9.5,8.5-6,11 10.5-10.5zM744.5,532.5l2.5-1.5-3-5-2.5,2zM735,518.5l2.5-1.5-3-4.5-2.5,1.5zM665,453l2.5-2.5-6-3.5-2.5,2.5zM483.5,440l3.5-6-14,7.5-4,6.5zM777,569.5l2.5-1.5-2.5-5-2,1.5zM772.5,559.5l2-1-2-5-2.5,1.5zM480,429.5l3.5-6-14.5,8-3.5,6zM797.5,604.5l2,0-2-4.5-2,1.5zM772,547l2.5-1.5-2.5-5-2.5,1.5zM483.5,423.5l3.5-5.5-14.5,7-3.5,6.5zM783.5,565.5l2.5-1.5-2.5-5-2,1.5zM774.5,545.5l2-1.5-2.5-5-2,1.5zM705,452l2.5-2.5-5-4-2.5,2zM615.5,405l2.5-3-8.5-2-2.5,3.5zM774,539l2.5-1-2.5-5-2.5,1.5zM760.5,514.5l2.5-1.5-3-5-2.5,2zM737.5,481l2.5-1.5-4-5-2.5,2zM725.5,467.5l2.5-2-4-4.5-3,2zM444,439.5l4-7-9,6.5-9.5,8-4.5,9.5 10-9.5zM798,587.5l2-1-2-5-2,1zM705.5,443l2.5-2-5-4-2.5,2zM803.5,596.5l2-1-1.5-5-2,1zM805.5,595.5l2-1.5-1.5-5-2,1.5zM770.5,515l2-1.5-2.5-5-2.5,1.5zM671,411l3-2.5-6.5-4-3,3zM549,386l3-4.5-12,1.5-2.5,4zM747.5,474l2.5-1.5-4-5-2.5,2zM740,464.5l2.5-2-4-4.5-2.5,2zM818.5,604.5l2,0-1.5-4.5-2,1zM801,555l2-1-2-5.5-2,1.5zM785,519.5l2.5-1.5-3-5-2,1zM497.5,382l3-5-14.5,5-2.5,5.5zM810.5,574.5l2-1.5-1.5-5-2,1zM514,373l3-4.5-13.5,4-3,4.5zM811,568l2-1-2-5-2,1zM749,451l2.5-2-4-5-2.5,2zM722.5,422l2.5-2-5-4.5-3,2zM717,417.5l3-2-5-4.5-3,2zM492,372l2.5-4.5-14.5,5.5-3,5zM799,524.5l2-1.5-2-5-2.5,1zM522.5,359.5l2.5-4-13.5,3-2.5,4.5zM691,385l2.5-2.5-6.5-4-3,2.5zM627.5,358l3-3-10-2-3,3zM563.5,351.5l2.5-4-12,.5-3,4zM686,369.5l3-2-7.5-4-3,2.5zM724,387.5l3-2-6-5-3,2zM612,336.5l3-3.5-11-1.5-3,3zM675.5,348l3-2.5-8.5-3.5-3,2.5zM558,325.5l2.5-3.5-13.5,1-2.5,3.5zM544.5,326.5l2.5-3.5-14,1.5-2.5,4zM373.5,422l4.5-10.5-19,25.5 2,2.5 1-1.5 6-9zM777,426l2.5-1.5-3.5-5.5-3,1.5zM697,351.5l3.5-2.5-8-4.5-3,2.5zM490,330.5l2.5-4.5-16,5-2.5,5zM495,321.5l2-4.5-16,5-2.5,4.5zM356,419l5-12-5.5,7.5-6,9-.5,1 2,2.5 .5-1 1.5-2.5zM850.5,573l2-.5-1.5-5.5-2,1zM849,568l2-1-1.5-5.5-2,1zM841.5,541l2-1-1.5-5.5-2.5,1zM499.5,312.5l2.5-4.5-16.5,5-2.5,4.5zM848,556l2-.5-1.5-5.5-2,1zM720.5,344.5l3-2-7-5-3.5,2.5zM487.5,308.5l2-4.5-16,5-17,6.5-1.5,5 16.5-7zM776.5,388l3-1.5-4.5-5.5-3,1.5zM733.5,345.5l3-2-6.5-5-3,2zM836,486.5l2.5-1-2-5.5-2.5,1zM674.5,304.5l3.5-2.5-10.5-4-3,2.5zM861,563l2-1-1-5.5-2,1zM851,524.5l2.5-1-2-5.5-2,1zM776.5,372l3-1.5-5-5.5-3,1.5zM825,445l2.5-1.5-2.5-5.5-2.5,1zM347,388l2.5-9.5-9,13 2.5,2.5zM850.5,506l2.5-1-2-5.5-2,1zM854.5,511l2.5-1-2-5.5-2,.5zM845.5,482.5l2.5-1-2-5.5-2.5,1zM843.5,477l2.5-1-2-5.5-2.5,1zM781,362l3-2-5-5.5-3,1.5zM746.5,328.5l3.5-2-6.5-5.5-3.5,2zM848,481.5l2.5-.5-2-6-2.5,1zM840,459l2.5-1-2.5-6-2.5,1zM469,283.5l1.5-4.5-31.5,12.5-1,4.5zM872.5,564.5l2-.5-1-5.5-2,.5zM792,364.5l3-1.5-4.5-6-3,1.5zM782.5,353l3-1.5-5-6-3,1.5zM715,298.5l3.5-2.5-9.5-4.5-3.5,2zM636.5,270.5l3.5-3-14-2.5-3.5,3.5zM411.5,306.5l1-5-13.5,8.5-14,10.5-1,5.5 14-10.5zM640,267.5l3.5-2.5-14.5-3-3,3zM855,479l2.5-1-2-5.5-2,.5zM838,432.5l2.5-1-2.5-6-2.5,1zM767,326.5l3.5-1.5-6.5-6-3.5,2zM528.5,259.5l2.5-4-19,2.5-2,4zM845.5,443.5l2.5-1-2.5-6-2.5,1zM797,354l3-1.5-4.5-6-3.5,1.5zM475,266.5l1.5-4.5-33,11-1,4.5zM884,578.5l2-1-1-5.5-2,1zM871,517l2-.5-1.5-5.5-2,.5zM863.5,489l2-1-1.5-6-2.5,1zM689,270.5l3.5-2.5-12-4.5-3.5,2.5zM677,266l3.5-2.5-12.5-4-4,3zM533,252l2.5-4-20,2.5-2,4zM513.5,254.5l2-4-37.5,7.5-1.5,4zM476.5,262l1.5-4-33.5,11-1,4zM865.5,488l2.5-1-1.5-5.5-2.5,.5zM783,327.5l3.5-2-5.5-6-3.5,2zM680.5,263.5l4-2.5-13-4-3.5,2.5zM889,559.5l2-1-1-5.5-2,.5zM726,270.5l4-2.5-10.5-5-4,2.5zM361.5,307l0-5.5-14,14-14,16.5-.5,6.5 14.5-17.5zM861,437.5l2.5-.5-2-6-2.5,.5zM841.5,389l2.5-1-2.5-6-3,1zM806,326l3.5-1.5-5-6.5-4,1.5zM795,313.5l4-1.5-6-6.5-3.5,1.5zM776,295l4-1.5-7-6.5-4,2zM525.5,231l2-3.5-42,6-1,4zM389.5,275.5l0-4.5-14,9.5-14,11 0,5 14-11zM799,312l3.5-1.5-6-6.5-3.5,1.5zM780,293.5l4-2-7-6-4,1.5zM389.5,271l0-4.5-14.5,9.5-14,11 .5,4.5 14-11zM882,482.5l2.5-.5-1.5-6-2.5,1zM872.5,447l2.5-.5-1.5-6-3,.5zM418.5,251l0-4-29.5,15 .5,4.5zM806,309l4-1.5-5.5-6.5-4,1.5zM746.5,259.5l4.5-2-10.5-5.5-4.5,2zM890.5,499l2.5-.5-1.5-6-2,.5zM882.5,463.5l2.5-.5-1.5-6-2.5,.5zM740.5,252l4.5-2-11-6-4.5,2.5zM894,504l2.5-.5-1.5-6-2,1zM490,218l1.5-4-40,9 0,4zM359.5,273l-.5-4.5-14,12-13.5,13.5 .5,5 14-14zM899.5,521l2.5-1-1.5-5.5-2,.5zM359,268.5l-1-4.5-14,12-13.5,13 1,5 13.5-13.5zM888.5,455.5l2.5-.5-1.5-6-2.5,.5zM417.5,230.5l-.5-4-31,14.5 1,4zM303,325l-.5-6-7,11.5-7.5,14-8.5,17 3,1.5 1-2.5 4.5-9 8-14.5zM452,215l0-3.5-35.5,11 .5,4zM329.5,284.5l-1.5-4.5-13,15.5-13.5,18 1,5.5 13.5-19zM902,496l2.5-.5-1.5-6-2,.5zM892,448l2.5-.5-1.5-6-2.5,.5zM883.5,417.5l3-.5-2-6.5-2.5,.5zM416.5,222.5l-.5-4-32,14.5 1,4zM916.5,575l1.5,0-.5-6-2,.5zM907.5,513l2-.5-1-6-2,.5zM910.5,518l2-.5-1-5.5-2,.5zM899.5,459l2.5-.5-1-6-2.5,.5zM921.5,585.5l2-.5-.5-5.5-2,.5zM919.5,569l2-.5-.5-5.5-2,0zM893.5,421.5l2.5-.5-1.5-6.5-2.5,1zM886.5,396.5l3-1-2-6-3,.5zM451.5,200l-.5-4-38,11 1,4zM816,261l4.5-1-7-7-5,1.5zM808.5,254.5l5-1.5-8-7-5,1.5zM716,203.5l5.5-2.5-18-5-5,2.5zM914.5,499.5l2-.5-1-6-2,.5zM853,301.5l4-1-4.5-7-4,1zM820.5,260l4.5-1.5-7-7-4.5,1.5zM377.5,217.5l-2-3.5-30.5,18 2,4zM347,236l-2-4-14,11-13.5,12.5 2,3.5 13.5-12zM319.5,259l-2-3.5-12.5,14-12.5,16 2,4.5 12.5-16.5zM928,590l1.5-.5-.5-5.5-2,.5zM922,539.5l2.5-.5-1-6-2,.5zM857,300.5l4-1-4.5-7-4,1zM925,544.5l2,0-.5-6-2,.5zM919,498.5l2-.5-.5-6-2.5,.5zM899.5,400l3-.5-1.5-6.5-3,.5zM842,271l4.5-1-6-7-4.5,1zM590.5,173l3-3-31.5-.5-2.5,3.5zM912.5,430.5l2.5-.5-1-6-3,.5zM310,244.5l-3-3.5-12.5,13.5-11.5,15.5 2.5,3.5 12-15.5zM285.5,273.5l-2.5-3.5-11.5,18-5.5,10.5-5.5,12 2,4.5 5.5-12.5 6-10.5zM383.5,192l-3-3.5-17.5,7.5-16.5,9 3,3.5 16.5-9zM349.5,208.5l-3-3.5-29.5,20.5 3.5,3.5zM936,571.5l2-.5-.5-5.5-2,.5zM926.5,485l2-.5-.5-6-2.5,.5zM908,384.5l3-.5-1.5-6.5-3,.5zM864.5,274l4.5-1-5-7.5-4.5,1zM444.5,170.5l-1.5-4-24,5.5-22,6 3,3.5 21.5-6zM904,357.5l3.5-.5-2-7-3.5,.5zM792,199l6-2-13.5-7-6.5,2zM917,396.5l2.5-.5-1-6.5-3,.5zM310,219l-3.5-3-13,12-11.5,13 3.5,3.5 12-13.5zM919.5,396l3,0-1-7-3,.5zM914,370l3-.5-1.5-7-3,.5zM910.5,356.5l3.5-.5-2-7-3.5,.5zM908.5,349.5l3.5-.5-2-7-3,.5zM921.5,389l3-.5-1.5-6.5-3,.5zM898.5,306.5l4-.5-2.5-7-4,.5zM302.5,213l-4-3-12.5,12-11.5,13.5 4,2.5 11.5-13zM913.5,341.5l3.5-.5-2-7-3.5,.5zM264,250l-4-2.5-9.5,17-9,19.5 3,3.5 9.5-20zM244.5,287.5l-3-3.5-5,11.5-4.5,13-5,16-2.5,9-3,11 2.5,6 3-12 2.5-10 5.5-16 4.5-13.5zM224,350.5l-2.5-6-1.5,7 0,.5 3,1zM947.5,570l2-.5 0-5.5-2,0zM901,291l4-1-2.5-7.5-4.5,1zM898,283.5l4.5-1-3.5-7.5-4,1zM895,276l4-1-3-7.5-5,1zM379,161.5l-5-3-21,7 5,3.5zM270.5,232.5l-4.5-2.5-10,14.5 4,3zM951,586.5l1.5-.5 0-5.5-2,.5zM918.5,333.5l3.5-.5-1.5-7-3.5,.5zM795,164l8-2-20-7.5-8.5,2zM685,138l8-3-21-2.5-22.5-2-6.5,3.5 22,1.5zM252,242l-4-2.5-9,17 4,2.5zM922,318l4-.5-2-7-3.5,.5zM239,256.5l-4-2.5-8,19 4,2.5zM954.5,546l2,0-.5-5.5-2,0zM946,444.5l2.5,0-.5-6.5-2.5,.5zM768,145l9.5-2-14-4-16-3.5-9.5,2.5 15.5,3.5zM656.5,127.5l7.5-3-26.5-1.5-28-1.5-5,3.5 27,1zM300.5,175l-6.5-2.5-14,10.5 6,2.5zM262.5,209l-5.5-2-9.5,13.5 5,2zM243.5,237.5l-4.5-2.5-8,16.5 4,2.5zM958,540l2,0 0-6-2.5,.5zM957.5,528.5l2,0-.5-6-2,0zM222,247.5l-4.5-2-6.5,19 4.5,2zM948.5,365l3,0-.5-7-3.5,.5zM939.5,308.5l4-.5-1.5-7-4,0zM211,264.5l-4.5-2-5.5,22 4,2zM963.5,522l2,0 0-6-2.5,.5zM853,142l11.5-1-9-5-10.5-4.5-12.5,2 11,4zM558.5,104l1.5-3.5-45,.5-43,1.5 6,3.5 39.5-1.5zM966,486l2.5,0 0-6-2.5,0zM961.5,404.5l2.5,0-.5-6.5-2.5,0zM907,177.5l8.5-1-7-9-9,1zM971.5,568l2-.5-.5-5.5-2,0zM970.5,545l2,0 0-6-2,0zM967,404.5l3-.5-.5-6.5-3,.5zM967.5,364l3,0-.5-7-3,0zM957,261l4.5-.5-1-8-5,.5zM926.5,166l9.5-.5-6-9.5-10,.5zM969.5,343l3-.5 0-7-3.5,.5zM979,544.5l2,0 0-5.5-2,0zM977.5,467.5l2,0 0-6.5-2.5,.5zM976.5,442.5l2.5,0 0-6.5-2.5,0zM976.5,436l2.5,0 0-6-2.5,0zM968,276l4.5,0-.5-8-5,0zM741,87l16-1.5 18-1-17-1-19.5-1-21.5-.5-24.5-1-26.5-.5-29.5-.5-63-.5-3,3.5 49.5,.5 24,0 22.5,.5 21,.5 19.5,1 17.5,.5zM176.5,236l-5.5-1-2,18.5 5,.5zM173,219l-6-.5-1.5,16 5.5,.5zM973.5,227l5.5,0-.5-8.5-6,0zM947,124.5l16-.5-5.5-10.5-20,.5zM252,91l-37-1-12,5-8,5.5 26.5,.5 13-5 8-2.5zM984,436l3,0 0-6.5-3,0zM979.5,235.5l5.5,0 0-8.5-6,0zM1833,253l-5-.5-.5,21.5 4.5,0zM987,509.5l2,0 0-6-2,0zM985,218.5l6,0 0-8.5-6.5,0zM989,561.5l2,0 0-5.5-2,0zM989.5,485.5l2,0 0-6-2,0zM989.5,349.5l3.5,0 0-7-3,0zM992,429.5l2.5,0 .5-6-3,0zM998,201l7,0 1.5-9-7.5,0zM1817,234.5l-5.5,0 1.5,18.5 5,0zM993,601l1.5,0 0-5.5-1.5,0zM995,404l3,0 0-6.5-2.5-.5zM997.5,313.5l4,.5 0-7.5-3.5,0zM996,497.5l2,0 .5-6-2.5,0zM996,491.5l2.5,0 0-6-2.5,0zM997,442.5l2.5,0 0-6.5-2.5,0zM1007.5,284l4,0 1-8-4.5,0zM1059,125.5l15,1 8.5-5 10-5-18-1-8.5,5zM999.5,550.5l2,0 0-5.5-2-.5zM1002.5,436.5l2.5,0 0-6.5-2.5,0zM1003,417l3,0 0-6.5-2.5,0zM1007,391l3,0 .5-6.5-3,0zM1089,127.5l14,1.5 10.5-5 12.5-4.5-16.5-1.5-11,4.5zM1619.5,99l-18,3 14.5,1.5 13,2 22.5,4 17-2-22-4.5-13-2zM1793.5,255.5l-5,1 3.5,22 4.5-1.5zM1003.5,545l2,0 .5-6-2.5,0zM1006,467.5l2.5,.5 .5-6.5-2.5,0zM1213,101.5l18,2.5 17-1.5 19.5-1.5 20.5-1.5 23-1-14-3-24.5,1-22,1.5-20,2zM1601.5,102l-14.5,2.5 26.5,3.5 22.5,4 15.5-2.5-22.5-4-13-2zM1020,314.5l4,.5 1-7.5-4,0zM1784,258l-5,1.5 5,21.5 4-1.5zM1042.5,229.5l5.5,.5 3.5-8.5-6-.5zM1085,159l9.5,1 12.5-9-10.5-1zM1763,209.5l-6,1.5 6.5,14.5 5.5-1zM1779,259.5l-4.5,1 5,22 4.5-1.5zM1009,556.5l2.5,.5 0-6-2,0zM1774.5,260.5l-4.5,2 5.5,22 4-2zM1011.5,551l2,0 .5-5.5-2.5,0zM1770,262.5l-4,1.5 6,22.5 3.5-2zM1011.5,596l2,.5 .5-5.5-2-.5zM1012.5,579.5l1.5,0 .5-5.5-2,0zM1020.5,437.5l2.5,0 .5-6-2.5-.5zM1745.5,214l-5.5,2 8,15 5-2zM1753,229l-5,2 7,16.5 4.5-2zM1015.5,557l2,0 0-5.5-2,0zM1016,545.5l2,.5 0-6-2,0zM1027.5,392.5l3,0 .5-6.5-2.5,0zM1030.5,392.5l3,.5 .5-6.5-3-.5zM1034,366l3,0 1-6.5-3-.5zM1164.5,148.5l9.5,2 11.5-4 12.5-4-10-2-12.5,4zM1690,170l-7,2.5 14,10.5 6.5-2.5zM1019,563l2,.5 .5-6-2,0zM1025.5,469l2,.5 .5-6.5-2,0zM1729.5,220l-5,2 9,15 5-2zM1030,444.5l2.5,.5 1-6.5-3,0zM1677,175l-6,2.5 14.5,10.5 5.5-2.5zM1703.5,196.5l-5.5,2.5 22,25.5 4.5-2.5zM1022.5,575l2,0 0-5.5-2-.5zM1025,529l2.5,.5 .5-6-2.5,0zM1068,273.5l4.5,1 3-8-4.5-.5zM1071,266l4.5,.5 3.5-7.5-4.5-.5zM1216.5,147l9,2 14-3 15.5-3-8.5-2.5-15.5,3zM1478.5,130l-1.5,3.5 41.5,3.5 3.5-3.5zM1049.5,353.5l3,.5 1.5-6.5-3.5-.5zM1704.5,213.5l-4.5,2.5 11,13.5 4-2.5zM1742.5,278l-3.5,3 4.5,11 4,13 3-3.5-4-12.5zM1030,524l2,0 .5-6-2,0zM1134,197l6.5,1 11-7.5-7-1.5zM1028,581l1.5,.5 .5-6-2,0zM1241.5,154l7.5,2.5 29-5.5-7.5-3-15,3zM1270.5,148l7.5,3 33.5-4.5-6.5-3-18,2zM1057.5,362l3,.5 2-7-3.5-.5zM1068.5,320.5l4,.5 2-7-3.5-1zM1691,221.5l-4,3 11.5,13.5 11,15 3.5-3-10.5-15zM1032.5,570.5l2,0 .5-5.5-2-.5zM1035,542l2,0 .5-5.5-2-.5zM1035.5,536l2,.5 .5-6-2,0zM1042,471l2.5,.5 .5-6-2-.5zM1043.5,459l2.5,.5 1-6.5-2.5,0zM1077.5,306.5l3.5,1 3-7.5-4-.5zM1083,292l4,1 3.5-7.5-4-.5zM1044.5,471.5l2.5,.5 .5-6-2.5-.5zM1191,190l6.5,1.5 16-6.5-6.5-2zM1702.5,259l-3,3.5 11,17.5 10.5,21.5 2.5-4-10-21zM1040.5,548.5l2,.5 .5-6-2,0zM1122.5,250.5l5,1.5 6-7.5-5-1.5zM1128.5,243l5,1.5 7-7.5-5-1.5zM1577,181l-2.5,3.5 19,7 17.5,8 3-3.5-18-8zM1126,260.5l5,1 6-7.5-5-1zM1319.5,171l5,3 28-3-4.5-3zM1411.5,165.5l2.5,3.5 31,1 31,2.5 0-3.5-32.5-2.5zM1639.5,221l-3,3.5 14.5,11 13,12 3-3.5-13.5-12zM1238,194l5.5,2 18-5.5-5.5-2.5zM1605.5,206.5l-2.5,3.5 31,18 2.5-3.5zM1051.5,544.5l2,.5 .5-5.5-2-.5zM1057.5,498.5l2,0 1-5.5-2.5-.5zM1477,176.5l.5,3.5 49,8 1-3.5zM1174,237l5,2 9.5-7-5-1.5zM1123,301.5l4,1 4.5-7-4-1zM1123,309.5l3.5,1 4.5-7-4-1zM1204.5,227.5l5,2 11.5-6.5-5-2zM1234.5,217l5,2 14.5-5.5-5-2.5zM1371.5,187.5l3.5,3.5 26-1-3-3.5zM1065,524l2,.5 1-6-2-.5zM1067.5,506.5l2.5,.5 1-6-2.5-.5zM1110,366.5l3.5,1 2.5-6.5-3-1zM1133.5,320.5l3.5,1 4.5-6.5-4-1zM1177.5,267l4.5,2 8-6.5-4.5-2zM1406.5,197l3,3.5 25,.5-2-3.5zM1084,461l2.5,.5 1.5-6-2.5-.5zM1175,275.5l4,1.5 7-6.5-4-1.5zM1085,467.5l2.5,.5 1.5-6-2.5-.5zM1160,296.5l4,1.5 6-6.5-4-1.5zM1172,283.5l4.5,1.5 6.5-6.5-4-1.5zM1068.5,571.5l2,.5 1-5.5-2-.5zM1114.5,389.5l3,.5 2.5-6-3-1zM1174,293l4,1.5 6.5-6.5-4-1.5zM1588,257.5l-.5,4 14,9.5 14,10.5 1-4.5-14.5-10.5zM1084.5,516.5l2,1 1-6-2-.5zM1643.5,308.5l-.5,5.5 14.5,18.5 7.5,11.5 8.5,14-.5-8-8-12.5-7.5-11zM1107.5,435l2.5,1 2-6-2.5-1zM1141.5,362l3.5,1 3.5-6-3.5-1.5zM1153,343l3.5,1.5 4-6.5-3-1zM1102,472.5l2.5,.5 1.5-5.5-2.5-1zM1175.5,319.5l3.5,1.5 5.5-6.5-3.5-1.5zM1181,313l3.5,1.5 6-6-3.5-1.5zM1334,234.5l3.5,3.5 17-3-3.5-3zM1127,414.5l2.5,1 2.5-6-2.5-1zM1085.5,582l2,.5 1-5.5-2-.5zM1103.5,504.5l2.5,.5 1.5-5.5-2.5-1zM1110.5,488l2.5,.5 1.5-5.5-2.5-1zM1287,270l4,2.5 12-4-4-2.5zM1283.5,279.5l3.5,2.5 11.5-4-4-3zM1362,259.5l3,3 16-1.5-3.5-3zM1161.5,392.5l3,1 3.5-6-3-1zM1432,261l2,4 18,2-2-4zM1112.5,526l2.5,.5 1.5-5.5-2.5-.5zM1470.5,270l2,4 17.5,4 17.5,5-1.5-4.5zM1592,325.5l1.5,6 14,13 15,17-1.5-7-15-16zM1330,276.5l3,2.5 13.5-2.5-3.5-3zM1436.5,268.5l2.5,4 17.5,2-2-4zM1109.5,566.5l2.5,1 1-5.5-2-1zM1120.5,541l2,1 1.5-5.5-2-1zM1114.5,574.5l2,.5 1.5-5-2-1zM1168,424.5l2.5,1 3.5-5.5-3-1.5zM1189.5,390.5l3,1.5 4-5.5-3-1.5zM1110.5,602l2,.5 1.5-5-2-1zM1126.5,537l2,1 1.5-5.5-2-1zM1128,531.5l2,1 1.5-5.5-2-1zM1177.5,414.5l2.5,1 3.5-5.5-2.5-1.5zM1253,333l3.5,2.5 7.5-5-3.5-2zM1349.5,294l3.5,3.5 12.5-2-3-3.5zM1575,344l1.5,6 14,12.5 15,16-2-8-15-14.5zM1159,455l2.5,1 2.5-5.5-2.5-1zM1407,292.5l3,3.5 15,.5-3-3.5zM1132,533.5l2.5,1 1.5-5.5-2-1zM1185.5,418.5l3,1.5 3.5-5.5-3-1.5zM1372,301.5l3,3.5 13-1-3-3.5zM1228,371.5l3,2 6-5-3-2zM1388,304l3,3.5 13-.5-2.5-3.5zM1198.5,410.5l3,1.5 4-5.5-3-1.5zM1365.5,310l3,3 12.5-1.5-3-3zM1122.5,604.5l1.5,0 1.5-2.5-2-.5zM1194,423l2.5,1.5 4-5.5-3-1.5zM1126.5,597l2,1 1.5-5.5-2-1zM1148.5,522l2,1 2-5-2-1zM1157,513.5l2.5,1 2-5-2.5-1.5zM1389.5,322l3,3.5 12.5-.5-2.5-3.5zM1142.5,562.5l2.5,1 1.5-5-2-1zM1155,525.5l2.5,1 2-5.5-2.5-1zM1246.5,383l2.5,2 6-4.5-3-2.5zM1155.5,532l2,1 2-5.5-2-1zM1315.5,349.5l3,2.5 9-3-3-3zM1149,565.5l2,1 1.5-5-2-1zM1178,491.5l2.5,1.5 2.5-5.5-2.5-1zM1255,389l3,2 6-4.5-3-2zM1579,408.5l4,9 9,10.5 5.5,6.5 5.5,8 3.5,4.5 1,1.5 2-2.5-.5-.5-6.5-9-5.5-7.5-9.5-11.5zM1170.5,514l2.5,1 2-5-2-1.5zM1173,508.5l2,1.5 2.5-5.5-2.5-1zM1188,483.5l2.5,1.5 3-5-2.5-1.5zM1333.5,354.5l3,3 9.5-2.5-3-3zM1407,343.5l3,3.5 12.5,.5-3-4zM1157,563.5l2,1 2-5-2.5-1zM1182.5,501l2.5,1 2.5-5-2.5-1.5zM1509,374l2.5,5.5 16.5,9.5-3-6zM1165,555.5l2,1 2-5-2-1.5zM1175,529.5l2.5,1 2-5-2-1.5zM1204.5,472.5l2.5,1.5 3.5-5-3-1.5zM1317.5,372.5l3,2.5 8-3-3-3zM1467.5,362.5l2.5,4.5 14.5,4.5-3-4.5zM1320.5,375l3,2.5 8-3-3-2.5zM1514.5,385l3,6 16.5,10.5-3-6.5zM1301,388l3,2.5 7-3.5-3-2.5zM1358,367l3,3.5 9.5-2-3-3zM1361,370.5l3,3 9.5-1.5-3-3.5zM1424.5,366.5l3,4 12,1-3-4zM1576,443.5l6,12 5.5,7.5 2-3-2-2-6-8zM1228.5,459l2.5,1.5 4-4.5-2.5-2zM1452,374l3,4.5 13,3.5-3-5zM1196,515.5l2.5,1.5 2.5-5-2-1.5zM1231,460.5l3,2 4-5-3-1.5zM1317,392.5l3,2.5 7.5-3-3-3zM1376.5,375l2.5,3.5 10-1-3-3.5zM1430,374.5l3,4 12,1.5-3-4zM1511,399.5l3,6 16.5,10.5-3.5-6.5zM1234,462.5l2.5,2 4-5-2.5-2zM1335,389l3,3 8-2.5-2.5-3zM1499,397.5l3,5.5 15.5,8.5-3.5-6zM1193,533.5l2.5,1.5 2.5-5-2.5-1.5zM1235,471l2.5,1.5 4-4.5-2.5-2zM1508.5,415l3.5,6 16,10.5-3.5-7zM1207.5,523l2.5,1.5 3-5-2.5-1.5zM1512,421l3.5,6 16.5,12-4-7.5zM1366.5,399.5l3,3.5 8.5-1.5-2.5-3.5zM1436,398l3,4 12,2.5-3-4.5zM1292,435.5l3,2 5.5-3.5-2.5-2.5zM1199.5,556.5l2,1.5 2.5-5-2.5-1zM1220.5,517.5l2.5,2 3-5-2.5-1.5zM1306.5,430.5l3,2.5 6-3.5-2.5-2.5zM1445,411l3.5,4.5 11.5,3-3-5zM1203.5,559.5l2.5,1.5 2.5-5-2.5-1.5zM1396.5,411l2.5,4 10-.5-3-3.5zM1499.5,434.5l3.5,6.5 15.5,9.5-4-7zM1216,541.5l2.5,1.5 2.5-4.5-2-1.5zM1277,464.5l3,2 4.5-4-2.5-2zM1287,456.5l2.5,2 5.5-3.5-3-2.5zM1381,416.5l3,3.5 9-1-3-3.5zM1390,415.5l3,3.5 9-.5-3-3.5zM1189,604.5l2,0 2-2-2-1zM1193,596.5l2,1.5 2-5-2-1.5zM1195,591.5l2,1.5 2-5-2-1.5zM1479,433l3.5,5.5 13.5,6.5-3.5-6zM1195,598l2,1 2-4.5-2-1.5zM1245.5,507.5l2.5,2 3.5-4.5-2.5-2zM1360.5,436l3,3 7.5-1.5-3-3.5zM1497.5,462.5l4,6.5 15.5,11-4.5-8zM1512.5,472l4.5,8 8.5,6.5 9.5,9-5.5-10-9-7.5zM1328.5,460l2.5,3 6.5-3-3-3zM1393.5,442l3,4 8.5-.5-3-3.5zM1506,476.5l4.5,7 8,6.5 9,7.5-5.5-9.5zM1242.5,547.5l2.5,1.5 3-4.5-2.5-1.5zM1225.5,581l2,1.5 2.5-4.5-2-1.5zM1394,454l3,3.5 8.5,0-3-4zM1486,473l4,6.5 14.5,8.5-4.5-7zM1414.5,457.5l3,4 9.5,1-3.5-4.5zM1504.5,488l4.5,8 8.5,6 9,8-6-9.5zM1376.5,464l3,3.5 7.5-1-3-3.5zM1345,477.5l3,3 6.5-2.5-3-3zM1440,468.5l3,5 10.5,3-3.5-5.5zM1361,476l3,3 6.5-1.5-2.5-3.5zM1433.5,471.5l3,4.5 10,2.5-3.5-5zM1364,479l2.5,3.5 7-1.5-3-3.5zM1250.5,587.5l2.5,2 3-4.5-2.5-2zM1258.5,581l2.5,2 3-4.5-2-2zM1325,517l3,2.5 5-3-2.5-2.5zM1361.5,504.5l3,3 6.5-1.5-3-3.5zM1269.5,576.5l2.5,2 3-4-2-2zM1432.5,504l3.5,4.5 9.5,2.5-4-5.5zM1427,507l3,4.5 9.5,2-3.5-5zM1287,571l2.5,2 3.5-3.5-2.5-2.5zM1380,516.5l3,3.5 6.5-1-3-4zM1279,585l2.5,2 3-4-2-2zM1373,526.5l3,3.5 6.5-1.5-3.5-3.5zM1271,604.5l2.5,0 3-1.5-2.5-2zM1314,560l2.5,3 4-3.5-2.5-2.5zM1376,530l3,3.5 6.5-1.5-3-3.5zM1379,533.5l3,3.5 6.5-1-3-4zM1315,568.5l2.5,3 4-3.5-2.5-2.5zM1342,551l3,3 5-2.5-2.5-3zM1417.5,535l3.5,4.5 8,1.5-3.5-5zM1405.5,539l3.5,4 7.5,.5-3.5-4.5zM1421,539.5l3.5,5 8,1-3.5-4.5zM1391,565.5l3,4 6.5-.5-3-4zM1407.5,569l3.5,4 7,.5-3.5-4.5zM1330,599l2.5,3 4-3-2.5-3zM1334,596l2.5,3 4.5-2.5-2.5-3zM1397.5,573.5l3,4 7,0-3.5-4.5zM1355,589l3,3.5 5-2.5-3-3zM1394,578l3.5,4.5 6.5-.5-3.5-4.5zM1429.5,580l4,5 8.5,2.5-4-6zM1397.5,582.5l3,4 7,0-3.5-4.5zM1425.5,583.5l4,5 8,2-4-5.5zM1369,597l3,3.5 5.5-1.5-3.5-3.5zM1401,595.5l3.5,4 6.5,.5-3.5-5z"/>
<path fill="#b3e2ff" d="M617.5,601.5l2.5-3.5-4.5-2-3,3.5zM612.5,599.5l3-3.5-5.5-2-2.5,3.5zM542.5,585.5l4-5-8.5,2-4,5.5zM661,604.5l2.5-1-4-3.5-2.5,3zM545.5,563l3.5-5-8.5,2-4,5zM637.5,571l3-3-5-2.5-2.5,3zM529,545.5l4-5-9.5,3-4.5,6zM562,531l3.5-4-8,.5-3.5,4.5zM600.5,530l3-3.5-6.5-1.5-3,4zM573,527l3-4.5-7.5,0-3,4.5zM688,579.5l2.5-2-3.5-4-2.5,2.5zM575,514.5l3.5-4-7.5-.5-3.5,4.5zM701,574.5l2.5-2-3.5-4-2.5,2.5zM541.5,496.5l3.5-4.5-9.5,1.5-3.5,5zM511,506l4-6-11.5,5-4.5,6zM683.5,532.5l2.5-2-4-4-2.5,2.5zM507.5,499l4-6-12,5.5-4,6zM673,519.5l3-2.5-4.5-3.5-3,2.5zM737.5,591l2.5-1.5-2.5-4.5-2.5,2zM710,546l2.5-2-3.5-4-2.5,2zM555.5,466.5l3-4.5-9,1-3.5,4.5zM710,531.5l2.5-2-3.5-4-2.5,2zM610,463l3-3.5-7.5-2-2.5,3.5zM758,595l2-1.5-2-4.5-2,1.5zM722,536l2-2-3-4-2.5,2zM760,581l2-1.5-2.5-4.5-2,1.5zM738.5,544l2-1.5-3-5-2,2zM777,604.5l2.5,0-2-4-2.5,1.5zM781.5,604l2-1-2-5-2,1.5zM503,439.5l3-5.5-12.5,5-3.5,6zM758.5,549.5l2-1.5-2.5-4.5-2.5,1.5zM760.5,548l2.5-1.5-3-4.5-2,1.5zM754,526l2.5-1.5-3-5-2.5,1.5zM752.5,513l2.5-1.5-3-5-2.5,2zM743.5,484l2.5-1.5-3.5-5-2.5,2zM773.5,526.5l2.5-1.5-3-5-2,1.5zM768,516.5l2.5-1.5-3-5-2.5,1.5zM753,492l2-1.5-3-5-2.5,1.5zM482.5,408l3-5.5-14.5,7-3.5,6zM680.5,412l2.5-2.5-6-3.5-3,2.5zM670.5,402l2.5-2.5-6.5-3.5-3,2.5zM812.5,579.5l2-1-2-5.5-2,1.5zM596,367.5l3-3.5-10.5-1-3,3.5zM778.5,489.5l2.5-1.5-3-5-2.5,1.5zM688,387.5l3-2.5-7-4-3,2.5zM485.5,363l2.5-5-15.5,6-2.5,5.5zM741,417.5l3-2-5-5-2.5,2zM781,460l2.5-1.5-3-5-2.5,1.5zM773.5,443l2.5-1.5-3.5-5.5-2.5,1.5zM800.5,484l2.5-1.5-2.5-5.5-2.5,1.5zM580.5,329.5l3-3.5-12.5-.5-3,3.5zM621.5,327l3-3-11-2.5-3.5,3.5zM835,544l2-1-1.5-5.5-2.5,1zM802,456l2.5-1.5-3-5.5-2.5,1.5zM688,338l3-2.5-8-4-3.5,2.5zM607.5,313.5l3-3-12-2-3,3.5zM610.5,310.5l3.5-3.5-12.5-1.5-3,3zM829,496.5l2-1.5-2-5.5-2,1.5zM730.5,347.5l3-2-6.5-5-3.5,2zM489.5,304l2-4.5-16.5,5-16.5,6.5-2,4.5 17-6.5zM849,500.5l2-1-1.5-5.5-2.5,1zM773,357.5l3-1.5-5-5.5-3.5,1.5zM407.5,322l1.5-5.5-13.5,10-13.5,11.5-1.5,6 13.5-12zM827.5,430l2.5-1-2.5-6-3,1zM779,354.5l3.5-1.5-5-6-3.5,2zM383,332l1-6-14,13-14.5,16-2,7.5 15.5-17zM353.5,362.5l2-7.5-8,10-8.5,12-10,15-2,3.5 2.5,2 0-.5 1.5-2.5 5-8 9.5-13.5zM772,341.5l3-2-5.5-5.5-3.5,1.5zM799.5,369l3-1.5-4.5-6-3,1.5zM703,284.5l4-2.5-10.5-4.5-4,2.5zM547,258l2.5-4-18.5,1.5-2.5,4zM673,269l4-3-13-3.5-3.5,2.5zM512,258l1.5-3.5-37,7.5-1.5,4.5zM886.5,594.5l2-.5-.5-5.5-2,.5zM888,588.5l1.5-.5-.5-5.5-2,.5zM884,566.5l2-.5-1-5.5-2,.5zM871.5,511l2.5-1-1.5-5.5-2,.5zM654,256l4-3-15-3-3.5,3zM887,560l2-.5-1-6-2,1zM883.5,543l2-.5-1-5.5-2,.5zM851.5,427.5l2.5-1-2.5-6-2.5,1zM757.5,294.5l3.5-2-7.5-5.5-4,2zM894.5,592l2-.5-1-5.5-2,1zM816.5,346l3.5-1.5-4.5-6-3.5,1zM895.5,574.5l2-.5-.5-5.5-2,.5zM883,507.5l2-1-1-5.5-2.5,.5zM625,232.5l3.5-3-18.5-2.5-3.5,3.5zM893,546.5l2-1-1-5.5-2,.5zM361.5,291.5l-.5-4.5-13.5,12.5-14,15 0,5.5 14-15.5zM822,335.5l3.5-1-4-6.5-3.5,1.5zM389.5,266.5l-.5-4.5-14,9.5-14,10.5 0,5 14-11zM880,464.5l2.5-1-1.5-6-2.5,1zM388.5,258l-.5-4.5-14.5,9-14,10.5 1,4.5 14-10.5zM304,344l0-7-8,14-4.5,8-4.5,10-2.5,5.5-1,2.5 2.5,1.5 9.5-20zM388,253.5l-.5-4-14.5,9-14,10 .5,4.5 14-10.5zM912,604.5l2-.5-1-5.5-1.5,.5zM907,554.5l2.5-.5-1-6-2,.5zM900.5,514.5l2.5-.5-1-6-2.5,.5zM358,264l-1-4-14,11.5-13.5,13 1,4.5 13.5-13zM904,519.5l2-.5-1-5.5-2,.5zM891,455l2.5-.5-1.5-6.5-2.5,1zM417,226.5l-.5-4-31.5,14.5 1,4zM909.5,542l2.5-.5-1-5.5-2,.5zM890.5,442l2.5-.5-1.5-6-2.5,.5zM355.5,255.5l-1.5-4-13.5,11.5-13.5,12.5 1,4.5 13.5-13zM384,233l-1.5-4-30,18.5 1.5,4zM497,191.5l.5-3.5-46.5,8 .5,4zM381,225l-1.5-3.5-30.5,18 2,4zM896,421l3-.5-1.5-6.5-3,.5zM345,232l-2.5-3.5-14,11-13.5,12 2.5,4 13.5-12.5zM933,604.5l2,0-.5-4.5-2,0zM288,277.5l-2.5-4-11.5,18.5-6,10.5-5.5,12.5 1.5,4.5 6.5-12.5 5.5-11zM935,604.5l2,0-.5-5-2,.5zM928,532.5l2-.5-.5-5.5-2.5,0zM927,526.5l2.5,0-1-6-2,.5zM900.5,379.5l3-.5-2-7-3,1zM864.5,290.5l4.5-1-4.5-7.5-4,1zM929.5,526.5l2-.5-1-6-2,.5zM380.5,188.5l-3-3.5-18,8 3.5,3zM282,241l-3.5-3-11,15 3.5,3.5zM935,477.5l2.5-.5-1-6-2.5,0zM316.5,202l-4.5-3-13.5,11 4,3zM944.5,553l2,0-.5-6-2,.5zM902.5,306l4-.5-2.5-7.5-4,1zM298.5,210l-4.5-3-12.5,12-11,13.5 4,3 11.5-13.5zM946.5,553l2-.5-.5-5.5-2,0zM281.5,219l-4.5-2.5-11,13.5 4.5,2.5zM241.5,284l-3.5-3-4.5,11.5-4.5,12.5 3,3.5 4.5-13zM232,308.5l-3-3.5-4.5,15.5-2.5,8.5-2.5,10.5-1.5,6-.5,3.5-.5,1 3.5,.5 1-6 3-11 2.5-9zM545,135l1.5-3.5-47,2 1,3.5zM266,230l-4-2.5-10,14.5-9,17 4,2.5 9-17zM947,506l2.5-.5-.5-5.5-2.5,0zM951,529l2,0 0-6-2.5,.5zM257,225l-4.5-2.5-9,15 4.5,2zM955.5,563.5l2-.5-.5-5.5-2,0zM877.5,209.5l6.5-1-7-8-6.5,1zM227,273l-3.5-2.5-4,11-3.5,12 3.5,2.5 4-12zM895.5,225l5.5-1-5-8-6,1zM609.5,121.5l5-3-62-1-1.5,3.5zM495,123l-2-3.5-26,2-24.5,2.5 4.5,3 23.5-2zM408,132.5l-6.5-3-16.5,3-15.5,3.5 7,3 15-3zM376.5,139l-7-3-26.5,7.5 7.5,3zM247.5,220.5l-5-2.5-8.5,15 5,2zM223.5,270.5l-4-2-7,22.5 3.5,2.5 3.5-12zM242.5,218l-5.5-2-8,15 5,2zM962,539.5l2.5,0-.5-5.5-2,0zM942,323l4,0-1.5-7.5-3.5,.5zM882,170.5l9-1-10-9-9.5,1zM960,424.5l2.5-.5 0-6.5-3,.5zM916.5,204.5l6.5-.5-4.5-9-7,1zM970.5,601.5l2,0-.5-5.5-1.5,0zM968,533.5l2.5,0-.5-6-2,0zM955,336.5l3.5,0-1-7.5-3.5,.5zM899.5,168.5l9-1-8.5-9-9.5,.5zM207,193.5l-7-1-5,13.5 6.5,1zM197,222l-6-1-4,16.5 5.5,1zM188.5,257l-4.5-1-3.5,21.5 4.5,1zM338.5,97l-24.5-2.5-13.5,2.5-11.5,2-10,2.5-9,2.5 21,1.5 10-2 11-2.5 12.5-2zM979.5,573l2,0-.5-5.5-1.5,0zM977,449l2.5-.5-.5-6-2.5,0zM973.5,356.5l3,0 0-7-3.5,.5zM952,183.5l8,0-2.5-9.5-8.5,.5zM981.5,578.5l2,0 0-5.5-2,0zM967.5,227.5l6-.5-1-8.5-6,.5zM966.5,219l6-.5-1-8.5-6.5,0zM202.5,132l-14-1-5.5,10.5 12,1zM171,235l-5.5-.5-1.5,18.5 5,.5zM893,92.5l36-1-8-2.5-10-3-14-2.5-9-1.5-11-1.5-30.5,1-27,1 14.5,1 12.5,1 10.5,1.5 9,1.5 15.5,2.5zM984.5,497.5l2.5,0 0-6-2.5,0zM984,423.5l3,0-.5-6.5-2.5,0zM982.5,313.5l3.5,0 0-7.5-4,0zM1829,203l-7,0 .5,15 6,0zM1828.5,218l-6,0 0,16.5 5.5,0zM990,306l4,0 0-7.5-4,0zM1822.5,218l-6.5,0 1,16.5 5.5,0zM991.5,509.5l2,0 0-6-2,0zM992.5,397l3,0 0-6.5-3,0zM1712.5,79.5l-32,1-27.5,1 14,1 12.5,1 11,1.5 9.5,1 15.5,2.5 12.5,2.5 38-1-8-2.5-11-3-14-2.5-9.5-1zM994,485.5l2,0 .5-6-2.5,0zM1795,141.5l-12.5,1 5.5,11 10.5-1zM998,397.5l3,0 0-7-2.5,0zM999.5,436l3,.5 0-6.5-2.5,0zM1002,377.5l3,0 0-7-3,0zM1002.5,430l2.5,0 .5-6.5-2.5,0zM1011,291.5l4,.5 1-8-4.5,0zM1017,244.5l5,0 1.5-8-5.5-.5zM1788.5,205l-6.5,1 4,15 6-1zM1020.5,252.5l5,.5 1.5-8-5-.5zM1410.5,89.5l2,3.5 58,1 27.5,.5 25.5,1 13-3-28.5-1-31-1zM1668.5,107.5l-17,2 17.5,4.5 15,4 15.5-1.5-14-4.5zM1771.5,179.5l-7.5,1 6,13 7-1.5zM1796.5,277l-4.5,1.5 2,12.5 2,14 3.5-1-1.5-14.5zM1770,193.5l-6.5,1 6,13.5 6-1zM1011.5,455.5l2.5,.5 .5-6.5-2.5,0zM1022,358l3.5,0 .5-7-3,0zM1010,596l1.5,0 .5-5.5-2,0zM1022.5,385l3,.5 .5-6.5-3-.5zM1028,337l3.5,.5 1-7-3.5-.5zM1775.5,284.5l-3.5,2 3,13 3,15 3.5-2-3-15zM1011.5,602l2,0 0-5.5-2-.5zM1014,539.5l2,.5 .5-6-2,0zM1022,481l2.5,.5 .5-6.5-2.5,0zM1036,352l3.5,.5 1-7-3-.5zM1757.5,268l-4,2.5 3.5,10.5 4,12 3.5-2.5zM1040.5,345.5l3.5,.5 1.5-7-3.5-.5zM1052,295l4,.5 2.5-7.5-4.5-.5zM1061.5,264.5l5,1 3-8-4.5-.5zM1753.5,270.5l-4,2 4,11 4,12.5 3.5-3-4-12zM1749.5,272.5l-3.5,2.5 4,11 4,12.5 3.5-2.5-4-12.5zM1026.5,511.5l2,.5 .5-6-2-.5zM1039,393.5l3,.5 1-6.5-3-.5zM1036,439l2.5,.5 .5-6.5-2.5-.5zM1039,413.5l3,.5 1-6.5-3-.5zM1693,201.5l-5,2.5 12,12 4.5-2.5zM1026.5,569.5l2,.5 .5-6-2,0zM1739,281l-3.5,3 4.5,11 4.5,13.5 3-3.5-4-13zM1031.5,530l2,0 .5-5.5-2-.5zM1039.5,452l2.5,.5 .5-6-2.5-.5zM1036.5,524.5l2,.5 .5-6-2,0zM1039.5,495l2,.5 .5-6-2,0zM1043,465l2,.5 1-6-2.5-.5zM1086.5,285l4,.5 4-7-4.5-1zM1094,270l4.5,1 4-7.5-4.5-1zM1566.5,161.5l-3,3 22.5,6.5 3.5-3.5zM1107.5,256l4.5,1 5.5-7.5-5-1zM1218,174l7,2 21-6-7-2.5zM1044.5,490l2.5,.5 .5-6-2.5-.5zM1666.5,218.5l-3.5,3.5 13,12 12,13 3.5-3-12-13.5zM1035.5,604.5l2,0 .5-5.5-2,0zM1037,588l2,0 .5-5.5-2,0zM1051,460l2.5,.5 1-6-2.5-.5zM1334,158.5l5,3 32.5-2-4-3.5zM1140.5,237l5,1.5 8-7.5-5-1.5zM1053,479l2.5,.5 1-6-2.5-.5zM1056.5,473.5l2,.5 1-6-2-.5zM1059.5,455.5l2.5,.5 1-6.5-2.5-.5zM1043,604.5l2,0 .5-4-2-.5zM1075.5,393l2.5,.5 2-6.5-3-.5zM1299,178l5.5,3 25-4-5-3zM1603,210l-2,3.5 31,18.5 2-4zM1055,533.5l2,.5 .5-5.5-2-.5zM1659,255l-2,3.5 13,14.5 12.5,16.5 2-4.5-12.5-16zM1092,369l3,.5 2.5-6.5-3-.5zM1119,308.5l4,1 4-7-4-1zM1657,258.5l-2,4 13,14.5 12.5,16.5 2-4-12.5-16.5zM1395,183l3,3.5 28,.5-2.5-4zM1053.5,596.5l2,.5 .5-5.5-2-.5zM1098.5,370.5l3,1 2.5-6.5-3-1zM1072,483l2,.5 1.5-6-2.5-.5zM1079.5,447l2.5,.5 1.5-6-3-.5zM1328,195.5l4,3 22.5-2.5-3.5-3.5zM1095.5,398l3,.5 2-6.5-3-.5zM1058.5,603l2,.5 .5-5.5-1.5-.5zM1432.5,197.5l2,3.5 24,2 24.5,3-1-3.5-25-3zM1061,598l2,.5 1-5.5-2-.5zM1150,309.5l3.5,1.5 5-6.5-3.5-1.5zM1088.5,474.5l2.5,1 1.5-6-2.5-.5zM1267.5,233.5l4.5,2.5 14.5-5-4.5-2.5zM1558,242.5l0,4 29.5,15 .5-4zM1073,584l2,.5 .5-5.5-1.5-.5zM1150.5,334l3.5,1.5 4.5-6.5-3.5-1zM1615.5,281.5l0,5 13.5,12.5 14,15 .5-5.5-14-14.5zM1112.5,436.5l2.5,1 2.5-6-3-1zM1119,418.5l3,1 2-6-2.5-1zM1558.5,259.5l0,4 28.5,16 0-4.5zM1090.5,530.5l2.5,1 1-6-2-.5zM1092,525l2,.5 1-5.5-2-.5zM1132,395l3,1 3-6-3-1zM1135,389l3,1 3-6-3-1zM1100.5,497l2.5,1 1.5-6-2.5-.5zM1132,402.5l3,1 3-6-3-1.5zM1240,275.5l4,2 10-5-4-2.5zM1531,264l.5,4.5 29,13-.5-4.5zM1588,294l0,5 14,11 14,12.5-.5-5.5-14-12.5zM1090.5,577.5l2,.5 1-5.5-2-.5zM1143.5,399.5l3,1 3-6-3-1zM1149.5,394.5l3,1.5 3-6-3-1.5zM1117,484l2.5,.5 1.5-5.5-2.5-1zM1098.5,580l2,1 1-5.5-2-1zM1314,276.5l3.5,3 12.5-3-3.5-3zM1112,537.5l2,1 1.5-5.5-2-1zM1593.5,331.5l1,5.5 14.5,14.5 7.5,8 8,10-2-8-15-17zM1214,346.5l3.5,1.5 6-5.5-3.5-1.5zM1106,594.5l2,.5 1-5-2-1zM1340,285l3,3 13-2.5-3-3zM1512.5,296.5l1.5,4.5 15,6.5 15.5,7.5-2-5-15-7.5zM1126.5,519l2.5,1 1.5-5.5-2-1zM1224,352l3,1.5 6-5-3-2zM1140.5,493l2,1 2.5-5.5-2.5-1zM1285.5,314.5l3.5,2.5 9.5-4-3.5-2.5zM1518,310.5l1.5,4.5 15,7 14.5,8.5-1.5-5.5-15-8zM1195.5,393.5l2.5,1.5 4.5-5.5-3-1.5zM1379,293.5l3,3.5 13.5-.5-3-3.5zM1114.5,603.5l2,.5 1-5-2-1zM1159,462l2.5,1 2.5-5.5-2.5-1.5zM1147.5,496l2,1 2.5-5.5-2.5-1zM1135,541l2,1 1.5-5.5-2-1zM1188.5,420l2.5,1.5 3.5-5.5-2.5-1.5zM1234.5,375.5l3,1.5 5.5-5-3-2zM1146.5,527.5l2.5,1 1.5-5.5-2-1zM1185.5,447.5l2.5,1.5 3.5-5.5-3-1.5zM1240.5,379l3,2 5.5-5-3-2zM1181.5,466.5l2.5,1 3-5-2.5-1.5zM1185.5,482.5l2.5,1 3-5-2.5-1.5zM1144.5,604.5l2,0 1.5-3.5-2-1zM1146,600l2,1 1-5.5-2-1zM1229,429l2.5,1.5 4.5-5-2.5-1.5zM1387,348l3,3.5 11-.5-3-4zM1189.5,505l2.5,1 2.5-5-2.5-1.5zM1224.5,449l3,1.5 4-5-3-1.5zM1241.5,429.5l3,2 4.5-5-3-2zM1155,599l2,1 2-5.5-2-1zM1200,491l2.5,1.5 3-5.5-2.5-1.5zM1517.5,391l3,6 17,11-3.5-6.5zM1267,415l3,2 5.5-4-3-2.5zM1351.5,372.5l3,3 9.5-2-3-3zM1191.5,519l2,1.5 2.5-5-2-1.5zM1225,464l2.5,1.5 3.5-5-2.5-1.5zM1252.5,437l2.5,2 5-4.5-3-2zM1226.5,472l2.5,2 3.5-5-2.5-1.5zM1231.5,475.5l2.5,2 3.5-5-2.5-1.5zM1411.5,392l2.5,3.5 11,1-3-4zM1218.5,509.5l2.5,1.5 3-4.5-2-1.5zM1489.5,417.5l3,5.5 14.5,7.5-3.5-6zM1214,533.5l2.5,2 3-5-2.5-1.5zM1292,444l3,2.5 5.5-4-3-2.5zM1322,426l3,3 6.5-3-2.5-3zM1511,437l3.5,6.5 17,12.5-4.5-8zM1206,554.5l2.5,1.5 2.5-4.5-2.5-1.5zM1239.5,510.5l2.5,1.5 3.5-4.5-2.5-2zM1199,594.5l2,1 2-4.5-2-1.5zM1207.5,581.5l2,1 2.5-4.5-2-1.5zM1297.5,465.5l3,2.5 5-3.5-2.5-2.5zM1338,451.5l3,3 6.5-2.5-2.5-3zM1501.5,469l4.5,7.5 16,11.5-5-8zM1306,481.5l2.5,2.5 5.5-3.5-3-2.5zM1473.5,467l3.5,6 13,6.5-4-6.5zM1290,507l2.5,2.5 4.5-4-2.5-2zM1330.5,480l2.5,2.5 6-2.5-2.5-3zM1306.5,498.5l2.5,2.5 5-3.5-2.5-2.5zM1322,488.5l2.5,3 5.5-3-2.5-3zM1341.5,491.5l2.5,2.5 6-2-2.5-3zM1430.5,479l3.5,4.5 9.5,2-3.5-4.5zM1271,550l2.5,2 3.5-4-2.5-2zM1378.5,496l3,3.5 7-1-3-3.5zM1247,604l2,.5 3-3-2.5-1.5zM1277.5,562.5l2,2 3.5-4-2-2zM1295.5,557.5l2.5,2.5 4-4-2.5-2zM1294.5,563.5l2,2.5 4-4-2.5-2zM1282.5,581l2,2 3.5-3.5-2-2.5zM1336.5,536.5l2.5,3 5-3-2.5-2.5zM1382.5,528.5l3,3.5 6.5-1-3-3.5zM1435.5,529.5l4,5 9,2.5-3.5-5.5zM1402.5,534.5l3,4.5 7.5,0-3.5-4.5zM1487,560.5l6,8.5 7.5,6 9,8-7.5-11.5zM1398.5,539l3,4 7.5,0-3.5-4zM1457,548.5l4,6.5 11.5,5.5-5-7zM1381.5,571.5l3,3.5 6.5-1-3.5-3.5zM1404,582l3.5,4.5 7,0-3.5-4.5z"/>
<path fill="#ffffff" d="M594,580.5l3.5-3.5-6-1.5-3.5,4zM582,578.5l3.5-4-6.5-.5-3.5,4zM628,566l3-3.5-5.5-2-2.5,3zM684,604.5l2.5-2.5-3.5-3.5-2.5,2zM543.5,546.5l3.5-5-8.5,1.5-4,5.5zM636.5,557l2.5-3-5-3-2.5,3zM661.5,569l2.5-2.5-4-3.5-3,2.5zM693.5,595.5l2.5-2-3.5-4-2.5,2zM712,599l2.5-1.5-3-4.5-2.5,2zM666,549.5l2.5-2.5-4.5-3.5-2.5,2.5zM652.5,540l2.5-3-5-3-2.5,3zM589.5,515.5l3-3.5-7-1-3,4zM582.5,515l3-4-7-.5-3.5,4zM708.5,589l2-2-3-4-2.5,2zM554.5,511l3.5-4.5-8.5,1-3.5,4.5zM677.5,545.5l2.5-2-4-4-2.5,2.5zM682.5,541l2.5-2.5-4-3.5-2.5,2.5zM681,535l2.5-2.5-4-3.5-2.5,2.5zM677.5,523l2.5-2.5-4-3.5-3,2.5zM536,481.5l3.5-5-10,2.5-3.5,5zM730,557.5l2-2-3-4.5-2,2zM729,551l2.5-1.5-3-4.5-2.5,2zM706,513l2.5-2.5-4-4-2.5,2zM648,469l3-3-6-3-3,3zM673,479.5l2.5-2.5-5-3.5-3,2.5zM718.5,517.5l2.5-2-3.5-4.5-2.5,2zM685.5,484.5l2.5-2.5-5-3.5-2.5,2zM496,450.5l3.5-6-13,6.5-4,6zM655.5,443.5l3-2.5-6.5-3-2.5,2.5zM480,446l3.5-6-14.5,8-4,7zM785.5,601.5l2-1.5-2-4.5-2,1zM758,543.5l2-1.5-2.5-5-2.5,1.5zM729.5,501.5l2.5-2-3.5-4.5-2.5,2zM756.5,524.5l2-2-2.5-4.5-2.5,1.5zM717.5,473l3-2-4.5-4-2.5,2zM749.5,508.5l2.5-2-3-4.5-2.5,1.5zM794,584l2-1.5-2-5-2,1.5zM779,549l2-1.5-2-5-2.5,1.5zM756,497l2.5-2-3.5-4.5-2,1.5zM802,585.5l2-1.5-1.5-5-2.5,1zM796.5,570l2-1-2-5-2,1zM752,485.5l2.5-1.5-3.5-5-2.5,1.5zM664.5,407.5l3-3-7-3-3,2.5zM727.5,450.5l2.5-2-4.5-4.5-2.5,2zM794.5,552.5l2-1.5-2-5-2,1.5zM734.5,453l2.5-1.5-4.5-5-2.5,2zM725.5,444l3-2-5-4.5-2.5,2zM799,550l2-1.5-2-5-2.5,1.5zM717,426l2.5-2-5-4.5-3,2.5zM807,564l2-1-2-5-2,1zM816,583.5l2-1-1.5-5-2,1zM813,567l2-1-1.5-5.5-2.5,1.5zM545.5,360l2.5-4-12.5,1.5-2.5,4zM803.5,534.5l2-1-2-5-2.5,1zM642.5,366.5l3-3-9-2.5-3,2.5zM813.5,554.5l2-1.5-1.5-5-2.5,1zM556.5,344l3-3.5-13,.5-2.5,4zM757,430.5l2.5-1.5-4-5.5-3,2zM795.5,486.5l2.5-1.5-2.5-5-2.5,1zM715,384.5l3-2-6-4.5-3,2zM803,496l2.5-1.5-2.5-5.5-2.5,1.5zM803,489l2.5-1-2.5-5.5-2.5,1.5zM761,420.5l2.5-2-4-5-3,1.5zM737.5,395l3-2-5-5-3,2zM555,329.5l3-4-13.5,1-3,4zM755,408.5l3-2-4.5-5-3,1.5zM803,476l2-1.5-2.5-5.5-2.5,1.5zM839,566l2.5-1-1.5-5-2.5,1zM810.5,485.5l2-1-2.5-5.5-2,1zM589.5,319l3-3.5-13-1-3,4zM837.5,536.5l2-1-1.5-5.5-2,1zM832,520l2.5-1-2-5-2,1zM858,604.5l2,0-1.5-5.5-2,1zM844.5,551.5l2-.5-1.5-5.5-2,1zM780.5,409l2.5-1.5-4-5.5-2.5,1.5zM421.5,347.5l2-5.5-14,9.5-14,12-2.5,7 14.5-12.5zM842,534.5l2-1-1.5-5.5-2.5,1zM756.5,375l3-1.5-5.5-5.5-3,2zM739.5,359.5l3.5-2-6.5-5-3,2zM713,340l3.5-2.5-7.5-4.5-3.5,2.5zM453,325.5l2-5-15,7-15,9-1.5,5.5 15-9zM456.5,315.5l2-4.5-14.5,6.5-15,8.5-2,5 15-8.5zM850,537.5l2-1-1.5-5.5-2,1zM853.5,542l2-1-1.5-5.5-2,1zM852,536.5l2-1-1.5-5.5-2,1zM733.5,336.5l3-2-7-5.5-3,2.5zM495.5,291l2.5-4.5-17,4.5-17,6-2,4.5 17-6zM841,484.5l2.5-1-2-5.5-2.5,1zM835,461l2.5-1-2.5-6-2.5,1zM713,310l3.5-2-9-5-3.5,2.5zM685,296.5l3.5-2.5-10.5-4-3.5,2.5zM859,527.5l2.5-1-1.5-5.5-2.5,1zM858.5,515.5l2-1-1.5-5.5-2,1zM846,476l2.5-1-2-5.5-2.5,1zM410,311.5l1.5-5-13.5,9-14,10.5-1,6 13.5-11zM821.5,411.5l3-1.5-3-6-3,1.5zM876,569.5l2-1-1.5-5.5-2,1zM814.5,392.5l3-1.5-3.5-6-3,1.5zM803.5,374.5l3-1-4-6-3,1.5zM876.5,563l2-.5-1-5.5-2,.5zM824,403l3-1-3-6-3,1zM778.5,338l3.5-1.5-5.5-6-3.5,2zM413.5,296.5l.5-5-13.5,8.5-13.5,10-1,5 14-10zM881,573.5l2-.5-1-5.5-2,.5zM867.5,512.5l2-1-1.5-5.5-2,.5zM857.5,478l2.5-.5-2-6-2.5,1zM835.5,419.5l3-1-3-6-2.5,1.5zM801.5,360l3-1.5-4.5-6-3,1.5zM889.5,599.5l2-.5-1-5.5-2,.5zM888.5,594l2-.5-1-5.5-1.5,.5zM887,583l2-.5-1-5.5-2,.5zM857,459l2.5-1-2-6-2.5,1zM798.5,345.5l3.5-1.5-5-6.5-3,1.5zM777.5,321.5l3.5-2-6.5-5.5-3.5,1.5zM415.5,282l1-4.5-14,8-14,9-.5,5 14-9.5zM661.5,250.5l4-3-15-3.5-3.5,3zM417,273l.5-4.5-28,16.5-.5,4.5zM875.5,497l2.5-.5-1.5-6-2.5,1zM618,238.5l3.5-3-18-2-3.5,3.5zM418,264l0-4-28.5,15.5 0,4.5zM867.5,449l2.5-1-2-6-2.5,1zM418,260l.5-4.5-29,15.5 0,4.5zM902.5,604.5l2,0-1-3.5-1.5,.5zM818,329.5l3.5-1.5-5-6.5-3.5,1.5zM808,316.5l3.5-1.5-5.5-6-3.5,1.5zM888.5,499.5l2-.5-1-6-2.5,.5zM815,314l4-1.5-5.5-6.5-3.5,1.5zM873,420.5l2.5-1-2-6-2.5,1zM856.5,377l3-1-3-6.5-3,1zM796,286.5l4-1.5-7-6.5-4,2zM564,204.5l3-3.5-25,.5-2.5,3.5zM794,269l4.5-1.5-8-6.5-4,1.5zM917.5,603l2,0-.5-5.5-2,0zM905,513.5l2.5-.5-1-6-2.5,.5zM896,466.5l2.5-1-1.5-6-2.5,1zM885.5,423.5l2.5-.5-1.5-6-3,.5zM913.5,553l2-.5-1-5.5-2,0zM888,423l3-.5-2-6.5-2.5,1zM795,259l4.5-1.5-8-6.5-4.5,1.5zM416,218.5l-1-3.5-32.5,14 1.5,4zM354,251.5l-1.5-4-14,11-13,13 1.5,4 13.5-12.5zM914,541l2-.5-1-5.5-2,.5zM906.5,495l2.5-.5-1-6-2.5,.5zM889,416l3-.5-2-6.5-2.5,1zM887.5,410l2.5-1-1.5-6-3,.5zM782.5,244.5l4.5-2-9.5-6.5-5,2zM382.5,229l-1.5-4-30,18.5 1.5,4zM922.5,596.5l2-.5-.5-5.5-2,.5zM910,500l2-.5-1-5.5-2,.5zM857.5,324l3.5-1-4-6.5-3.5,1zM787,242.5l5-1.5-9.5-7-5,2zM755,223.5l5-2.5-13-6-5.5,2zM351,243.5l-2-4-14,11-13.5,12.5 2,4 13.5-12.5zM915,517l2,0-1-6-2,.5zM894.5,414.5l3-.5-2-6-2.5,.5zM922,557l2-.5-.5-6-2,.5zM903,439l3-.5-1.5-6-2.5,.5zM848.5,294.5l4-1-4.5-7-4,1zM929.5,604.5l1.5,0-.5-4-1.5,.5zM810.5,244.5l4.5-1.5-8-7-5,1.5zM931,604.5l2,0-.5-4.5-2,.5zM930.5,600.5l2-.5-.5-5.5-2,.5zM930,572.5l2-.5-.5-5.5-2,.5zM922,504l2-.5-.5-6-2.5,.5zM908.5,425l2.5-.5-1-6.5-3,.5zM933.5,589l2-.5-.5-5.5-2,.5zM936.5,599.5l2,0-.5-5.5-2,0zM916.5,423.5l2.5-.5-1-6.5-3,.5zM937.5,565.5l2,0-.5-6-2,.5zM418.5,172l-2.5-3.5-21.5,6-20,7 3,3.5 20-7zM935.5,525.5l2.5-.5-1-6-2,.5zM919.5,409.5l2.5-.5-1-6.5-3,.5zM907.5,357l3-.5-2-7-3,.5zM873.5,272l4-1-4-7.5-4.5,1zM940,524.5l2,0-.5-6-2,.5zM274.5,235.5l-4-3-10.5,15 4,2.5zM260,247.5l-4-3-9,17 3.5,3zM945,506l2,0-.5-6-2,.5zM247,261.5l-4-2.5-8.5,19-4,11.5-4.5,12.5 3,3 4.5-12.5 4.5-11.5zM897,259l4.5-.5-3.5-8-5,1zM243,259l-4-2.5-8,19 3.5,2.5zM898,250.5l5-.5-4-8-5.5,.5zM273.5,197l-5.5-2.5-11,12.5 5.5,2zM235,254l-4-2.5-7.5,19 3.5,2.5zM948,438l2.5,0-.5-6.5-2.5,.5zM908,249l5-.5-3.5-8-5.5,.5zM956.5,511l2-.5-.5-5.5-2,0zM962.5,591l2-.5-.5-5.5-1.5,.5zM932,294l4.5-.5-2-7.5-4,.5zM936.5,293.5l4,0-1.5-7.5-4.5,0zM966.5,596l2,0-.5-5.5-1.5,0zM942,301l4-.5-1.5-7.5-4,.5zM968.5,604.5l2,0 0-3-2,0zM954,358l3-.5-.5-7-3.5,.5zM927.5,230l6-.5-3-8.5-6,.5zM938.5,245.5l5,0-2-8.5-5.5,.5zM930.5,221l6-.5-3-8.5-6.5,.5zM927,212.5l6.5-.5-3.5-8.5-7,.5zM228.5,183.5l-7.5-1.5-7,12.5 6.5,1.5zM970,527.5l2,0 0-6-2,.5zM239,159l-9.5-1.5-8.5,11 8.5,1.5zM969,443l2.5-.5 0-6-3,0zM968,424l2.5-.5 0-6.5-3,.5zM944.5,228.5l6-.5-2-8.5-6,.5zM814.5,110.5l18.5-2-10.5-2.5-12-2-13.5-2.5-15.5-2-20,2.5 15.5,2 14,2 12.5,2zM291,105.5l-21-1.5-14,4.5-11.5,5 17.5,1.5 13-5zM979.5,567.5l1.5,0 0-6-2,.5zM978.5,533l2.5,0-.5-6-2,.5zM976,423.5l2.5,0 0-6.5-2.5,0zM975,397.5l3,0 0-7-3,0zM972.5,335.5l3.5,0-.5-7-3.5,0zM978.5,423.5l3,0 0-6.5-3,0zM983.5,573l1.5,0 0-5.5-2,0zM982.5,503.5l2.5,0-.5-6-2,0zM173,176.5l-8.5-.5-1.5,13 7.5,.5zM1846.5,176.5l-8.5-.5-1,13 7.5,.5zM985,556l2,0 0-5.5-2,0zM987,515.5l2,0 0-6-2,0zM987,503.5l2,0 0-6-2,0zM987,442.5l2.5,0 0-6.5-2.5,0zM986.5,390.5l3,0 0-6.5-3,0zM986.5,363.5l3,0 0-7-3,0zM986.5,349.5l3,0 .5-7-3.5,0zM989,595.5l2,0 0-5.5-2,0zM989,584l2,0 0-5.5-2,0zM989.5,479.5l2,0 0-6-2,0zM989.5,448.5l2.5,0 0-6-2.5,0zM989.5,410.5l2.5,0 .5-6.5-3,0zM989.5,384l3,0 0-7-3,0zM990,283.5l4.5,0 0-8-4.5,0zM990,275.5l4.5,0 .5-7.5-4.5,0zM991,590l2,0 0-5.5-2-.5zM992,423.5l3,0 0-6.5-3,0zM993.5,328l3.5,0 0-7-3.5,0zM994.5,291l4,0 .5-7.5-4.5,0zM993.5,521.5l2,0 0-6-2,0zM994,491.5l2,0 0-6-2,0zM995.5,384l3,0 0-7-3,0zM997,335.5l3.5,0 0-7-3.5-.5zM995,584.5l2,0 0-6-2,0zM995,550.5l2.5,0 0-6-2,0zM997.5,423.5l2.5,0 .5-6.5-3,0zM1002.5,356.5l3.5,.5 .5-7-3.5,0zM999,556l2,0 .5-5.5-2,0zM1001.5,461.5l2.5,0 0-6.5-2.5,0zM1004,391l3,0 .5-6.5-3-.5zM1061.5,136.5l13,1 14.5-10-15-1zM1640.5,96.5l-21,2.5 14,2 13,2 22,4.5 19.5-2-10-2.5-11-2-12.5-2zM1004.5,442.5l2.5,.5 .5-6.5-2.5,0zM1006.5,397.5l3,0 .5-6.5-3,0zM1022,244.5l5,.5 2-8.5-5.5,0zM1055.5,156.5l10,1 9-9.5-11-1zM1782,206l-6.5,1 5,15 5.5-1zM1006.5,461.5l2.5,0 0-6-2.5,0zM1030,277.5l4.5,0 2-7.5-4.5-.5zM1749,183l-7.5,1.5 8.5,13 6.5-1.5zM1774.5,240.5l-5,1.5 5,18.5 4.5-1zM1010.5,574l2,0 .5-5.5-2-.5zM1019.5,418l2.5,.5 .5-6.5-2.5-.5zM1030.5,323l3.5,0 1-7-3.5-.5zM1759.5,245.5l-4.5,2 6.5,18.5 4.5-2zM1013.5,602l1.5,0 .5-5.5-2,0zM1017.5,516.5l2,.5 .5-6-2.5-.5zM1024,425l3,0 .5-6-3-.5zM1052.5,263.5l4.5,.5 3-7.5-5-1zM1021.5,487l2.5,.5 .5-6-2.5-.5zM1033,372.5l3,.5 1-7-3,0zM1042.5,316.5l4,.5 1.5-7-3.5-.5zM1046,302l4,.5 2-7.5-4-.5zM1060,256.5l5,.5 3-8-5-.5zM1092,199l6.5,1 8-8-7-1.5zM1743,232.5l-4.5,2.5 7.5,16.5 4.5-2zM1018.5,568.5l2,.5 .5-5.5-2-.5zM1034,386.5l3,0 1-6.5-3-.5zM1048,310l4,.5 2-7.5-4-.5zM1174,150.5l9.5,1.5 11.5-3.5 12.5-4-9.5-2-12.5,4zM1720,206.5l-5.5,2.5 10,13 5-2zM1034.5,406.5l2.5,0 1-6.5-2.5,0zM1037,386.5l3,.5 1-6.5-3-.5zM1038,380l3,.5 1.5-7-3.5,0zM1041.5,359.5l3,.5 1.5-6.5-3.5-.5zM1427,124l1.5,3.5 50,2.5 1.5-3.5zM1563.5,135.5l-5,3.5 30,6 6-3zM1742,253.5l-4,2.5 8,19 3.5-2.5zM1023,597.5l2,0 0-5.5-1.5-.5zM1023.5,586l2,.5 .5-5.5-2-.5zM1024.5,569.5l2,0 .5-5.5-2-.5zM1026,546.5l2,.5 .5-6-2,0zM1028,523.5l2,.5 .5-6-2.5-.5zM1028.5,541l2,.5 .5-6-2,0zM1035.5,464l2.5,.5 .5-6-2.5-.5zM1052.5,354l3.5,.5 1.5-6.5-3.5-.5zM1659.5,183l-5,3 15,10 5-3zM1075,290.5l4,1 3-7.5-4-.5zM1475.5,140.5l-.5,3.5 35.5,3.5 32.5,5 3.5-3.5-34-5zM1034,524.5l2.5,0 .5-5.5-2.5-.5zM1040.5,465l2.5,0 .5-6-2.5-.5zM1044.5,453l2.5,0 1-6-3-.5zM1102.5,255l5,1 5-7.5-5-1zM1610,174.5l-4,3.5 18.5,8 17,9 4-3.5-17-8.5zM1043.5,477.5l2.5,.5 1-6-2.5-.5zM1098.5,271l4,1 4.5-7.5-4.5-1zM1102.5,263.5l4.5,1 5-7.5-4.5-1zM1045,484l2.5,.5 1-6-2.5-.5zM1047,472l2,.5 1-6.5-2.5,0zM1088,301l4,1 3.5-7.5-4-.5zM1036.5,593.5l2,0 .5-5.5-2,0zM1078.5,337l3.5,.5 2-7-3.5-.5zM1112,265.5l4.5,1 5-7.5-4.5-1zM1649,211l-3.5,3 14,11 13.5,12 3-3-13-12zM1041,588.5l1.5,.5 .5-5.5-1.5-.5zM1045,543.5l2,.5 1-6-2.5,0zM1100,303.5l3.5,1 4-7-4-1zM1107,289l4.5,1 4-7-4-1zM1047.5,561l2,.5 .5-5.5-2-.5zM1100.5,319.5l4,.5 3-6.5-3.5-1zM1115.5,291l4,1.5 4.5-7.5-4-1zM1048,573l2,0 1-5.5-2-.5zM1049.5,561.5l2,.5 .5-5.5-2-.5zM1568,195.5l-1.5,3.5 34.5,14.5 2-3.5zM1108,321l3.5,1 3.5-7-3.5-1zM1684.5,285l-2,4.5 12.5,19.5 6.5,12.5 6.5,14 1.5-6-6.5-13.5-6.5-11.5zM1082,401.5l3,.5 2-6.5-3-.5zM1084,395l3,.5 2-6.5-3-.5zM1099.5,349l3.5,1 2.5-7-3-.5zM1068,476l2.5,.5 1-6-2-.5zM1089,389l2.5,1 2.5-6.5-3-1zM1093,376l3,1 2.5-6.5-3.5-1zM1081,428l2.5,.5 2-6.5-3-.5zM1089.5,396.5l3,.5 2-6.5-3-.5zM1145.5,283l4.5,1.5 5.5-7-4-1.5zM1126,318.5l4,1 4-7-3.5-1zM1193.5,244l5,2 9.5-6.5-4.5-2zM1057,602.5l1.5,.5 1-5.5-2,0zM1066,530l2.5,.5 .5-5.5-2-.5zM1104.5,372l3,1 2.5-6.5-3-1zM1086,442l2.5,.5 1.5-6-2.5-.5zM1113,360l3,1 3-6.5-3-1zM1093.5,424.5l2.5,.5 2-6-3-1zM1240.5,231.5l5,2.5 13-5.5-4.5-2.5zM1119.5,362l3,1 3-6.5-3-1zM1129,342.5l3.5,1 3.5-6.5-3.5-1zM1084.5,480l2.5,.5 1.5-6-2.5-.5zM1183,278.5l4,1.5 7.5-6-4-2zM1238,241.5l4,2.5 12.5-5.5-4.5-2.5zM1074,549.5l2,.5 1-5.5-2-.5zM1162.5,306l3.5,1.5 5.5-6.5-3.5-1.5zM1070.5,589l1.5,.5 1-5.5-2-.5zM1077,544.5l2,.5 1-5.5-2-.5zM1095.5,457.5l2.5,1 1.5-6-2.5-1zM1102,433.5l3,1 1.5-6.5-2.5-.5zM1117.5,390l3,1 2.5-6-3-1zM1151.5,326.5l3.5,1.5 4.5-6.5-3.5-1.5zM1156,320l3.5,1.5 5-6.5-3.5-1.5zM1106.5,428l3,1 2-6-2.5-1zM1120.5,391l3,1 2.5-6-3-1zM1290.5,233.5l4,3 15.5-4-4-3zM1113.5,417l3,.5 2-6-2.5-1zM1126,393l3,1 3-6-3-1zM1587,270.5l0,4.5 14,10 14,11 0-5-14-11zM1088.5,530l2,.5 1.5-5.5-2.5-.5zM1100.5,478l2,1 2-6-2.5-.5zM1587,275l0,4.5 14,10 14,11.5 0-5-14-11zM1094.5,513.5l2,1 1.5-6-2.5-.5zM1124,413.5l3,1 2.5-6-3-1zM1090.5,542.5l2,.5 1.5-5.5-2.5-.5zM1108.5,468l2.5,1 1.5-6-2.5-1zM1122,426.5l3,1 2-6-2.5-1zM1094,537.5l2,.5 1-5.5-2-.5zM1112.5,463l2.5,1 2-6-2.5-1zM1125,427.5l2.5,1 2.5-6-3-1zM1144,385l3,1 3-6-3-1zM1086.5,588l2,.5 1-5.5-2-.5zM1113,469.5l2.5,1 2-6-2.5-.5zM1157.5,368l3,1.5 4-6.5-3.5-1zM1189,342l3.5,1.5 5-5.5-3.5-1.5zM1347,261.5l3.5,3.5 14.5-2.5-3-3zM1103.5,564.5l2,.5 1.5-5.5-2-.5zM1114,520.5l2.5,.5 1.5-5.5-2.5-1zM1565,306l1,5 13.5,9.5 14,11-1.5-6-13.5-10.5zM1160.5,406.5l3,1.5 3-6-2.5-1.5zM1197,354.5l3,1.5 5.5-6-3.5-1.5zM1211,344.5l3,2 6-5.5-3.5-2zM1259.5,307.5l3.5,2.5 9-5-3.5-2zM1103,599l2,1 1-5.5-2-1zM1193.5,369l3,1.5 5-5.5-3-2zM1208.5,352l3.5,1.5 5.5-5.5-3.5-1.5zM1226,335.5l3.5,2 6.5-5.5-3-2zM1212,353.5l3,2 5.5-5.5-3-2zM1316,291.5l3.5,2.5 11.5-3-3.5-3zM1110,584.5l2,.5 1.5-5-2-1zM1209.5,361l3,1.5 5.5-5.5-3-1.5zM1233,339.5l3,1.5 7-5-3.5-2zM1112,585l2,1 1.5-5.5-2-.5zM1113.5,580l2,.5 1-5.5-2-.5zM1136,497.5l2.5,1 2-5.5-2.5-1zM1138,492l2.5,1 2-5.5-2.5-1zM1449,288l2,4 16.5,3-2-4zM1142.5,487.5l2.5,1 2-5.5-2.5-1zM1260.5,328.5l3.5,2 8-4.5-3.5-2.5zM1268.5,323.5l3.5,2.5 8-4.5-3-2.5zM1392.5,293l3,3.5 14.5-.5-3-3.5zM1437.5,294l2.5,4 16,2-2.5-4zM1283.5,324l3.5,2.5 8.5-4.5-3-2.5zM1382,297l3,3.5 13.5-.5-3-3.5zM1119,593.5l2,1 1-5.5-2-.5zM1161.5,463l2.5,1 2.5-5.5-2.5-1zM1263,339.5l3,2.5 8-4.5-3.5-2.5zM1295.5,322l3.5,3 9-4-3-2.5zM1185,425.5l2.5,1.5 3.5-5.5-2.5-1.5zM1281.5,333l3.5,2.5 8.5-4-3.5-2.5zM1121.5,600.5l2,1 1-5.5-1.5-1zM1150,510.5l2.5,1 2-5.5-2.5-1zM1130.5,581l2,1 1.5-5.5-2-1zM1152.5,518l2.5,1 2-5.5-2.5-1zM1168.5,486.5l2,1.5 3-5.5-2.5-1.5zM1153,530.5l2.5,1.5 2-5.5-2.5-1zM1424,333l2.5,4 13.5,1.5-2.5-4.5zM1290,369.5l3,2.5 7.5-4-3-2.5zM1194,473.5l2.5,1 3-5-2.5-1.5zM1168.5,532l2,1.5 2.5-5.5-2.5-1zM1199.5,469.5l2.5,1.5 3-5-2.5-1.5zM1166.5,544l2.5,1 2-5-2.5-1.5zM1190,498.5l2,1 3-5-2.5-1.5zM1230,437.5l3,1.5 4-5-2.5-1.5zM1496,372.5l3,5 15.5,7.5-3-5.5zM1165,561.5l2,1.5 2-5.5-2-1zM1233,439l2.5,2 4.5-5-3-2zM1237,434l3,2 4.5-4.5-3-2zM1246,424.5l3,2 5-4.5-3-2zM1278.5,397.5l3,2.5 6-4-2.5-2.5zM1312.5,378.5l3,2.5 8-3.5-3-2.5zM1230,452.5l2.5,1.5 4-4.5-2.5-2zM1278.5,406.5l2.5,2 6-4-2.5-2zM1214.5,478.5l2.5,2 3.5-5-2.5-1.5zM1314,389.5l3,3 7.5-3.5-3-2.5zM1393.5,369.5l3,4 11-.5-3-3.5zM1284,411l3,2.5 6-4-3-2.5zM1407.5,373l3,4 11,.5-3-4zM1168,588l2.5,1 1.5-5-2-1zM1179.5,557.5l2.5,1 2-5-2-1zM1191,532l2,1.5 2.5-5-2-1.5zM1219.5,482l2.5,1.5 3.5-5-2.5-1.5zM1457.5,383l3,4.5 13.5,4-3-5zM1218.5,488.5l2.5,1.5 3.5-4.5-2.5-2zM1214.5,500l2.5,1.5 3-5-2-1.5zM1538,430.5l4,7.5 9.5,8.5 11,11.5-5-10.5-10.5-9.5zM1171,601.5l2,1 1.5-5-2-1zM1336,400.5l3,3 8-3-3-3zM1324.5,409l2.5,3 7.5-3-3-3zM1180.5,589l2,1 2-5-2-1zM1184,579l2.5,1 2-5-2.5-1zM1207.5,529l2,1.5 3-4.5-2.5-1.5zM1284,437l2.5,2 5.5-3.5-2.5-2.5zM1336,420.5l2.5,2.5 7.5-2.5-3-3zM1358.5,413l3,3 8-1.5-3-3.5zM1312,435.5l3,2.5 6.5-3-3-3zM1372.5,417.5l3,3.5 8.5-1-3-3.5zM1393,419l3,3.5 9,0-3-4zM1412,418.5l3,4 10,.5-3-4zM1208,568.5l2,1.5 2.5-4.5-2-1.5zM1195,604l2,.5 2-4-2-1.5zM1300.5,459.5l2.5,2.5 5.5-3.5-2.5-2.5zM1203,591l2.5,1.5 2-5-2-1.5zM1220,557.5l2,1.5 2.5-4.5-2-2zM1314,455l3,3 6-3.5-3-2.5zM1201,602l2,1.5 2-5-2-1.5zM1205.5,592.5l2,1 2-4.5-2-1.5zM1251.5,519.5l2.5,2 3.5-4.5-2.5-2zM1218.5,582.5l2,1.5 2.5-4.5-2-1.5zM1271.5,506.5l2.5,2 4-4-2.5-2.5zM1220.5,584l2.5,1.5 2.5-4.5-2.5-1.5zM1245.5,543l2.5,1.5 3-4-2.5-2zM1408,449.5l3,4 9.5,.5-3-4zM1228,576.5l2,1.5 2.5-4.5-2-1.5zM1349.5,463.5l3,3 6.5-2-3-3.5zM1225,587.5l2,1.5 2.5-4.5-2-2zM1235,575l2,2 3-4.5-2.5-2zM1237,577l2.5,1.5 2.5-4.5-2-1.5zM1276,525l2.5,2.5 4-4-2.5-2.5zM1288.5,513.5l2.5,2 4-3.5-2.5-2.5zM1224.5,604.5l2,0 2.5-1.5-2.5-1.5zM1312,503.5l2.5,2.5 5-3-2.5-2.5zM1401,473.5l3,4 8.5,0-3-4zM1409.5,473.5l3,4 8.5,.5-3-4.5zM1272.5,543.5l2,2.5 4-4.5-2.5-2zM1454,488.5l3.5,5.5 11,4-4-5.5zM1309,532.5l2.5,2.5 4.5-3.5-2.5-2.5zM1263.5,585l2,1.5 3-4-2-2zM1298.5,545.5l2.5,2.5 4.5-3.5-3-2.5zM1272,578.5l2.5,2 3-4-2.5-2zM1285.5,562.5l2.5,2.5 4-4-2.5-2zM1286,577l2,2.5 4-4-2.5-2.5zM1275,595l2.5,2 3-4-2.5-2zM1355,532l3,3 5.5-2-2.5-3zM1280.5,593l2.5,2 3-3.5-2-2.5zM1308,569.5l2.5,2.5 4.5-3.5-3-2.5zM1326,565l2.5,3 4.5-3-2.5-3zM1429,541l3.5,4.5 9,2.5-3.5-5.5zM1298,603l2.5,1.5 3.5-3-2.5-2.5zM1339.5,579l2.5,3 4.5-2.5-2.5-3zM1313,603l2.5,1.5 3.5-2-2.5-2.5zM1316.5,600l2.5,2.5 4-3-2.5-3zM1362,573l2.5,3 5.5-1.5-3-3.5zM1443.5,570l4,6 10,3.5-4.5-6zM1426,574.5l3.5,5.5 8.5,1.5-4-5zM1336.5,599l3,3 4.5-2.5-3-3zM1456,597l5,7 11,.5-5.5-2z"/></g></g>
<path d="M233.3,68.8V601.5M303.1,68.8V601.5M372.8,68.8V601.5M442.5,68.8V601.5M512.3,68.8V601.5M582,68.8V601.5M651.7,68.8V601.5M721.5,68.8V601.5M791.2,68.8V601.5M860.9,68.8V601.5M930.7,68.8V601.5M1000.4,68.8V601.5M1070.1,68.8V601.5M1139.9,68.8V601.5M1209.6,68.8V601.5M1279.3,68.8V601.5M1349.1,68.8V601.5M1418.8,68.8V601.5M1488.5,68.8V601.5M1558.3,68.8V601.5M1628,68.8V601.5M1697.7,68.8V601.5M1767.5,68.8V601.5" stroke="#fff" stroke-width="3" stroke-dasharray="3 8.03" fill="none"/>
<path d="M163.7,133.8H1836.9M163.7,200.5H1836.9M163.7,267.3H1836.9M163.7,334H1836.9M163.7,400.8H1836.9M163.7,467.5H1836.9M163.7,534.3H1836.9" stroke="#fff" stroke-width="3" stroke-dasharray="3 8.03" fill="none"/>
<rect x="998.5" y="67.4" width="3.5" height="534.1" fill="#d2441c"/>
<rect x="854.9" y="367.4" width="68.7" height="80.4" fill="none" stroke="#fff" stroke-width="3"/>
<path d="M138.4,67.4H163.3M151.2,80.8H163.3M151.2,94.1H163.3M151.2,107.5H163.3M151.2,120.8H163.3M151.2,134.2H163.3M151.2,147.5H163.3M151.2,160.9H163.3M151.2,174.2H163.3M151.2,187.6H163.3M138.4,200.9H163.3M151.2,214.3H163.3M151.2,227.6H163.3M151.2,241H163.3M151.2,254.3H163.3M151.2,267.7H163.3M151.2,281H163.3M151.2,294.4H163.3M151.2,307.7H163.3M151.2,321.1H163.3M138.4,334.4H163.3M151.2,347.8H163.3M151.2,361.1H163.3M151.2,374.5H163.3M151.2,387.8H163.3M151.2,401.2H163.3M151.2,414.5H163.3M151.2,427.9H163.3M151.2,441.2H163.3M151.2,454.6H163.3M138.4,467.9H163.3M151.2,481.3H163.3M151.2,494.6H163.3M151.2,508H163.3M151.2,521.3H163.3M151.2,534.7H163.3M151.2,548H163.3M151.2,561.4H163.3M151.2,574.7H163.3M151.2,588.1H163.3M138.4,601.5H163.3M163.3,601.5V609.1M233,601.5V605.5M302.8,601.5V605.5M372.5,601.5V609.1M442.2,601.5V605.5M512,601.5V605.5M581.7,601.5V609.1M651.4,601.5V605.5M721.2,601.5V605.5M790.9,601.5V609.1M860.6,601.5V605.5M930.4,601.5V605.5M1000.1,601.5V609.1M1069.8,601.5V605.5M1139.6,601.5V605.5M1209.3,601.5V609.1M1279,601.5V605.5M1348.8,601.5V605.5M1418.5,601.5V609.1M1488.2,601.5V605.5M1558,601.5V605.5M1627.7,601.5V609.1M1697.4,601.5V605.5M1767.2,601.5V605.5M1836.9,601.5V609.1" stroke="#222" stroke-width="1.1" fill="none"/>
<text x="129.3" y="90.1" text-anchor="end">90</text>
<text x="129.3" y="213.9" text-anchor="end">80</text>
<text x="129.3" y="347.4" text-anchor="end">70</text>
<text x="129.3" y="480.9" text-anchor="end">60</text>
<text x="129.3" y="601.6" text-anchor="end">50</text>
<text x="163.6" y="655.8" text-anchor="middle">0</text>
<text x="372.8" y="655.8" text-anchor="middle">3</text>
<text x="582" y="655.8" text-anchor="middle">6</text>
<text x="791.2" y="655.8" text-anchor="middle">9</text>
<text x="1000.4" y="655.8" text-anchor="middle">12</text>
<text x="1209.6" y="655.8" text-anchor="middle">15</text>
<text x="1418.8" y="655.8" text-anchor="middle">18</text>
<text x="1628" y="655.8" text-anchor="middle">21</text>
<text x="1837.2" y="655.8" text-anchor="middle">24</text>
<text x="1000" y="695.6" text-anchor="middle">Local Time (hours)</text>
<text transform="translate(59.9,333.7) rotate(-90)" text-anchor="middle" style="font-size:37.2px;letter-spacing:-0.28px">Latitude (<tspan style="font-size:28px" dx="-0.5" dy="-5.8">°</tspan><tspan dx="-1.2" dy="5.8">)</tspan></text>
<text class="t" x="1000" y="751.4" text-anchor="middle">Southern hemisphere</text>
<rect x="162.7" y="766.8" width="1674.2" height="534.9" fill="#000"/>
<g clip-path="url(#c2)"><g filter="url(#bl)" shape-rendering="crispEdges"><path fill="#001498" d="M723,778l8-9 5.5-4.5 8.5,0 6,0-6.5,0-8,0-5.5,1.5zM730.5,804l4.5-5.5 4-4.5 6-7.5 9-16.5 6.5-5.5-6.5,0-8.5,15.5-6,10-4,6zM798.5,774.5l4-4.5 6.5-5.5-3.5,0zM802.5,770l4-4 6-1.5-3.5,0zM788,812.5l5.5-6.5 5-12.5 4.5-11.5-4.5,5-4.5,12zM803,782l4-4 6.5-13.5-3.5,0zM792,822l6-6.5 5-13 4.5-12-4.5,5-4.5,12zM819,778.5l3.5-3.5 5.5-10.5-3.5,0zM819.5,791.5l3.5-3.5 6-19.5-3,3zM823,788l3.5-3.5 5.5-19-3,3zM823.5,801.5l3.5-4 6-20-3,3.5zM786,894l2,2.5 1-2 5-9-6.5,8.5-1,1 0-.5zM818,838l4.5-5 4.5-13 4-11.5-3.5,4-4.5,12zM815.5,858l5.5-6.5 5.5-14.5 4.5-13-4,4.5-5,13.5zM797.5,914l2,2.5 1.5-3 5.5-10.5 4-8 3-6.5 5.5-11.5 4-9.5-6,7-5,11-7,14.5-5,10-1.5,3zM844.5,795l3-3 4.5-18-2.5,2.5zM855,771.5l2.5-2.5 3.5-4.5-2.5,0zM844.5,842.5l4-3.5 6.5-23.5-3,3zM869.5,773l2.5-2 3-6.5-2.5,0zM851,854l4-4 6.5-24-3,3zM872,771l2.5-1.5 3-5-2.5,0zM825.5,935.5l2.5,1.5 1-2 4.5-10 6.5-15-7,9-4,9-2.5,5.5zM861,863l3.5-3.5 6.5-25-3,3-3,12zM864.5,859.5l3.5-3.5 6-24-3,2.5zM868,856l3-3 6-23.5-3,2.5zM881,809l3-2 3.5-18.5-2.5,2zM854.5,916l5-6 6.5-19.5 4.5-16.5-3.5,4-5,17-3.5,9.5zM867,878l3.5-4 3.5-14 3.5-12.5-3,2.5-3.5,13zM843.5,951.5l2.5,2 .5-1 2.5-6.5 4-9.5 3-8 4.5-13 3.5-11-4.5,5.5-4,12-2.5,7-3.5,8.5-4.5,10.5zM847.5,957l5-7.5 3.5-5.5 3.5-9 2.5-7.5 4.5-12.5 3-10.5 3-9.5-4,4.5-3,10-4,11.5-5,14.5-3.5,9.5-2.5,5.5zM891.5,801l2-1.5 3-17.5-2,1.5zM883.5,861.5l3-2.5 5-23.5-3,2zM883,884l3-3 3.5-14 2.5-13-2.5,2.5-3,13zM894,833.5l2.5-2 3.5-20-2.5,1.5zM896.5,831.5l2.5-2 3.5-20-2.5,2zM901,868l3-2 4-24-2.5,2zM916,770.5l2.5-1 1.5-5-2,0zM884,960.5l2.5,1 .5-1 2.5-9 4-14.5 3-12-4,4-3.5,13-2,7.5-2.5,9zM913.5,820l2.5-1.5 2.5-18.5-2,1.5zM916.5,801.5l2-1.5 2-17-2,1zM923,797.5l2-1 2-16.5-2,1zM929.5,811l2-1 2-17.5-2,1zM932,828l2-1 2-19-2,1zM937.5,791l2-1 1.5-16-2,1zM936,826l4.5-2 1.5-18.5-4,2zM936,867.5l4.5-2.5 2-22.5-4,2zM933,925l5.5-3.5 2-17.5 1.5-15-4.5,2.5-2,15.5zM942.5,842.5l4.5-1.5 1.5-20-4,1.5zM929.5,978l5.5,1.5 0-.5 1-5.5 1.5-9-7,7.5-1,5zM947,841l4-1.5 1.5-20-4,1.5zM952,770.5l3.5-1 1-5-3.5,0zM954.5,785l4-1 1-15.5-4,1zM939,989l5.5,1 3-20 2-15.5-6,4.5-1,8-1.5,9-1.5,12zM960.5,881.5l4.5-1.5 1.5-24-4.5,1zM960.5,948l5-2.5 1.5-20.5 1-17.5-5,1.5-1,17.5-1,10zM966.5,856l4-1 1-21-4,1zM972.5,906.5l4.5-1 .5-15 .5-13-4.5,.5-.5,13.5zM973.5,878l4.5-.5 .5-24-4,1zM975.5,833.5l3.5-.5 .5-19-3.5,.5zM979,833l4-.5 .5-19-4,.5zM983.5,813.5l4,0 0-17.5-4,.5zM987,853l4,0 0-21-4,.5zM987.5,813.5l3.5,0 0-17.5-3.5,0zM987.5,780l3.5,0 0-15-3.5,0zM991,813.5l4,0 0-17.5-4,0zM991,796l4,0-.5-16-3.5,0zM1006,942l5,1.5-1-20.5-.5-17-5-1 .5,17zM1003,832.5l4,.5-.5-18.5-4-.5zM1006,797l3.5,.5-.5-16.5-3.5-.5zM1016,945l5.5,2-1-11-.5-10-1.5-17.5-4.5-1.5 1,17.5zM1011.5,854.5l4,1-.5-21-4-1zM1011,833.5l4,1-1-19-4-.5zM1009,781l3.5,.5-.5-15-3.5-.5zM1021.5,881l4.5,1.5-2-24.5-4-1.5zM1026,882.5l4.5,1.5-2-25-4.5-1zM1019.5,767.5l3.5,1-1-4-3.5,0zM1043.5,920l5,4-2-18-2-15.5-5-2.5 2,15zM1044.5,890.5l5,3-2-14-1.5-13-4.5-2zM1039.5,842l4,2-2-20.5-4-1.5zM1065,985.5l5.5-2-10.5-50.5-6-5 2,11 2,12.5 3,16 2,10 1.5,6.5zM1070,942.5l3.5,4-2.5-12.5-2-11-3.5-18-3-2.5 3,18 2,10zM1058,873.5l3,1.5-3.5-24-2.5-1.5zM1050.5,809.5l2,1-2-17.5-2-1zM1073.5,946.5l4,4.5-3-13.5-2.5-11.5-3.5-19-3-2 3.5,18 2,11zM1065.5,905l3,2-3-16-2-14-2.5-2 2,14zM1061.5,798l2,1-2-16.5-2-1zM1061.5,782.5l2,1-1.5-16-2.5-1zM1065.5,800.5l2.5,1-2.5-17-2-1zM1063.5,783.5l2,1-1.5-16-2-1zM1068,801.5l2,1.5-2-17.5-2.5-1zM1080.5,866.5l2.5,2-4.5-24-2.5-2zM1105,888.5l3.5,4-4-16-3.5-14-3-2.5 3,13.5zM1091.5,817l2.5,2-3.5-19-2.5-1.5zM1090.5,800l2.5,2-3-18-2.5-1.5zM1092,771l2,1.5-2.5-8-2,0zM1110,851l3.5,3-6-24-2.5-2zM1097,789l2.5,2-3-17-2.5-1.5zM1121.5,883l4,4.5-5-16-4-14.5-3-3 3.5,13.5zM1107.5,830l3,3-4.5-21.5-3-2zM1123.5,864.5l4,3.5-4.5-14-3.5-13-3-2.5 3.5,12zM1111,785l2.5,2-3.5-17-2.5-2zM1113.5,787l2.5,2-3.5-17-2.5-2zM1110,770l2.5,2-3-7.5-2.5,0zM1165.5,935l2-2-1-2-3-6-4.5-9.5-3.5-8-5-12.5-5.5-6.5zM1150.5,895l6,8.5-5-12-4-10.5-6-17-4-4.5 5.5,16 3,9zM1123.5,811l3,2.5-5-19.5-2.5-2.5zM1115,774l2.5,2-3.5-11.5-2.5,0zM1117.5,776l2.5,2-3.5-13.5-2.5,0zM1131,787.5l3,3-4.5-18.5-2.5-2zM1147,834l4,4.5-8-24.5-3.5-3.5zM1139.5,810.5l3.5,3.5-6-21-3-2.5zM1129.5,772l3,2.5-4-10-3,0zM1151,838.5l4,4.5-4.5-13.5-4-12-3.5-3.5zM1164.5,853.5l5.5,6.5-7-16-5-14-4-4.5 4.5,13zM1154,825.5l4,4.5-8-24-3.5-3.5zM1150,806l3.5,3.5-6-21-3.5-3zM1167,840l5,6-6-15-4.5-13-4-4.5 4.5,12.5zM1148,775.5l3.5,3.5-5-14.5-3,0zM1175,833l5.5,6.5-6.5-15-4.5-13-4.5-4.5 4.5,12.5zM1201,875l2-2.5-.5-.5-2-3.5-6.5-12.5-7.5-9 5,10 6,12zM1173,801.5l4.5,4.5-8-22.5-4-3.5zM1170,771l4,4-6.5-10.5-3.5,0zM1221.5,865.5l2-3-.5,0-3-5-7-9-5-6 7.5,13 6,9.5zM1202,806.5l6.5,8-7-15.5-5.5-13-5-5.5 5,12zM1212.5,792.5l7,8.5-7.5-15-5.5-13-5.5-5.5 5,11.5zM1218.5,787l7.5,9-8-15.5-6-13-5.5-3 5.5,9zM1233.5,792.5l5.5,7 7.5,8.5-4.5-7-3.5-5.5-5.5-10-8.5-15-6-6 6.5,11.5zM1259.5,780.5l1.5-3.5-.5,1-1-1-2-2.5-7-8 7,11.5zM1250.5,766.5l7,8 2,2.5 1,1 .5-1-4-5.5-6.5-7-9,0-7,0 6.5,0 4.5,0z"/>
<path fill="#0031b1" d="M723,794.5l1,3 3-4 5-7.5 3.5-6 6-9.5 4.5-6-9.5,9.5-7.5,11.5-5.5,8zM739,801.5l1,1.5 .5,.5 0,.5 1.5-2 6.5-11 5-8.5 7.5-15-7,8.5-4.5,8-5.5,10-4,5.5zM767.5,784.5l6-7.5 9.5-12.5-4.5,0-5,6.5zM779,771l5-5.5 7.5-1-4,0zM747,837l1.5,2.5 .5,0 5-8.5 4-6.5 6-11-4.5,6-6,7.5-5,7.5zM778.5,796.5l5.5-6.5 9.5-23-4.5,5-4.5,11.5zM764.5,841l10-12 8.5-17.5 6-14-5.5,6.5-7.5,16-5,9.5zM798.5,800.5l4.5-5 8-21.5-4,4zM803,809.5l4.5-5 8-22-4,4zM815.5,782.5l3.5-4 5.5-14-3,0zM770.5,886l2,2.5 1.5-3 3.5-5.5 5-9 4-7 5.5-11.5-8.5,11-4,7-5.5,9.5zM811.5,800l4-4.5 7-20.5-3.5,3.5zM826,771.5l3-3 5-4-3,0zM815.5,810l4-4.5 7-21-3.5,3.5zM786,894l.5,.5 0,.5 1-1 6.5-8.5 6.5-13.5 5-11 7.5-17.5-5.5,6.5-4,9.5-5,10.5-7,14-5,9zM807.5,850l5.5-6.5 6-14.5 4.5-12.5-4,4.5-5.5,13.5zM788.5,895l2,2.5 .5-1 5-9 7-13.5-9,11.5-5,9zM794,885.5l9-11.5 4.5-11 4-9 6.5-16-5,5.5-7.5,17.5-5,11zM839.5,772l3-3 4-4.5-2.5,0zM831,824l3.5-4 6.5-22-3,3.5zM817,874.5l6-7 6-16.5 5-14-4,4.5-5.5,15zM834.5,872.5l4.5-5 5-15.5 4.5-13-4,3.5-4.5,14zM863,793l2.5-2.5 4-17.5-2.5,2zM858.5,846.5l3-3 6-23-3,2.5zM859,886l4-4 4.5-15.5 3.5-13.5-3,3-4,14zM878.5,811l2.5-2 4-18.5-2.5,1.5zM882.5,824.5l2.5-2 4-19.5-2.5,2zM887.5,820.5l2.5-2 3.5-19-2,1.5zM896,798l2.5-2 2.5-17-2,1.5zM868,927.5l4.5-6 3.5-11 2.5-9.5 4.5-17-3.5,3.5-4.5,17.5-3.5,10.5zM886,881l3.5-3 3-13.5 2.5-12.5-3,2-2.5,13zM881,912l3.5-4 4.5-17.5 3.5-15-3,2.5-4,15.5zM905,808l2-1.5 3-17.5-2.5,1.5zM907.5,790.5l2.5-1.5 2-16.5-2,1.5zM888.5,904l3-3.5 4-16 3-14-3,2-3,15zM895.5,872.5l3-2 4.5-25-2.5,2zM904,826l2.5-1.5 3-19.5-2.5,1.5zM912,772.5l2-1 2-7-2,0zM879.5,945.5l5-6 3.5-13 2.5-11 4.5-18-3.5,3-4.5,19.5-3.5,11.5zM903,845.5l2.5-1.5 3.5-21-2.5,1.5zM909,823l2.5-1.5 2.5-19-2,1.5zM914,786.5l2.5-1 2-16-2.5,1zM910.5,840.5l2.5-2 3-20-2.5,1.5zM904.5,889l2.5-2.5 3-14 2-12.5-2.5,1.5-2.5,13zM920.5,799l2.5-1.5 2-16.5-2.5,1zM922.5,782l2.5-1 1.5-15.5-2,1zM903.5,917.5l3-3 3.5-17.5 3-15-3,2.5-3,15zM920.5,816l2.5-1.5 2-18-2,1zM925,796.5l2-1 2-16.5-2,1zM914.5,941l3.5-3 2-11 2-10 2.5-17-2.5,2-3,17.5-2,10zM927.5,929.5l5.5-4.5 2.5-18 2-15.5-5,3-2.5,16zM932.5,894.5l5-3 1.5-13.5 1.5-13-4.5,2.5-1.5,13zM947,787.5l4-1.5 1-15.5-3.5,1zM945,863l4-1.5 2-22-4,1.5zM952.5,819.5l4-1 1-18-4,1zM955.5,769.5l4-1 .5-4-3.5,0zM963.5,835.5l4-.5 .5-19.5-3.5,1zM966,782.5l3.5-.5 .5-15.5-3.5,.5zM974.5,854.5l4-1 .5-20.5-3.5,.5zM991,940.5l5,0-.5-19.5 0-16.5-4.5,0 0,16.5zM991,904.5l4.5,0 0-15 0-13-4.5,0 0,13zM998.5,813.5l4,.5-.5-17.5-3.5,0zM1002,796.5l4,.5-.5-16.5-3.5,0zM1013.5,985l5.5-.5 0-1.5-1-10-1-15.5-1-12.5-5-1.5 .5,12 1,15 .5,9zM1025.5,993.5l5.5-1 0-1.5-.5-3-.5-6-1-10-1-8-1.5-14-5-3 1,13.5 .5,7.5 1,9 1,11zM1037,862.5l4.5,2-2-22.5-4.5-1.5zM1050.5,869l2.5,1.5-2.5-23.5-2.5-1zM1048,826.5l2,1-2-19-2-1zM1046.5,791l2,1-1.5-16-2-1zM1081.5,989.5l3-1-1-2.5-2-7.5-1.5-6.5-2.5-10-4-15.5-3.5-4 3,14 2,9 3,10.5zM1055,849.5l2.5,1.5-3-21.5-2-1zM1057.5,851l2.5,1-3-21-2.5-1.5zM1050.5,793l2.5,1-2-16.5-2-1zM1077.5,951l4,5-3.5-14.5-2.5-12-4-19.5-3-3 3.5,19 2.5,11.5zM1071.5,910l3,2.5-3-17-3-14.5-2.5-2 2.5,14.5zM1064.5,855.5l2.5,1.5-3-22.5-2.5-1zM1091.5,970.5l3,5 4,6.5-2.5-8-2-6.5-3-10-4.5-15.5-3-12.5-2.5-10.5-3-3.5 2,10 2.5,12 3.5,14 2.5,8.5zM1061.5,815l2,1-2-18-2.5-1zM1074.5,885l2.5,2.5-2.5-14.5-2-12.5-2.5-2 2,12.5zM1119.5,969.5l3-1-5-12.5-3.5-10-2.5-8-4.5-13.5-3-11-4-4.5 3,10.5 3.5,12 4.5,15 3.5,9.5 2,6zM1085,830l2.5,2-3.5-20-2.5-1.5zM1112.5,896.5l4,4.5-5-17.5-4-15-3.5-3 4,14.5zM1096.5,821l3,2.5-4-20-2.5-1.5zM1099.5,823.5l2.5,2-4-20-2.5-2zM1125.5,912l5,6.5-4-12-3.5-10-5-17.5-4-3.5 5,16 3,9.5zM1099.5,791l2.5,2-3.5-17.5-2-1.5zM1110.5,833l3,2.5-5-21.5-2.5-2.5zM1130,892.5l4.5,6-6-18.5-5-15.5-3.5-4 4.5,15zM1149.5,935.5l2.5-1.5-7-16-5-13-5.5-6.5 4.5,11 5.5,14 4,9zM1107,797l2.5,2-3.5-18-2.5-2zM1146,912.5l7,10.5-6-15-5-12-6.5-19-4.5-4.5 6,17.5 4,10.5zM1112.5,801l2.5,2.5-4-18.5-2.5-2zM1135.5,877l4.5,5.5-5.5-17-4.5-14-3.5-3.5 4,13.5zM1140,882.5l5,6-6.5-18-5-15.5-3.5-3.5 4.5,14zM1120.5,808.5l3,2.5-4.5-19.5-3-2.5zM1121.5,794l3,2.5-4.5-18.5-2.5-2zM1156,881l6,7.5-4.5-10.5-3.5-9.5-6-16-4-4.5 5,15zM1144,848l4,4.5-4.5-13.5-4-12.5-3.5-3.5 3.5,12zM1162,888.5l7.5,9.5-6-12.5-4.5-10.5-6.5-17.5-4.5-5 6,16 3.5,9.5zM1136.5,807.5l3,3-5.5-20-3-3zM1179.5,912l2.5-1.5-1.5-2-4.5-9.5-3.5-7-5.5-12.5-4.5-10-5.5-6 4,9 4,10 5.5,12.5 4,7.5zM1180.5,902l2-2.5-7-13-7-9.5zM1159.5,848l5,5.5-6-15-4.5-13-4-4 4.5,12.5zM1142,770l3,3-4.5-8.5-2.5,0zM1170,827.5l5,5.5-5.5-13.5-4.5-12.5-4-4 4.5,11.5zM1158,785.5l3.5,3.5-6-19.5-3-3zM1203.5,868l3,4 1.5,1.5 1-1.5-2.5-4-7.5-13.5-5-10.5-4.5-9-6-7 8,16.5 5,10.5zM1173.5,787.5l4,4.5-7.5-21-3.5-3.5zM1166.5,767.5l3.5,3.5-6-6.5-3,0zM1222,871.5l1.5-3-15.5-26-8-10.5 5,10 6.5,12.5zM1196,799.5l6,7-6-14-5-12-4.5-4.5 4.5,11zM1228,849l1.5-3-1-2-5-8-6.5-12-8.5-9.5 5,9 6,11zM1212,779.5l6.5,7.5-6.5-13.5-5.5-9-4.5,0 4.5,2.5zM1248,826.5l1.5-3-.5,.5-4.5-6-8-9.5 4.5,7 6,9.5zM1236.5,808.5l8,9.5 4.5,6 .5-.5-1-1.5-6-9-7.5-13-5.5-9.5-4.5-8-7-8 7.5,14.5 5,9z"/>
<path fill="#004fca" d="M716,778l1.5,3.5 1.5-2.5 5-7.5 7-7 5,0-5,0-6.5,1zM723,783.5l1.5,3 1-1.5 4.5-6.5 6.5-10.5 9-3.5-9,0-6,7.5zM734.5,787l6.5-7.5 5-5.5 7.5-9.5 6,0-6,0-7.5,3.5-5,8.5zM746,774l8-9.5 6,0 5.5,0-6,0-6,0zM745,786.5l9-10.5 7-11.5 5.5,0-6,0-6.5,5.5zM761,767.5l6-3 9.5,0-5,0-4.5,0zM732.5,821.5l1,1.5 .5,1 0,.5 1.5-1.5 6-9.5 4.5-6.5 6-11 9-16.5-8,9.5-5.5,9.5-7.5,12.5-6.5,9.5zM741.5,819l1.5,3 .5-.5 1-2 4.5-7 6-11 5-8.5-9,11-8,12.5-1,2zM760,793l7.5-8.5 6-13.5 5-6.5-5.5,1-5.5,12.5zM741.5,839.5l2,3 10-15.5-4,4.5-4.5,6-2.5,3-.5,0zM779,783l5.5-5.5 8.5-13-4.5,0zM772,804l6.5-7.5 6-13 4.5-11.5-4.5,5.5-5.5,12zM789,772l4.5-5 7-2.5-3.5,0zM784,790l5.5-5.5 8.5-20-4.5,2.5zM759.5,843.5l1,1.5 .5,.5 3.5-4.5 6.5-11.5 5-9.5 7.5-16-6.5,7.5-4,8.5-5.5,10-7.5,13zM762,845l1.5,3 1-1.5 4-6.5 6-11-10,12-2,3.5zM783.5,804l5.5-6.5 9.5-23-4.5,4.5-4.5,12zM793.5,806l5-5.5 8.5-22.5-4,4-4.5,11.5zM803,795.5l4.5-5 7-20.5-3.5,4zM770,881.5l4.5-6 3.5-5 5.5-7 6-12 5-9.5 7-16.5-5.5,7-4,8.5-5,10-6,12-4.5,7.5zM801.5,825.5l5-5.5 5-13 4-11.5-4,4.5-4.5,12zM775.5,889.5l.5,1 8-10 4-8 3.5-6.5 5.5-11 8-18-6,7-4.5,9.5-5.5,11.5-3.5,6.5-4.5,8.5zM819.5,805.5l4-4 6.5-20.5-3.5,3.5zM827,797.5l3.5-3.5 6-19.5-3.5,3zM823.5,816.5l4-4 6.5-21.5-3.5,3zM793,893.5l1.5,2 1.5-2 2-4 7-13.5 4.5-11-6.5,9-7,13.5-2,4zM810.5,883l6.5-8.5 7.5-18 5.5-15-4.5,5-6,16-4,9.5zM825.5,846.5l4.5-5 4.5-13.5 3.5-11.5-3.5,3.5-4,12.5zM841,798l3.5-3 5-18.5-3,2.5zM846.5,779l3-2.5 4-12-3,0zM838,816.5l3.5-3.5 6-21-3,3zM847.5,792l3-2.5 4.5-18-3,2.5zM808,906.5l9-11.5 5-12 4-10 6.5-17-4.5,5.5-7.5,18.5-5,11.5-3.5,7zM845,809.5l3-3 5.5-19.5-3,2.5zM837,851l4-4.5 7.5-24.5-3.5,3-3.5,12.5zM857,798l3-2.5 4-18-2.5,2zM861.5,779.5l2.5-2 3.5-13-2,0zM816.5,934l2.5,2 .5-1 1.5-3.5 3-6 4-9 3.5-7.5 5-12.5 4-10.5-5.5,6.5-4.5,12-3.5,7-3.5,8.5-5.5,11zM840.5,886l4.5-5.5 5.5-16 4.5-14.5-4,4-4.5,14.5zM866.5,805l3-2.5 4-18-2.5,2zM849.5,875.5l4-4.5 4.5-14.5 3.5-13-3,3-4,13.5zM840,910l5.5-7.5 3.5-10.5 3.5-9 5-16-4,4-5.5,17-3.5,10zM861.5,843.5l3.5-3.5 5.5-22-3,2.5zM867.5,820.5l3-2.5 4-20-2.5,2.5zM865,840l3-2.5 5-22-2.5,2.5zM837.5,936.5l1.5,1 1-1 2-3 3.5-8.5 3-7 4.5-12.5 6-19.5-4,5-3.5,10-4,11.5-5.5,14-4,9.5zM871,834.5l3-2.5 4.5-21-2.5,2zM874,832l3-2.5 4-20.5-2.5,2zM836,954.5l2,2 1-1.5 1.5-4 5.5-12 3.5-9 5-14-5.5,7.5-3,8-4,10zM879.5,827l3-2.5 4-19.5-2.5,2zM887.5,788.5l2-1.5 3-16.5-2.5,1.5zM859.5,910l4.5-5.5 5.5-18.5 4.5-15.5-3.5,3.5-4.5,16.5zM851,941.5l2.5,2 15-44-4.5,5-3.5,11-4.5,13-3,8-2,4.5zM864,904.5l4.5-5 5-17 3.5-15-3,3-4.5,15.5zM874,870.5l3-3 6-25.5-2.5,2.5-3,12.5zM868.5,899.5l4-4.5 4.5-16 3.5-14.5-3.5,3-3.5,15zM877,867.5l3.5-3 5.5-24.5-3,2zM883,842l3-2 4-21.5-2.5,2zM880.5,864.5l3-3 5-24-2.5,2.5zM893.5,799.5l2.5-1.5 3-17.5-2.5,1.5zM899,780.5l2-1.5 2.5-14.5-2,0zM886.5,859l3-2.5 4.5-23-2.5,2zM891.5,835.5l2.5-2 3.5-20.5-2,2zM901,779l2.5-1 2-13.5-2,0zM901,794.5l2-1.5 2.5-16.5-2,1.5zM889.5,878l3-2.5 5-26-2.5,2.5-2.5,12.5zM902.5,809.5l2.5-1.5 2.5-17.5-2,1.5zM897.5,849.5l3-2 3.5-21.5-2.5,1.5zM871.5,960.5l2.5,1.5 1-2.5 1.5-5 3-9-5.5,8-2,5.5zM874.5,969l3,1.5 .5-2 4-11.5 2.5-9 4-14-4,5.5-2.5,7.5-2.5,8.5-4,11.5zM895,897.5l3-3 3.5-15 2.5-13.5-3,2-2.5,14zM912,804l2-1.5 2.5-17-2.5,1zM888.5,934l4-5 3-11 2-9.5 4-17-3.5,3-4,17.5-2.5,10zM918.5,784l2-1 2-15.5-2,1zM918,835.5l2.5-1 2.5-20-2.5,1.5zM894,967.5l5-7.5 4-15.5 2.5-12.5 4.5-20.5-3.5,3-2,10-2.5,11.5-3.5,13.5-2,8zM913,882l2.5-2 4-25-2.5,1.5zM923,814.5l2-1 2-18-2,1zM927,795.5l2-1 2-16.5-2,1zM929,779l2-1 1.5-13.5-2,0zM922,853l2.5-1 2.5-21.5-2,1zM924.5,852l2.5-1.5 2.5-21.5-2.5,1.5zM927,830.5l2.5-1.5 2-19-2,1zM931.5,793.5l2-1 1.5-16-2,1zM933,777.5l2-1 1.5-12-2,0zM923.5,874.5l2.5-1.5 3.5-24-2.5,1.5zM935,776.5l2-1 1.5-11-2,0zM926,873l2.5-1.5 3-23.5-2,1zM921.5,934.5l6-5 2.5-19 2.5-16-5,3.5-2.5,16.5zM927.5,898l5-3.5 2-14 1.5-13-5,2.5-1.5,13zM940.5,824l4-1.5 1.5-18-4,1zM944.5,773l4-1.5 1-7-3.5,0zM922,986l5.5,1.5 .5-1.5 .5-3 2-11-7.5,10-.5,3zM946,804.5l4-1.5 1-17-4,1.5zM948.5,821l4-1.5 1-18-3.5,1.5zM951,786l3.5-1 1-15.5-3.5,1zM934,986l5.5,1 1.5-11 1.5-9 1-8-6,5.5-1.5,9-2,11zM951,839.5l4-1.5 1.5-19.5-4,1zM953.5,801.5l4-1 1-16.5-4,1zM951.5,884.5l4.5-1.5 2-25-4.5,1.5zM948.5,1004l6,.5 2-14.5 1-11.5 1-9 .5-8 1.5-13.5-5.5,3-1.5,14.5-1,8.5-1,10-1,6.5-1,8-.5,5zM964.5,816.5l3.5-1 1-17.5-4,1zM967.5,835l4-1 .5-19-4,.5zM969,798l3.5-.5 .5-16-3.5,.5zM961,1001l6,.5 0-1 .5-8 1-12 .5-9 1-15.5 .5-12-5,1.5-1,13-1,16-1,10-.5,6-.5,7.5zM969.5,879l4-1 1-23.5-4,.5zM976,814.5l3.5-.5 .5-17.5-3.5,.5zM983.5,796.5l4-.5 0-16-3.5,0zM984.5,1007l6,.5 0-1.5 0-9 0-13 .5-9.5 0-8.5 0-14 0-11.5-5,0-.5,12 0,14 0,8.5-.5,9.5 0,13.5zM995,796l3.5,.5 0-16.5-4,0zM1000,904.5l4.5,.5-.5-14.5 0-13.5-4.5-.5 .5,13.5zM999.5,876.5l4.5,.5-.5-23.5-4.5-.5zM1009,1007l6-.5-1.5-15.5-.5-11.5-.5-9-1-15-.5-12-5-1.5 .5,12 .5,14.5zM1004.5,905l5,1-1-15-.5-13-4-1 0,13.5zM1018.5,908.5l5,1.5-1-15.5-1-13.5-4.5-1.5 .5,14zM1015.5,855.5l4.5,1-1-21-4-1zM1019,835.5l4,1-1.5-19.5-3.5-1zM1018,816l3.5,1-.5-17.5-4-1zM1016,767l3.5,.5-1-3-3,0zM1032,953.5l6,4-1.5-13-1.5-11-2-19-5-2.5 2,18.5 1,10.5zM1021,799.5l3.5,1-1-16.5-3.5-1zM1033,914.5l5,2.5-1.5-16.5-1.5-14.5-4.5-2 1,14.5zM1025.5,818l4,1-1-17.5-4-1zM1026.5,769l3.5,1-.5-5.5-4,0zM1050.5,969l7,9-2-10-1.5-8.5-2-14-2-11.5-1.5-10-5-4 2.5,21 2,12.5zM1057.5,978l8.5,12.5-3-13-2-10-3-16-2-12.5-2-11-5.5-4 1.5,10 2,11.5 2,14 1.5,8.5zM1034,771l3.5,1.5-1-8-3.5,0zM1043.5,844l4.5,2-2-20.5-4.5-2zM1068,974l3-1-2-9.5-3.5-15.5-2.5-12.5-3-2.5 2,11.5 3,14.5 1.5,8.5 1.5,5zM1054.5,896.5l2.5,2-2-14.5-2-13.5-2.5-1.5 2,13zM1041,773.5l2,1-1-10-2,0zM1063,935.5l3.5,3.5-2-11.5-2-9.5-2.5-17.5-3-2 2.5,17zM1043,774.5l2,.5-1-10.5-2,0zM1084,975.5l2.5-1-5-18.5-4-5 2,8 2.5,9.5 1.5,5.5zM1053,794l2,1-2-16.5-2-1zM1086.5,974l2.5-1-2.5-10.5-5-6.5zM1081.5,956l5,6.5-2.5-9-2-7.5-3-13-2.5-10.5-2-10-3-2.5 4,19.5 2.5,12zM1066,879l2.5,2-4-25.5-2.5-2zM1074.5,912.5l3.5,3-3.5-17.5-3-15-3-2 3,14.5zM1067,857l3,1.5-3.5-22.5-2.5-1.5zM1059,797l2.5,1-2-16.5-2-1zM1059.5,781.5l2,1-2-16-2-1zM1062,767.5l2,1-2-4-2,0zM1065.5,784.5l2.5,1-2-16-2-1zM1110,969.5l2.5-1.5-7-20-5-6.5 2.5,7.5 3,9.5zM1072,788l2.5,1.5-2.5-16.5-2-1zM1111.5,956.5l3.5,6 4.5,7-3-7.5-2-6-3.5-9.5-4.5-15-3.5-12-3-10.5-3.5-4 2.5,10 3,11 4,13.5 2.5,7.5zM1080,826.5l2.5,2-3-20-2.5-1.5zM1092,876l3,3-3-14-2.5-12.5-3-2 2.5,12zM1074.5,774.5l2,1-2-11-2,0zM1076.5,775.5l2,1.5-2-12.5-2,0zM1112.5,923.5l5,6.5-4.5-12.5-3-11-5-18-3.5-3 4.5,17 3,10zM1117.5,930l5.5,7.5-5-14.5-4-11.5-5.5-19-3.5-4 5,18 3,11zM1098,860l3,2.5-5.5-24-2.5-2.5zM1107.5,868.5l3,3.5-3.5-14-3-12.5-2.5-2.5zM1137,950l2.5-2-.5-1-2.5-5.5-3.5-9.5-3-7.5-4.5-12.5-5-6 4,11.5 5,13.5 3.5,9zM1138.5,946l2.5-1.5-.5-1-4-10-6-15-5-6.5 4.5,12.5 3,7.5 3.5,9.5zM1094.5,787.5l2.5,1.5-3-16.5-2-1.5zM1130.5,918.5l6,8-5-13.5-4-11-6-19-3.5-4 5,17.5 3.5,10zM1103,809.5l3,2-4-18.5-2.5-2zM1144,937.5l2.5,3.5 1,2 .5-.5 1-.5-.5-1.5-4.5-10.5-6-15-4.5-12-3.5-10.5-4.5-5 3,9.5 4,11 4.5,12.5 3,7.5zM1116.5,857l3.5,3.5-6.5-25-3-2.5zM1104.5,795l2.5,2-3.5-18-2.5-1.5zM1154,938l2-2-.5-1.5-2.5-5.5-4-9-3-7.5-6-7.5 5,13 3.5,8 4.5,10zM1127.5,868l3.5,4.5-4.5-15-3.5-13-3.5-3.5 3.5,13zM1131,872.5l4.5,4.5-5-15.5-4-13.5-3.5-3.5 3.5,13zM1105,766.5l2.5,1.5-3-3.5-2,0zM1126.5,848l3.5,3.5-7-24.5-3-3zM1120,824l3,3-5-21-3-2.5zM1145,888.5l5.5,6.5-4.5-10.5-3-9-5.5-16-4-4.5 5,15.5zM1116,789l3,2.5-4-17.5-2.5-2zM1141.5,864l4.5,5-5.5-15.5-4-13.5-3.5-3.5 3.5,13zM1126.5,813.5l3,3-5-20-3-2.5zM1164.5,914.5l11.5,16-6-11.5-4.5-9-6.5-14.5-4.5-11-4-10-4.5-5.5 7,18.5 5,12 3,6.5zM1136.5,840l3.5,4-7-24.5-3.5-3zM1174.5,928l2.5-2-6-11.5-4.5-9-6-13.5-4.5-11-5.5-6.5 4,10 4.5,11 6.5,14.5zM1123,780.5l2.5,2-4-17-2.5-1zM1121.5,765.5l2.5,2-3.5-3-2.5,0zM1169.5,898l8.5,11.5-7.5-14.5-5.5-12.5-4-10-4-9-4.5-6 6.5,17.5 4.5,10.5zM1137,793l3,3-5-19-2.5-2.5zM1132.5,774.5l2.5,2.5-4-12.5-2.5,0zM1155,843l4.5,5-5-14-4.5-12.5-3.5-4 4,12zM1146.5,817.5l3.5,4-6.5-22.5-3.5-3zM1140,796l3.5,3-5.5-19-3-3zM1189.5,901l2-2-2.5-4.5-4-8.5-3.5-7-5.5-11-6-8 4,10 5.5,11.5 3.5,7 4,8zM1162.5,834.5l4.5,5.5-5-14-4.5-12.5-4-4 4,12zM1172,846l5.5,6.5-6.5-16-5.5-14-4-4.5 4.5,13zM1165.5,822.5l4.5,5-4.5-13-4.5-11.5-3.5-4zM1184.5,860.5l8,10.5-6-12-4.5-9.5-7-16.5-5-5.5 6,15zM1205,854l5.5,7 2,2 .5,.5 .5-.5-1-1.5-4-7.5-6.5-11.5-5-10-3.5-8.5-6-6.5 7,15.5 4.5,9.5zM1187.5,817.5l6,6.5-6.5-14.5-5-12.5-4.5-5 4.5,12zM1186.5,802l5,6-5-13-4.5-11.5-4.5-4.5zM1220,857.5l4.5,6 1.5,2 .5,.5 .5-.5 .5-1.5 0-.5-2.5-3-6-10-4-7-6-11.5-5-9.5-6.5-7.5 8,17 6,10.5 3.5,6.5zM1197.5,815l6.5,7.5-7.5-15.5-5.5-13-5-5.5 5,12.5zM1204,822.5l8,10-5-10-4-8.5-7-14.5-5-5.5 5.5,13zM1182.5,771.5l4,4.5-7.5-11.5-3.5,0zM1223.5,847l1,1 .5-.5 .5-.5 .5-1.5-2.5-4.5-4-6.5-6-11-5-9-6.5-8 8,16.5 5.5,10.5 3.5,6zM1227.5,842.5l1.5-3-.5-.5-6.5-8.5-5-6.5 6.5,12 2.5,4 1,2zM1207,799l7,8-7.5-15-5.5-13-5-5.5 5,12zM1196,773.5l5,5.5-9-14.5-4,0zM1214,807l8.5,10.5-5.5-9.5-4-8.5-6.5-14-5.5-6.5 5.5,13zM1222.5,817.5l5.5,6.5 7,9-4.5-7.5-4-6.5-5.5-10-8.5-16.5-6-7 6.5,14 4,8.5zM1219.5,801l9.5,11-5.5-10-4.5-8-7-14.5-5.5-6.5 5.5,13zM1226,796l5,6 5.5,6.5-6-10.5-5-9-7.5-14.5-6-7 6,13zM1246.5,808l5,6.5 1.5,1.5 0-.5 1-1.5-10-15-6.5-11-5-9-8-8.5 8.5,15 5.5,10 3.5,5.5zM1242.5,791l6,7.5 1-1.5-1-1.5-7-11.5-5-9-4.5-7.5-7-3 7,8.5 4.5,8.5zM1241,777.5l5.5,7 7.5,9-4.5-7-3.5-5.5-5.5-9.5-8-7-7,0 6.5,0z"/>
<path fill="#006ce4" d="M716,773.5l.5,1.5 8-9.5 6.5-1 4.5,0 7.5,0-8,0-4.5,0-6,0zM727.5,808.5l1.5,3 1-1.5 3-5 5-7 7-11.5-6,7.5-4,4.5-4.5,5.5zM735.5,823l5-6.5 4-5 6.5-7.5 5.5-10 4-8 7-14-6.5,7.5-9,16.5-6,11-4.5,6.5zM751,804l9-11 7.5-15 5.5-12.5-5.5,6.5-7,14-4,8zM746,823l6.5-8.5 5.5-6.5 9-17 6.5-14-6,7.5-8.5,15.5-5.5,10zM773.5,777l5.5-6 8.5-6.5-4.5,0zM766.5,798l6.5-8 6-13 5-11.5-5,5.5-5.5,12.5zM773,790l6-7 9.5-18.5-4.5,1-5,11.5zM750,837.5l2,2.5 20-36-8,9.5-6,11zM784.5,777.5l4.5-5.5 8-7.5-4,0zM759.5,833l5.5-7 4.5-5.5 8.5-16.5 6-14-5.5,6.5-7.5,15.5-5,9.5zM777,811.5l6.5-7.5 6-13 4.5-12-4.5,5.5-5.5,12.5zM789.5,784.5l4.5-5.5 7.5-14.5-3.5,0zM794,779l4.5-4.5 7-10-4,0zM774.5,829l7.5-9 6.5-15 5.5-13-5,5.5-6,14zM789,797.5l5-5.5 8.5-22-4,4.5zM794,792l4.5-5 8-21-4,4zM768,852l1.5,2.5 .5-.5 2-3.5 6.5-12-4.5,6-6,7zM768,851.5l6-7 4.5-6 4.5-9.5 4-8.5 6.5-14.5-5.5,6.5-7.5,16.5-5.5,9.5zM798.5,787l4.5-5 7-17.5-3.5,1.5zM807,778l4-4 6-9.5-3.5,0zM796,832.5l5.5-7 5.5-13.5 4.5-12-4,4.5-5,13zM772.5,888.5l2,2.5 6.5-11 4.5-8.5 3.5-6.5 5.5-11.5 4.5-9.5-7,8.5-5.5,11.5-4,7-5,9-3.5,5.5zM792,852.5l7-8.5 7-15.5 5.5-14-5,5.5-6,14.5zM815.5,795.5l4-4 6.5-20-3.5,3.5zM785.5,877.5l2,2.5 6.5-13-4.5,6-2.5,3.5-1.5,1.5zM787,886l2,2.5 0-.5 2.5-4 7-14 5-10.5 4-9.5-6,8-5,10.5-7.5,14zM830.5,794l3.5-3 5.5-19-3,2.5zM827.5,812.5l3.5-4 6.5-21-3.5,3.5zM837.5,787.5l3-3 4.5-18-2.5,2.5zM798,895.5l1,1 .5,.5 2.5-3 6.5-13.5 5-11 7.5-18-5.5,6.5-4,9-5,11-6.5,13.5zM802,894l8.5-11 5-11 4-9.5 6-16-4.5,5-7.5,18-5,11zM838,801.5l3-3.5 5.5-19-3,2.5zM834.5,820l3.5-3.5 6.5-21.5-3.5,3zM797.5,920l.5,1 4-5.5 6-9 4-8 3.5-7 5-11.5 7.5-18.5-5,6-4,9.5-5.5,11.5-3,6.5-4,8-5.5,10.5zM838,832.5l3.5-3.5 6.5-22.5-3,3zM823.5,886l6-7 6.5-17.5 5-15-4,4.5-6,16-3,9zM829.5,879l5-6.5 5.5-16 4.5-14-3.5,4-5,15zM841,846.5l3.5-4 7.5-24-3.5,3.5zM854,800.5l3-2.5 4.5-18.5-2.5,2.5zM811.5,925l6-8.5 4.5-6.5 6-13.5 4.5-11 6.5-18-4.5,5-3.5,9.5-4.5,11-6,13-3.5,8zM822,910l7-9.5 4.5-11.5 4-10 6-16.5-4.5,5-6.5,18-4.5,11zM839,867.5l4.5-5 4.5-14.5 4-12.5-3.5,3.5-4.5,13zM848.5,839l3.5-3.5 6-22.5-3,2.5zM843.5,862.5l4-4.5 4-13.5 3.5-12.5-3,3.5-4,12.5zM847.5,858l3.5-4 7.5-25-3.5,3-3.5,12.5zM821.5,930l2.5,2 4.5-10 4-8 5-13 4-11 3.5-9.5-4.5,5.5-4,10.5-5,12.5-3.5,7.5-4,9zM858.5,829l3-3 5-21-2.5,2.5zM822.5,935l2,2 8.5-18-4,6-5,7.5zM833,919l7-9 4.5-12 3.5-10 5.5-17-4,4.5-6.5,18.5-4.5,11zM873.5,784.5l2.5-2 3-17-2.5,2zM834.5,930l2,1.5 .5-.5 1-2.5 3.5-8 5-13 4-11-5,6-5,12.5zM878.5,780.5l2.5-2 3-14-2.5,0zM850.5,896.5l4.5-5.5 5.5-17 4-14.5-3.5,3.5-4.5,15.5zM882.5,792l2.5-1.5 3-17-2.5,1.5zM849,923.5l5.5-7.5 4-11.5 3.5-9.5 5-17-4,4-5.5,18-3.5,10.5zM863,882l4-4 4-15 3.5-13-3.5,3-3.5,13.5zM877.5,847.5l3-3 4.5-22-2.5,2zM886.5,805l2.5-2 3-18-2.5,2zM889.5,787l2.5-2 2.5-16-2,1.5zM889,803l2.5-2 3-17.5-2.5,1.5zM892,785l2.5-1.5 2.5-16-2.5,1.5zM847.5,958l2.5,1.5 0-.5 1.5-4 4.5-11-3.5,5.5-5,7.5zM872.5,895l3.5-4 4-15.5 3.5-14-3,3-3.5,14.5zM886,840l2.5-2.5 4.5-21-3,2zM879.5,887.5l3.5-3.5 3.5-14.5 3-13-3,2.5-3,13.5zM897.5,813l2.5-1.5 3-18.5-2,1.5zM895,852l2.5-2.5 4-22-2.5,2zM905.5,792l2-1.5 2.5-16.5-2.5,1zM901.5,827.5l2.5-1.5 3-19.5-2,1.5zM910,774l2-1.5 2-8-2,0zM868.5,977l3,1.5 8-23 2.5-8.5 2.5-7.5-5,6-3,9-3.5,11-3,8zM898.5,870.5l2.5-2.5 4.5-24-2.5,1.5zM906.5,824.5l2.5-1.5 3-19-2.5,1zM912,788l2-1.5 2-16-2,1zM914,771.5l2-1 2-6-2,0zM918.5,769.5l2-1 1.5-4-2,0zM920.5,768.5l2-1 1.5-3-2,0zM896.5,925l3.5-4 4-18.5 3-16-2.5,2.5-3.5,16.5zM890,980l3,1 6-21-5,7.5zM920.5,834.5l2-1.5 2.5-19.5-2,1zM927,780l2-1 1.5-14.5-2,0zM899,960l4-5.5 3.5-14.5 2.5-11.5 4-19.5-3,2.5-4.5,20.5-2.5,12.5zM915.5,880l3-2 3.5-25-2.5,2zM895,984.5l3,1.5 0-.5 2-8 3-11.5 2.5-9 2-7.5-4.5,5-2,8.5-3,11-2,7zM916,906.5l3-2.5 2.5-15.5 2-14-2.5,2-2.5,14zM919,904l3-2 2-15.5 2-13.5-2.5,1.5-2,14zM934,809l2-1 1.5-17-2,1zM928.5,871.5l2.5-1.5 3-23.5-2.5,1.5zM931.5,848l2.5-1.5 2-20.5-2,1zM939,775l2-1 1-9.5-2,0zM914,995.5l5.5,1.5 2-8 1.5-7zM914,995.5l9-13.5 2-11 2-9 2.5-14.5 2-12 1.5-10.5-5.5,4.5-2,11-2.5,13.5-1.5,7.5-2,9-2.5,11.5-1.5,7.5-1,4.5zM943.5,788.5l3.5-1 1.5-16-4,1.5zM950,803l3.5-1.5 1-16.5-3.5,1zM943.5,918l5-2.5 1.5-16.5 1.5-14.5-4.5,2-1.5,15zM948.5,915.5l5-2.5 1.5-16 1-14-4.5,1.5-1.5,14.5zM946,981.5l5.5,1 2-17 1.5-14.5-5.5,3.5-2,15.5-1.5,9.5zM949.5,954.5l5.5-3.5 1-12 1-10 1.5-18-5,2-1.5,18.5-1.5,10.5zM956,883l4.5-1.5 1.5-24.5-4,1zM958,858l4-1 1.5-21.5-4.5,1zM961.5,799.5l3.5-.5 1-16.5-4,.5zM955,951l5.5-3 .5-11.5 1-10 1-17.5-4.5,2-1.5,18-1,10zM965,799l4-1 .5-16-3.5,.5zM972,815l4-.5 .5-17.5-4,.5zM966.5,1006.5l6,.5 0-3 .5-8.5 .5-7 .5-10.5 .5-9 1-14.5 .5-12-5.5,1.5-.5,12-1,15.5-.5,9-1,12-.5,8-.5,5zM973.5,990.5l6,0 0-1.5 0-3 .5-10 0-8.5 .5-14.5 .5-11.5-5,1-.5,12-1,14.5-.5,9-.5,10.5zM980.5,780.5l3.5-.5 0-15-3.5,0zM978.5,1007l6,.5 0-.5 .5-9 0-13.5 .5-9.5 0-8.5 0-14 .5-12-5,1-.5,11.5-.5,14.5 0,8.5-.5,10-.5,6.5 0,7.5-.5,5zM982,905l4.5-.5 0-14.5 0-13.5-4,.5-.5,13zM982.5,877l4-.5 .5-23.5-4,.5zM984,780l3.5,0 0-15-3.5,0zM986,940.5l5,0 0-19.5 0-16.5-4.5,0-.5,16.5zM986.5,876.5l4.5,0 0-23.5-4,0zM990.5,1006l6,0 0-8.5 0-13-.5-10 0-8 0-14 0-12-5,0 0,11.5 0,14 0,8.5-.5,9.5 0,13zM996.5,991l5.5,0 0-5.5-.5-10 0-8.5-.5-14 0-12-5-.5zM995.5,904.5l4.5,0 0-14.5-.5-13.5-4,0 0,13zM999,832.5l4,0-.5-18.5-4-.5zM998.5,796.5l3.5,0 0-16-3.5-.5zM1009.5,906l4.5,1-1-15-.5-13.5-4.5-.5 .5,13zM1006.5,814.5l3.5,.5-.5-17.5-3.5-.5zM1005.5,780.5l3.5,.5-.5-15-3.5-.5zM1021.5,947l5,3-1-11.5-.5-10.5-1.5-18-5-1.5 1.5,17.5 .5,10zM1014,815.5l4,.5-1-17.5-3.5-.5zM1012.5,781.5l4,.5-.5-15-4-.5zM1026.5,950l5.5,3.5-1-12.5-1-10.5-2-18.5-4.5-2 1.5,18 .5,10.5zM1023.5,910l4.5,2-1-15.5-1-14-4.5-1.5 1,13.5zM1016.5,782l3.5,1-.5-15.5-3.5-.5zM1037.5,996.5l6-1.5-3.5-21-2-16.5-6-4 2,14.5 1,9.5 1.5,11.5zM1028,912l5,2.5-1.5-16-1-14.5-4.5-1.5 1,14zM1023,836.5l4,1-1.5-19.5-4-1zM1024.5,800.5l4,1-1-17-4-.5zM1044,962.5l6.5,6.5-2.5-15.5-2-12.5-2.5-21-5.5-3 2.5,20 1.5,11.5zM1048.5,924l5.5,4-2.5-18.5-2-16-5-3 2,15.5zM1049.5,893.5l5,3-2-14.5-2-13-4.5-2.5 1.5,13zM1040,805l4,1.5-1.5-17-4-1.5zM1046,825.5l2,1-2-19-2-1zM1057,898.5l3,2-2.5-15-2-13.5-2.5-1.5 2,13.5zM1050.5,847l2,1-2.5-20.5-2-1zM1060,900.5l2.5,2-2.5-15.5-2-13.5-2.5-1.5 2,13.5zM1052.5,848l2.5,1.5-2.5-21-2.5-1zM1082,980.5l3-1-3-11-2.5-9.5-2-8-4-4.5 4,15.5 2.5,10 1.5,6.5zM1068.5,907l3,3-3-16.5-2.5-14.5-2.5-2 2,14zM1060,852l2,1.5-2.5-21.5-2.5-1zM1057,812.5l2,1.5-2-18-2-1zM1086.5,962.5l2,2.5 1.5-.5-7.5-27-2.5-12-2-10-3.5-3 2,10 2.5,10.5 3,13 2,7.5zM1061.5,833.5l2.5,1-2.5-19.5-2.5-1zM1055.5,779.5l2,1-2-15.5-2-.5zM1071.5,883l3,2-2.5-14-2-12.5-3-1.5zM1063.5,816l2.5,1.5-2.5-18.5-2-1zM1088.5,926.5l3.5,4-2.5-11-2.5-10-4-17-3-2.5 3.5,16.5zM1075,862.5l2.5,2-4-23.5-2.5-2zM1073.5,841l2.5,1.5-3-20.5-2.5-1.5zM1086.5,895.5l3,3-3.5-16-3-14-2.5-2 2.5,13.5zM1114.5,973.5l3-1.5-1-2-3-7.5-2-6-6-8.5 3.5,9.5 2,6 2.5,7zM1074.5,805.5l2.5,1.5-2.5-17.5-2.5-1.5zM1084,848.5l2.5,2-4-22-2.5-2zM1095,879l3.5,3-3.5-14.5-3-12.5-2.5-2.5 2.5,12.5zM1101.5,885.5l3.5,3-4-15-3-13.5-3-2.5 3,13zM1083.5,795l2.5,1.5-3-17-2-1.5zM1089,815.5l2.5,1.5-3.5-18.5-2-2zM1086,796.5l2,2-2.5-17.5-2.5-1.5zM1083,779.5l2.5,1.5-2.5-16-2.5-.5zM1088,798.5l2.5,1.5-3-17.5-2-1.5zM1087.5,782.5l2.5,1.5-2.5-16-2.5-1.5zM1085,766.5l2.5,1.5-2.5-3.5-2,0zM1116.5,901l4,5-5.5-18.5-4.5-15.5-3-3.5 4,15zM1114,875.5l4,3.5-4.5-15-3.5-13-3-3 3.5,13zM1142,947l2.5-2-4.5-10-3.5-8.5-6-8 6,15 4,10 1.5,3zM1118,879l3.5,4-4.5-15.5-3.5-13.5-3.5-3 3.5,13zM1105,828l2.5,2-4.5-20.5-2.5-2zM1108.5,814l2.5,2.5-4-19.5-2.5-2zM1134.5,898.5l5.5,6.5-4-11-3.5-9.5-5-16.5-4-3.5 5,15.5zM1140,905l6,7.5-5-12-4-10.5-6-17.5-3.5-4.5 5,16.5 3.5,9.5zM1159,942l2-2-3-7-5-10-7-10.5 3,7.5 4,9 2.5,5.5 3,6.5zM1108.5,783l2.5,2-3.5-17-2.5-1.5zM1115,803.5l3,2.5-4.5-19-2.5-2zM1107.5,768l2.5,2-3-5.5-2.5,0zM1164,939l1,1.5 .5,0 .5-.5 1-1-3.5-8-5.5-10.5-3.5-8-5.5-13.5-4-10.5-5-6 3.5,9.5 4.5,11.5 5.5,14 4.5,9 2.5,5.5zM1130,851.5l3.5,3.5-4-13-3.5-12-3-3zM1133.5,855l4,4.5-4.5-14-3.5-12.5-3.5-3 3.5,12zM1156.5,903.5l8,11-3.5-8.5-3-6.5-5-12-7-18.5-4.5-5 6,17 4,10.5zM1146,869l4.5,5.5-6-16.5-4.5-14-3.5-4 4,13.5zM1124.5,796.5l3,2.5-4.5-18.5-3-2.5zM1140,844l4,4-4.5-13-3.5-12-3-3.5zM1148,852.5l4.5,5-5-14.5-4.5-13-3.5-3.5 4,12.5zM1127,770l2.5,2-4-7.5-2.5,0zM1135,777l3,3-4.5-15.5-2.5,0zM1150,821.5l4,4-7.5-23-3-3.5zM1185.5,899l3,4.5 1.5,2 0-.5 1-1-1-2-3-5.5-4-8-3.5-7-5.5-11.5-4-10-5.5-6.5 7.5,18.5 5.5,11.5 3.5,7zM1158,830l4.5,4.5-5-13-4-12-3.5-3.5zM1147.5,788.5l3,3.5-5.5-19-3-3zM1198,904.5l2-2.5-6.5-11.5-5.5-7.5-4.5-6 3.5,7 4.5,8.5 2.5,5 4,6.5zM1183.5,877l4.5,6 5.5,7.5-4.5-8-3.5-7-5.5-11.5-8-18-5-6 6.5,16 4.5,10zM1157.5,813.5l4,4.5-7.5-22.5-3.5-3.5zM1145,773l3,2.5-4.5-11-3,0zM1173.5,816.5l5,5.5-5-13.5-4.5-11.5-4-4zM1194,856l9.5,12-7-13-5-10.5-8-16.5-5-6 6.5,15 4,8.5zM1178.5,822l5,6-5.5-14-5-12.5-4-4.5 4.5,11.5zM1183.5,828l6,7-6.5-15.5-5.5-13.5-4.5-4.5 5,12.5zM1177.5,806l5,5.5-9-24-4-4zM1169.5,783.5l4,4-7-20-3.5-3zM1182.5,811.5l5,6-5.5-13.5-4.5-12-4-4.5zM1218.5,871.5l1.5,2 .5-.5 .5-.5 .5-1.5-10-16.5-6.5-12.5-5-10-6.5-8 3.5,8.5 5,10 6.5,11.5 4,7.5zM1187,764.5l4.5,4-7.5-4-3.5,0zM1201,792l6,7-6-13.5-5-12-4.5-5 4.5,11.5zM1228.5,839l2,2.5 1,.5 .5-.5 .5-1.5-7.5-13-6.5-11-4.5-9-7-8 8,16.5 5.5,10 3.5,6zM1201,779l5.5,6.5-5.5-12.5-4.5-8.5-4.5,0zM1237,826l1.5-3 0,.5-3.5-4-6-7.5 3.5,6 4.5,7zM1239.5,819l1.5-3 0-.5-4.5-7-5.5-6.5-5-6 5.5,10 8,12.5zM1248.5,822l1.5-3-5.5-8.5-4.5-7-6.5-11-8.5-10 4.5,8 5.5,9.5 7.5,13zM1248.5,816.5l1.5-3-.5-1-3-4.5-7.5-8.5-5.5-7 6.5,11zM1224.5,770.5l8,8.5-7.5-14.5-6,0-5.5,0 5,0zM1232.5,779l10,12-6-9.5-4.5-8.5-7-8.5-6,0 6,0zM1255,805l1-3-9-14-6-10.5-9-10 4.5,7.5 5,9 7,11.5 5.5,8zM1268,782.5l1.5-3.5-1.5-1.5-3-4.5-8.5-8.5-6,0 6,1 4,6.5 6,8z"/>
<path fill="#0089fd" d="M720.5,776.5l1,1.5 .5,1 0,.5 1-1.5 8-12 5.5-1.5 8,0-8.5,0-5,0-7,7-2.5,3.5zM767.5,772l5.5-6.5 9-1-4.5,0-4.5,0zM744.5,830l2,3 0-.5 1.5-2 4.5-7.5 3.5-6.5 6-10 4.5-8.5-8.5,10zM764,813.5l8-9.5 7-14.5 5.5-12-5.5,5.5-6.5,14zM749.5,849l1.5,3 .5-.5 3.5-5.5 5-8 3.5-6.5 6-11-4.5,5.5-5.5,7zM782,820l6-7.5 6-13.5 4.5-12-4.5,5-5.5,13zM778.5,838.5l7.5-9 7-16 5.5-13-5,5.5-6.5,14.5-4,8.5zM786,829.5l6-7.5 6.5-14.5 4.5-12-4.5,5-5.5,13zM770,875.5l2,2.5 9-15 6-12 5-10 4-8.5-6.5,7.5-5,10.5-7,12.5-4.5,8.5zM783.5,863.5l8.5-11 8.5-18 6-14.5-5,5.5-7,16.5-5,9.5zM806.5,820l5-5.5 8-23-4,4-4,11.5zM822.5,775l3.5-3.5 5-7-3,0zM811.5,814.5l4-4.5 7.5-22-3.5,3.5zM810,831l5-5 4.5-13 4-11.5-4,4-4,12zM826.5,784.5l3.5-3.5 5-16.5-3,1zM815,826l4.5-5 7.5-23.5-3.5,4-4,11.5zM819.5,821l4-4.5 7-22.5-3.5,3.5zM796.5,893l1.5,2 2-3.5 6.5-13.5 5-11 4-9-6,7-4.5,11-7,13.5zM822.5,833l4.5-4.5 7.5-23.5-3.5,3.5-4,11.5zM827,828.5l4-4.5 7-22.5-3.5,3.5zM840.5,784.5l3-3 4.5-17-3,2zM793.5,915.5l2,2 .5-1 4-6.5 5-10 7-14.5 5-11-6.5,8.5-7,14zM852,774l3-2.5 3.5-7-2.5,0zM841.5,829l3.5-4 6-21.5-3,3zM852,835.5l3-3.5 6-22-3,3zM858,813l3-3 4.5-19.5-2.5,2.5zM861,810l3-2.5 4-19-2.5,2zM824,932.5l5-7.5 4-6 5.5-14 4.5-11 6.5-18.5-4.5,5-3.5,9.5-4,11-5,13-4,8zM855,850l3.5-3.5 6-23.5-3,3zM871,786.5l2.5-2 3-17-2,2zM869.5,802.5l2.5-2 4-18-2.5,2zM876,782.5l2.5-2 3-16-2.5,1zM857.5,867l3.5-4 4-13.5 3-12-3,2.5-3.5,13zM871,853l3.5-3 5-23-2.5,2.5zM874.5,850l3-2.5 5-23-3,2.5zM884,807l2.5-2 3-18-2,1.5zM870.5,874l3.5-3.5 3.5-13.5 3-12.5-3,3-3.5,12.5zM896.5,782l2.5-1.5 2.5-16-2.5,1.5zM893,816.5l2.5-1.5 3-19-2.5,2zM858.5,962.5l2.5,1.5 4.5-11.5 3-9.5 5-14.5 3.5-12-4.5,5-4,13.5-3,8-3.5,9.5-2,6-1.5,3.5zM872.5,921.5l4.5-5 5-19.5 4-16-3,3-4.5,17-2.5,9.5zM877,916.5l4-4.5 4.5-18.5 4-15.5-3.5,3-4,16zM892,854l3-2 4-22.5-2.5,2zM900,811.5l2.5-2 3-17.5-2.5,1zM907.5,775l2.5-1 2-9.5-2,0zM884.5,908l4-4 4-16.5 3-15-3,3-3.5,15zM892.5,875.5l3-3 5-25-3,2zM910,789l2-1 2-16.5-2,1zM891.5,900.5l3.5-3 3.5-15.5 2.5-14-2.5,2.5-3,14zM908,842l2.5-1.5 3-20.5-2,1.5zM916,818.5l2.5-1.5 2-18-2,1zM920.5,783l2-1 2-15.5-2,1zM882.5,983.5l1.5,.5 3.5-6.5 2.5-7 1.5-5.5 2.5-9.5 4-15 3-12.5 2.5-10.5-3.5,3.5-2.5,11.5-3.5,13-2,7.5-3,9.5-3.5,12zM900,921l3.5-3.5 3.5-18 3-15-3,2-3,16zM907,886.5l3-2 2.5-14 2-12.5-2.5,2-2,12.5zM914.5,858l2.5-1.5 3.5-22-2.5,1zM906.5,914.5l3.5-3 3-16.5 2.5-15-2.5,2-3,15zM927,850.5l2.5-1.5 2.5-21-2.5,1zM918,938l3.5-3.5 3.5-20 2.5-16.5-3,2-2.5,17-2,10zM924.5,900l3-2 2-15 1.5-13-2.5,1.5-1.5,13.5zM913,975.5l5.5,1.5 9-47.5-6,5-2.5,12.5-3,15-2,9zM937.5,891.5l4.5-2.5 3-26-4.5,2-1.5,13zM948.5,771.5l3.5-1 1-6-3.5,0zM937.5,964.5l6-5.5 1.5-13 1.5-11.5 2-19-5,2.5-2.5,20-1.5,12zM947,886.5l4.5-2 2-25-4.5,2zM953.5,913l5-2 1-15.5 1-14-4.5,1.5-1,14zM959,836.5l4.5-1 1-19-4,1zM958.5,911l4.5-2 1-15 1-14-4.5,1.5-1,14zM968,815.5l4-.5 .5-17.5-3.5,.5zM972.5,797.5l4-.5 0-16-3.5,.5zM976.5,781l4-.5 0-15.5-3.5,.5zM976,942.5l5-1 .5-20 .5-16.5-5,.5-.5,17zM977,905.5l5-.5 0-15 .5-13-4.5,.5-.5,13zM981,941.5l5-1 0-19.5 .5-16.5-4.5,.5-.5,16.5zM986.5,904.5l4.5,0 0-15 0-13-4.5,0 0,13.5zM987.5,796l3.5,0 0-16-3.5,0zM1002.5,997l5.5,0 0-3 0-6.5-.5-10.5-.5-8.5-.5-14.5-.5-12-5-1 0,12 .5,14 0,8.5 .5,10zM1002.5,814l4,.5-.5-17.5-4-.5zM1002,780.5l3.5,0-.5-15-3.5-.5zM1038,957.5l6,5-2-14-1.5-11.5-2.5-20-5-2.5 2,19 1.5,11zM1023.5,784l4,.5-1-15.5-3.5-.5zM1031,786l4,1-1-16-4-1zM1054.5,829.5l2.5,1.5-2.5-19.5-2-1zM1049,776.5l2,1-1.5-13-1.5,0zM1063.5,877l2.5,2-4-25.5-2-1.5zM1062,853.5l2.5,2-3-22-2-1.5zM1068.5,881l3,2-4.5-26-2.5-1.5zM1081,919l3.5,3.5-4-19-3.5-16-2.5-2.5 3,15.5zM1084.5,922.5l4,4-5-20-3.5-16.5-3-2.5 3.5,16zM1077,887.5l3,2.5-2.5-14.5-2.5-13-2.5-2 2,12.5zM1063.5,799l2,1.5-2-17-2-1zM1103.5,978l2.5-1-.5-2.5-2.5-7.5-2-5.5-3-9.5-2.5-8-3.5-13.5-3.5-4 3,12 4,15 3,10 2,5.5 2.5,7.5zM1064,768.5l2,1-2-5-2,0zM1100.5,941.5l5,6.5-4.5-14.5-3-12-5-20-3.5-3 4.5,18.5 3,11zM1083,868.5l3,2.5-4.5-24.5-3-2zM1072.5,804.5l2,1-2.5-17.5-2-1zM1105.5,948l6,8.5-3-9.5-2.5-7.5-4-13.5-3-11-2.5-10-3.5-3.5 5,20 3,12zM1093,901.5l3.5,3.5-4-16.5-3.5-15-3-2.5 3,14.5zM1086,871l3,2.5-5-25-2.5-2zM1108,918l4.5,5.5-3.5-11-3-10-4.5-17-3-3.5 4,16.5zM1078.5,777l2.5,1-2.5-13.5-2,0zM1095,857.5l3,2.5-5-24-2.5-2zM1093,836l2.5,2.5-4-21.5-2.5-1.5zM1123,937.5l3,4.5 1.5,2 .5-.5-9.5-26.5-3-11-3-9.5-4-4 5.5,19 4,11.5zM1129.5,947.5l4.5,7 1.5-1-12-30-4-12-3-10.5-4-4.5 3,9.5 3,11 4.5,13 3,8zM1098.5,840.5l3,2.5-5-22-2.5-2zM1120.5,906l5,6-3.5-11-3-9.5-5-16-3.5-3.5 4.5,15.5zM1136.5,926.5l7.5,11-4-9.5-3-7.5-4.5-12.5-4-11-3-9.5-4-4.5 6,19 4,11zM1120,860.5l3.5,4-3.5-14-3.5-12-3-3zM1161.5,941l2.5-2-6-9.5-5-6.5 5,10 3,7zM1153,923l5,6.5 6,9.5-3.5-7-2.5-5.5-4.5-9-5.5-14-4.5-11.5-3.5-9.5-4.5-5.5 6.5,19 5,12zM1137.5,859.5l4,4.5-5-14.5-3.5-13-3.5-3.5 3.5,12.5zM1129.5,833l3.5,3.5-6.5-23-3-2.5zM1119,791.5l2.5,2.5-4-18-2.5-2zM1129.5,816.5l3.5,3-5.5-20.5-3-2.5zM1150.5,874.5l5.5,6.5-7-18-5-15-4-4 4.5,14zM1127.5,799l2.5,2.5-4.5-19-2.5-2zM1136,823l3.5,3.5-6-22-3.5-3zM1152.5,857.5l4.5,6-5.5-16-4.5-13.5-4-4 4.5,13zM1170,860l6,8-8-18.5-5.5-15-4.5-4.5 5,14zM1144,785.5l3.5,3-5.5-18.5-3-2.5zM1193,901.5l2-2.5-1-1.5-2.5-5-4.5-8.5-3.5-7-7.5-9 5.5,11 3.5,7 4,8.5 3,5zM1150.5,792l3.5,3.5-6-20-3-2.5zM1177.5,852.5l7,8-8.5-18-6-15-4.5-5 5.5,14zM1180.5,839.5l6,7.5-7-16.5-6-14-4-5 4.5,13zM1174,775l3.5,4-6.5-14.5-3.5,0zM1208.5,814.5l8.5,9.5-5-9.5-4.5-8-6.5-14.5-5-6 5.5,13zM1196,786l5,6-5-12-4.5-11.5-4.5-4zM1217,824l5,6.5 6.5,8.5-4.5-7.5-3.5-6-5.5-10-8-16.5-6-7 6.5,14.5 4.5,8zM1225,782.5l8.5,10-8.5-16.5-6.5-11.5-6,0 5.5,4z"/>
<path fill="#1ba7ff" d="M756.5,832.5l.5,1.5 .5,1 .5,0 1.5-2 6.5-11.5 5-9.5 7.5-15.5-6.5,7.5-4.5,8.5-5,10-3.5,6-2,3.5zM754.5,862.5l2,2.5 1-2 6.5-10 4.5-7.5 3.5-6.5 5.5-10.5 4.5-8.5-7.5,9-6,11-4,6.5-5.5,9-3.5,5.5zM798,815.5l5-6 8.5-23-4,4-4.5,12zM814.5,770l3.5-3.5 5.5-2-3,0zM768.5,883.5l2,3 3.5-6.5 5.5-9.5 4-7-5.5,7-3.5,5-4.5,6zM807.5,804.5l4-4.5 7.5-21.5-3.5,4zM829,768.5l3-3 5-1-3,0zM813,843.5l5-5.5 5-13.5 4.5-12-4,4-4.5,12.5zM803,874l6.5-9 7.5-17.5 5.5-14.5-4.5,5-6.5,16-4,9zM834,791l3.5-3.5 5-18.5-3,3zM809.5,865l6-7 6.5-16 5-13.5-4.5,4.5-5.5,14.5zM821,851.5l4.5-5 5-14 4-12.5-3.5,4-4.5,13zM828,861.5l4.5-5.5 5-14.5 4-12.5-3.5,3.5-4.5,13.5zM857.5,769l2.5-2 3.5-2.5-2.5,0zM859,782l2.5-2.5 4-15-3,.5zM855,815.5l3-2.5 5-20-3,2.5zM845,880.5l4.5-5 5-15.5 4-13.5-3.5,3.5-4.5,14.5zM853.5,871l4-4 4-14 3.5-13-3.5,3.5-3.5,13zM845.5,902.5l5-6 6-18 4.5-15.5-3.5,4-5,16-3.5,9zM870.5,818l2.5-2.5 4.5-19.5-3,2zM828.5,949l1.5,1 .5,.5 1.5-2 3.5-7 2.5-5.5 4-9.5 5.5-14 4-11.5 3.5-10-4.5,5.5-4,11-5,13-3.5,8-4.5,10.5-3.5,7zM873,815.5l3-2.5 4-19-2.5,2zM880.5,844.5l2.5-2.5 4.5-21.5-2.5,2zM888.5,837.5l3-2 4-20.5-2.5,1.5zM903,793l2.5-1 2-17-2,1.5zM904,866l2.5-2.5 4-23-2.5,1.5zM892.5,929l4-4 4.5-19.5 3.5-16.5-3,2.5-4,17-2,9.5zM919.5,855l2.5-2 3-21.5-2.5,1.5zM913,909l3-2.5 2.5-16 2.5-14-2.5,1.5-2.5,14.5zM929.5,849l2-1 2.5-21-2,1zM907,987.5l3,1 11.5-54-3.5,3.5-2.5,12.5-1.5,8-2,8.5-2.5,11-2,7zM942,805.5l4-1 1-17-3.5,1zM923,982l7.5-10 1.5-9 1.5-7.5 2-13 1.5-11 1.5-10-5.5,3.5-1.5,10.5-2,12-2.5,14.5-2,9zM938.5,921.5l5-3.5 2-16.5 1.5-15-5,2.5-1.5,15zM970.5,944l5.5-1.5 .5-20 .5-17-4.5,1-.5,17zM979.5,814l4-.5 0-17-3.5,0zM987,832.5l4-.5 0-18.5-3.5,0zM1001,941l5,1-1-20-.5-17-4.5-.5 .5,17zM1010,815l4,.5-.5-17.5-4-.5zM1054,928l6,5-3-20-2.5-16.5-5-3 2,16zM1047,776l2,.5-1-12-2,0zM1053,778.5l2.5,1-2-15-2,0zM1068,785.5l2,1.5-2-16-2-1.5zM1092,855l3,2.5-4.5-23.5-3-2zM1102,793l2.5,2-3.5-17.5-2.5-2zM1119.5,841l3.5,3.5-6-23-3-3zM1126,830l3.5,3-6-22-3-2.5zM1112.5,772l2.5,2-3.5-9.5-2,0zM1143.5,799l3,3.5-5.5-20-3-2.5zM1138,780l3,2.5-4.5-17.5-3-.5zM1146.5,802.5l3.5,3.5-6-20.5-3-3zM1161.5,818l4,4.5-8-23.5-3.5-3.5zM1192.5,883.5l2-2.5-1-1.5-3.5-7-5.5-12-7-8 4.5,9.5 5.5,11.5 4,7 1,2zM1161,803l4,4-7-21.5-3.5-3.5zM1204.5,887l2.5,3 1,2 .5,0 .5-1 .5-1-23-43-6-7.5 4,8.5 4.5,10 6,12 4,7.5zM1163,764.5l3.5,3-5.5-3-3,0zM1193.5,824l6.5,8-7.5-16-6-14-4.5-5 5,12.5z"/>
<path fill="#67c4ff" d="M721,791.5l8.5-10 7-7.5 5-9 4-.5 7,0-7,0-9,3.5-6.5,10.5zM736.5,774l9.5-9.5 7,0 5.5,0-6,0-7,0-4,.5zM753,789l8-9.5 6.5-13.5 5-1.5-5.5,0-6,9zM811,774l3.5-4 6-5.5-3.5,0zM834.5,805l3.5-3.5 5.5-20-3,3zM852,818.5l3-3 5-20-3,2.5zM876,813l2.5-2 4-19-2.5,2zM880,794l2.5-2 3-17-2.5,2zM913,838.5l2.5-1.5 3-20-2.5,1.5zM930.5,972l7-7.5 2-14.5 1.5-12 2.5-20-5,3.5-1.5,10-1.5,11-2,13-1.5,7.5zM968,907.5l4.5-1 .5-15 .5-13.5-4,1-1,13.5zM995,832l4,.5-.5-19-3.5,0zM1030.5,884l4.5,2-2.5-25.5-4-1.5zM1030,770l4,1-1-6.5-3.5,0zM1038.5,788l4,1.5-1.5-16-3.5-1zM1100,977.5l3-1.5-4.5-12.5-3-10-4-15-3-12-4-4 3,11 3.5,14 2,8 3,10zM1080,890l3,2.5-3-15-2.5-13-2.5-2 2.5,13zM1086.5,850.5l3,2-4.5-22.5-2.5-1.5zM1084,812l2.5,1.5-3-18.5-2.5-1.5zM1114,818.5l3,3-4.5-20.5-3-2zM1165,807l4.5,4.5-8-22.5-3.5-3.5zM1186,788.5l5,5.5-8.5-22.5-4-4.5z"/>
<path fill="#b3e2ff" d="M830,781l3-3.5 5-13-3,0zM867,775l2.5-2 3-8.5-2.5,0zM874,953.5l5.5-8 4-14 3.5-11.5 4.5-19.5-3,3.5-2.5,9.5-3,11-4,12.5-2,7.5zM937,775.5l2-.5 1-10.5-1.5,0zM960.5,817.5l4-1 .5-17.5-3.5,.5zM1102,825.5l3,2.5-4.5-20.5-2.5-2zM1101,777.5l2.5,1.5-3-14.5-2.5,0zM1124,767.5l3,2.5-4-5.5-2.5,0z"/>
<path fill="#ffffff" d="M925,813.5l2.5-1 1.5-18-2,1zM931,778l2-.5 1.5-13-2,0zM1041.5,823.5l4.5,2-2-19-4-1.5z"/></g></g>
<path d="M233.3,768.8V1301.5M303.1,768.8V1301.5M372.8,768.8V1301.5M442.5,768.8V1301.5M512.3,768.8V1301.5M582,768.8V1301.5M651.7,768.8V1301.5M721.5,768.8V1301.5M791.2,768.8V1301.5M860.9,768.8V1301.5M930.7,768.8V1301.5M1000.4,768.8V1301.5M1070.1,768.8V1301.5M1139.9,768.8V1301.5M1209.6,768.8V1301.5M1279.3,768.8V1301.5M1349.1,768.8V1301.5M1418.8,768.8V1301.5M1488.5,768.8V1301.5M1558.3,768.8V1301.5M1628,768.8V1301.5M1697.7,768.8V1301.5M1767.5,768.8V1301.5" stroke="#fff" stroke-width="3" stroke-dasharray="3 8.03" fill="none"/>
<path d="M163.7,833.8H1836.9M163.7,900.5H1836.9M163.7,967.3H1836.9M163.7,1034H1836.9M163.7,1100.8H1836.9M163.7,1167.5H1836.9M163.7,1234.3H1836.9" stroke="#fff" stroke-width="3" stroke-dasharray="3 8.03" fill="none"/>
<rect x="998.5" y="767.4" width="3.5" height="534.1" fill="#d2441c"/>
<rect x="854.9" y="887.4" width="68.7" height="80.3" fill="none" stroke="#fff" stroke-width="3"/>
<path d="M138.4,767.4H163.3M151.2,780.8H163.3M151.2,794.1H163.3M151.2,807.5H163.3M151.2,820.8H163.3M151.2,834.2H163.3M151.2,847.5H163.3M151.2,860.9H163.3M151.2,874.2H163.3M151.2,887.6H163.3M138.4,900.9H163.3M151.2,914.3H163.3M151.2,927.6H163.3M151.2,941H163.3M151.2,954.3H163.3M151.2,967.7H163.3M151.2,981H163.3M151.2,994.4H163.3M151.2,1007.7H163.3M151.2,1021.1H163.3M138.4,1034.4H163.3M151.2,1047.8H163.3M151.2,1061.1H163.3M151.2,1074.5H163.3M151.2,1087.8H163.3M151.2,1101.2H163.3M151.2,1114.5H163.3M151.2,1127.9H163.3M151.2,1141.2H163.3M151.2,1154.6H163.3M138.4,1167.9H163.3M151.2,1181.3H163.3M151.2,1194.6H163.3M151.2,1208H163.3M151.2,1221.3H163.3M151.2,1234.7H163.3M151.2,1248H163.3M151.2,1261.4H163.3M151.2,1274.7H163.3M151.2,1288.1H163.3M138.4,1301.5H163.3M163.3,1301.5V1309M233,1301.5V1305.5M302.8,1301.5V1305.5M372.5,1301.5V1309M442.2,1301.5V1305.5M512,1301.5V1305.5M581.7,1301.5V1309M651.4,1301.5V1305.5M721.2,1301.5V1305.5M790.9,1301.5V1309M860.6,1301.5V1305.5M930.4,1301.5V1305.5M1000.1,1301.5V1309M1069.8,1301.5V1305.5M1139.6,1301.5V1305.5M1209.3,1301.5V1309M1279,1301.5V1305.5M1348.8,1301.5V1305.5M1418.5,1301.5V1309M1488.2,1301.5V1305.5M1558,1301.5V1305.5M1627.7,1301.5V1309M1697.4,1301.5V1305.5M1767.2,1301.5V1305.5M1836.9,1301.5V1309" stroke="#222" stroke-width="1.1" fill="none"/>
<text x="129.3" y="790.1" text-anchor="end">-50</text>
<text x="129.3" y="913.9" text-anchor="end">-60</text>
<text x="129.3" y="1047.4" text-anchor="end">-70</text>
<text x="129.3" y="1180.9" text-anchor="end">-80</text>
<text x="129.3" y="1301.5" text-anchor="end">-90</text>
<text x="163.6" y="1355.8" text-anchor="middle">0</text>
<text x="372.8" y="1355.8" text-anchor="middle">3</text>
<text x="582" y="1355.8" text-anchor="middle">6</text>
<text x="791.2" y="1355.8" text-anchor="middle">9</text>
<text x="1000.4" y="1355.8" text-anchor="middle">12</text>
<text x="1209.6" y="1355.8" text-anchor="middle">15</text>
<text x="1418.8" y="1355.8" text-anchor="middle">18</text>
<text x="1628" y="1355.8" text-anchor="middle">21</text>
<text x="1837.2" y="1355.8" text-anchor="middle">24</text>
<text x="1000" y="1395.5" text-anchor="middle">Local Time (hours)</text>
<text transform="translate(47.2,1033.7) rotate(-90)" text-anchor="middle" style="font-size:37.2px;letter-spacing:-0.28px">Latitude (<tspan style="font-size:28px" dx="-0.5" dy="-5.8">°</tspan><tspan dx="-1.2" dy="5.8">)</tspan></text>
<linearGradient id="cb" x1="0" y1="1" x2="0" y2="0"><stop offset="0" stop-color="#000000"/><stop offset="0.1" stop-color="#000023"/><stop offset="0.2" stop-color="#000047"/><stop offset="0.3" stop-color="#00006a"/><stop offset="0.4" stop-color="#00088e"/><stop offset="0.5" stop-color="#0031b1"/><stop offset="0.6" stop-color="#005ad4"/><stop offset="0.7" stop-color="#0084f8"/><stop offset="0.8" stop-color="#2badff"/><stop offset="0.9" stop-color="#95d6ff"/><stop offset="1" stop-color="#ffffff"/></linearGradient>
<rect x="1851.2" y="1090.6" width="37.7" height="209" fill="url(#cb)" stroke="#000" stroke-width="2"/>
<path d="M1852,1256.9h1.6M1888,1256.9h-1.6M1852,1231.9h1.6M1888,1231.9h-1.6M1852,1214.2h1.6M1888,1214.2h-1.6M1852,1200.5h1.6M1888,1200.5h-1.6M1852,1189.3h1.6M1888,1189.3h-1.6M1852,1179.8h1.6M1888,1179.8h-1.6M1852,1171.5h1.6M1888,1171.5h-1.6M1852,1164.3h1.6M1888,1164.3h-1.6M1852,1115.1h1.6M1888,1115.1h-1.6M1852,1090.1h1.6M1888,1090.1h-1.6M1852,1157.8h3.2M1888,1157.8h-3.2M1858.5,1091.5v1.8M1865.5,1091.5v1.8M1872.5,1091.5v1.8M1879.5,1091.5v1.8" stroke="#001" stroke-width="1.2" fill="none"/>
<text x="1837.8" y="1078.2" style="font-size:29.6px">kR H<tspan style="font-size:12.5px" dy="3.9">2</tspan></text>
<text x="1897.6" y="1168.7" style="font-size:30.5px">10</text>
<text x="1897.6" y="1299.9" style="font-size:30.5px">1</text>
</svg></body></html>
